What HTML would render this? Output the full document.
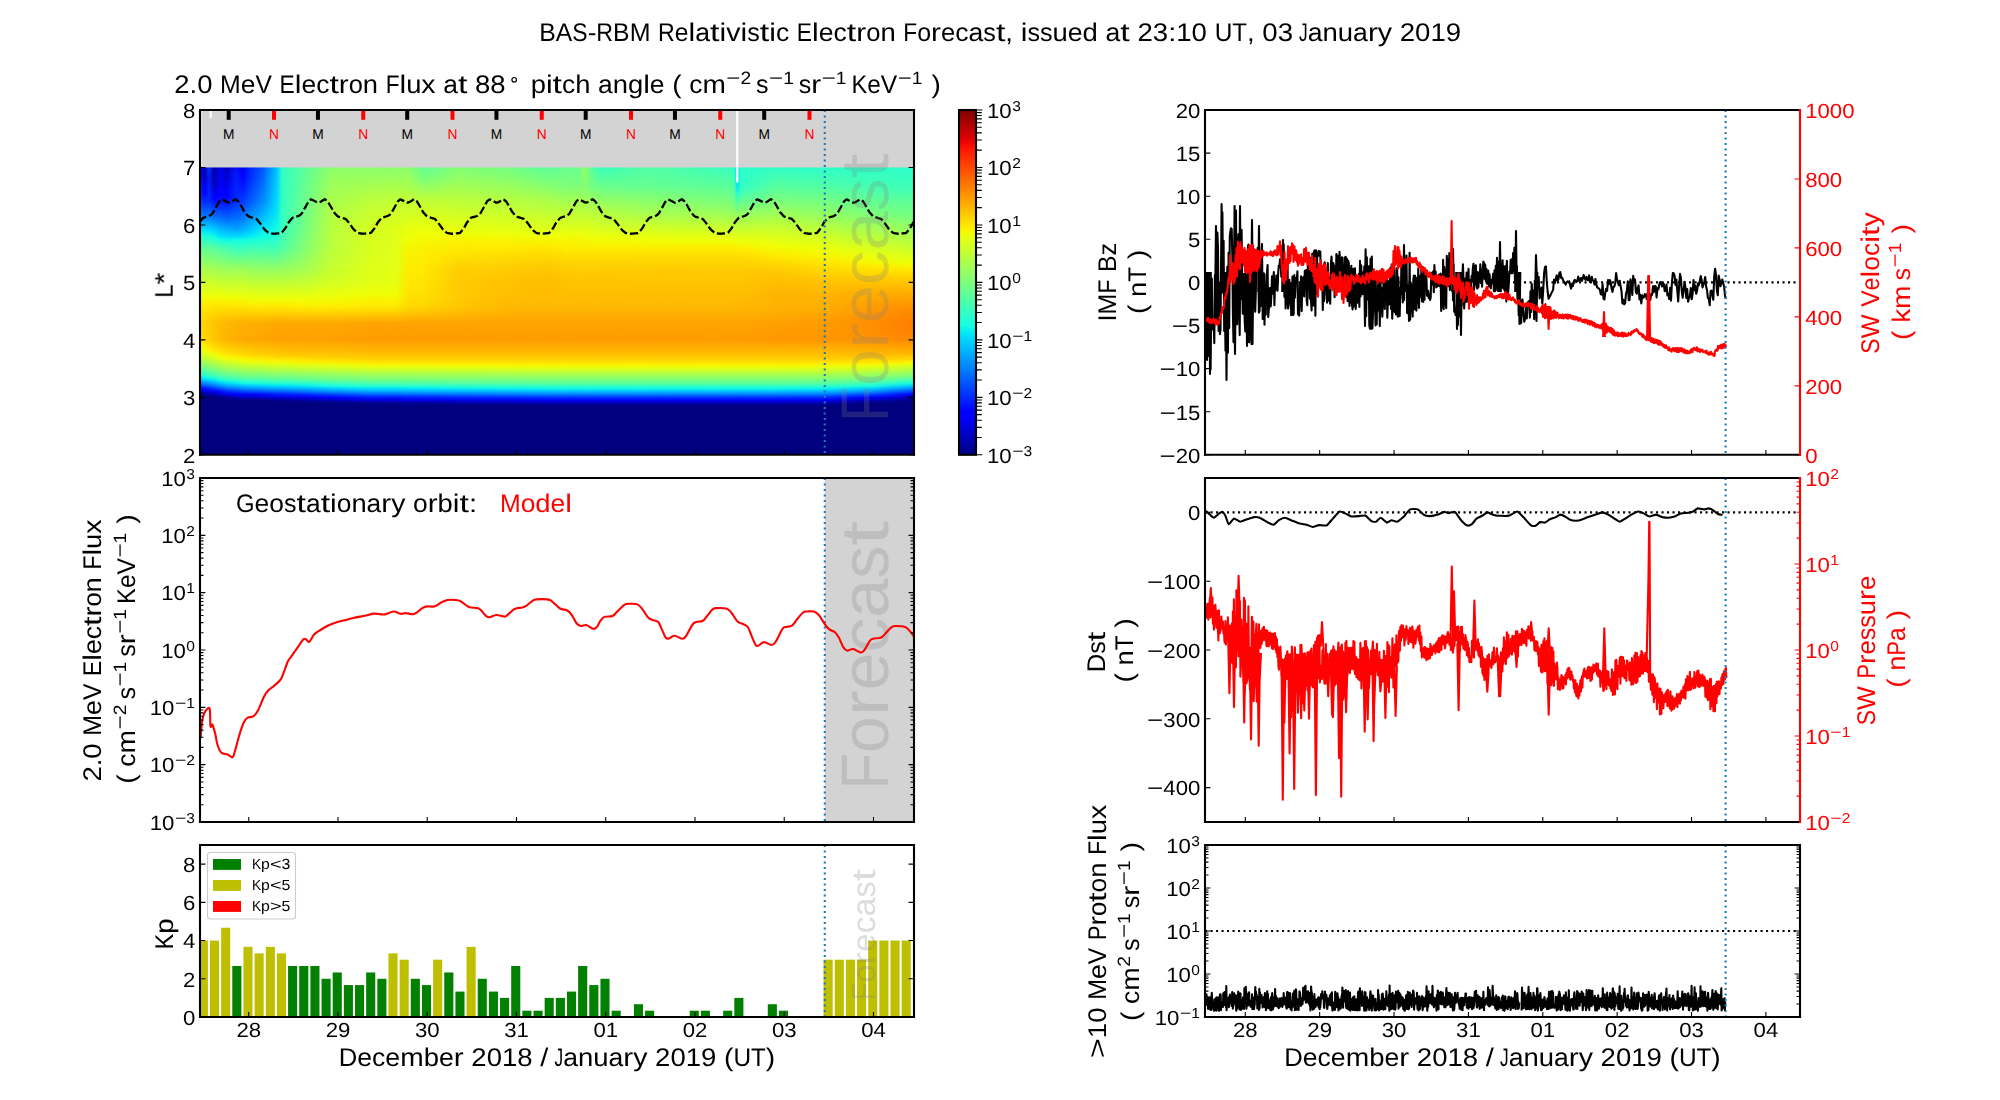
<!DOCTYPE html>
<html><head><meta charset="utf-8"><title>BAS-RBM Relativistic Electron Forecast</title>
<style>html,body{margin:0;padding:0;background:#fff}svg{display:block}text{font-family:"Liberation Sans",sans-serif;text-rendering:geometricPrecision;white-space:pre}</style></head>
<body>
<svg width="2000" height="1100" viewBox="0 0 2000 1100">
<rect width="2000" height="1100" fill="#fff"/>
<defs>
<clipPath id="cp1"><rect x="200.0" y="110.0" width="714.0" height="344.8"/></clipPath>
<clipPath id="cpH"><rect x="200.0" y="163.47" width="714.0" height="291.33"/></clipPath>
<linearGradient id="hg0" gradientUnits="userSpaceOnUse" x1="0" y1="167.47" x2="0" y2="454.80"><stop offset="0.0000" stop-color="#0000ff"/><stop offset="0.0100" stop-color="#0000ff"/><stop offset="0.0200" stop-color="#0000ff"/><stop offset="0.0300" stop-color="#0001ff"/><stop offset="0.0400" stop-color="#0008ff"/><stop offset="0.0500" stop-color="#000eff"/><stop offset="0.0600" stop-color="#0014ff"/><stop offset="0.0700" stop-color="#001bff"/><stop offset="0.0800" stop-color="#0021ff"/><stop offset="0.0900" stop-color="#0028ff"/><stop offset="0.1000" stop-color="#002eff"/><stop offset="0.1100" stop-color="#0034ff"/><stop offset="0.1200" stop-color="#003eff"/><stop offset="0.1300" stop-color="#004cff"/><stop offset="0.1400" stop-color="#005aff"/><stop offset="0.1500" stop-color="#0068ff"/><stop offset="0.1600" stop-color="#0076ff"/><stop offset="0.1700" stop-color="#0084ff"/><stop offset="0.1800" stop-color="#0097ff"/><stop offset="0.1900" stop-color="#00acff"/><stop offset="0.2000" stop-color="#00c2ff"/><stop offset="0.2100" stop-color="#00d7ff"/><stop offset="0.2200" stop-color="#04eaf3"/><stop offset="0.2300" stop-color="#12fce5"/><stop offset="0.2400" stop-color="#21ffd6"/><stop offset="0.2500" stop-color="#31ffc6"/><stop offset="0.2600" stop-color="#40ffb7"/><stop offset="0.2700" stop-color="#50ffa7"/><stop offset="0.2800" stop-color="#60ff97"/><stop offset="0.2900" stop-color="#6aff8c"/><stop offset="0.3000" stop-color="#74ff83"/><stop offset="0.3100" stop-color="#7eff79"/><stop offset="0.3200" stop-color="#88ff6f"/><stop offset="0.3300" stop-color="#91ff65"/><stop offset="0.3400" stop-color="#9bff5c"/><stop offset="0.3500" stop-color="#a5ff52"/><stop offset="0.3600" stop-color="#adff4a"/><stop offset="0.3700" stop-color="#b5ff42"/><stop offset="0.3800" stop-color="#bdff3a"/><stop offset="0.3900" stop-color="#c4ff32"/><stop offset="0.4000" stop-color="#ccff2b"/><stop offset="0.4100" stop-color="#d3ff23"/><stop offset="0.4200" stop-color="#dbff1c"/><stop offset="0.4300" stop-color="#e2ff15"/><stop offset="0.4400" stop-color="#e9ff0e"/><stop offset="0.4500" stop-color="#f0fe07"/><stop offset="0.4600" stop-color="#f5f802"/><stop offset="0.4700" stop-color="#faf100"/><stop offset="0.4800" stop-color="#ffeb00"/><stop offset="0.4900" stop-color="#ffe600"/><stop offset="0.5000" stop-color="#ffe200"/><stop offset="0.5100" stop-color="#ffdf00"/><stop offset="0.5200" stop-color="#ffdb00"/><stop offset="0.5300" stop-color="#ffd800"/><stop offset="0.5400" stop-color="#ffd500"/><stop offset="0.5500" stop-color="#ffd600"/><stop offset="0.5600" stop-color="#ffd800"/><stop offset="0.5700" stop-color="#ffd900"/><stop offset="0.5800" stop-color="#ffdb00"/><stop offset="0.5900" stop-color="#ffdc00"/><stop offset="0.6000" stop-color="#ffde00"/><stop offset="0.6100" stop-color="#ffeb00"/><stop offset="0.6200" stop-color="#f5f802"/><stop offset="0.6300" stop-color="#e9ff0d"/><stop offset="0.6400" stop-color="#deff19"/><stop offset="0.6500" stop-color="#d0ff27"/><stop offset="0.6600" stop-color="#beff39"/><stop offset="0.6700" stop-color="#a7ff50"/><stop offset="0.6800" stop-color="#90ff67"/><stop offset="0.6900" stop-color="#79ff7e"/><stop offset="0.7000" stop-color="#62ff95"/><stop offset="0.7100" stop-color="#4affac"/><stop offset="0.7200" stop-color="#29ffce"/><stop offset="0.7300" stop-color="#05ebf2"/><stop offset="0.7400" stop-color="#00b7ff"/><stop offset="0.7500" stop-color="#0081ff"/><stop offset="0.7600" stop-color="#0041ff"/><stop offset="0.7700" stop-color="#0000ff"/><stop offset="0.7800" stop-color="#0000c7"/><stop offset="0.7900" stop-color="#000080"/><stop offset="0.8000" stop-color="#000080"/><stop offset="0.8100" stop-color="#000080"/><stop offset="0.8200" stop-color="#000080"/><stop offset="0.8300" stop-color="#000080"/><stop offset="0.8400" stop-color="#000080"/><stop offset="0.8500" stop-color="#000080"/><stop offset="0.8600" stop-color="#000080"/><stop offset="0.8700" stop-color="#000080"/><stop offset="1.0000" stop-color="#000080"/></linearGradient>
<linearGradient id="hg1" gradientUnits="userSpaceOnUse" x1="0" y1="167.47" x2="0" y2="454.80"><stop offset="0.0000" stop-color="#0000ae"/><stop offset="0.0100" stop-color="#0000b4"/><stop offset="0.0200" stop-color="#0000b9"/><stop offset="0.0300" stop-color="#0000bf"/><stop offset="0.0400" stop-color="#0000c5"/><stop offset="0.0500" stop-color="#0000d4"/><stop offset="0.0600" stop-color="#0000e4"/><stop offset="0.0700" stop-color="#0000f3"/><stop offset="0.0800" stop-color="#0000ff"/><stop offset="0.0900" stop-color="#0001ff"/><stop offset="0.1000" stop-color="#000eff"/><stop offset="0.1100" stop-color="#001cff"/><stop offset="0.1200" stop-color="#002aff"/><stop offset="0.1300" stop-color="#003aff"/><stop offset="0.1400" stop-color="#004aff"/><stop offset="0.1500" stop-color="#005aff"/><stop offset="0.1600" stop-color="#0069ff"/><stop offset="0.1700" stop-color="#0079ff"/><stop offset="0.1800" stop-color="#008cff"/><stop offset="0.1900" stop-color="#00a2ff"/><stop offset="0.2000" stop-color="#00b7ff"/><stop offset="0.2100" stop-color="#00cdff"/><stop offset="0.2200" stop-color="#00e0fb"/><stop offset="0.2300" stop-color="#0af2ed"/><stop offset="0.2400" stop-color="#19ffde"/><stop offset="0.2500" stop-color="#2affcc"/><stop offset="0.2600" stop-color="#3cffbb"/><stop offset="0.2700" stop-color="#4effa9"/><stop offset="0.2800" stop-color="#5fff98"/><stop offset="0.2900" stop-color="#6aff8c"/><stop offset="0.3000" stop-color="#74ff83"/><stop offset="0.3100" stop-color="#7eff79"/><stop offset="0.3200" stop-color="#88ff6f"/><stop offset="0.3300" stop-color="#91ff65"/><stop offset="0.3400" stop-color="#9bff5c"/><stop offset="0.3500" stop-color="#a5ff52"/><stop offset="0.3600" stop-color="#adff4a"/><stop offset="0.3700" stop-color="#b5ff42"/><stop offset="0.3800" stop-color="#bdff3a"/><stop offset="0.3900" stop-color="#c4ff32"/><stop offset="0.4000" stop-color="#ccff2b"/><stop offset="0.4100" stop-color="#d3ff23"/><stop offset="0.4200" stop-color="#dbff1c"/><stop offset="0.4300" stop-color="#e2ff15"/><stop offset="0.4400" stop-color="#e9ff0e"/><stop offset="0.4500" stop-color="#f0fe07"/><stop offset="0.4600" stop-color="#f6f701"/><stop offset="0.4700" stop-color="#fbf000"/><stop offset="0.4800" stop-color="#ffea00"/><stop offset="0.4900" stop-color="#ffe400"/><stop offset="0.5000" stop-color="#ffe000"/><stop offset="0.5100" stop-color="#ffdc00"/><stop offset="0.5200" stop-color="#ffd800"/><stop offset="0.5300" stop-color="#ffd400"/><stop offset="0.5400" stop-color="#ffd000"/><stop offset="0.5500" stop-color="#ffd100"/><stop offset="0.5600" stop-color="#ffd200"/><stop offset="0.5700" stop-color="#ffd300"/><stop offset="0.5800" stop-color="#ffd400"/><stop offset="0.5900" stop-color="#ffd500"/><stop offset="0.6000" stop-color="#ffd600"/><stop offset="0.6100" stop-color="#ffe200"/><stop offset="0.6200" stop-color="#feed00"/><stop offset="0.6300" stop-color="#f4f802"/><stop offset="0.6400" stop-color="#eaff0c"/><stop offset="0.6500" stop-color="#dcff1b"/><stop offset="0.6600" stop-color="#ccff2b"/><stop offset="0.6700" stop-color="#b4ff43"/><stop offset="0.6800" stop-color="#9cff5a"/><stop offset="0.6900" stop-color="#85ff72"/><stop offset="0.7000" stop-color="#6dff89"/><stop offset="0.7100" stop-color="#56ffa1"/><stop offset="0.7200" stop-color="#36ffc0"/><stop offset="0.7300" stop-color="#12fbe5"/><stop offset="0.7400" stop-color="#00c8ff"/><stop offset="0.7500" stop-color="#0091ff"/><stop offset="0.7600" stop-color="#0052ff"/><stop offset="0.7700" stop-color="#000fff"/><stop offset="0.7800" stop-color="#0000d7"/><stop offset="0.7900" stop-color="#00008e"/><stop offset="0.8000" stop-color="#000080"/><stop offset="0.8100" stop-color="#000080"/><stop offset="0.8200" stop-color="#000080"/><stop offset="0.8300" stop-color="#000080"/><stop offset="0.8400" stop-color="#000080"/><stop offset="0.8500" stop-color="#000080"/><stop offset="0.8600" stop-color="#000080"/><stop offset="0.8700" stop-color="#000080"/><stop offset="1.0000" stop-color="#000080"/></linearGradient>
<linearGradient id="mg1" gradientUnits="userSpaceOnUse" x1="200" y1="0" x2="205" y2="0"><stop offset="0" stop-color="#000"/><stop offset="1" stop-color="#fff"/></linearGradient>
<mask id="mk1" maskUnits="userSpaceOnUse" x="200" y="161.47" width="718.0" height="297.33"><rect x="200" y="161.47" width="718.0" height="297.33" fill="url(#mg1)"/></mask>
<linearGradient id="hg2" gradientUnits="userSpaceOnUse" x1="0" y1="167.47" x2="0" y2="454.80"><stop offset="0.0000" stop-color="#002eff"/><stop offset="0.0100" stop-color="#0029ff"/><stop offset="0.0200" stop-color="#0024ff"/><stop offset="0.0300" stop-color="#001fff"/><stop offset="0.0400" stop-color="#001aff"/><stop offset="0.0500" stop-color="#001cff"/><stop offset="0.0600" stop-color="#001fff"/><stop offset="0.0700" stop-color="#0022ff"/><stop offset="0.0800" stop-color="#0024ff"/><stop offset="0.0900" stop-color="#0027ff"/><stop offset="0.1000" stop-color="#002aff"/><stop offset="0.1100" stop-color="#002cff"/><stop offset="0.1200" stop-color="#0034ff"/><stop offset="0.1300" stop-color="#0042ff"/><stop offset="0.1400" stop-color="#0050ff"/><stop offset="0.1500" stop-color="#005eff"/><stop offset="0.1600" stop-color="#006cff"/><stop offset="0.1700" stop-color="#007aff"/><stop offset="0.1800" stop-color="#008cff"/><stop offset="0.1900" stop-color="#00a2ff"/><stop offset="0.2000" stop-color="#00b7ff"/><stop offset="0.2100" stop-color="#00cdff"/><stop offset="0.2200" stop-color="#00e0fb"/><stop offset="0.2300" stop-color="#0af2ed"/><stop offset="0.2400" stop-color="#19ffde"/><stop offset="0.2500" stop-color="#29ffcd"/><stop offset="0.2600" stop-color="#3affbd"/><stop offset="0.2700" stop-color="#4bffac"/><stop offset="0.2800" stop-color="#5bff9c"/><stop offset="0.2900" stop-color="#67ff90"/><stop offset="0.3000" stop-color="#71ff86"/><stop offset="0.3100" stop-color="#7bff7b"/><stop offset="0.3200" stop-color="#86ff71"/><stop offset="0.3300" stop-color="#90ff67"/><stop offset="0.3400" stop-color="#9aff5d"/><stop offset="0.3500" stop-color="#a5ff52"/><stop offset="0.3600" stop-color="#adff4a"/><stop offset="0.3700" stop-color="#b5ff42"/><stop offset="0.3800" stop-color="#bdff3a"/><stop offset="0.3900" stop-color="#c4ff32"/><stop offset="0.4000" stop-color="#ccff2b"/><stop offset="0.4100" stop-color="#d3ff23"/><stop offset="0.4200" stop-color="#dbff1c"/><stop offset="0.4300" stop-color="#e2ff15"/><stop offset="0.4400" stop-color="#e9ff0e"/><stop offset="0.4500" stop-color="#f0fe07"/><stop offset="0.4600" stop-color="#f6f701"/><stop offset="0.4700" stop-color="#fcf000"/><stop offset="0.4800" stop-color="#ffe900"/><stop offset="0.4900" stop-color="#ffe300"/><stop offset="0.5000" stop-color="#ffde00"/><stop offset="0.5100" stop-color="#ffd900"/><stop offset="0.5200" stop-color="#ffd500"/><stop offset="0.5300" stop-color="#ffd000"/><stop offset="0.5400" stop-color="#ffcb00"/><stop offset="0.5500" stop-color="#ffcc00"/><stop offset="0.5600" stop-color="#ffcd00"/><stop offset="0.5700" stop-color="#ffcd00"/><stop offset="0.5800" stop-color="#ffce00"/><stop offset="0.5900" stop-color="#ffcf00"/><stop offset="0.6000" stop-color="#ffd000"/><stop offset="0.6100" stop-color="#ffda00"/><stop offset="0.6200" stop-color="#ffe500"/><stop offset="0.6300" stop-color="#fcf000"/><stop offset="0.6400" stop-color="#f3fa04"/><stop offset="0.6500" stop-color="#e4ff13"/><stop offset="0.6600" stop-color="#d5ff21"/><stop offset="0.6700" stop-color="#beff39"/><stop offset="0.6800" stop-color="#a6ff51"/><stop offset="0.6900" stop-color="#8eff69"/><stop offset="0.7000" stop-color="#76ff81"/><stop offset="0.7100" stop-color="#5eff98"/><stop offset="0.7200" stop-color="#41ffb5"/><stop offset="0.7300" stop-color="#1cffdb"/><stop offset="0.7400" stop-color="#00d6ff"/><stop offset="0.7500" stop-color="#009eff"/><stop offset="0.7600" stop-color="#0062ff"/><stop offset="0.7700" stop-color="#001eff"/><stop offset="0.7800" stop-color="#0000e6"/><stop offset="0.7900" stop-color="#00009d"/><stop offset="0.8000" stop-color="#000080"/><stop offset="0.8100" stop-color="#000080"/><stop offset="0.8200" stop-color="#000080"/><stop offset="0.8300" stop-color="#000080"/><stop offset="0.8400" stop-color="#000080"/><stop offset="0.8500" stop-color="#000080"/><stop offset="0.8600" stop-color="#000080"/><stop offset="0.8700" stop-color="#000080"/><stop offset="1.0000" stop-color="#000080"/></linearGradient>
<linearGradient id="mg2" gradientUnits="userSpaceOnUse" x1="205" y1="0" x2="209" y2="0"><stop offset="0" stop-color="#000"/><stop offset="1" stop-color="#fff"/></linearGradient>
<mask id="mk2" maskUnits="userSpaceOnUse" x="205" y="161.47" width="713.0" height="297.33"><rect x="205" y="161.47" width="713.0" height="297.33" fill="url(#mg2)"/></mask>
<linearGradient id="hg3" gradientUnits="userSpaceOnUse" x1="0" y1="167.47" x2="0" y2="454.80"><stop offset="0.0000" stop-color="#000097"/><stop offset="0.0100" stop-color="#00009c"/><stop offset="0.0200" stop-color="#0000a2"/><stop offset="0.0300" stop-color="#0000a8"/><stop offset="0.0400" stop-color="#0000ae"/><stop offset="0.0500" stop-color="#0000b4"/><stop offset="0.0600" stop-color="#0000b9"/><stop offset="0.0700" stop-color="#0000cc"/><stop offset="0.0800" stop-color="#0000df"/><stop offset="0.0900" stop-color="#0000f1"/><stop offset="0.1000" stop-color="#0000ff"/><stop offset="0.1100" stop-color="#0005ff"/><stop offset="0.1200" stop-color="#0016ff"/><stop offset="0.1300" stop-color="#0028ff"/><stop offset="0.1400" stop-color="#003aff"/><stop offset="0.1500" stop-color="#004bff"/><stop offset="0.1600" stop-color="#005dff"/><stop offset="0.1700" stop-color="#006eff"/><stop offset="0.1800" stop-color="#0082ff"/><stop offset="0.1900" stop-color="#0098ff"/><stop offset="0.2000" stop-color="#00adff"/><stop offset="0.2100" stop-color="#00c3ff"/><stop offset="0.2200" stop-color="#00d5ff"/><stop offset="0.2300" stop-color="#02e8f5"/><stop offset="0.2400" stop-color="#10fae6"/><stop offset="0.2500" stop-color="#22ffd5"/><stop offset="0.2600" stop-color="#34ffc3"/><stop offset="0.2700" stop-color="#45ffb1"/><stop offset="0.2800" stop-color="#57ffa0"/><stop offset="0.2900" stop-color="#63ff94"/><stop offset="0.3000" stop-color="#6dff8a"/><stop offset="0.3100" stop-color="#77ff80"/><stop offset="0.3200" stop-color="#82ff75"/><stop offset="0.3300" stop-color="#8cff6b"/><stop offset="0.3400" stop-color="#96ff61"/><stop offset="0.3500" stop-color="#a0ff56"/><stop offset="0.3600" stop-color="#aaff4d"/><stop offset="0.3700" stop-color="#b2ff45"/><stop offset="0.3800" stop-color="#bbff3c"/><stop offset="0.3900" stop-color="#c3ff33"/><stop offset="0.4000" stop-color="#ccff2b"/><stop offset="0.4100" stop-color="#d3ff23"/><stop offset="0.4200" stop-color="#dbff1c"/><stop offset="0.4300" stop-color="#e2ff15"/><stop offset="0.4400" stop-color="#e9ff0e"/><stop offset="0.4500" stop-color="#f0fe07"/><stop offset="0.4600" stop-color="#f6f600"/><stop offset="0.4700" stop-color="#fdef00"/><stop offset="0.4800" stop-color="#ffe700"/><stop offset="0.4900" stop-color="#ffe100"/><stop offset="0.5000" stop-color="#ffdb00"/><stop offset="0.5100" stop-color="#ffd600"/><stop offset="0.5200" stop-color="#ffd100"/><stop offset="0.5300" stop-color="#ffcc00"/><stop offset="0.5400" stop-color="#ffc600"/><stop offset="0.5500" stop-color="#ffc600"/><stop offset="0.5600" stop-color="#ffc600"/><stop offset="0.5700" stop-color="#ffc600"/><stop offset="0.5800" stop-color="#ffc600"/><stop offset="0.5900" stop-color="#ffc600"/><stop offset="0.6000" stop-color="#ffc600"/><stop offset="0.6100" stop-color="#ffd000"/><stop offset="0.6200" stop-color="#ffd900"/><stop offset="0.6300" stop-color="#ffe300"/><stop offset="0.6400" stop-color="#ffec00"/><stop offset="0.6500" stop-color="#f0fd07"/><stop offset="0.6600" stop-color="#e1ff16"/><stop offset="0.6700" stop-color="#cbff2c"/><stop offset="0.6800" stop-color="#b3ff44"/><stop offset="0.6900" stop-color="#9aff5c"/><stop offset="0.7000" stop-color="#82ff75"/><stop offset="0.7100" stop-color="#6aff8d"/><stop offset="0.7200" stop-color="#4fffa8"/><stop offset="0.7300" stop-color="#29ffce"/><stop offset="0.7400" stop-color="#02e8f5"/><stop offset="0.7500" stop-color="#00afff"/><stop offset="0.7600" stop-color="#0074ff"/><stop offset="0.7700" stop-color="#002eff"/><stop offset="0.7800" stop-color="#0000f7"/><stop offset="0.7900" stop-color="#0000ac"/><stop offset="0.8000" stop-color="#000080"/><stop offset="0.8100" stop-color="#000080"/><stop offset="0.8200" stop-color="#000080"/><stop offset="0.8300" stop-color="#000080"/><stop offset="0.8400" stop-color="#000080"/><stop offset="0.8500" stop-color="#000080"/><stop offset="0.8600" stop-color="#000080"/><stop offset="0.8700" stop-color="#000080"/><stop offset="1.0000" stop-color="#000080"/></linearGradient>
<linearGradient id="mg3" gradientUnits="userSpaceOnUse" x1="209" y1="0" x2="214" y2="0"><stop offset="0" stop-color="#000"/><stop offset="1" stop-color="#fff"/></linearGradient>
<mask id="mk3" maskUnits="userSpaceOnUse" x="209" y="161.47" width="709.0" height="297.33"><rect x="209" y="161.47" width="709.0" height="297.33" fill="url(#mg3)"/></mask>
<linearGradient id="hg4" gradientUnits="userSpaceOnUse" x1="0" y1="167.47" x2="0" y2="454.80"><stop offset="0.0000" stop-color="#0000f3"/><stop offset="0.0100" stop-color="#0000f3"/><stop offset="0.0200" stop-color="#0000f3"/><stop offset="0.0300" stop-color="#0000f3"/><stop offset="0.0400" stop-color="#0000f3"/><stop offset="0.0500" stop-color="#0000f3"/><stop offset="0.0600" stop-color="#0000f3"/><stop offset="0.0700" stop-color="#0000fc"/><stop offset="0.0800" stop-color="#0000ff"/><stop offset="0.0900" stop-color="#0000ff"/><stop offset="0.1000" stop-color="#0004ff"/><stop offset="0.1100" stop-color="#000bff"/><stop offset="0.1200" stop-color="#0016ff"/><stop offset="0.1300" stop-color="#0025ff"/><stop offset="0.1400" stop-color="#0035ff"/><stop offset="0.1500" stop-color="#0045ff"/><stop offset="0.1600" stop-color="#0055ff"/><stop offset="0.1700" stop-color="#0065ff"/><stop offset="0.1800" stop-color="#0076ff"/><stop offset="0.1900" stop-color="#0089ff"/><stop offset="0.2000" stop-color="#009cff"/><stop offset="0.2100" stop-color="#00afff"/><stop offset="0.2200" stop-color="#00c1ff"/><stop offset="0.2300" stop-color="#00d3ff"/><stop offset="0.2400" stop-color="#00e5f7"/><stop offset="0.2500" stop-color="#14fee3"/><stop offset="0.2600" stop-color="#27ffd0"/><stop offset="0.2700" stop-color="#3bffbc"/><stop offset="0.2800" stop-color="#4effa8"/><stop offset="0.2900" stop-color="#5bff9c"/><stop offset="0.3000" stop-color="#66ff91"/><stop offset="0.3100" stop-color="#71ff86"/><stop offset="0.3200" stop-color="#7cff7b"/><stop offset="0.3300" stop-color="#86ff70"/><stop offset="0.3400" stop-color="#91ff66"/><stop offset="0.3500" stop-color="#9cff5b"/><stop offset="0.3600" stop-color="#a6ff51"/><stop offset="0.3700" stop-color="#aeff49"/><stop offset="0.3800" stop-color="#b7ff40"/><stop offset="0.3900" stop-color="#bfff38"/><stop offset="0.4000" stop-color="#c8ff2f"/><stop offset="0.4100" stop-color="#d0ff27"/><stop offset="0.4200" stop-color="#d8ff1f"/><stop offset="0.4300" stop-color="#e0ff17"/><stop offset="0.4400" stop-color="#e8ff0f"/><stop offset="0.4500" stop-color="#f0fe07"/><stop offset="0.4600" stop-color="#f6f600"/><stop offset="0.4700" stop-color="#fdef00"/><stop offset="0.4800" stop-color="#ffe700"/><stop offset="0.4900" stop-color="#ffe000"/><stop offset="0.5000" stop-color="#ffd900"/><stop offset="0.5100" stop-color="#ffd200"/><stop offset="0.5200" stop-color="#ffcb00"/><stop offset="0.5300" stop-color="#ffc400"/><stop offset="0.5400" stop-color="#ffbd00"/><stop offset="0.5500" stop-color="#ffbd00"/><stop offset="0.5600" stop-color="#ffbd00"/><stop offset="0.5700" stop-color="#ffbd00"/><stop offset="0.5800" stop-color="#ffbd00"/><stop offset="0.5900" stop-color="#ffbd00"/><stop offset="0.6000" stop-color="#ffbd00"/><stop offset="0.6100" stop-color="#ffc600"/><stop offset="0.6200" stop-color="#ffd000"/><stop offset="0.6300" stop-color="#ffd900"/><stop offset="0.6400" stop-color="#ffe300"/><stop offset="0.6500" stop-color="#faf200"/><stop offset="0.6600" stop-color="#ebff0c"/><stop offset="0.6700" stop-color="#d8ff1f"/><stop offset="0.6800" stop-color="#c0ff37"/><stop offset="0.6900" stop-color="#a7ff50"/><stop offset="0.7000" stop-color="#8fff68"/><stop offset="0.7100" stop-color="#76ff80"/><stop offset="0.7200" stop-color="#5eff99"/><stop offset="0.7300" stop-color="#3bffbc"/><stop offset="0.7400" stop-color="#15ffe2"/><stop offset="0.7500" stop-color="#00c8ff"/><stop offset="0.7600" stop-color="#008fff"/><stop offset="0.7700" stop-color="#004bff"/><stop offset="0.7800" stop-color="#0006ff"/><stop offset="0.7900" stop-color="#0000cb"/><stop offset="0.8000" stop-color="#000080"/><stop offset="0.8100" stop-color="#000080"/><stop offset="0.8200" stop-color="#000080"/><stop offset="0.8300" stop-color="#000080"/><stop offset="0.8400" stop-color="#000080"/><stop offset="0.8500" stop-color="#000080"/><stop offset="0.8600" stop-color="#000080"/><stop offset="0.8700" stop-color="#000080"/><stop offset="1.0000" stop-color="#000080"/></linearGradient>
<linearGradient id="mg4" gradientUnits="userSpaceOnUse" x1="214" y1="0" x2="220" y2="0"><stop offset="0" stop-color="#000"/><stop offset="1" stop-color="#fff"/></linearGradient>
<mask id="mk4" maskUnits="userSpaceOnUse" x="214" y="161.47" width="704.0" height="297.33"><rect x="214" y="161.47" width="704.0" height="297.33" fill="url(#mg4)"/></mask>
<linearGradient id="hg5" gradientUnits="userSpaceOnUse" x1="0" y1="167.47" x2="0" y2="454.80"><stop offset="0.0000" stop-color="#0000b9"/><stop offset="0.0100" stop-color="#0000c1"/><stop offset="0.0200" stop-color="#0000c9"/><stop offset="0.0300" stop-color="#0000d1"/><stop offset="0.0400" stop-color="#0000d8"/><stop offset="0.0500" stop-color="#0000e0"/><stop offset="0.0600" stop-color="#0000e8"/><stop offset="0.0700" stop-color="#0000f2"/><stop offset="0.0800" stop-color="#0000fd"/><stop offset="0.0900" stop-color="#0000ff"/><stop offset="0.1000" stop-color="#0001ff"/><stop offset="0.1100" stop-color="#000aff"/><stop offset="0.1200" stop-color="#0015ff"/><stop offset="0.1300" stop-color="#0023ff"/><stop offset="0.1400" stop-color="#0031ff"/><stop offset="0.1500" stop-color="#003fff"/><stop offset="0.1600" stop-color="#004dff"/><stop offset="0.1700" stop-color="#005bff"/><stop offset="0.1800" stop-color="#006cff"/><stop offset="0.1900" stop-color="#007fff"/><stop offset="0.2000" stop-color="#0092ff"/><stop offset="0.2100" stop-color="#00a5ff"/><stop offset="0.2200" stop-color="#00b7ff"/><stop offset="0.2300" stop-color="#00c9ff"/><stop offset="0.2400" stop-color="#00dbff"/><stop offset="0.2500" stop-color="#0bf4eb"/><stop offset="0.2600" stop-color="#1fffd8"/><stop offset="0.2700" stop-color="#33ffc4"/><stop offset="0.2800" stop-color="#46ffb1"/><stop offset="0.2900" stop-color="#53ffa4"/><stop offset="0.3000" stop-color="#5fff98"/><stop offset="0.3100" stop-color="#6aff8d"/><stop offset="0.3200" stop-color="#75ff81"/><stop offset="0.3300" stop-color="#81ff76"/><stop offset="0.3400" stop-color="#8cff6a"/><stop offset="0.3500" stop-color="#98ff5f"/><stop offset="0.3600" stop-color="#a1ff55"/><stop offset="0.3700" stop-color="#aaff4d"/><stop offset="0.3800" stop-color="#b3ff44"/><stop offset="0.3900" stop-color="#bbff3c"/><stop offset="0.4000" stop-color="#c4ff33"/><stop offset="0.4100" stop-color="#ccff2b"/><stop offset="0.4200" stop-color="#d5ff22"/><stop offset="0.4300" stop-color="#ddff1a"/><stop offset="0.4400" stop-color="#e5ff11"/><stop offset="0.4500" stop-color="#eeff09"/><stop offset="0.4600" stop-color="#f5f802"/><stop offset="0.4700" stop-color="#fcf000"/><stop offset="0.4800" stop-color="#ffe800"/><stop offset="0.4900" stop-color="#ffe000"/><stop offset="0.5000" stop-color="#ffd800"/><stop offset="0.5100" stop-color="#ffd000"/><stop offset="0.5200" stop-color="#ffc800"/><stop offset="0.5300" stop-color="#ffc000"/><stop offset="0.5400" stop-color="#ffb800"/><stop offset="0.5500" stop-color="#ffb700"/><stop offset="0.5600" stop-color="#ffb700"/><stop offset="0.5700" stop-color="#ffb600"/><stop offset="0.5800" stop-color="#ffb500"/><stop offset="0.5900" stop-color="#ffb400"/><stop offset="0.6000" stop-color="#ffb300"/><stop offset="0.6100" stop-color="#ffbd00"/><stop offset="0.6200" stop-color="#ffc600"/><stop offset="0.6300" stop-color="#ffd000"/><stop offset="0.6400" stop-color="#ffd900"/><stop offset="0.6500" stop-color="#ffe500"/><stop offset="0.6600" stop-color="#f6f701"/><stop offset="0.6700" stop-color="#e7ff10"/><stop offset="0.6800" stop-color="#ceff29"/><stop offset="0.6900" stop-color="#b5ff41"/><stop offset="0.7000" stop-color="#9dff5a"/><stop offset="0.7100" stop-color="#84ff73"/><stop offset="0.7200" stop-color="#6cff8b"/><stop offset="0.7300" stop-color="#4effa9"/><stop offset="0.7400" stop-color="#27ffd0"/><stop offset="0.7500" stop-color="#00e2f9"/><stop offset="0.7600" stop-color="#00a8ff"/><stop offset="0.7700" stop-color="#006aff"/><stop offset="0.7800" stop-color="#0023ff"/><stop offset="0.7900" stop-color="#0000ea"/><stop offset="0.8000" stop-color="#00009e"/><stop offset="0.8100" stop-color="#000080"/><stop offset="0.8200" stop-color="#000080"/><stop offset="0.8300" stop-color="#000080"/><stop offset="0.8400" stop-color="#000080"/><stop offset="0.8500" stop-color="#000080"/><stop offset="0.8600" stop-color="#000080"/><stop offset="0.8700" stop-color="#000080"/><stop offset="1.0000" stop-color="#000080"/></linearGradient>
<linearGradient id="mg5" gradientUnits="userSpaceOnUse" x1="220" y1="0" x2="227" y2="0"><stop offset="0" stop-color="#000"/><stop offset="1" stop-color="#fff"/></linearGradient>
<mask id="mk5" maskUnits="userSpaceOnUse" x="220" y="161.47" width="698.0" height="297.33"><rect x="220" y="161.47" width="698.0" height="297.33" fill="url(#mg5)"/></mask>
<linearGradient id="hg6" gradientUnits="userSpaceOnUse" x1="0" y1="167.47" x2="0" y2="454.80"><stop offset="0.0000" stop-color="#000fff"/><stop offset="0.0100" stop-color="#0014ff"/><stop offset="0.0200" stop-color="#0019ff"/><stop offset="0.0300" stop-color="#001cff"/><stop offset="0.0400" stop-color="#001eff"/><stop offset="0.0500" stop-color="#0020ff"/><stop offset="0.0600" stop-color="#0022ff"/><stop offset="0.0700" stop-color="#0024ff"/><stop offset="0.0800" stop-color="#0026ff"/><stop offset="0.0900" stop-color="#0028ff"/><stop offset="0.1000" stop-color="#002aff"/><stop offset="0.1100" stop-color="#002dff"/><stop offset="0.1200" stop-color="#0032ff"/><stop offset="0.1300" stop-color="#003dff"/><stop offset="0.1400" stop-color="#0047ff"/><stop offset="0.1500" stop-color="#0052ff"/><stop offset="0.1600" stop-color="#005cff"/><stop offset="0.1700" stop-color="#0067ff"/><stop offset="0.1800" stop-color="#0073ff"/><stop offset="0.1900" stop-color="#0081ff"/><stop offset="0.2000" stop-color="#008eff"/><stop offset="0.2100" stop-color="#009bff"/><stop offset="0.2200" stop-color="#00b0ff"/><stop offset="0.2300" stop-color="#00c5ff"/><stop offset="0.2400" stop-color="#00dbff"/><stop offset="0.2500" stop-color="#0ff8e7"/><stop offset="0.2600" stop-color="#20ffd7"/><stop offset="0.2700" stop-color="#2dffca"/><stop offset="0.2800" stop-color="#39ffbe"/><stop offset="0.2900" stop-color="#46ffb1"/><stop offset="0.3000" stop-color="#52ffa5"/><stop offset="0.3100" stop-color="#60ff97"/><stop offset="0.3200" stop-color="#6eff89"/><stop offset="0.3300" stop-color="#7bff7b"/><stop offset="0.3400" stop-color="#89ff6e"/><stop offset="0.3500" stop-color="#97ff60"/><stop offset="0.3600" stop-color="#a1ff55"/><stop offset="0.3700" stop-color="#aaff4d"/><stop offset="0.3800" stop-color="#b3ff44"/><stop offset="0.3900" stop-color="#bbff3c"/><stop offset="0.4000" stop-color="#c4ff33"/><stop offset="0.4100" stop-color="#ccff2b"/><stop offset="0.4200" stop-color="#d4ff23"/><stop offset="0.4300" stop-color="#dcff1b"/><stop offset="0.4400" stop-color="#e4ff13"/><stop offset="0.4500" stop-color="#ecff0b"/><stop offset="0.4600" stop-color="#f4f903"/><stop offset="0.4700" stop-color="#fbf100"/><stop offset="0.4800" stop-color="#ffe800"/><stop offset="0.4900" stop-color="#ffdf00"/><stop offset="0.5000" stop-color="#ffd600"/><stop offset="0.5100" stop-color="#ffce00"/><stop offset="0.5200" stop-color="#ffc500"/><stop offset="0.5300" stop-color="#ffbc00"/><stop offset="0.5400" stop-color="#ffb300"/><stop offset="0.5500" stop-color="#ffb300"/><stop offset="0.5600" stop-color="#ffb200"/><stop offset="0.5700" stop-color="#ffb100"/><stop offset="0.5800" stop-color="#ffb000"/><stop offset="0.5900" stop-color="#ffb000"/><stop offset="0.6000" stop-color="#ffaf00"/><stop offset="0.6100" stop-color="#ffb800"/><stop offset="0.6200" stop-color="#ffc200"/><stop offset="0.6300" stop-color="#ffcb00"/><stop offset="0.6400" stop-color="#ffd400"/><stop offset="0.6500" stop-color="#ffdf00"/><stop offset="0.6600" stop-color="#fbf000"/><stop offset="0.6700" stop-color="#ecff0b"/><stop offset="0.6800" stop-color="#d5ff21"/><stop offset="0.6900" stop-color="#bdff3a"/><stop offset="0.7000" stop-color="#a4ff53"/><stop offset="0.7100" stop-color="#8bff6c"/><stop offset="0.7200" stop-color="#72ff84"/><stop offset="0.7300" stop-color="#57ffa0"/><stop offset="0.7400" stop-color="#30ffc6"/><stop offset="0.7500" stop-color="#08efef"/><stop offset="0.7600" stop-color="#00b5ff"/><stop offset="0.7700" stop-color="#0079ff"/><stop offset="0.7800" stop-color="#0032ff"/><stop offset="0.7900" stop-color="#0000fa"/><stop offset="0.8000" stop-color="#0000ad"/><stop offset="0.8100" stop-color="#000080"/><stop offset="0.8200" stop-color="#000080"/><stop offset="0.8300" stop-color="#000080"/><stop offset="0.8400" stop-color="#000080"/><stop offset="0.8500" stop-color="#000080"/><stop offset="0.8600" stop-color="#000080"/><stop offset="0.8700" stop-color="#000080"/><stop offset="1.0000" stop-color="#000080"/></linearGradient>
<linearGradient id="mg6" gradientUnits="userSpaceOnUse" x1="227" y1="0" x2="236" y2="0"><stop offset="0" stop-color="#000"/><stop offset="1" stop-color="#fff"/></linearGradient>
<mask id="mk6" maskUnits="userSpaceOnUse" x="227" y="161.47" width="691.0" height="297.33"><rect x="227" y="161.47" width="691.0" height="297.33" fill="url(#mg6)"/></mask>
<linearGradient id="hg7" gradientUnits="userSpaceOnUse" x1="0" y1="167.47" x2="0" y2="454.80"><stop offset="0.0000" stop-color="#0000e8"/><stop offset="0.0100" stop-color="#0000f3"/><stop offset="0.0200" stop-color="#0000ff"/><stop offset="0.0300" stop-color="#0000ff"/><stop offset="0.0400" stop-color="#0005ff"/><stop offset="0.0500" stop-color="#000cff"/><stop offset="0.0600" stop-color="#0013ff"/><stop offset="0.0700" stop-color="#0019ff"/><stop offset="0.0800" stop-color="#0020ff"/><stop offset="0.0900" stop-color="#0027ff"/><stop offset="0.1000" stop-color="#002dff"/><stop offset="0.1100" stop-color="#0034ff"/><stop offset="0.1200" stop-color="#003cff"/><stop offset="0.1300" stop-color="#0047ff"/><stop offset="0.1400" stop-color="#0051ff"/><stop offset="0.1500" stop-color="#005cff"/><stop offset="0.1600" stop-color="#0067ff"/><stop offset="0.1700" stop-color="#0071ff"/><stop offset="0.1800" stop-color="#007dff"/><stop offset="0.1900" stop-color="#008bff"/><stop offset="0.2000" stop-color="#0098ff"/><stop offset="0.2100" stop-color="#00a6ff"/><stop offset="0.2200" stop-color="#00b8ff"/><stop offset="0.2300" stop-color="#00ccff"/><stop offset="0.2400" stop-color="#00e0fb"/><stop offset="0.2500" stop-color="#10fae6"/><stop offset="0.2600" stop-color="#20ffd7"/><stop offset="0.2700" stop-color="#2dffca"/><stop offset="0.2800" stop-color="#39ffbe"/><stop offset="0.2900" stop-color="#46ffb1"/><stop offset="0.3000" stop-color="#52ffa5"/><stop offset="0.3100" stop-color="#60ff97"/><stop offset="0.3200" stop-color="#6eff89"/><stop offset="0.3300" stop-color="#7bff7b"/><stop offset="0.3400" stop-color="#89ff6e"/><stop offset="0.3500" stop-color="#97ff60"/><stop offset="0.3600" stop-color="#a1ff55"/><stop offset="0.3700" stop-color="#aaff4d"/><stop offset="0.3800" stop-color="#b3ff44"/><stop offset="0.3900" stop-color="#bbff3c"/><stop offset="0.4000" stop-color="#c4ff33"/><stop offset="0.4100" stop-color="#ccff2b"/><stop offset="0.4200" stop-color="#d4ff23"/><stop offset="0.4300" stop-color="#dcff1b"/><stop offset="0.4400" stop-color="#e4ff13"/><stop offset="0.4500" stop-color="#ecff0b"/><stop offset="0.4600" stop-color="#f4f903"/><stop offset="0.4700" stop-color="#fbf100"/><stop offset="0.4800" stop-color="#ffe800"/><stop offset="0.4900" stop-color="#ffdf00"/><stop offset="0.5000" stop-color="#ffd600"/><stop offset="0.5100" stop-color="#ffcd00"/><stop offset="0.5200" stop-color="#ffc400"/><stop offset="0.5300" stop-color="#ffbb00"/><stop offset="0.5400" stop-color="#ffb200"/><stop offset="0.5500" stop-color="#ffb000"/><stop offset="0.5600" stop-color="#ffaf00"/><stop offset="0.5700" stop-color="#ffae00"/><stop offset="0.5800" stop-color="#ffad00"/><stop offset="0.5900" stop-color="#ffab00"/><stop offset="0.6000" stop-color="#ffaa00"/><stop offset="0.6100" stop-color="#ffb300"/><stop offset="0.6200" stop-color="#ffbd00"/><stop offset="0.6300" stop-color="#ffc600"/><stop offset="0.6400" stop-color="#ffd000"/><stop offset="0.6500" stop-color="#ffd800"/><stop offset="0.6600" stop-color="#ffea00"/><stop offset="0.6700" stop-color="#f2fb05"/><stop offset="0.6800" stop-color="#ddff1a"/><stop offset="0.6900" stop-color="#c4ff33"/><stop offset="0.7000" stop-color="#abff4c"/><stop offset="0.7100" stop-color="#92ff65"/><stop offset="0.7200" stop-color="#79ff7d"/><stop offset="0.7300" stop-color="#61ff96"/><stop offset="0.7400" stop-color="#3affbd"/><stop offset="0.7500" stop-color="#13fde4"/><stop offset="0.7600" stop-color="#00c3ff"/><stop offset="0.7700" stop-color="#0088ff"/><stop offset="0.7800" stop-color="#0041ff"/><stop offset="0.7900" stop-color="#0000ff"/><stop offset="0.8000" stop-color="#0000bd"/><stop offset="0.8100" stop-color="#000080"/><stop offset="0.8200" stop-color="#000080"/><stop offset="0.8300" stop-color="#000080"/><stop offset="0.8400" stop-color="#000080"/><stop offset="0.8500" stop-color="#000080"/><stop offset="0.8600" stop-color="#000080"/><stop offset="0.8700" stop-color="#000080"/><stop offset="1.0000" stop-color="#000080"/></linearGradient>
<linearGradient id="mg7" gradientUnits="userSpaceOnUse" x1="236" y1="0" x2="243" y2="0"><stop offset="0" stop-color="#000"/><stop offset="1" stop-color="#fff"/></linearGradient>
<mask id="mk7" maskUnits="userSpaceOnUse" x="236" y="161.47" width="682.0" height="297.33"><rect x="236" y="161.47" width="682.0" height="297.33" fill="url(#mg7)"/></mask>
<linearGradient id="hg8" gradientUnits="userSpaceOnUse" x1="0" y1="167.47" x2="0" y2="454.80"><stop offset="0.0000" stop-color="#0024ff"/><stop offset="0.0100" stop-color="#0026ff"/><stop offset="0.0200" stop-color="#0029ff"/><stop offset="0.0300" stop-color="#002bff"/><stop offset="0.0400" stop-color="#002eff"/><stop offset="0.0500" stop-color="#0033ff"/><stop offset="0.0600" stop-color="#0039ff"/><stop offset="0.0700" stop-color="#003eff"/><stop offset="0.0800" stop-color="#0043ff"/><stop offset="0.0900" stop-color="#0049ff"/><stop offset="0.1000" stop-color="#004eff"/><stop offset="0.1100" stop-color="#0053ff"/><stop offset="0.1200" stop-color="#005bff"/><stop offset="0.1300" stop-color="#0065ff"/><stop offset="0.1400" stop-color="#0070ff"/><stop offset="0.1500" stop-color="#007bff"/><stop offset="0.1600" stop-color="#0085ff"/><stop offset="0.1700" stop-color="#0090ff"/><stop offset="0.1800" stop-color="#009aff"/><stop offset="0.1900" stop-color="#00a5ff"/><stop offset="0.2000" stop-color="#00b0ff"/><stop offset="0.2100" stop-color="#00bbff"/><stop offset="0.2200" stop-color="#00caff"/><stop offset="0.2300" stop-color="#00daff"/><stop offset="0.2400" stop-color="#04ebf3"/><stop offset="0.2500" stop-color="#13fde4"/><stop offset="0.2600" stop-color="#21ffd5"/><stop offset="0.2700" stop-color="#30ffc7"/><stop offset="0.2800" stop-color="#3fffb8"/><stop offset="0.2900" stop-color="#4bffab"/><stop offset="0.3000" stop-color="#57ff9f"/><stop offset="0.3100" stop-color="#63ff93"/><stop offset="0.3200" stop-color="#6fff87"/><stop offset="0.3300" stop-color="#7bff7b"/><stop offset="0.3400" stop-color="#87ff6f"/><stop offset="0.3500" stop-color="#93ff63"/><stop offset="0.3600" stop-color="#9eff59"/><stop offset="0.3700" stop-color="#a6ff50"/><stop offset="0.3800" stop-color="#afff47"/><stop offset="0.3900" stop-color="#b8ff3f"/><stop offset="0.4000" stop-color="#c1ff36"/><stop offset="0.4100" stop-color="#c9ff2d"/><stop offset="0.4200" stop-color="#d1ff25"/><stop offset="0.4300" stop-color="#d9ff1d"/><stop offset="0.4400" stop-color="#e2ff15"/><stop offset="0.4500" stop-color="#e9ff0d"/><stop offset="0.4600" stop-color="#f1fc06"/><stop offset="0.4700" stop-color="#f9f300"/><stop offset="0.4800" stop-color="#ffeb00"/><stop offset="0.4900" stop-color="#ffe200"/><stop offset="0.5000" stop-color="#ffd800"/><stop offset="0.5100" stop-color="#ffce00"/><stop offset="0.5200" stop-color="#ffc400"/><stop offset="0.5300" stop-color="#ffba00"/><stop offset="0.5400" stop-color="#ffb000"/><stop offset="0.5500" stop-color="#ffae00"/><stop offset="0.5600" stop-color="#ffad00"/><stop offset="0.5700" stop-color="#ffac00"/><stop offset="0.5800" stop-color="#ffab00"/><stop offset="0.5900" stop-color="#ffa900"/><stop offset="0.6000" stop-color="#ffa800"/><stop offset="0.6100" stop-color="#ffb100"/><stop offset="0.6200" stop-color="#ffba00"/><stop offset="0.6300" stop-color="#ffc200"/><stop offset="0.6400" stop-color="#ffcb00"/><stop offset="0.6500" stop-color="#ffd300"/><stop offset="0.6600" stop-color="#ffe400"/><stop offset="0.6700" stop-color="#f6f600"/><stop offset="0.6800" stop-color="#e2ff15"/><stop offset="0.6900" stop-color="#c9ff2e"/><stop offset="0.7000" stop-color="#b0ff47"/><stop offset="0.7100" stop-color="#97ff60"/><stop offset="0.7200" stop-color="#7eff78"/><stop offset="0.7300" stop-color="#65ff91"/><stop offset="0.7400" stop-color="#40ffb7"/><stop offset="0.7500" stop-color="#19ffde"/><stop offset="0.7600" stop-color="#00caff"/><stop offset="0.7700" stop-color="#0090ff"/><stop offset="0.7800" stop-color="#0049ff"/><stop offset="0.7900" stop-color="#0002ff"/><stop offset="0.8000" stop-color="#0000c5"/><stop offset="0.8100" stop-color="#000080"/><stop offset="0.8200" stop-color="#000080"/><stop offset="0.8300" stop-color="#000080"/><stop offset="0.8400" stop-color="#000080"/><stop offset="0.8500" stop-color="#000080"/><stop offset="0.8600" stop-color="#000080"/><stop offset="0.8700" stop-color="#000080"/><stop offset="1.0000" stop-color="#000080"/></linearGradient>
<linearGradient id="mg8" gradientUnits="userSpaceOnUse" x1="243" y1="0" x2="250" y2="0"><stop offset="0" stop-color="#000"/><stop offset="1" stop-color="#fff"/></linearGradient>
<mask id="mk8" maskUnits="userSpaceOnUse" x="243" y="161.47" width="675.0" height="297.33"><rect x="243" y="161.47" width="675.0" height="297.33" fill="url(#mg8)"/></mask>
<linearGradient id="hg9" gradientUnits="userSpaceOnUse" x1="0" y1="167.47" x2="0" y2="454.80"><stop offset="0.0000" stop-color="#0057ff"/><stop offset="0.0100" stop-color="#005bff"/><stop offset="0.0200" stop-color="#005fff"/><stop offset="0.0300" stop-color="#0064ff"/><stop offset="0.0400" stop-color="#0068ff"/><stop offset="0.0500" stop-color="#006dff"/><stop offset="0.0600" stop-color="#0071ff"/><stop offset="0.0700" stop-color="#0075ff"/><stop offset="0.0800" stop-color="#007aff"/><stop offset="0.0900" stop-color="#007eff"/><stop offset="0.1000" stop-color="#0083ff"/><stop offset="0.1100" stop-color="#0087ff"/><stop offset="0.1200" stop-color="#008dff"/><stop offset="0.1300" stop-color="#0096ff"/><stop offset="0.1400" stop-color="#009fff"/><stop offset="0.1500" stop-color="#00a8ff"/><stop offset="0.1600" stop-color="#00b0ff"/><stop offset="0.1700" stop-color="#00b9ff"/><stop offset="0.1800" stop-color="#00c3ff"/><stop offset="0.1900" stop-color="#00ceff"/><stop offset="0.2000" stop-color="#00d9ff"/><stop offset="0.2100" stop-color="#00e3f9"/><stop offset="0.2200" stop-color="#06edf1"/><stop offset="0.2300" stop-color="#0df6ea"/><stop offset="0.2400" stop-color="#15ffe2"/><stop offset="0.2500" stop-color="#1fffd7"/><stop offset="0.2600" stop-color="#2affcd"/><stop offset="0.2700" stop-color="#35ffc2"/><stop offset="0.2800" stop-color="#40ffb7"/><stop offset="0.2900" stop-color="#4bffac"/><stop offset="0.3000" stop-color="#56ffa0"/><stop offset="0.3100" stop-color="#62ff95"/><stop offset="0.3200" stop-color="#6dff8a"/><stop offset="0.3300" stop-color="#79ff7e"/><stop offset="0.3400" stop-color="#84ff73"/><stop offset="0.3500" stop-color="#8fff67"/><stop offset="0.3600" stop-color="#9aff5d"/><stop offset="0.3700" stop-color="#a3ff54"/><stop offset="0.3800" stop-color="#adff4a"/><stop offset="0.3900" stop-color="#b6ff41"/><stop offset="0.4000" stop-color="#bfff37"/><stop offset="0.4100" stop-color="#c8ff2f"/><stop offset="0.4200" stop-color="#d0ff27"/><stop offset="0.4300" stop-color="#d8ff1f"/><stop offset="0.4400" stop-color="#e0ff17"/><stop offset="0.4500" stop-color="#e8ff0f"/><stop offset="0.4600" stop-color="#effe07"/><stop offset="0.4700" stop-color="#f7f500"/><stop offset="0.4800" stop-color="#ffed00"/><stop offset="0.4900" stop-color="#ffe300"/><stop offset="0.5000" stop-color="#ffd900"/><stop offset="0.5100" stop-color="#ffce00"/><stop offset="0.5200" stop-color="#ffc400"/><stop offset="0.5300" stop-color="#ffb900"/><stop offset="0.5400" stop-color="#ffaf00"/><stop offset="0.5500" stop-color="#ffad00"/><stop offset="0.5600" stop-color="#ffac00"/><stop offset="0.5700" stop-color="#ffaa00"/><stop offset="0.5800" stop-color="#ffa800"/><stop offset="0.5900" stop-color="#ffa700"/><stop offset="0.6000" stop-color="#ffa500"/><stop offset="0.6100" stop-color="#ffae00"/><stop offset="0.6200" stop-color="#ffb600"/><stop offset="0.6300" stop-color="#ffbe00"/><stop offset="0.6400" stop-color="#ffc600"/><stop offset="0.6500" stop-color="#ffcf00"/><stop offset="0.6600" stop-color="#ffdf00"/><stop offset="0.6700" stop-color="#fbf100"/><stop offset="0.6800" stop-color="#e8ff0f"/><stop offset="0.6900" stop-color="#cfff28"/><stop offset="0.7000" stop-color="#b5ff41"/><stop offset="0.7100" stop-color="#9cff5a"/><stop offset="0.7200" stop-color="#83ff74"/><stop offset="0.7300" stop-color="#6aff8d"/><stop offset="0.7400" stop-color="#46ffb1"/><stop offset="0.7500" stop-color="#1effd8"/><stop offset="0.7600" stop-color="#00d2ff"/><stop offset="0.7700" stop-color="#0097ff"/><stop offset="0.7800" stop-color="#0052ff"/><stop offset="0.7900" stop-color="#000aff"/><stop offset="0.8000" stop-color="#0000cd"/><stop offset="0.8100" stop-color="#000080"/><stop offset="0.8200" stop-color="#000080"/><stop offset="0.8300" stop-color="#000080"/><stop offset="0.8400" stop-color="#000080"/><stop offset="0.8500" stop-color="#000080"/><stop offset="0.8600" stop-color="#000080"/><stop offset="0.8700" stop-color="#000080"/><stop offset="1.0000" stop-color="#000080"/></linearGradient>
<linearGradient id="mg9" gradientUnits="userSpaceOnUse" x1="250" y1="0" x2="263" y2="0"><stop offset="0" stop-color="#000"/><stop offset="1" stop-color="#fff"/></linearGradient>
<mask id="mk9" maskUnits="userSpaceOnUse" x="250" y="161.47" width="668.0" height="297.33"><rect x="250" y="161.47" width="668.0" height="297.33" fill="url(#mg9)"/></mask>
<linearGradient id="hg10" gradientUnits="userSpaceOnUse" x1="0" y1="167.47" x2="0" y2="454.80"><stop offset="0.0000" stop-color="#00c7ff"/><stop offset="0.0100" stop-color="#00c9ff"/><stop offset="0.0200" stop-color="#00caff"/><stop offset="0.0300" stop-color="#00ccff"/><stop offset="0.0400" stop-color="#00ceff"/><stop offset="0.0500" stop-color="#00d0ff"/><stop offset="0.0600" stop-color="#00d1ff"/><stop offset="0.0700" stop-color="#00d3ff"/><stop offset="0.0800" stop-color="#00d5ff"/><stop offset="0.0900" stop-color="#00d7ff"/><stop offset="0.1000" stop-color="#00d8ff"/><stop offset="0.1100" stop-color="#00daff"/><stop offset="0.1200" stop-color="#00ddfe"/><stop offset="0.1300" stop-color="#00e0fb"/><stop offset="0.1400" stop-color="#00e3f9"/><stop offset="0.1500" stop-color="#01e6f6"/><stop offset="0.1600" stop-color="#03e9f4"/><stop offset="0.1700" stop-color="#06edf1"/><stop offset="0.1800" stop-color="#08f0ef"/><stop offset="0.1900" stop-color="#0bf3ec"/><stop offset="0.2000" stop-color="#0df6e9"/><stop offset="0.2100" stop-color="#10f9e7"/><stop offset="0.2200" stop-color="#16ffe1"/><stop offset="0.2300" stop-color="#1dffda"/><stop offset="0.2400" stop-color="#24ffd3"/><stop offset="0.2500" stop-color="#2bffcc"/><stop offset="0.2600" stop-color="#32ffc4"/><stop offset="0.2700" stop-color="#39ffbd"/><stop offset="0.2800" stop-color="#40ffb6"/><stop offset="0.2900" stop-color="#4bffac"/><stop offset="0.3000" stop-color="#56ffa0"/><stop offset="0.3100" stop-color="#62ff95"/><stop offset="0.3200" stop-color="#6dff8a"/><stop offset="0.3300" stop-color="#79ff7e"/><stop offset="0.3400" stop-color="#84ff73"/><stop offset="0.3500" stop-color="#8fff67"/><stop offset="0.3600" stop-color="#9aff5d"/><stop offset="0.3700" stop-color="#a3ff54"/><stop offset="0.3800" stop-color="#adff4a"/><stop offset="0.3900" stop-color="#b6ff41"/><stop offset="0.4000" stop-color="#bfff37"/><stop offset="0.4100" stop-color="#c8ff2f"/><stop offset="0.4200" stop-color="#d0ff27"/><stop offset="0.4300" stop-color="#d8ff1f"/><stop offset="0.4400" stop-color="#e0ff17"/><stop offset="0.4500" stop-color="#e8ff0f"/><stop offset="0.4600" stop-color="#effe07"/><stop offset="0.4700" stop-color="#f7f500"/><stop offset="0.4800" stop-color="#ffed00"/><stop offset="0.4900" stop-color="#ffe300"/><stop offset="0.5000" stop-color="#ffd700"/><stop offset="0.5100" stop-color="#ffcc00"/><stop offset="0.5200" stop-color="#ffc100"/><stop offset="0.5300" stop-color="#ffb500"/><stop offset="0.5400" stop-color="#ffaa00"/><stop offset="0.5500" stop-color="#ffa800"/><stop offset="0.5600" stop-color="#ffa700"/><stop offset="0.5700" stop-color="#ffa500"/><stop offset="0.5800" stop-color="#ffa400"/><stop offset="0.5900" stop-color="#ffa200"/><stop offset="0.6000" stop-color="#ffa100"/><stop offset="0.6100" stop-color="#ffa900"/><stop offset="0.6200" stop-color="#ffb100"/><stop offset="0.6300" stop-color="#ffb900"/><stop offset="0.6400" stop-color="#ffc200"/><stop offset="0.6500" stop-color="#ffca00"/><stop offset="0.6600" stop-color="#ffd800"/><stop offset="0.6700" stop-color="#ffea00"/><stop offset="0.6800" stop-color="#effe08"/><stop offset="0.6900" stop-color="#d6ff21"/><stop offset="0.7000" stop-color="#bdff3a"/><stop offset="0.7100" stop-color="#a3ff53"/><stop offset="0.7200" stop-color="#8aff6d"/><stop offset="0.7300" stop-color="#71ff86"/><stop offset="0.7400" stop-color="#4fffa8"/><stop offset="0.7500" stop-color="#28ffcf"/><stop offset="0.7600" stop-color="#00e0fc"/><stop offset="0.7700" stop-color="#00a4ff"/><stop offset="0.7800" stop-color="#0061ff"/><stop offset="0.7900" stop-color="#0019ff"/><stop offset="0.8000" stop-color="#0000dd"/><stop offset="0.8100" stop-color="#00008f"/><stop offset="0.8200" stop-color="#000080"/><stop offset="0.8300" stop-color="#000080"/><stop offset="0.8400" stop-color="#000080"/><stop offset="0.8500" stop-color="#000080"/><stop offset="0.8600" stop-color="#000080"/><stop offset="0.8700" stop-color="#000080"/><stop offset="1.0000" stop-color="#000080"/></linearGradient>
<linearGradient id="mg10" gradientUnits="userSpaceOnUse" x1="263" y1="0" x2="277" y2="0"><stop offset="0" stop-color="#000"/><stop offset="1" stop-color="#fff"/></linearGradient>
<mask id="mk10" maskUnits="userSpaceOnUse" x="263" y="161.47" width="655.0" height="297.33"><rect x="263" y="161.47" width="655.0" height="297.33" fill="url(#mg10)"/></mask>
<linearGradient id="hg11" gradientUnits="userSpaceOnUse" x1="0" y1="167.47" x2="0" y2="454.80"><stop offset="0.0000" stop-color="#31ffc5"/><stop offset="0.0100" stop-color="#31ffc5"/><stop offset="0.0200" stop-color="#31ffc5"/><stop offset="0.0300" stop-color="#31ffc5"/><stop offset="0.0400" stop-color="#31ffc5"/><stop offset="0.0500" stop-color="#31ffc5"/><stop offset="0.0600" stop-color="#31ffc5"/><stop offset="0.0700" stop-color="#31ffc5"/><stop offset="0.0800" stop-color="#31ffc5"/><stop offset="0.0900" stop-color="#31ffc5"/><stop offset="0.1000" stop-color="#31ffc5"/><stop offset="0.1100" stop-color="#31ffc5"/><stop offset="0.1200" stop-color="#32ffc5"/><stop offset="0.1300" stop-color="#33ffc4"/><stop offset="0.1400" stop-color="#33ffc3"/><stop offset="0.1500" stop-color="#34ffc3"/><stop offset="0.1600" stop-color="#35ffc2"/><stop offset="0.1700" stop-color="#36ffc1"/><stop offset="0.1800" stop-color="#37ffc0"/><stop offset="0.1900" stop-color="#38ffbf"/><stop offset="0.2000" stop-color="#39ffbe"/><stop offset="0.2100" stop-color="#39ffbd"/><stop offset="0.2200" stop-color="#3cffba"/><stop offset="0.2300" stop-color="#40ffb7"/><stop offset="0.2400" stop-color="#43ffb3"/><stop offset="0.2500" stop-color="#47ffb0"/><stop offset="0.2600" stop-color="#4bffac"/><stop offset="0.2700" stop-color="#4effa9"/><stop offset="0.2800" stop-color="#52ffa5"/><stop offset="0.2900" stop-color="#5aff9d"/><stop offset="0.3000" stop-color="#63ff94"/><stop offset="0.3100" stop-color="#6cff8b"/><stop offset="0.3200" stop-color="#75ff82"/><stop offset="0.3300" stop-color="#7eff79"/><stop offset="0.3400" stop-color="#87ff70"/><stop offset="0.3500" stop-color="#90ff66"/><stop offset="0.3600" stop-color="#9aff5d"/><stop offset="0.3700" stop-color="#a3ff54"/><stop offset="0.3800" stop-color="#adff4a"/><stop offset="0.3900" stop-color="#b6ff41"/><stop offset="0.4000" stop-color="#bfff37"/><stop offset="0.4100" stop-color="#c8ff2f"/><stop offset="0.4200" stop-color="#d0ff27"/><stop offset="0.4300" stop-color="#d8ff1f"/><stop offset="0.4400" stop-color="#e0ff17"/><stop offset="0.4500" stop-color="#e8ff0f"/><stop offset="0.4600" stop-color="#effe07"/><stop offset="0.4700" stop-color="#f7f500"/><stop offset="0.4800" stop-color="#ffed00"/><stop offset="0.4900" stop-color="#ffe300"/><stop offset="0.5000" stop-color="#ffd700"/><stop offset="0.5100" stop-color="#ffcc00"/><stop offset="0.5200" stop-color="#ffc100"/><stop offset="0.5300" stop-color="#ffb500"/><stop offset="0.5400" stop-color="#ffaa00"/><stop offset="0.5500" stop-color="#ffa800"/><stop offset="0.5600" stop-color="#ffa700"/><stop offset="0.5700" stop-color="#ffa500"/><stop offset="0.5800" stop-color="#ffa400"/><stop offset="0.5900" stop-color="#ffa200"/><stop offset="0.6000" stop-color="#ffa100"/><stop offset="0.6100" stop-color="#ffa900"/><stop offset="0.6200" stop-color="#ffb100"/><stop offset="0.6300" stop-color="#ffb900"/><stop offset="0.6400" stop-color="#ffc200"/><stop offset="0.6500" stop-color="#ffca00"/><stop offset="0.6600" stop-color="#ffd800"/><stop offset="0.6700" stop-color="#ffea00"/><stop offset="0.6800" stop-color="#effe08"/><stop offset="0.6900" stop-color="#d6ff21"/><stop offset="0.7000" stop-color="#bdff3a"/><stop offset="0.7100" stop-color="#a3ff53"/><stop offset="0.7200" stop-color="#8aff6d"/><stop offset="0.7300" stop-color="#71ff86"/><stop offset="0.7400" stop-color="#4fffa8"/><stop offset="0.7500" stop-color="#28ffcf"/><stop offset="0.7600" stop-color="#00e0fc"/><stop offset="0.7700" stop-color="#00a4ff"/><stop offset="0.7800" stop-color="#0061ff"/><stop offset="0.7900" stop-color="#0019ff"/><stop offset="0.8000" stop-color="#0000dd"/><stop offset="0.8100" stop-color="#00008f"/><stop offset="0.8200" stop-color="#000080"/><stop offset="0.8300" stop-color="#000080"/><stop offset="0.8400" stop-color="#000080"/><stop offset="0.8500" stop-color="#000080"/><stop offset="0.8600" stop-color="#000080"/><stop offset="0.8700" stop-color="#000080"/><stop offset="1.0000" stop-color="#000080"/></linearGradient>
<linearGradient id="mg11" gradientUnits="userSpaceOnUse" x1="277" y1="0" x2="282" y2="0"><stop offset="0" stop-color="#000"/><stop offset="1" stop-color="#fff"/></linearGradient>
<mask id="mk11" maskUnits="userSpaceOnUse" x="277" y="161.47" width="641.0" height="297.33"><rect x="277" y="161.47" width="641.0" height="297.33" fill="url(#mg11)"/></mask>
<linearGradient id="hg12" gradientUnits="userSpaceOnUse" x1="0" y1="167.47" x2="0" y2="454.80"><stop offset="0.0000" stop-color="#5aff9c"/><stop offset="0.0100" stop-color="#5cff9b"/><stop offset="0.0200" stop-color="#5dff99"/><stop offset="0.0300" stop-color="#5fff98"/><stop offset="0.0400" stop-color="#60ff97"/><stop offset="0.0500" stop-color="#62ff95"/><stop offset="0.0600" stop-color="#63ff94"/><stop offset="0.0700" stop-color="#64ff92"/><stop offset="0.0800" stop-color="#66ff91"/><stop offset="0.0900" stop-color="#67ff90"/><stop offset="0.1000" stop-color="#69ff8e"/><stop offset="0.1100" stop-color="#6aff8d"/><stop offset="0.1200" stop-color="#6bff8b"/><stop offset="0.1300" stop-color="#6cff8b"/><stop offset="0.1400" stop-color="#6dff8a"/><stop offset="0.1500" stop-color="#6eff89"/><stop offset="0.1600" stop-color="#6fff88"/><stop offset="0.1700" stop-color="#70ff87"/><stop offset="0.1800" stop-color="#70ff86"/><stop offset="0.1900" stop-color="#71ff85"/><stop offset="0.2000" stop-color="#72ff85"/><stop offset="0.2100" stop-color="#73ff84"/><stop offset="0.2200" stop-color="#75ff82"/><stop offset="0.2300" stop-color="#77ff7f"/><stop offset="0.2400" stop-color="#7aff7d"/><stop offset="0.2500" stop-color="#7cff7b"/><stop offset="0.2600" stop-color="#7eff78"/><stop offset="0.2700" stop-color="#81ff76"/><stop offset="0.2800" stop-color="#83ff74"/><stop offset="0.2900" stop-color="#87ff70"/><stop offset="0.3000" stop-color="#8cff6b"/><stop offset="0.3100" stop-color="#90ff66"/><stop offset="0.3200" stop-color="#95ff62"/><stop offset="0.3300" stop-color="#9aff5d"/><stop offset="0.3400" stop-color="#9eff59"/><stop offset="0.3500" stop-color="#a3ff54"/><stop offset="0.3600" stop-color="#a9ff4e"/><stop offset="0.3700" stop-color="#afff47"/><stop offset="0.3800" stop-color="#b6ff40"/><stop offset="0.3900" stop-color="#bdff3a"/><stop offset="0.4000" stop-color="#c4ff33"/><stop offset="0.4100" stop-color="#cbff2c"/><stop offset="0.4200" stop-color="#d2ff24"/><stop offset="0.4300" stop-color="#d9ff1d"/><stop offset="0.4400" stop-color="#e1ff16"/><stop offset="0.4500" stop-color="#e8ff0f"/><stop offset="0.4600" stop-color="#eeff09"/><stop offset="0.4700" stop-color="#f5f802"/><stop offset="0.4800" stop-color="#fbf100"/><stop offset="0.4900" stop-color="#ffe700"/><stop offset="0.5000" stop-color="#ffdb00"/><stop offset="0.5100" stop-color="#ffcf00"/><stop offset="0.5200" stop-color="#ffc200"/><stop offset="0.5300" stop-color="#ffb600"/><stop offset="0.5400" stop-color="#ffaa00"/><stop offset="0.5500" stop-color="#ffa800"/><stop offset="0.5600" stop-color="#ffa700"/><stop offset="0.5700" stop-color="#ffa500"/><stop offset="0.5800" stop-color="#ffa400"/><stop offset="0.5900" stop-color="#ffa200"/><stop offset="0.6000" stop-color="#ffa100"/><stop offset="0.6100" stop-color="#ffa800"/><stop offset="0.6200" stop-color="#ffaf00"/><stop offset="0.6300" stop-color="#ffb600"/><stop offset="0.6400" stop-color="#ffbd00"/><stop offset="0.6500" stop-color="#ffc500"/><stop offset="0.6600" stop-color="#ffd200"/><stop offset="0.6700" stop-color="#ffe400"/><stop offset="0.6800" stop-color="#f7f600"/><stop offset="0.6900" stop-color="#ddff1a"/><stop offset="0.7000" stop-color="#c4ff33"/><stop offset="0.7100" stop-color="#abff4c"/><stop offset="0.7200" stop-color="#91ff66"/><stop offset="0.7300" stop-color="#78ff7f"/><stop offset="0.7400" stop-color="#59ff9e"/><stop offset="0.7500" stop-color="#31ffc6"/><stop offset="0.7600" stop-color="#06edf1"/><stop offset="0.7700" stop-color="#00b1ff"/><stop offset="0.7800" stop-color="#0071ff"/><stop offset="0.7900" stop-color="#0028ff"/><stop offset="0.8000" stop-color="#0000ed"/><stop offset="0.8100" stop-color="#00009f"/><stop offset="0.8200" stop-color="#000080"/><stop offset="0.8300" stop-color="#000080"/><stop offset="0.8400" stop-color="#000080"/><stop offset="0.8500" stop-color="#000080"/><stop offset="0.8600" stop-color="#000080"/><stop offset="0.8700" stop-color="#000080"/><stop offset="1.0000" stop-color="#000080"/></linearGradient>
<linearGradient id="mg12" gradientUnits="userSpaceOnUse" x1="282" y1="0" x2="304" y2="0"><stop offset="0" stop-color="#000"/><stop offset="1" stop-color="#fff"/></linearGradient>
<mask id="mk12" maskUnits="userSpaceOnUse" x="282" y="161.47" width="636.0" height="297.33"><rect x="282" y="161.47" width="636.0" height="297.33" fill="url(#mg12)"/></mask>
<linearGradient id="hg13" gradientUnits="userSpaceOnUse" x1="0" y1="167.47" x2="0" y2="454.80"><stop offset="0.0000" stop-color="#8cff6b"/><stop offset="0.0100" stop-color="#90ff67"/><stop offset="0.0200" stop-color="#93ff63"/><stop offset="0.0300" stop-color="#96ff61"/><stop offset="0.0400" stop-color="#98ff5f"/><stop offset="0.0500" stop-color="#9aff5d"/><stop offset="0.0600" stop-color="#9cff5a"/><stop offset="0.0700" stop-color="#9fff58"/><stop offset="0.0800" stop-color="#a1ff56"/><stop offset="0.0900" stop-color="#a3ff54"/><stop offset="0.1000" stop-color="#a5ff52"/><stop offset="0.1100" stop-color="#a7ff4f"/><stop offset="0.1200" stop-color="#a9ff4d"/><stop offset="0.1300" stop-color="#abff4c"/><stop offset="0.1400" stop-color="#adff4a"/><stop offset="0.1500" stop-color="#aeff48"/><stop offset="0.1600" stop-color="#b0ff47"/><stop offset="0.1700" stop-color="#b2ff45"/><stop offset="0.1800" stop-color="#b4ff43"/><stop offset="0.1900" stop-color="#b5ff41"/><stop offset="0.2000" stop-color="#b7ff40"/><stop offset="0.2100" stop-color="#b9ff3e"/><stop offset="0.2200" stop-color="#b9ff3e"/><stop offset="0.2300" stop-color="#b9ff3e"/><stop offset="0.2400" stop-color="#b9ff3e"/><stop offset="0.2500" stop-color="#b9ff3e"/><stop offset="0.2600" stop-color="#b9ff3e"/><stop offset="0.2700" stop-color="#b9ff3e"/><stop offset="0.2800" stop-color="#b9ff3e"/><stop offset="0.2900" stop-color="#baff3c"/><stop offset="0.3000" stop-color="#bcff3b"/><stop offset="0.3100" stop-color="#beff39"/><stop offset="0.3200" stop-color="#c0ff37"/><stop offset="0.3300" stop-color="#c1ff35"/><stop offset="0.3400" stop-color="#c3ff34"/><stop offset="0.3500" stop-color="#c5ff32"/><stop offset="0.3600" stop-color="#c7ff2f"/><stop offset="0.3700" stop-color="#cbff2c"/><stop offset="0.3800" stop-color="#ceff28"/><stop offset="0.3900" stop-color="#d2ff25"/><stop offset="0.4000" stop-color="#d5ff22"/><stop offset="0.4100" stop-color="#d9ff1d"/><stop offset="0.4200" stop-color="#deff19"/><stop offset="0.4300" stop-color="#e2ff14"/><stop offset="0.4400" stop-color="#e7ff10"/><stop offset="0.4500" stop-color="#ecff0b"/><stop offset="0.4600" stop-color="#f1fc06"/><stop offset="0.4700" stop-color="#f6f600"/><stop offset="0.4800" stop-color="#fcf000"/><stop offset="0.4900" stop-color="#ffe700"/><stop offset="0.5000" stop-color="#ffdb00"/><stop offset="0.5100" stop-color="#ffcf00"/><stop offset="0.5200" stop-color="#ffc200"/><stop offset="0.5300" stop-color="#ffb600"/><stop offset="0.5400" stop-color="#ffaa00"/><stop offset="0.5500" stop-color="#ffa800"/><stop offset="0.5600" stop-color="#ffa700"/><stop offset="0.5700" stop-color="#ffa500"/><stop offset="0.5800" stop-color="#ffa400"/><stop offset="0.5900" stop-color="#ffa200"/><stop offset="0.6000" stop-color="#ffa100"/><stop offset="0.6100" stop-color="#ffa800"/><stop offset="0.6200" stop-color="#ffaf00"/><stop offset="0.6300" stop-color="#ffb600"/><stop offset="0.6400" stop-color="#ffbd00"/><stop offset="0.6500" stop-color="#ffc500"/><stop offset="0.6600" stop-color="#ffce00"/><stop offset="0.6700" stop-color="#ffe000"/><stop offset="0.6800" stop-color="#faf200"/><stop offset="0.6900" stop-color="#e5ff12"/><stop offset="0.7000" stop-color="#ccff2b"/><stop offset="0.7100" stop-color="#b2ff44"/><stop offset="0.7200" stop-color="#99ff5e"/><stop offset="0.7300" stop-color="#80ff77"/><stop offset="0.7400" stop-color="#67ff90"/><stop offset="0.7500" stop-color="#3fffb8"/><stop offset="0.7600" stop-color="#18ffdf"/><stop offset="0.7700" stop-color="#00c8ff"/><stop offset="0.7800" stop-color="#008cff"/><stop offset="0.7900" stop-color="#0044ff"/><stop offset="0.8000" stop-color="#0000ff"/><stop offset="0.8100" stop-color="#0000be"/><stop offset="0.8200" stop-color="#000080"/><stop offset="0.8300" stop-color="#000080"/><stop offset="0.8400" stop-color="#000080"/><stop offset="0.8500" stop-color="#000080"/><stop offset="0.8600" stop-color="#000080"/><stop offset="0.8700" stop-color="#000080"/><stop offset="1.0000" stop-color="#000080"/></linearGradient>
<linearGradient id="mg13" gradientUnits="userSpaceOnUse" x1="304" y1="0" x2="331" y2="0"><stop offset="0" stop-color="#000"/><stop offset="1" stop-color="#fff"/></linearGradient>
<mask id="mk13" maskUnits="userSpaceOnUse" x="304" y="161.47" width="614.0" height="297.33"><rect x="304" y="161.47" width="614.0" height="297.33" fill="url(#mg13)"/></mask>
<linearGradient id="hg14" gradientUnits="userSpaceOnUse" x1="0" y1="167.47" x2="0" y2="454.80"><stop offset="0.0000" stop-color="#8cff6b"/><stop offset="0.0100" stop-color="#90ff67"/><stop offset="0.0200" stop-color="#93ff63"/><stop offset="0.0300" stop-color="#98ff5f"/><stop offset="0.0400" stop-color="#9cff5b"/><stop offset="0.0500" stop-color="#a0ff56"/><stop offset="0.0600" stop-color="#a5ff52"/><stop offset="0.0700" stop-color="#a9ff4e"/><stop offset="0.0800" stop-color="#adff49"/><stop offset="0.0900" stop-color="#b2ff45"/><stop offset="0.1000" stop-color="#b6ff41"/><stop offset="0.1100" stop-color="#bbff3c"/><stop offset="0.1200" stop-color="#beff39"/><stop offset="0.1300" stop-color="#c1ff36"/><stop offset="0.1400" stop-color="#c3ff33"/><stop offset="0.1500" stop-color="#c6ff31"/><stop offset="0.1600" stop-color="#c9ff2e"/><stop offset="0.1700" stop-color="#cbff2c"/><stop offset="0.1800" stop-color="#ceff29"/><stop offset="0.1900" stop-color="#d0ff27"/><stop offset="0.2000" stop-color="#d3ff24"/><stop offset="0.2100" stop-color="#d5ff21"/><stop offset="0.2200" stop-color="#d6ff20"/><stop offset="0.2300" stop-color="#d7ff20"/><stop offset="0.2400" stop-color="#d8ff1f"/><stop offset="0.2500" stop-color="#d8ff1f"/><stop offset="0.2600" stop-color="#d9ff1e"/><stop offset="0.2700" stop-color="#d9ff1d"/><stop offset="0.2800" stop-color="#daff1d"/><stop offset="0.2900" stop-color="#daff1c"/><stop offset="0.3000" stop-color="#dbff1c"/><stop offset="0.3100" stop-color="#dcff1b"/><stop offset="0.3200" stop-color="#dcff1b"/><stop offset="0.3300" stop-color="#ddff1a"/><stop offset="0.3400" stop-color="#ddff19"/><stop offset="0.3500" stop-color="#deff19"/><stop offset="0.3600" stop-color="#dfff18"/><stop offset="0.3700" stop-color="#dfff17"/><stop offset="0.3800" stop-color="#e0ff16"/><stop offset="0.3900" stop-color="#e1ff16"/><stop offset="0.4000" stop-color="#e2ff15"/><stop offset="0.4100" stop-color="#e5ff12"/><stop offset="0.4200" stop-color="#e9ff0e"/><stop offset="0.4300" stop-color="#ecff0b"/><stop offset="0.4400" stop-color="#f0fe07"/><stop offset="0.4500" stop-color="#f4f903"/><stop offset="0.4600" stop-color="#f8f400"/><stop offset="0.4700" stop-color="#fcef00"/><stop offset="0.4800" stop-color="#ffea00"/><stop offset="0.4900" stop-color="#ffe200"/><stop offset="0.5000" stop-color="#ffd600"/><stop offset="0.5100" stop-color="#ffca00"/><stop offset="0.5200" stop-color="#ffbe00"/><stop offset="0.5300" stop-color="#ffb200"/><stop offset="0.5400" stop-color="#ffa500"/><stop offset="0.5500" stop-color="#ffa400"/><stop offset="0.5600" stop-color="#ffa200"/><stop offset="0.5700" stop-color="#ffa100"/><stop offset="0.5800" stop-color="#ff9f00"/><stop offset="0.5900" stop-color="#ff9d00"/><stop offset="0.6000" stop-color="#ff9c00"/><stop offset="0.6100" stop-color="#ffa300"/><stop offset="0.6200" stop-color="#ffaa00"/><stop offset="0.6300" stop-color="#ffb100"/><stop offset="0.6400" stop-color="#ffb800"/><stop offset="0.6500" stop-color="#ffc100"/><stop offset="0.6600" stop-color="#ffc900"/><stop offset="0.6700" stop-color="#ffd700"/><stop offset="0.6800" stop-color="#ffe900"/><stop offset="0.6900" stop-color="#f0fd07"/><stop offset="0.7000" stop-color="#d7ff20"/><stop offset="0.7100" stop-color="#bdff39"/><stop offset="0.7200" stop-color="#a4ff53"/><stop offset="0.7300" stop-color="#8bff6c"/><stop offset="0.7400" stop-color="#72ff85"/><stop offset="0.7500" stop-color="#50ffa7"/><stop offset="0.7600" stop-color="#28ffcf"/><stop offset="0.7700" stop-color="#00e0fb"/><stop offset="0.7800" stop-color="#00a5ff"/><stop offset="0.7900" stop-color="#0062ff"/><stop offset="0.8000" stop-color="#0019ff"/><stop offset="0.8100" stop-color="#0000dd"/><stop offset="0.8200" stop-color="#00008f"/><stop offset="0.8300" stop-color="#000080"/><stop offset="0.8400" stop-color="#000080"/><stop offset="0.8500" stop-color="#000080"/><stop offset="0.8600" stop-color="#000080"/><stop offset="0.8700" stop-color="#000080"/><stop offset="1.0000" stop-color="#000080"/></linearGradient>
<linearGradient id="mg14" gradientUnits="userSpaceOnUse" x1="331" y1="0" x2="372" y2="0"><stop offset="0" stop-color="#000"/><stop offset="1" stop-color="#fff"/></linearGradient>
<mask id="mk14" maskUnits="userSpaceOnUse" x="331" y="161.47" width="587.0" height="297.33"><rect x="331" y="161.47" width="587.0" height="297.33" fill="url(#mg14)"/></mask>
<linearGradient id="hg15" gradientUnits="userSpaceOnUse" x1="0" y1="167.47" x2="0" y2="454.80"><stop offset="0.0000" stop-color="#8cff6b"/><stop offset="0.0100" stop-color="#90ff67"/><stop offset="0.0200" stop-color="#93ff63"/><stop offset="0.0300" stop-color="#98ff5f"/><stop offset="0.0400" stop-color="#9dff5a"/><stop offset="0.0500" stop-color="#a2ff55"/><stop offset="0.0600" stop-color="#a6ff50"/><stop offset="0.0700" stop-color="#abff4c"/><stop offset="0.0800" stop-color="#b0ff47"/><stop offset="0.0900" stop-color="#b5ff42"/><stop offset="0.1000" stop-color="#baff3d"/><stop offset="0.1100" stop-color="#beff38"/><stop offset="0.1200" stop-color="#c3ff34"/><stop offset="0.1300" stop-color="#c6ff31"/><stop offset="0.1400" stop-color="#c9ff2e"/><stop offset="0.1500" stop-color="#ccff2b"/><stop offset="0.1600" stop-color="#cfff28"/><stop offset="0.1700" stop-color="#d2ff25"/><stop offset="0.1800" stop-color="#d4ff22"/><stop offset="0.1900" stop-color="#d7ff1f"/><stop offset="0.2000" stop-color="#daff1c"/><stop offset="0.2100" stop-color="#ddff19"/><stop offset="0.2200" stop-color="#deff19"/><stop offset="0.2300" stop-color="#deff19"/><stop offset="0.2400" stop-color="#deff19"/><stop offset="0.2500" stop-color="#deff19"/><stop offset="0.2600" stop-color="#deff19"/><stop offset="0.2700" stop-color="#deff19"/><stop offset="0.2800" stop-color="#deff19"/><stop offset="0.2900" stop-color="#dfff18"/><stop offset="0.3000" stop-color="#dfff18"/><stop offset="0.3100" stop-color="#e0ff17"/><stop offset="0.3200" stop-color="#e0ff17"/><stop offset="0.3300" stop-color="#e1ff16"/><stop offset="0.3400" stop-color="#e1ff15"/><stop offset="0.3500" stop-color="#e2ff15"/><stop offset="0.3600" stop-color="#e3ff14"/><stop offset="0.3700" stop-color="#e4ff13"/><stop offset="0.3800" stop-color="#e4ff12"/><stop offset="0.3900" stop-color="#e5ff11"/><stop offset="0.4000" stop-color="#e6ff11"/><stop offset="0.4100" stop-color="#e8ff0e"/><stop offset="0.4200" stop-color="#ebff0c"/><stop offset="0.4300" stop-color="#eeff09"/><stop offset="0.4400" stop-color="#f1fd06"/><stop offset="0.4500" stop-color="#f4f903"/><stop offset="0.4600" stop-color="#f8f400"/><stop offset="0.4700" stop-color="#fcef00"/><stop offset="0.4800" stop-color="#ffea00"/><stop offset="0.4900" stop-color="#ffe200"/><stop offset="0.5000" stop-color="#ffd600"/><stop offset="0.5100" stop-color="#ffca00"/><stop offset="0.5200" stop-color="#ffbe00"/><stop offset="0.5300" stop-color="#ffb200"/><stop offset="0.5400" stop-color="#ffa500"/><stop offset="0.5500" stop-color="#ffa400"/><stop offset="0.5600" stop-color="#ffa200"/><stop offset="0.5700" stop-color="#ffa100"/><stop offset="0.5800" stop-color="#ff9f00"/><stop offset="0.5900" stop-color="#ff9d00"/><stop offset="0.6000" stop-color="#ff9c00"/><stop offset="0.6100" stop-color="#ffa300"/><stop offset="0.6200" stop-color="#ffaa00"/><stop offset="0.6300" stop-color="#ffb100"/><stop offset="0.6400" stop-color="#ffb800"/><stop offset="0.6500" stop-color="#ffc100"/><stop offset="0.6600" stop-color="#ffc900"/><stop offset="0.6700" stop-color="#ffd700"/><stop offset="0.6800" stop-color="#ffe900"/><stop offset="0.6900" stop-color="#f0fd07"/><stop offset="0.7000" stop-color="#d7ff20"/><stop offset="0.7100" stop-color="#bdff39"/><stop offset="0.7200" stop-color="#a4ff53"/><stop offset="0.7300" stop-color="#8bff6c"/><stop offset="0.7400" stop-color="#72ff85"/><stop offset="0.7500" stop-color="#50ffa7"/><stop offset="0.7600" stop-color="#28ffcf"/><stop offset="0.7700" stop-color="#00e0fb"/><stop offset="0.7800" stop-color="#00a5ff"/><stop offset="0.7900" stop-color="#0062ff"/><stop offset="0.8000" stop-color="#0019ff"/><stop offset="0.8100" stop-color="#0000dd"/><stop offset="0.8200" stop-color="#00008f"/><stop offset="0.8300" stop-color="#000080"/><stop offset="0.8400" stop-color="#000080"/><stop offset="0.8500" stop-color="#000080"/><stop offset="0.8600" stop-color="#000080"/><stop offset="0.8700" stop-color="#000080"/><stop offset="1.0000" stop-color="#000080"/></linearGradient>
<linearGradient id="mg15" gradientUnits="userSpaceOnUse" x1="372" y1="0" x2="396" y2="0"><stop offset="0" stop-color="#000"/><stop offset="1" stop-color="#fff"/></linearGradient>
<mask id="mk15" maskUnits="userSpaceOnUse" x="372" y="161.47" width="546.0" height="297.33"><rect x="372" y="161.47" width="546.0" height="297.33" fill="url(#mg15)"/></mask>
<linearGradient id="hg16" gradientUnits="userSpaceOnUse" x1="0" y1="167.47" x2="0" y2="454.80"><stop offset="0.0000" stop-color="#8cff6b"/><stop offset="0.0100" stop-color="#90ff67"/><stop offset="0.0200" stop-color="#93ff63"/><stop offset="0.0300" stop-color="#98ff5f"/><stop offset="0.0400" stop-color="#9dff5a"/><stop offset="0.0500" stop-color="#a2ff55"/><stop offset="0.0600" stop-color="#a6ff50"/><stop offset="0.0700" stop-color="#abff4c"/><stop offset="0.0800" stop-color="#b0ff47"/><stop offset="0.0900" stop-color="#b5ff42"/><stop offset="0.1000" stop-color="#baff3d"/><stop offset="0.1100" stop-color="#beff38"/><stop offset="0.1200" stop-color="#c3ff34"/><stop offset="0.1300" stop-color="#c7ff30"/><stop offset="0.1400" stop-color="#cbff2c"/><stop offset="0.1500" stop-color="#ceff28"/><stop offset="0.1600" stop-color="#d2ff25"/><stop offset="0.1700" stop-color="#d6ff21"/><stop offset="0.1800" stop-color="#daff1d"/><stop offset="0.1900" stop-color="#deff19"/><stop offset="0.2000" stop-color="#e2ff15"/><stop offset="0.2100" stop-color="#e6ff11"/><stop offset="0.2200" stop-color="#e8ff0f"/><stop offset="0.2300" stop-color="#ebff0c"/><stop offset="0.2400" stop-color="#edff0a"/><stop offset="0.2500" stop-color="#effe08"/><stop offset="0.2600" stop-color="#f2fb05"/><stop offset="0.2700" stop-color="#f4f903"/><stop offset="0.2800" stop-color="#f6f600"/><stop offset="0.2900" stop-color="#f8f500"/><stop offset="0.3000" stop-color="#f9f300"/><stop offset="0.3100" stop-color="#faf200"/><stop offset="0.3200" stop-color="#fbf100"/><stop offset="0.3300" stop-color="#fcef00"/><stop offset="0.3400" stop-color="#fdee00"/><stop offset="0.3500" stop-color="#ffed00"/><stop offset="0.3600" stop-color="#ffec00"/><stop offset="0.3700" stop-color="#ffeb00"/><stop offset="0.3800" stop-color="#ffea00"/><stop offset="0.3900" stop-color="#ffe900"/><stop offset="0.4000" stop-color="#ffe800"/><stop offset="0.4100" stop-color="#ffe700"/><stop offset="0.4200" stop-color="#ffe600"/><stop offset="0.4300" stop-color="#ffe500"/><stop offset="0.4400" stop-color="#ffe300"/><stop offset="0.4500" stop-color="#ffe200"/><stop offset="0.4600" stop-color="#ffe000"/><stop offset="0.4700" stop-color="#ffdd00"/><stop offset="0.4800" stop-color="#ffdb00"/><stop offset="0.4900" stop-color="#ffd500"/><stop offset="0.5000" stop-color="#ffcc00"/><stop offset="0.5100" stop-color="#ffc200"/><stop offset="0.5200" stop-color="#ffb900"/><stop offset="0.5300" stop-color="#ffaf00"/><stop offset="0.5400" stop-color="#ffa500"/><stop offset="0.5500" stop-color="#ffa400"/><stop offset="0.5600" stop-color="#ffa200"/><stop offset="0.5700" stop-color="#ffa100"/><stop offset="0.5800" stop-color="#ff9f00"/><stop offset="0.5900" stop-color="#ff9d00"/><stop offset="0.6000" stop-color="#ff9c00"/><stop offset="0.6100" stop-color="#ffa300"/><stop offset="0.6200" stop-color="#ffaa00"/><stop offset="0.6300" stop-color="#ffb100"/><stop offset="0.6400" stop-color="#ffb800"/><stop offset="0.6500" stop-color="#ffc100"/><stop offset="0.6600" stop-color="#ffc900"/><stop offset="0.6700" stop-color="#ffd600"/><stop offset="0.6800" stop-color="#ffe800"/><stop offset="0.6900" stop-color="#f2fb05"/><stop offset="0.7000" stop-color="#d8ff1e"/><stop offset="0.7100" stop-color="#bfff38"/><stop offset="0.7200" stop-color="#a6ff51"/><stop offset="0.7300" stop-color="#8dff6a"/><stop offset="0.7400" stop-color="#74ff83"/><stop offset="0.7500" stop-color="#53ffa4"/><stop offset="0.7600" stop-color="#2cffcb"/><stop offset="0.7700" stop-color="#00e6f7"/><stop offset="0.7800" stop-color="#00aaff"/><stop offset="0.7900" stop-color="#0068ff"/><stop offset="0.8000" stop-color="#0020ff"/><stop offset="0.8100" stop-color="#0000e5"/><stop offset="0.8200" stop-color="#000097"/><stop offset="0.8300" stop-color="#000080"/><stop offset="0.8400" stop-color="#000080"/><stop offset="0.8500" stop-color="#000080"/><stop offset="0.8600" stop-color="#000080"/><stop offset="0.8700" stop-color="#000080"/><stop offset="1.0000" stop-color="#000080"/></linearGradient>
<linearGradient id="mg16" gradientUnits="userSpaceOnUse" x1="396" y1="0" x2="408" y2="0"><stop offset="0" stop-color="#000"/><stop offset="1" stop-color="#fff"/></linearGradient>
<mask id="mk16" maskUnits="userSpaceOnUse" x="396" y="161.47" width="522.0" height="297.33"><rect x="396" y="161.47" width="522.0" height="297.33" fill="url(#mg16)"/></mask>
<linearGradient id="hg17" gradientUnits="userSpaceOnUse" x1="0" y1="167.47" x2="0" y2="454.80"><stop offset="0.0000" stop-color="#63ff94"/><stop offset="0.0100" stop-color="#69ff8e"/><stop offset="0.0200" stop-color="#6fff88"/><stop offset="0.0300" stop-color="#75ff82"/><stop offset="0.0400" stop-color="#7bff7b"/><stop offset="0.0500" stop-color="#85ff72"/><stop offset="0.0600" stop-color="#8eff69"/><stop offset="0.0700" stop-color="#97ff60"/><stop offset="0.0800" stop-color="#a0ff57"/><stop offset="0.0900" stop-color="#a9ff4d"/><stop offset="0.1000" stop-color="#b3ff44"/><stop offset="0.1100" stop-color="#bcff3b"/><stop offset="0.1200" stop-color="#c3ff34"/><stop offset="0.1300" stop-color="#c7ff2f"/><stop offset="0.1400" stop-color="#ccff2b"/><stop offset="0.1500" stop-color="#d0ff27"/><stop offset="0.1600" stop-color="#d4ff23"/><stop offset="0.1700" stop-color="#d8ff1e"/><stop offset="0.1800" stop-color="#ddff1a"/><stop offset="0.1900" stop-color="#e1ff16"/><stop offset="0.2000" stop-color="#e5ff11"/><stop offset="0.2100" stop-color="#eaff0d"/><stop offset="0.2200" stop-color="#ecff0a"/><stop offset="0.2300" stop-color="#efff08"/><stop offset="0.2400" stop-color="#f1fc06"/><stop offset="0.2500" stop-color="#f3f903"/><stop offset="0.2600" stop-color="#f6f701"/><stop offset="0.2700" stop-color="#f8f400"/><stop offset="0.2800" stop-color="#faf100"/><stop offset="0.2900" stop-color="#fcf000"/><stop offset="0.3000" stop-color="#fdee00"/><stop offset="0.3100" stop-color="#feed00"/><stop offset="0.3200" stop-color="#ffec00"/><stop offset="0.3300" stop-color="#ffeb00"/><stop offset="0.3400" stop-color="#ffe900"/><stop offset="0.3500" stop-color="#ffe800"/><stop offset="0.3600" stop-color="#ffe700"/><stop offset="0.3700" stop-color="#ffe600"/><stop offset="0.3800" stop-color="#ffe500"/><stop offset="0.3900" stop-color="#ffe400"/><stop offset="0.4000" stop-color="#ffe300"/><stop offset="0.4100" stop-color="#ffe200"/><stop offset="0.4200" stop-color="#ffe100"/><stop offset="0.4300" stop-color="#ffe000"/><stop offset="0.4400" stop-color="#ffdf00"/><stop offset="0.4500" stop-color="#ffdd00"/><stop offset="0.4600" stop-color="#ffdb00"/><stop offset="0.4700" stop-color="#ffd800"/><stop offset="0.4800" stop-color="#ffd600"/><stop offset="0.4900" stop-color="#ffd100"/><stop offset="0.5000" stop-color="#ffc800"/><stop offset="0.5100" stop-color="#ffc000"/><stop offset="0.5200" stop-color="#ffb700"/><stop offset="0.5300" stop-color="#ffae00"/><stop offset="0.5400" stop-color="#ffa500"/><stop offset="0.5500" stop-color="#ffa400"/><stop offset="0.5600" stop-color="#ffa200"/><stop offset="0.5700" stop-color="#ffa100"/><stop offset="0.5800" stop-color="#ff9f00"/><stop offset="0.5900" stop-color="#ff9d00"/><stop offset="0.6000" stop-color="#ff9c00"/><stop offset="0.6100" stop-color="#ffa300"/><stop offset="0.6200" stop-color="#ffaa00"/><stop offset="0.6300" stop-color="#ffb100"/><stop offset="0.6400" stop-color="#ffb800"/><stop offset="0.6500" stop-color="#ffc100"/><stop offset="0.6600" stop-color="#ffc900"/><stop offset="0.6700" stop-color="#ffd600"/><stop offset="0.6800" stop-color="#ffe800"/><stop offset="0.6900" stop-color="#f2fb05"/><stop offset="0.7000" stop-color="#d8ff1e"/><stop offset="0.7100" stop-color="#bfff38"/><stop offset="0.7200" stop-color="#a6ff51"/><stop offset="0.7300" stop-color="#8dff6a"/><stop offset="0.7400" stop-color="#74ff83"/><stop offset="0.7500" stop-color="#53ffa4"/><stop offset="0.7600" stop-color="#2cffcb"/><stop offset="0.7700" stop-color="#00e6f7"/><stop offset="0.7800" stop-color="#00aaff"/><stop offset="0.7900" stop-color="#0068ff"/><stop offset="0.8000" stop-color="#0020ff"/><stop offset="0.8100" stop-color="#0000e5"/><stop offset="0.8200" stop-color="#000097"/><stop offset="0.8300" stop-color="#000080"/><stop offset="0.8400" stop-color="#000080"/><stop offset="0.8500" stop-color="#000080"/><stop offset="0.8600" stop-color="#000080"/><stop offset="0.8700" stop-color="#000080"/><stop offset="1.0000" stop-color="#000080"/></linearGradient>
<linearGradient id="mg17" gradientUnits="userSpaceOnUse" x1="408" y1="0" x2="425" y2="0"><stop offset="0" stop-color="#000"/><stop offset="1" stop-color="#fff"/></linearGradient>
<mask id="mk17" maskUnits="userSpaceOnUse" x="408" y="161.47" width="510.0" height="297.33"><rect x="408" y="161.47" width="510.0" height="297.33" fill="url(#mg17)"/></mask>
<linearGradient id="hg18" gradientUnits="userSpaceOnUse" x1="0" y1="167.47" x2="0" y2="454.80"><stop offset="0.0000" stop-color="#84ff73"/><stop offset="0.0100" stop-color="#87ff6f"/><stop offset="0.0200" stop-color="#8bff6c"/><stop offset="0.0300" stop-color="#90ff67"/><stop offset="0.0400" stop-color="#95ff61"/><stop offset="0.0500" stop-color="#9bff5c"/><stop offset="0.0600" stop-color="#a0ff57"/><stop offset="0.0700" stop-color="#a5ff52"/><stop offset="0.0800" stop-color="#aaff4c"/><stop offset="0.0900" stop-color="#b0ff47"/><stop offset="0.1000" stop-color="#b5ff42"/><stop offset="0.1100" stop-color="#baff3d"/><stop offset="0.1200" stop-color="#bfff38"/><stop offset="0.1300" stop-color="#c3ff34"/><stop offset="0.1400" stop-color="#c7ff2f"/><stop offset="0.1500" stop-color="#ccff2b"/><stop offset="0.1600" stop-color="#d0ff27"/><stop offset="0.1700" stop-color="#d4ff22"/><stop offset="0.1800" stop-color="#d9ff1e"/><stop offset="0.1900" stop-color="#ddff1a"/><stop offset="0.2000" stop-color="#e1ff16"/><stop offset="0.2100" stop-color="#e5ff11"/><stop offset="0.2200" stop-color="#eaff0d"/><stop offset="0.2300" stop-color="#eeff09"/><stop offset="0.2400" stop-color="#f2fb04"/><stop offset="0.2500" stop-color="#f7f600"/><stop offset="0.2600" stop-color="#fbf100"/><stop offset="0.2700" stop-color="#feee00"/><stop offset="0.2800" stop-color="#ffeb00"/><stop offset="0.2900" stop-color="#ffe800"/><stop offset="0.3000" stop-color="#ffe500"/><stop offset="0.3100" stop-color="#ffe100"/><stop offset="0.3200" stop-color="#ffdd00"/><stop offset="0.3300" stop-color="#ffd900"/><stop offset="0.3400" stop-color="#ffd500"/><stop offset="0.3500" stop-color="#ffd100"/><stop offset="0.3600" stop-color="#ffcf00"/><stop offset="0.3700" stop-color="#ffce00"/><stop offset="0.3800" stop-color="#ffcd00"/><stop offset="0.3900" stop-color="#ffcc00"/><stop offset="0.4000" stop-color="#ffcb00"/><stop offset="0.4100" stop-color="#ffcb00"/><stop offset="0.4200" stop-color="#ffcb00"/><stop offset="0.4300" stop-color="#ffcb00"/><stop offset="0.4400" stop-color="#ffcb00"/><stop offset="0.4500" stop-color="#ffcb00"/><stop offset="0.4600" stop-color="#ffca00"/><stop offset="0.4700" stop-color="#ffc800"/><stop offset="0.4800" stop-color="#ffc700"/><stop offset="0.4900" stop-color="#ffc400"/><stop offset="0.5000" stop-color="#ffbe00"/><stop offset="0.5100" stop-color="#ffb800"/><stop offset="0.5200" stop-color="#ffb200"/><stop offset="0.5300" stop-color="#ffab00"/><stop offset="0.5400" stop-color="#ffa500"/><stop offset="0.5500" stop-color="#ffa400"/><stop offset="0.5600" stop-color="#ffa200"/><stop offset="0.5700" stop-color="#ffa100"/><stop offset="0.5800" stop-color="#ff9f00"/><stop offset="0.5900" stop-color="#ff9d00"/><stop offset="0.6000" stop-color="#ff9c00"/><stop offset="0.6100" stop-color="#ffa300"/><stop offset="0.6200" stop-color="#ffaa00"/><stop offset="0.6300" stop-color="#ffb100"/><stop offset="0.6400" stop-color="#ffb800"/><stop offset="0.6500" stop-color="#ffc100"/><stop offset="0.6600" stop-color="#ffc900"/><stop offset="0.6700" stop-color="#ffd500"/><stop offset="0.6800" stop-color="#ffe700"/><stop offset="0.6900" stop-color="#f4f903"/><stop offset="0.7000" stop-color="#daff1c"/><stop offset="0.7100" stop-color="#c1ff36"/><stop offset="0.7200" stop-color="#a8ff4f"/><stop offset="0.7300" stop-color="#8fff68"/><stop offset="0.7400" stop-color="#76ff81"/><stop offset="0.7500" stop-color="#57ffa0"/><stop offset="0.7600" stop-color="#2fffc8"/><stop offset="0.7700" stop-color="#04ebf2"/><stop offset="0.7800" stop-color="#00b0ff"/><stop offset="0.7900" stop-color="#006fff"/><stop offset="0.8000" stop-color="#0027ff"/><stop offset="0.8100" stop-color="#0000ed"/><stop offset="0.8200" stop-color="#00009f"/><stop offset="0.8300" stop-color="#000080"/><stop offset="0.8400" stop-color="#000080"/><stop offset="0.8500" stop-color="#000080"/><stop offset="0.8600" stop-color="#000080"/><stop offset="0.8700" stop-color="#000080"/><stop offset="1.0000" stop-color="#000080"/></linearGradient>
<linearGradient id="mg18" gradientUnits="userSpaceOnUse" x1="425" y1="0" x2="457" y2="0"><stop offset="0" stop-color="#000"/><stop offset="1" stop-color="#fff"/></linearGradient>
<mask id="mk18" maskUnits="userSpaceOnUse" x="425" y="161.47" width="493.0" height="297.33"><rect x="425" y="161.47" width="493.0" height="297.33" fill="url(#mg18)"/></mask>
<linearGradient id="hg19" gradientUnits="userSpaceOnUse" x1="0" y1="167.47" x2="0" y2="454.80"><stop offset="0.0000" stop-color="#73ff84"/><stop offset="0.0100" stop-color="#79ff7e"/><stop offset="0.0200" stop-color="#7eff78"/><stop offset="0.0300" stop-color="#84ff73"/><stop offset="0.0400" stop-color="#8aff6d"/><stop offset="0.0500" stop-color="#8fff67"/><stop offset="0.0600" stop-color="#95ff62"/><stop offset="0.0700" stop-color="#9bff5c"/><stop offset="0.0800" stop-color="#a0ff56"/><stop offset="0.0900" stop-color="#a6ff51"/><stop offset="0.1000" stop-color="#acff4b"/><stop offset="0.1100" stop-color="#b2ff45"/><stop offset="0.1200" stop-color="#b7ff40"/><stop offset="0.1300" stop-color="#bcff3b"/><stop offset="0.1400" stop-color="#c0ff36"/><stop offset="0.1500" stop-color="#c5ff32"/><stop offset="0.1600" stop-color="#caff2d"/><stop offset="0.1700" stop-color="#ceff28"/><stop offset="0.1800" stop-color="#d3ff24"/><stop offset="0.1900" stop-color="#d8ff1f"/><stop offset="0.2000" stop-color="#ddff1a"/><stop offset="0.2100" stop-color="#e1ff16"/><stop offset="0.2200" stop-color="#e6ff10"/><stop offset="0.2300" stop-color="#ebff0b"/><stop offset="0.2400" stop-color="#f1fd06"/><stop offset="0.2500" stop-color="#f6f701"/><stop offset="0.2600" stop-color="#fbf100"/><stop offset="0.2700" stop-color="#feed00"/><stop offset="0.2800" stop-color="#ffe900"/><stop offset="0.2900" stop-color="#ffe500"/><stop offset="0.3000" stop-color="#ffe000"/><stop offset="0.3100" stop-color="#ffdc00"/><stop offset="0.3200" stop-color="#ffd800"/><stop offset="0.3300" stop-color="#ffd500"/><stop offset="0.3400" stop-color="#ffd100"/><stop offset="0.3500" stop-color="#ffcd00"/><stop offset="0.3600" stop-color="#ffca00"/><stop offset="0.3700" stop-color="#ffc800"/><stop offset="0.3800" stop-color="#ffc600"/><stop offset="0.3900" stop-color="#ffc400"/><stop offset="0.4000" stop-color="#ffc200"/><stop offset="0.4100" stop-color="#ffc100"/><stop offset="0.4200" stop-color="#ffc000"/><stop offset="0.4300" stop-color="#ffbf00"/><stop offset="0.4400" stop-color="#ffbe00"/><stop offset="0.4500" stop-color="#ffbd00"/><stop offset="0.4600" stop-color="#ffbb00"/><stop offset="0.4700" stop-color="#ffba00"/><stop offset="0.4800" stop-color="#ffb900"/><stop offset="0.4900" stop-color="#ffb700"/><stop offset="0.5000" stop-color="#ffb300"/><stop offset="0.5100" stop-color="#ffb000"/><stop offset="0.5200" stop-color="#ffac00"/><stop offset="0.5300" stop-color="#ffa900"/><stop offset="0.5400" stop-color="#ffa500"/><stop offset="0.5500" stop-color="#ffa400"/><stop offset="0.5600" stop-color="#ffa200"/><stop offset="0.5700" stop-color="#ffa100"/><stop offset="0.5800" stop-color="#ff9f00"/><stop offset="0.5900" stop-color="#ff9d00"/><stop offset="0.6000" stop-color="#ff9c00"/><stop offset="0.6100" stop-color="#ffa300"/><stop offset="0.6200" stop-color="#ffaa00"/><stop offset="0.6300" stop-color="#ffb100"/><stop offset="0.6400" stop-color="#ffb800"/><stop offset="0.6500" stop-color="#ffc100"/><stop offset="0.6600" stop-color="#ffc900"/><stop offset="0.6700" stop-color="#ffd400"/><stop offset="0.6800" stop-color="#ffe600"/><stop offset="0.6900" stop-color="#f4f802"/><stop offset="0.7000" stop-color="#dcff1b"/><stop offset="0.7100" stop-color="#c3ff34"/><stop offset="0.7200" stop-color="#aaff4d"/><stop offset="0.7300" stop-color="#91ff66"/><stop offset="0.7400" stop-color="#78ff7f"/><stop offset="0.7500" stop-color="#5aff9d"/><stop offset="0.7600" stop-color="#33ffc4"/><stop offset="0.7700" stop-color="#09f0ee"/><stop offset="0.7800" stop-color="#00b5ff"/><stop offset="0.7900" stop-color="#0076ff"/><stop offset="0.8000" stop-color="#002eff"/><stop offset="0.8100" stop-color="#0000f4"/><stop offset="0.8200" stop-color="#0000a6"/><stop offset="0.8300" stop-color="#000080"/><stop offset="0.8400" stop-color="#000080"/><stop offset="0.8500" stop-color="#000080"/><stop offset="0.8600" stop-color="#000080"/><stop offset="0.8700" stop-color="#000080"/><stop offset="1.0000" stop-color="#000080"/></linearGradient>
<linearGradient id="mg19" gradientUnits="userSpaceOnUse" x1="457" y1="0" x2="511" y2="0"><stop offset="0" stop-color="#000"/><stop offset="1" stop-color="#fff"/></linearGradient>
<mask id="mk19" maskUnits="userSpaceOnUse" x="457" y="161.47" width="461.0" height="297.33"><rect x="457" y="161.47" width="461.0" height="297.33" fill="url(#mg19)"/></mask>
<linearGradient id="hg20" gradientUnits="userSpaceOnUse" x1="0" y1="167.47" x2="0" y2="454.80"><stop offset="0.0000" stop-color="#5fff98"/><stop offset="0.0100" stop-color="#64ff93"/><stop offset="0.0200" stop-color="#6aff8d"/><stop offset="0.0300" stop-color="#71ff86"/><stop offset="0.0400" stop-color="#78ff7f"/><stop offset="0.0500" stop-color="#7fff78"/><stop offset="0.0600" stop-color="#86ff71"/><stop offset="0.0700" stop-color="#8dff6a"/><stop offset="0.0800" stop-color="#94ff63"/><stop offset="0.0900" stop-color="#9bff5c"/><stop offset="0.1000" stop-color="#a2ff55"/><stop offset="0.1100" stop-color="#a9ff4e"/><stop offset="0.1200" stop-color="#afff48"/><stop offset="0.1300" stop-color="#b4ff43"/><stop offset="0.1400" stop-color="#b9ff3e"/><stop offset="0.1500" stop-color="#beff39"/><stop offset="0.1600" stop-color="#c3ff33"/><stop offset="0.1700" stop-color="#c9ff2e"/><stop offset="0.1800" stop-color="#ceff29"/><stop offset="0.1900" stop-color="#d3ff24"/><stop offset="0.2000" stop-color="#d8ff1f"/><stop offset="0.2100" stop-color="#ddff1a"/><stop offset="0.2200" stop-color="#e3ff14"/><stop offset="0.2300" stop-color="#e9ff0e"/><stop offset="0.2400" stop-color="#efff08"/><stop offset="0.2500" stop-color="#f5f802"/><stop offset="0.2600" stop-color="#fbf100"/><stop offset="0.2700" stop-color="#ffec00"/><stop offset="0.2800" stop-color="#ffe700"/><stop offset="0.2900" stop-color="#ffe100"/><stop offset="0.3000" stop-color="#ffdc00"/><stop offset="0.3100" stop-color="#ffd800"/><stop offset="0.3200" stop-color="#ffd400"/><stop offset="0.3300" stop-color="#ffd000"/><stop offset="0.3400" stop-color="#ffcc00"/><stop offset="0.3500" stop-color="#ffc800"/><stop offset="0.3600" stop-color="#ffc500"/><stop offset="0.3700" stop-color="#ffc300"/><stop offset="0.3800" stop-color="#ffc100"/><stop offset="0.3900" stop-color="#ffbf00"/><stop offset="0.4000" stop-color="#ffbd00"/><stop offset="0.4100" stop-color="#ffbd00"/><stop offset="0.4200" stop-color="#ffbd00"/><stop offset="0.4300" stop-color="#ffbd00"/><stop offset="0.4400" stop-color="#ffbd00"/><stop offset="0.4500" stop-color="#ffbd00"/><stop offset="0.4600" stop-color="#ffbb00"/><stop offset="0.4700" stop-color="#ffba00"/><stop offset="0.4800" stop-color="#ffb900"/><stop offset="0.4900" stop-color="#ffb700"/><stop offset="0.5000" stop-color="#ffb300"/><stop offset="0.5100" stop-color="#ffb000"/><stop offset="0.5200" stop-color="#ffac00"/><stop offset="0.5300" stop-color="#ffa900"/><stop offset="0.5400" stop-color="#ffa500"/><stop offset="0.5500" stop-color="#ffa400"/><stop offset="0.5600" stop-color="#ffa200"/><stop offset="0.5700" stop-color="#ffa100"/><stop offset="0.5800" stop-color="#ff9f00"/><stop offset="0.5900" stop-color="#ff9d00"/><stop offset="0.6000" stop-color="#ff9c00"/><stop offset="0.6100" stop-color="#ffa300"/><stop offset="0.6200" stop-color="#ffaa00"/><stop offset="0.6300" stop-color="#ffb100"/><stop offset="0.6400" stop-color="#ffb800"/><stop offset="0.6500" stop-color="#ffc100"/><stop offset="0.6600" stop-color="#ffc900"/><stop offset="0.6700" stop-color="#ffd400"/><stop offset="0.6800" stop-color="#ffe500"/><stop offset="0.6900" stop-color="#f5f701"/><stop offset="0.7000" stop-color="#deff19"/><stop offset="0.7100" stop-color="#c5ff32"/><stop offset="0.7200" stop-color="#acff4b"/><stop offset="0.7300" stop-color="#93ff64"/><stop offset="0.7400" stop-color="#7aff7d"/><stop offset="0.7500" stop-color="#5eff99"/><stop offset="0.7600" stop-color="#36ffc1"/><stop offset="0.7700" stop-color="#0df6ea"/><stop offset="0.7800" stop-color="#00bbff"/><stop offset="0.7900" stop-color="#007dff"/><stop offset="0.8000" stop-color="#0035ff"/><stop offset="0.8100" stop-color="#0000fc"/><stop offset="0.8200" stop-color="#0000ae"/><stop offset="0.8300" stop-color="#000080"/><stop offset="0.8400" stop-color="#000080"/><stop offset="0.8500" stop-color="#000080"/><stop offset="0.8600" stop-color="#000080"/><stop offset="0.8700" stop-color="#000080"/><stop offset="1.0000" stop-color="#000080"/></linearGradient>
<linearGradient id="mg20" gradientUnits="userSpaceOnUse" x1="511" y1="0" x2="545" y2="0"><stop offset="0" stop-color="#000"/><stop offset="1" stop-color="#fff"/></linearGradient>
<mask id="mk20" maskUnits="userSpaceOnUse" x="511" y="161.47" width="407.0" height="297.33"><rect x="511" y="161.47" width="407.0" height="297.33" fill="url(#mg20)"/></mask>
<linearGradient id="hg21" gradientUnits="userSpaceOnUse" x1="0" y1="167.47" x2="0" y2="454.80"><stop offset="0.0000" stop-color="#67ff90"/><stop offset="0.0100" stop-color="#6cff8b"/><stop offset="0.0200" stop-color="#6fff88"/><stop offset="0.0300" stop-color="#72ff84"/><stop offset="0.0400" stop-color="#76ff81"/><stop offset="0.0500" stop-color="#79ff7d"/><stop offset="0.0600" stop-color="#7dff7a"/><stop offset="0.0700" stop-color="#81ff76"/><stop offset="0.0800" stop-color="#89ff6e"/><stop offset="0.0900" stop-color="#90ff66"/><stop offset="0.1000" stop-color="#98ff5f"/><stop offset="0.1100" stop-color="#a0ff57"/><stop offset="0.1200" stop-color="#a7ff50"/><stop offset="0.1300" stop-color="#adff4a"/><stop offset="0.1400" stop-color="#b3ff44"/><stop offset="0.1500" stop-color="#b9ff3e"/><stop offset="0.1600" stop-color="#bfff38"/><stop offset="0.1700" stop-color="#c5ff32"/><stop offset="0.1800" stop-color="#cbff2c"/><stop offset="0.1900" stop-color="#d1ff26"/><stop offset="0.2000" stop-color="#d7ff20"/><stop offset="0.2100" stop-color="#ddff1a"/><stop offset="0.2200" stop-color="#e3ff14"/><stop offset="0.2300" stop-color="#eaff0d"/><stop offset="0.2400" stop-color="#f0fd07"/><stop offset="0.2500" stop-color="#f5f802"/><stop offset="0.2600" stop-color="#f8f400"/><stop offset="0.2700" stop-color="#fbf100"/><stop offset="0.2800" stop-color="#feed00"/><stop offset="0.2900" stop-color="#ffe800"/><stop offset="0.3000" stop-color="#ffe300"/><stop offset="0.3100" stop-color="#ffde00"/><stop offset="0.3200" stop-color="#ffd900"/><stop offset="0.3300" stop-color="#ffd500"/><stop offset="0.3400" stop-color="#ffd200"/><stop offset="0.3500" stop-color="#ffcf00"/><stop offset="0.3600" stop-color="#ffcc00"/><stop offset="0.3700" stop-color="#ffc900"/><stop offset="0.3800" stop-color="#ffc600"/><stop offset="0.3900" stop-color="#ffc500"/><stop offset="0.4000" stop-color="#ffc300"/><stop offset="0.4100" stop-color="#ffc200"/><stop offset="0.4200" stop-color="#ffc100"/><stop offset="0.4300" stop-color="#ffbf00"/><stop offset="0.4400" stop-color="#ffbe00"/><stop offset="0.4500" stop-color="#ffbd00"/><stop offset="0.4600" stop-color="#ffbb00"/><stop offset="0.4700" stop-color="#ffba00"/><stop offset="0.4800" stop-color="#ffb900"/><stop offset="0.4900" stop-color="#ffb700"/><stop offset="0.5000" stop-color="#ffb300"/><stop offset="0.5100" stop-color="#ffb000"/><stop offset="0.5200" stop-color="#ffac00"/><stop offset="0.5300" stop-color="#ffa900"/><stop offset="0.5400" stop-color="#ffa500"/><stop offset="0.5500" stop-color="#ffa400"/><stop offset="0.5600" stop-color="#ffa200"/><stop offset="0.5700" stop-color="#ffa100"/><stop offset="0.5800" stop-color="#ff9f00"/><stop offset="0.5900" stop-color="#ff9d00"/><stop offset="0.6000" stop-color="#ff9c00"/><stop offset="0.6100" stop-color="#ffa300"/><stop offset="0.6200" stop-color="#ffaa00"/><stop offset="0.6300" stop-color="#ffb100"/><stop offset="0.6400" stop-color="#ffb800"/><stop offset="0.6500" stop-color="#ffc100"/><stop offset="0.6600" stop-color="#ffc900"/><stop offset="0.6700" stop-color="#ffd400"/><stop offset="0.6800" stop-color="#ffe500"/><stop offset="0.6900" stop-color="#f5f701"/><stop offset="0.7000" stop-color="#deff19"/><stop offset="0.7100" stop-color="#c5ff32"/><stop offset="0.7200" stop-color="#acff4b"/><stop offset="0.7300" stop-color="#93ff64"/><stop offset="0.7400" stop-color="#7aff7d"/><stop offset="0.7500" stop-color="#5eff99"/><stop offset="0.7600" stop-color="#36ffc1"/><stop offset="0.7700" stop-color="#0df6ea"/><stop offset="0.7800" stop-color="#00bbff"/><stop offset="0.7900" stop-color="#007dff"/><stop offset="0.8000" stop-color="#0035ff"/><stop offset="0.8100" stop-color="#0000fc"/><stop offset="0.8200" stop-color="#0000ae"/><stop offset="0.8300" stop-color="#000080"/><stop offset="0.8400" stop-color="#000080"/><stop offset="0.8500" stop-color="#000080"/><stop offset="0.8600" stop-color="#000080"/><stop offset="0.8700" stop-color="#000080"/><stop offset="1.0000" stop-color="#000080"/></linearGradient>
<linearGradient id="mg21" gradientUnits="userSpaceOnUse" x1="545" y1="0" x2="568" y2="0"><stop offset="0" stop-color="#000"/><stop offset="1" stop-color="#fff"/></linearGradient>
<mask id="mk21" maskUnits="userSpaceOnUse" x="545" y="161.47" width="373.0" height="297.33"><rect x="545" y="161.47" width="373.0" height="297.33" fill="url(#mg21)"/></mask>
<linearGradient id="hg22" gradientUnits="userSpaceOnUse" x1="0" y1="167.47" x2="0" y2="454.80"><stop offset="0.0000" stop-color="#67ff90"/><stop offset="0.0100" stop-color="#6cff8b"/><stop offset="0.0200" stop-color="#6fff88"/><stop offset="0.0300" stop-color="#72ff84"/><stop offset="0.0400" stop-color="#76ff81"/><stop offset="0.0500" stop-color="#79ff7d"/><stop offset="0.0600" stop-color="#7dff7a"/><stop offset="0.0700" stop-color="#81ff76"/><stop offset="0.0800" stop-color="#89ff6e"/><stop offset="0.0900" stop-color="#90ff66"/><stop offset="0.1000" stop-color="#98ff5f"/><stop offset="0.1100" stop-color="#a0ff57"/><stop offset="0.1200" stop-color="#a7ff50"/><stop offset="0.1300" stop-color="#adff4a"/><stop offset="0.1400" stop-color="#b3ff44"/><stop offset="0.1500" stop-color="#b9ff3e"/><stop offset="0.1600" stop-color="#bfff38"/><stop offset="0.1700" stop-color="#c5ff32"/><stop offset="0.1800" stop-color="#cbff2c"/><stop offset="0.1900" stop-color="#d1ff26"/><stop offset="0.2000" stop-color="#d7ff20"/><stop offset="0.2100" stop-color="#ddff1a"/><stop offset="0.2200" stop-color="#e3ff14"/><stop offset="0.2300" stop-color="#eaff0d"/><stop offset="0.2400" stop-color="#f0fd07"/><stop offset="0.2500" stop-color="#f5f802"/><stop offset="0.2600" stop-color="#f8f400"/><stop offset="0.2700" stop-color="#fbf100"/><stop offset="0.2800" stop-color="#feed00"/><stop offset="0.2900" stop-color="#ffe800"/><stop offset="0.3000" stop-color="#ffe300"/><stop offset="0.3100" stop-color="#ffde00"/><stop offset="0.3200" stop-color="#ffd900"/><stop offset="0.3300" stop-color="#ffd500"/><stop offset="0.3400" stop-color="#ffd200"/><stop offset="0.3500" stop-color="#ffcf00"/><stop offset="0.3600" stop-color="#ffcc00"/><stop offset="0.3700" stop-color="#ffc900"/><stop offset="0.3800" stop-color="#ffc600"/><stop offset="0.3900" stop-color="#ffc500"/><stop offset="0.4000" stop-color="#ffc300"/><stop offset="0.4100" stop-color="#ffc200"/><stop offset="0.4200" stop-color="#ffc100"/><stop offset="0.4300" stop-color="#ffbf00"/><stop offset="0.4400" stop-color="#ffbe00"/><stop offset="0.4500" stop-color="#ffbd00"/><stop offset="0.4600" stop-color="#ffbb00"/><stop offset="0.4700" stop-color="#ffba00"/><stop offset="0.4800" stop-color="#ffb900"/><stop offset="0.4900" stop-color="#ffb700"/><stop offset="0.5000" stop-color="#ffb300"/><stop offset="0.5100" stop-color="#ffb000"/><stop offset="0.5200" stop-color="#ffac00"/><stop offset="0.5300" stop-color="#ffa900"/><stop offset="0.5400" stop-color="#ffa500"/><stop offset="0.5500" stop-color="#ffa400"/><stop offset="0.5600" stop-color="#ffa200"/><stop offset="0.5700" stop-color="#ffa100"/><stop offset="0.5800" stop-color="#ff9f00"/><stop offset="0.5900" stop-color="#ff9d00"/><stop offset="0.6000" stop-color="#ff9c00"/><stop offset="0.6100" stop-color="#ffa300"/><stop offset="0.6200" stop-color="#ffaa00"/><stop offset="0.6300" stop-color="#ffb100"/><stop offset="0.6400" stop-color="#ffb800"/><stop offset="0.6500" stop-color="#ffc100"/><stop offset="0.6600" stop-color="#ffc900"/><stop offset="0.6700" stop-color="#ffd400"/><stop offset="0.6800" stop-color="#ffe500"/><stop offset="0.6900" stop-color="#f5f701"/><stop offset="0.7000" stop-color="#deff19"/><stop offset="0.7100" stop-color="#c5ff32"/><stop offset="0.7200" stop-color="#acff4b"/><stop offset="0.7300" stop-color="#93ff64"/><stop offset="0.7400" stop-color="#7aff7d"/><stop offset="0.7500" stop-color="#5eff99"/><stop offset="0.7600" stop-color="#36ffc1"/><stop offset="0.7700" stop-color="#0df6ea"/><stop offset="0.7800" stop-color="#00bbff"/><stop offset="0.7900" stop-color="#007dff"/><stop offset="0.8000" stop-color="#0035ff"/><stop offset="0.8100" stop-color="#0000fc"/><stop offset="0.8200" stop-color="#0000ae"/><stop offset="0.8300" stop-color="#000080"/><stop offset="0.8400" stop-color="#000080"/><stop offset="0.8500" stop-color="#000080"/><stop offset="0.8600" stop-color="#000080"/><stop offset="0.8700" stop-color="#000080"/><stop offset="1.0000" stop-color="#000080"/></linearGradient>
<linearGradient id="mg22" gradientUnits="userSpaceOnUse" x1="568" y1="0" x2="579" y2="0"><stop offset="0" stop-color="#000"/><stop offset="1" stop-color="#fff"/></linearGradient>
<mask id="mk22" maskUnits="userSpaceOnUse" x="568" y="161.47" width="350.0" height="297.33"><rect x="568" y="161.47" width="350.0" height="297.33" fill="url(#mg22)"/></mask>
<linearGradient id="hg23" gradientUnits="userSpaceOnUse" x1="0" y1="167.47" x2="0" y2="454.80"><stop offset="0.0000" stop-color="#94ff63"/><stop offset="0.0100" stop-color="#92ff65"/><stop offset="0.0200" stop-color="#90ff67"/><stop offset="0.0300" stop-color="#8eff69"/><stop offset="0.0400" stop-color="#8cff6b"/><stop offset="0.0500" stop-color="#89ff6e"/><stop offset="0.0600" stop-color="#86ff71"/><stop offset="0.0700" stop-color="#85ff72"/><stop offset="0.0800" stop-color="#8cff6b"/><stop offset="0.0900" stop-color="#93ff64"/><stop offset="0.1000" stop-color="#9aff5d"/><stop offset="0.1100" stop-color="#a0ff56"/><stop offset="0.1200" stop-color="#a7ff50"/><stop offset="0.1300" stop-color="#adff4a"/><stop offset="0.1400" stop-color="#b3ff44"/><stop offset="0.1500" stop-color="#b9ff3e"/><stop offset="0.1600" stop-color="#bfff38"/><stop offset="0.1700" stop-color="#c5ff32"/><stop offset="0.1800" stop-color="#cbff2c"/><stop offset="0.1900" stop-color="#d1ff26"/><stop offset="0.2000" stop-color="#d7ff20"/><stop offset="0.2100" stop-color="#ddff1a"/><stop offset="0.2200" stop-color="#e3ff14"/><stop offset="0.2300" stop-color="#eaff0d"/><stop offset="0.2400" stop-color="#f0fd07"/><stop offset="0.2500" stop-color="#f5f802"/><stop offset="0.2600" stop-color="#f8f400"/><stop offset="0.2700" stop-color="#fbf100"/><stop offset="0.2800" stop-color="#feed00"/><stop offset="0.2900" stop-color="#ffe800"/><stop offset="0.3000" stop-color="#ffe300"/><stop offset="0.3100" stop-color="#ffde00"/><stop offset="0.3200" stop-color="#ffd900"/><stop offset="0.3300" stop-color="#ffd500"/><stop offset="0.3400" stop-color="#ffd200"/><stop offset="0.3500" stop-color="#ffcf00"/><stop offset="0.3600" stop-color="#ffcc00"/><stop offset="0.3700" stop-color="#ffc900"/><stop offset="0.3800" stop-color="#ffc600"/><stop offset="0.3900" stop-color="#ffc500"/><stop offset="0.4000" stop-color="#ffc300"/><stop offset="0.4100" stop-color="#ffc200"/><stop offset="0.4200" stop-color="#ffc100"/><stop offset="0.4300" stop-color="#ffbf00"/><stop offset="0.4400" stop-color="#ffbe00"/><stop offset="0.4500" stop-color="#ffbd00"/><stop offset="0.4600" stop-color="#ffbb00"/><stop offset="0.4700" stop-color="#ffba00"/><stop offset="0.4800" stop-color="#ffb900"/><stop offset="0.4900" stop-color="#ffb700"/><stop offset="0.5000" stop-color="#ffb300"/><stop offset="0.5100" stop-color="#ffb000"/><stop offset="0.5200" stop-color="#ffac00"/><stop offset="0.5300" stop-color="#ffa900"/><stop offset="0.5400" stop-color="#ffa500"/><stop offset="0.5500" stop-color="#ffa400"/><stop offset="0.5600" stop-color="#ffa200"/><stop offset="0.5700" stop-color="#ffa100"/><stop offset="0.5800" stop-color="#ff9f00"/><stop offset="0.5900" stop-color="#ff9d00"/><stop offset="0.6000" stop-color="#ff9c00"/><stop offset="0.6100" stop-color="#ffa300"/><stop offset="0.6200" stop-color="#ffaa00"/><stop offset="0.6300" stop-color="#ffb100"/><stop offset="0.6400" stop-color="#ffb800"/><stop offset="0.6500" stop-color="#ffc100"/><stop offset="0.6600" stop-color="#ffc900"/><stop offset="0.6700" stop-color="#ffd400"/><stop offset="0.6800" stop-color="#ffe500"/><stop offset="0.6900" stop-color="#f5f701"/><stop offset="0.7000" stop-color="#deff19"/><stop offset="0.7100" stop-color="#c5ff32"/><stop offset="0.7200" stop-color="#acff4b"/><stop offset="0.7300" stop-color="#93ff64"/><stop offset="0.7400" stop-color="#7aff7d"/><stop offset="0.7500" stop-color="#5eff99"/><stop offset="0.7600" stop-color="#36ffc1"/><stop offset="0.7700" stop-color="#0df6ea"/><stop offset="0.7800" stop-color="#00bbff"/><stop offset="0.7900" stop-color="#007dff"/><stop offset="0.8000" stop-color="#0035ff"/><stop offset="0.8100" stop-color="#0000fc"/><stop offset="0.8200" stop-color="#0000ae"/><stop offset="0.8300" stop-color="#000080"/><stop offset="0.8400" stop-color="#000080"/><stop offset="0.8500" stop-color="#000080"/><stop offset="0.8600" stop-color="#000080"/><stop offset="0.8700" stop-color="#000080"/><stop offset="1.0000" stop-color="#000080"/></linearGradient>
<linearGradient id="mg23" gradientUnits="userSpaceOnUse" x1="579" y1="0" x2="585" y2="0"><stop offset="0" stop-color="#000"/><stop offset="1" stop-color="#fff"/></linearGradient>
<mask id="mk23" maskUnits="userSpaceOnUse" x="579" y="161.47" width="339.0" height="297.33"><rect x="579" y="161.47" width="339.0" height="297.33" fill="url(#mg23)"/></mask>
<linearGradient id="hg24" gradientUnits="userSpaceOnUse" x1="0" y1="167.47" x2="0" y2="454.80"><stop offset="0.0000" stop-color="#5aff9c"/><stop offset="0.0100" stop-color="#5fff98"/><stop offset="0.0200" stop-color="#63ff94"/><stop offset="0.0300" stop-color="#67ff90"/><stop offset="0.0400" stop-color="#6bff8b"/><stop offset="0.0500" stop-color="#70ff87"/><stop offset="0.0600" stop-color="#74ff83"/><stop offset="0.0700" stop-color="#79ff7e"/><stop offset="0.0800" stop-color="#81ff76"/><stop offset="0.0900" stop-color="#88ff6f"/><stop offset="0.1000" stop-color="#90ff67"/><stop offset="0.1100" stop-color="#98ff5f"/><stop offset="0.1200" stop-color="#9fff58"/><stop offset="0.1300" stop-color="#a6ff51"/><stop offset="0.1400" stop-color="#adff4a"/><stop offset="0.1500" stop-color="#b4ff43"/><stop offset="0.1600" stop-color="#baff3c"/><stop offset="0.1700" stop-color="#c1ff36"/><stop offset="0.1800" stop-color="#c7ff30"/><stop offset="0.1900" stop-color="#cdff2a"/><stop offset="0.2000" stop-color="#d3ff24"/><stop offset="0.2100" stop-color="#d9ff1e"/><stop offset="0.2200" stop-color="#dfff18"/><stop offset="0.2300" stop-color="#e6ff11"/><stop offset="0.2400" stop-color="#ecff0b"/><stop offset="0.2500" stop-color="#f1fc06"/><stop offset="0.2600" stop-color="#f5f701"/><stop offset="0.2700" stop-color="#faf200"/><stop offset="0.2800" stop-color="#feed00"/><stop offset="0.2900" stop-color="#ffe800"/><stop offset="0.3000" stop-color="#ffe300"/><stop offset="0.3100" stop-color="#ffde00"/><stop offset="0.3200" stop-color="#ffd900"/><stop offset="0.3300" stop-color="#ffd500"/><stop offset="0.3400" stop-color="#ffd200"/><stop offset="0.3500" stop-color="#ffcf00"/><stop offset="0.3600" stop-color="#ffcc00"/><stop offset="0.3700" stop-color="#ffc900"/><stop offset="0.3800" stop-color="#ffc600"/><stop offset="0.3900" stop-color="#ffc500"/><stop offset="0.4000" stop-color="#ffc300"/><stop offset="0.4100" stop-color="#ffc200"/><stop offset="0.4200" stop-color="#ffc100"/><stop offset="0.4300" stop-color="#ffbf00"/><stop offset="0.4400" stop-color="#ffbe00"/><stop offset="0.4500" stop-color="#ffbd00"/><stop offset="0.4600" stop-color="#ffbb00"/><stop offset="0.4700" stop-color="#ffba00"/><stop offset="0.4800" stop-color="#ffb900"/><stop offset="0.4900" stop-color="#ffb700"/><stop offset="0.5000" stop-color="#ffb300"/><stop offset="0.5100" stop-color="#ffb000"/><stop offset="0.5200" stop-color="#ffac00"/><stop offset="0.5300" stop-color="#ffa900"/><stop offset="0.5400" stop-color="#ffa500"/><stop offset="0.5500" stop-color="#ffa400"/><stop offset="0.5600" stop-color="#ffa200"/><stop offset="0.5700" stop-color="#ffa100"/><stop offset="0.5800" stop-color="#ff9f00"/><stop offset="0.5900" stop-color="#ff9d00"/><stop offset="0.6000" stop-color="#ff9c00"/><stop offset="0.6100" stop-color="#ffa300"/><stop offset="0.6200" stop-color="#ffaa00"/><stop offset="0.6300" stop-color="#ffb100"/><stop offset="0.6400" stop-color="#ffb800"/><stop offset="0.6500" stop-color="#ffc100"/><stop offset="0.6600" stop-color="#ffc900"/><stop offset="0.6700" stop-color="#ffd400"/><stop offset="0.6800" stop-color="#ffe500"/><stop offset="0.6900" stop-color="#f5f701"/><stop offset="0.7000" stop-color="#deff19"/><stop offset="0.7100" stop-color="#c5ff32"/><stop offset="0.7200" stop-color="#acff4b"/><stop offset="0.7300" stop-color="#93ff64"/><stop offset="0.7400" stop-color="#7aff7d"/><stop offset="0.7500" stop-color="#5eff99"/><stop offset="0.7600" stop-color="#36ffc1"/><stop offset="0.7700" stop-color="#0df6ea"/><stop offset="0.7800" stop-color="#00bbff"/><stop offset="0.7900" stop-color="#007dff"/><stop offset="0.8000" stop-color="#0035ff"/><stop offset="0.8100" stop-color="#0000fc"/><stop offset="0.8200" stop-color="#0000ae"/><stop offset="0.8300" stop-color="#000080"/><stop offset="0.8400" stop-color="#000080"/><stop offset="0.8500" stop-color="#000080"/><stop offset="0.8600" stop-color="#000080"/><stop offset="0.8700" stop-color="#000080"/><stop offset="1.0000" stop-color="#000080"/></linearGradient>
<linearGradient id="mg24" gradientUnits="userSpaceOnUse" x1="585" y1="0" x2="591" y2="0"><stop offset="0" stop-color="#000"/><stop offset="1" stop-color="#fff"/></linearGradient>
<mask id="mk24" maskUnits="userSpaceOnUse" x="585" y="161.47" width="333.0" height="297.33"><rect x="585" y="161.47" width="333.0" height="297.33" fill="url(#mg24)"/></mask>
<linearGradient id="hg25" gradientUnits="userSpaceOnUse" x1="0" y1="167.47" x2="0" y2="454.80"><stop offset="0.0000" stop-color="#3affbd"/><stop offset="0.0100" stop-color="#41ffb6"/><stop offset="0.0200" stop-color="#48ffaf"/><stop offset="0.0300" stop-color="#4fffa7"/><stop offset="0.0400" stop-color="#57ffa0"/><stop offset="0.0500" stop-color="#5eff99"/><stop offset="0.0600" stop-color="#65ff92"/><stop offset="0.0700" stop-color="#6dff8a"/><stop offset="0.0800" stop-color="#75ff82"/><stop offset="0.0900" stop-color="#7eff79"/><stop offset="0.1000" stop-color="#86ff70"/><stop offset="0.1100" stop-color="#8fff68"/><stop offset="0.1200" stop-color="#97ff60"/><stop offset="0.1300" stop-color="#9fff58"/><stop offset="0.1400" stop-color="#a7ff50"/><stop offset="0.1500" stop-color="#aeff48"/><stop offset="0.1600" stop-color="#b6ff41"/><stop offset="0.1700" stop-color="#bdff3a"/><stop offset="0.1800" stop-color="#c3ff34"/><stop offset="0.1900" stop-color="#c9ff2e"/><stop offset="0.2000" stop-color="#cfff28"/><stop offset="0.2100" stop-color="#d5ff22"/><stop offset="0.2200" stop-color="#dcff1b"/><stop offset="0.2300" stop-color="#e4ff13"/><stop offset="0.2400" stop-color="#ebff0b"/><stop offset="0.2500" stop-color="#f1fc06"/><stop offset="0.2600" stop-color="#f5f701"/><stop offset="0.2700" stop-color="#faf200"/><stop offset="0.2800" stop-color="#feed00"/><stop offset="0.2900" stop-color="#ffe800"/><stop offset="0.3000" stop-color="#ffe300"/><stop offset="0.3100" stop-color="#ffde00"/><stop offset="0.3200" stop-color="#ffd900"/><stop offset="0.3300" stop-color="#ffd500"/><stop offset="0.3400" stop-color="#ffd200"/><stop offset="0.3500" stop-color="#ffcf00"/><stop offset="0.3600" stop-color="#ffcc00"/><stop offset="0.3700" stop-color="#ffc900"/><stop offset="0.3800" stop-color="#ffc600"/><stop offset="0.3900" stop-color="#ffc500"/><stop offset="0.4000" stop-color="#ffc300"/><stop offset="0.4100" stop-color="#ffc200"/><stop offset="0.4200" stop-color="#ffc100"/><stop offset="0.4300" stop-color="#ffbf00"/><stop offset="0.4400" stop-color="#ffbe00"/><stop offset="0.4500" stop-color="#ffbd00"/><stop offset="0.4600" stop-color="#ffbb00"/><stop offset="0.4700" stop-color="#ffba00"/><stop offset="0.4800" stop-color="#ffb900"/><stop offset="0.4900" stop-color="#ffb700"/><stop offset="0.5000" stop-color="#ffb300"/><stop offset="0.5100" stop-color="#ffb000"/><stop offset="0.5200" stop-color="#ffac00"/><stop offset="0.5300" stop-color="#ffa900"/><stop offset="0.5400" stop-color="#ffa500"/><stop offset="0.5500" stop-color="#ffa400"/><stop offset="0.5600" stop-color="#ffa200"/><stop offset="0.5700" stop-color="#ffa100"/><stop offset="0.5800" stop-color="#ff9f00"/><stop offset="0.5900" stop-color="#ff9d00"/><stop offset="0.6000" stop-color="#ff9c00"/><stop offset="0.6100" stop-color="#ffa300"/><stop offset="0.6200" stop-color="#ffaa00"/><stop offset="0.6300" stop-color="#ffb100"/><stop offset="0.6400" stop-color="#ffb800"/><stop offset="0.6500" stop-color="#ffc100"/><stop offset="0.6600" stop-color="#ffc900"/><stop offset="0.6700" stop-color="#ffd400"/><stop offset="0.6800" stop-color="#ffe500"/><stop offset="0.6900" stop-color="#f5f701"/><stop offset="0.7000" stop-color="#deff19"/><stop offset="0.7100" stop-color="#c5ff32"/><stop offset="0.7200" stop-color="#acff4b"/><stop offset="0.7300" stop-color="#93ff64"/><stop offset="0.7400" stop-color="#7aff7d"/><stop offset="0.7500" stop-color="#5eff99"/><stop offset="0.7600" stop-color="#36ffc1"/><stop offset="0.7700" stop-color="#0df6ea"/><stop offset="0.7800" stop-color="#00bbff"/><stop offset="0.7900" stop-color="#007dff"/><stop offset="0.8000" stop-color="#0035ff"/><stop offset="0.8100" stop-color="#0000fc"/><stop offset="0.8200" stop-color="#0000ae"/><stop offset="0.8300" stop-color="#000080"/><stop offset="0.8400" stop-color="#000080"/><stop offset="0.8500" stop-color="#000080"/><stop offset="0.8600" stop-color="#000080"/><stop offset="0.8700" stop-color="#000080"/><stop offset="1.0000" stop-color="#000080"/></linearGradient>
<linearGradient id="mg25" gradientUnits="userSpaceOnUse" x1="591" y1="0" x2="601" y2="0"><stop offset="0" stop-color="#000"/><stop offset="1" stop-color="#fff"/></linearGradient>
<mask id="mk25" maskUnits="userSpaceOnUse" x="591" y="161.47" width="327.0" height="297.33"><rect x="591" y="161.47" width="327.0" height="297.33" fill="url(#mg25)"/></mask>
<linearGradient id="hg26" gradientUnits="userSpaceOnUse" x1="0" y1="167.47" x2="0" y2="454.80"><stop offset="0.0000" stop-color="#52ffa5"/><stop offset="0.0100" stop-color="#55ffa1"/><stop offset="0.0200" stop-color="#58ff9e"/><stop offset="0.0300" stop-color="#5bff9b"/><stop offset="0.0400" stop-color="#5eff98"/><stop offset="0.0500" stop-color="#61ff95"/><stop offset="0.0600" stop-color="#64ff92"/><stop offset="0.0700" stop-color="#68ff8e"/><stop offset="0.0800" stop-color="#70ff87"/><stop offset="0.0900" stop-color="#78ff7f"/><stop offset="0.1000" stop-color="#7fff77"/><stop offset="0.1100" stop-color="#87ff70"/><stop offset="0.1200" stop-color="#8eff69"/><stop offset="0.1300" stop-color="#94ff63"/><stop offset="0.1400" stop-color="#9aff5d"/><stop offset="0.1500" stop-color="#a0ff57"/><stop offset="0.1600" stop-color="#a6ff51"/><stop offset="0.1700" stop-color="#aeff49"/><stop offset="0.1800" stop-color="#b6ff40"/><stop offset="0.1900" stop-color="#bfff38"/><stop offset="0.2000" stop-color="#c7ff2f"/><stop offset="0.2100" stop-color="#d0ff27"/><stop offset="0.2200" stop-color="#d8ff1f"/><stop offset="0.2300" stop-color="#e0ff17"/><stop offset="0.2400" stop-color="#e7ff0f"/><stop offset="0.2500" stop-color="#eeff09"/><stop offset="0.2600" stop-color="#f3fa04"/><stop offset="0.2700" stop-color="#f8f400"/><stop offset="0.2800" stop-color="#fdee00"/><stop offset="0.2900" stop-color="#ffe800"/><stop offset="0.3000" stop-color="#ffe200"/><stop offset="0.3100" stop-color="#ffdc00"/><stop offset="0.3200" stop-color="#ffd800"/><stop offset="0.3300" stop-color="#ffd500"/><stop offset="0.3400" stop-color="#ffd100"/><stop offset="0.3500" stop-color="#ffcd00"/><stop offset="0.3600" stop-color="#ffca00"/><stop offset="0.3700" stop-color="#ffc900"/><stop offset="0.3800" stop-color="#ffc700"/><stop offset="0.3900" stop-color="#ffc600"/><stop offset="0.4000" stop-color="#ffc400"/><stop offset="0.4100" stop-color="#ffc300"/><stop offset="0.4200" stop-color="#ffc100"/><stop offset="0.4300" stop-color="#ffc000"/><stop offset="0.4400" stop-color="#ffbe00"/><stop offset="0.4500" stop-color="#ffbd00"/><stop offset="0.4600" stop-color="#ffbb00"/><stop offset="0.4700" stop-color="#ffba00"/><stop offset="0.4800" stop-color="#ffb900"/><stop offset="0.4900" stop-color="#ffb700"/><stop offset="0.5000" stop-color="#ffb300"/><stop offset="0.5100" stop-color="#ffb000"/><stop offset="0.5200" stop-color="#ffac00"/><stop offset="0.5300" stop-color="#ffa900"/><stop offset="0.5400" stop-color="#ffa500"/><stop offset="0.5500" stop-color="#ffa400"/><stop offset="0.5600" stop-color="#ffa200"/><stop offset="0.5700" stop-color="#ffa100"/><stop offset="0.5800" stop-color="#ff9f00"/><stop offset="0.5900" stop-color="#ff9d00"/><stop offset="0.6000" stop-color="#ff9c00"/><stop offset="0.6100" stop-color="#ffa300"/><stop offset="0.6200" stop-color="#ffaa00"/><stop offset="0.6300" stop-color="#ffb100"/><stop offset="0.6400" stop-color="#ffb800"/><stop offset="0.6500" stop-color="#ffc100"/><stop offset="0.6600" stop-color="#ffc900"/><stop offset="0.6700" stop-color="#ffd400"/><stop offset="0.6800" stop-color="#ffe500"/><stop offset="0.6900" stop-color="#f5f701"/><stop offset="0.7000" stop-color="#deff19"/><stop offset="0.7100" stop-color="#c5ff32"/><stop offset="0.7200" stop-color="#acff4b"/><stop offset="0.7300" stop-color="#93ff64"/><stop offset="0.7400" stop-color="#7aff7d"/><stop offset="0.7500" stop-color="#5eff99"/><stop offset="0.7600" stop-color="#36ffc1"/><stop offset="0.7700" stop-color="#0df6ea"/><stop offset="0.7800" stop-color="#00bbff"/><stop offset="0.7900" stop-color="#007dff"/><stop offset="0.8000" stop-color="#0035ff"/><stop offset="0.8100" stop-color="#0000fc"/><stop offset="0.8200" stop-color="#0000ae"/><stop offset="0.8300" stop-color="#000080"/><stop offset="0.8400" stop-color="#000080"/><stop offset="0.8500" stop-color="#000080"/><stop offset="0.8600" stop-color="#000080"/><stop offset="0.8700" stop-color="#000080"/><stop offset="1.0000" stop-color="#000080"/></linearGradient>
<linearGradient id="mg26" gradientUnits="userSpaceOnUse" x1="601" y1="0" x2="650" y2="0"><stop offset="0" stop-color="#000"/><stop offset="1" stop-color="#fff"/></linearGradient>
<mask id="mk26" maskUnits="userSpaceOnUse" x="601" y="161.47" width="317.0" height="297.33"><rect x="601" y="161.47" width="317.0" height="297.33" fill="url(#mg26)"/></mask>
<linearGradient id="hg27" gradientUnits="userSpaceOnUse" x1="0" y1="167.47" x2="0" y2="454.80"><stop offset="0.0000" stop-color="#3affbd"/><stop offset="0.0100" stop-color="#3fffb8"/><stop offset="0.0200" stop-color="#44ffb2"/><stop offset="0.0300" stop-color="#4affad"/><stop offset="0.0400" stop-color="#4fffa7"/><stop offset="0.0500" stop-color="#55ffa2"/><stop offset="0.0600" stop-color="#5aff9d"/><stop offset="0.0700" stop-color="#60ff97"/><stop offset="0.0800" stop-color="#66ff91"/><stop offset="0.0900" stop-color="#6cff8b"/><stop offset="0.1000" stop-color="#72ff85"/><stop offset="0.1100" stop-color="#78ff7f"/><stop offset="0.1200" stop-color="#7eff78"/><stop offset="0.1300" stop-color="#86ff71"/><stop offset="0.1400" stop-color="#8eff69"/><stop offset="0.1500" stop-color="#96ff61"/><stop offset="0.1600" stop-color="#9dff59"/><stop offset="0.1700" stop-color="#a6ff51"/><stop offset="0.1800" stop-color="#aeff49"/><stop offset="0.1900" stop-color="#b7ff40"/><stop offset="0.2000" stop-color="#bfff38"/><stop offset="0.2100" stop-color="#c8ff2f"/><stop offset="0.2200" stop-color="#d1ff26"/><stop offset="0.2300" stop-color="#daff1d"/><stop offset="0.2400" stop-color="#e3ff14"/><stop offset="0.2500" stop-color="#eaff0c"/><stop offset="0.2600" stop-color="#f1fc05"/><stop offset="0.2700" stop-color="#f8f400"/><stop offset="0.2800" stop-color="#fdee00"/><stop offset="0.2900" stop-color="#ffe800"/><stop offset="0.3000" stop-color="#ffe200"/><stop offset="0.3100" stop-color="#ffdc00"/><stop offset="0.3200" stop-color="#ffd800"/><stop offset="0.3300" stop-color="#ffd500"/><stop offset="0.3400" stop-color="#ffd100"/><stop offset="0.3500" stop-color="#ffcd00"/><stop offset="0.3600" stop-color="#ffca00"/><stop offset="0.3700" stop-color="#ffc900"/><stop offset="0.3800" stop-color="#ffc700"/><stop offset="0.3900" stop-color="#ffc600"/><stop offset="0.4000" stop-color="#ffc400"/><stop offset="0.4100" stop-color="#ffc300"/><stop offset="0.4200" stop-color="#ffc100"/><stop offset="0.4300" stop-color="#ffc000"/><stop offset="0.4400" stop-color="#ffbe00"/><stop offset="0.4500" stop-color="#ffbd00"/><stop offset="0.4600" stop-color="#ffbb00"/><stop offset="0.4700" stop-color="#ffba00"/><stop offset="0.4800" stop-color="#ffb900"/><stop offset="0.4900" stop-color="#ffb700"/><stop offset="0.5000" stop-color="#ffb300"/><stop offset="0.5100" stop-color="#ffb000"/><stop offset="0.5200" stop-color="#ffac00"/><stop offset="0.5300" stop-color="#ffa900"/><stop offset="0.5400" stop-color="#ffa500"/><stop offset="0.5500" stop-color="#ffa400"/><stop offset="0.5600" stop-color="#ffa200"/><stop offset="0.5700" stop-color="#ffa100"/><stop offset="0.5800" stop-color="#ff9f00"/><stop offset="0.5900" stop-color="#ff9d00"/><stop offset="0.6000" stop-color="#ff9c00"/><stop offset="0.6100" stop-color="#ffa300"/><stop offset="0.6200" stop-color="#ffaa00"/><stop offset="0.6300" stop-color="#ffb100"/><stop offset="0.6400" stop-color="#ffb800"/><stop offset="0.6500" stop-color="#ffc100"/><stop offset="0.6600" stop-color="#ffc900"/><stop offset="0.6700" stop-color="#ffd400"/><stop offset="0.6800" stop-color="#ffe500"/><stop offset="0.6900" stop-color="#f5f701"/><stop offset="0.7000" stop-color="#deff19"/><stop offset="0.7100" stop-color="#c5ff32"/><stop offset="0.7200" stop-color="#acff4b"/><stop offset="0.7300" stop-color="#93ff64"/><stop offset="0.7400" stop-color="#7aff7d"/><stop offset="0.7500" stop-color="#5eff99"/><stop offset="0.7600" stop-color="#36ffc1"/><stop offset="0.7700" stop-color="#0df6ea"/><stop offset="0.7800" stop-color="#00bbff"/><stop offset="0.7900" stop-color="#007dff"/><stop offset="0.8000" stop-color="#0035ff"/><stop offset="0.8100" stop-color="#0000fc"/><stop offset="0.8200" stop-color="#0000ae"/><stop offset="0.8300" stop-color="#000080"/><stop offset="0.8400" stop-color="#000080"/><stop offset="0.8500" stop-color="#000080"/><stop offset="0.8600" stop-color="#000080"/><stop offset="0.8700" stop-color="#000080"/><stop offset="1.0000" stop-color="#000080"/></linearGradient>
<linearGradient id="mg27" gradientUnits="userSpaceOnUse" x1="650" y1="0" x2="725" y2="0"><stop offset="0" stop-color="#000"/><stop offset="1" stop-color="#fff"/></linearGradient>
<mask id="mk27" maskUnits="userSpaceOnUse" x="650" y="161.47" width="268.0" height="297.33"><rect x="650" y="161.47" width="268.0" height="297.33" fill="url(#mg27)"/></mask>
<linearGradient id="hg28" gradientUnits="userSpaceOnUse" x1="0" y1="167.47" x2="0" y2="454.80"><stop offset="0.0000" stop-color="#31ffc5"/><stop offset="0.0100" stop-color="#37ffc0"/><stop offset="0.0200" stop-color="#3cffbb"/><stop offset="0.0300" stop-color="#42ffb5"/><stop offset="0.0400" stop-color="#47ffb0"/><stop offset="0.0500" stop-color="#4dffaa"/><stop offset="0.0600" stop-color="#52ffa5"/><stop offset="0.0700" stop-color="#58ff9f"/><stop offset="0.0800" stop-color="#5eff99"/><stop offset="0.0900" stop-color="#64ff93"/><stop offset="0.1000" stop-color="#6aff8d"/><stop offset="0.1100" stop-color="#70ff87"/><stop offset="0.1200" stop-color="#77ff80"/><stop offset="0.1300" stop-color="#7fff78"/><stop offset="0.1400" stop-color="#88ff6f"/><stop offset="0.1500" stop-color="#90ff66"/><stop offset="0.1600" stop-color="#99ff5e"/><stop offset="0.1700" stop-color="#a2ff55"/><stop offset="0.1800" stop-color="#abff4b"/><stop offset="0.1900" stop-color="#b5ff42"/><stop offset="0.2000" stop-color="#beff39"/><stop offset="0.2100" stop-color="#c8ff2f"/><stop offset="0.2200" stop-color="#d1ff26"/><stop offset="0.2300" stop-color="#daff1d"/><stop offset="0.2400" stop-color="#e3ff14"/><stop offset="0.2500" stop-color="#eaff0c"/><stop offset="0.2600" stop-color="#f1fc05"/><stop offset="0.2700" stop-color="#f8f400"/><stop offset="0.2800" stop-color="#fdee00"/><stop offset="0.2900" stop-color="#ffe800"/><stop offset="0.3000" stop-color="#ffe200"/><stop offset="0.3100" stop-color="#ffdc00"/><stop offset="0.3200" stop-color="#ffd800"/><stop offset="0.3300" stop-color="#ffd500"/><stop offset="0.3400" stop-color="#ffd100"/><stop offset="0.3500" stop-color="#ffcd00"/><stop offset="0.3600" stop-color="#ffca00"/><stop offset="0.3700" stop-color="#ffc900"/><stop offset="0.3800" stop-color="#ffc700"/><stop offset="0.3900" stop-color="#ffc600"/><stop offset="0.4000" stop-color="#ffc400"/><stop offset="0.4100" stop-color="#ffc300"/><stop offset="0.4200" stop-color="#ffc100"/><stop offset="0.4300" stop-color="#ffc000"/><stop offset="0.4400" stop-color="#ffbe00"/><stop offset="0.4500" stop-color="#ffbd00"/><stop offset="0.4600" stop-color="#ffbb00"/><stop offset="0.4700" stop-color="#ffba00"/><stop offset="0.4800" stop-color="#ffb900"/><stop offset="0.4900" stop-color="#ffb700"/><stop offset="0.5000" stop-color="#ffb300"/><stop offset="0.5100" stop-color="#ffb000"/><stop offset="0.5200" stop-color="#ffac00"/><stop offset="0.5300" stop-color="#ffa900"/><stop offset="0.5400" stop-color="#ffa500"/><stop offset="0.5500" stop-color="#ffa400"/><stop offset="0.5600" stop-color="#ffa200"/><stop offset="0.5700" stop-color="#ffa100"/><stop offset="0.5800" stop-color="#ff9f00"/><stop offset="0.5900" stop-color="#ff9d00"/><stop offset="0.6000" stop-color="#ff9c00"/><stop offset="0.6100" stop-color="#ffa300"/><stop offset="0.6200" stop-color="#ffaa00"/><stop offset="0.6300" stop-color="#ffb100"/><stop offset="0.6400" stop-color="#ffb800"/><stop offset="0.6500" stop-color="#ffc100"/><stop offset="0.6600" stop-color="#ffc900"/><stop offset="0.6700" stop-color="#ffd400"/><stop offset="0.6800" stop-color="#ffe500"/><stop offset="0.6900" stop-color="#f5f701"/><stop offset="0.7000" stop-color="#deff19"/><stop offset="0.7100" stop-color="#c5ff32"/><stop offset="0.7200" stop-color="#acff4b"/><stop offset="0.7300" stop-color="#93ff64"/><stop offset="0.7400" stop-color="#7aff7d"/><stop offset="0.7500" stop-color="#5eff99"/><stop offset="0.7600" stop-color="#36ffc1"/><stop offset="0.7700" stop-color="#0df6ea"/><stop offset="0.7800" stop-color="#00bbff"/><stop offset="0.7900" stop-color="#007dff"/><stop offset="0.8000" stop-color="#0035ff"/><stop offset="0.8100" stop-color="#0000fc"/><stop offset="0.8200" stop-color="#0000ae"/><stop offset="0.8300" stop-color="#000080"/><stop offset="0.8400" stop-color="#000080"/><stop offset="0.8500" stop-color="#000080"/><stop offset="0.8600" stop-color="#000080"/><stop offset="0.8700" stop-color="#000080"/><stop offset="1.0000" stop-color="#000080"/></linearGradient>
<linearGradient id="mg28" gradientUnits="userSpaceOnUse" x1="725" y1="0" x2="734" y2="0"><stop offset="0" stop-color="#000"/><stop offset="1" stop-color="#fff"/></linearGradient>
<mask id="mk28" maskUnits="userSpaceOnUse" x="725" y="161.47" width="193.0" height="297.33"><rect x="725" y="161.47" width="193.0" height="297.33" fill="url(#mg28)"/></mask>
<linearGradient id="hg29" gradientUnits="userSpaceOnUse" x1="0" y1="167.47" x2="0" y2="454.80"><stop offset="0.0000" stop-color="#00dbff"/><stop offset="0.0100" stop-color="#00dbff"/><stop offset="0.0200" stop-color="#00dbff"/><stop offset="0.0300" stop-color="#00dbff"/><stop offset="0.0400" stop-color="#00dbff"/><stop offset="0.0500" stop-color="#00e0fb"/><stop offset="0.0600" stop-color="#00e5f7"/><stop offset="0.0700" stop-color="#04ebf3"/><stop offset="0.0800" stop-color="#08f0ef"/><stop offset="0.0900" stop-color="#1bffdc"/><stop offset="0.1000" stop-color="#2dffca"/><stop offset="0.1100" stop-color="#3fffb8"/><stop offset="0.1200" stop-color="#50ffa7"/><stop offset="0.1300" stop-color="#60ff97"/><stop offset="0.1400" stop-color="#6fff88"/><stop offset="0.1500" stop-color="#7eff78"/><stop offset="0.1600" stop-color="#8eff69"/><stop offset="0.1700" stop-color="#9aff5d"/><stop offset="0.1800" stop-color="#a5ff52"/><stop offset="0.1900" stop-color="#afff48"/><stop offset="0.2000" stop-color="#b9ff3e"/><stop offset="0.2100" stop-color="#c3ff33"/><stop offset="0.2200" stop-color="#cdff2a"/><stop offset="0.2300" stop-color="#d6ff21"/><stop offset="0.2400" stop-color="#dfff18"/><stop offset="0.2500" stop-color="#e7ff10"/><stop offset="0.2600" stop-color="#efff08"/><stop offset="0.2700" stop-color="#f6f600"/><stop offset="0.2800" stop-color="#fcef00"/><stop offset="0.2900" stop-color="#ffe900"/><stop offset="0.3000" stop-color="#ffe200"/><stop offset="0.3100" stop-color="#ffdc00"/><stop offset="0.3200" stop-color="#ffd800"/><stop offset="0.3300" stop-color="#ffd500"/><stop offset="0.3400" stop-color="#ffd100"/><stop offset="0.3500" stop-color="#ffcd00"/><stop offset="0.3600" stop-color="#ffca00"/><stop offset="0.3700" stop-color="#ffc900"/><stop offset="0.3800" stop-color="#ffc700"/><stop offset="0.3900" stop-color="#ffc600"/><stop offset="0.4000" stop-color="#ffc400"/><stop offset="0.4100" stop-color="#ffc300"/><stop offset="0.4200" stop-color="#ffc100"/><stop offset="0.4300" stop-color="#ffc000"/><stop offset="0.4400" stop-color="#ffbe00"/><stop offset="0.4500" stop-color="#ffbd00"/><stop offset="0.4600" stop-color="#ffbb00"/><stop offset="0.4700" stop-color="#ffba00"/><stop offset="0.4800" stop-color="#ffb900"/><stop offset="0.4900" stop-color="#ffb700"/><stop offset="0.5000" stop-color="#ffb300"/><stop offset="0.5100" stop-color="#ffb000"/><stop offset="0.5200" stop-color="#ffac00"/><stop offset="0.5300" stop-color="#ffa900"/><stop offset="0.5400" stop-color="#ffa500"/><stop offset="0.5500" stop-color="#ffa400"/><stop offset="0.5600" stop-color="#ffa200"/><stop offset="0.5700" stop-color="#ffa100"/><stop offset="0.5800" stop-color="#ff9f00"/><stop offset="0.5900" stop-color="#ff9d00"/><stop offset="0.6000" stop-color="#ff9c00"/><stop offset="0.6100" stop-color="#ffa300"/><stop offset="0.6200" stop-color="#ffaa00"/><stop offset="0.6300" stop-color="#ffb100"/><stop offset="0.6400" stop-color="#ffb800"/><stop offset="0.6500" stop-color="#ffc100"/><stop offset="0.6600" stop-color="#ffc900"/><stop offset="0.6700" stop-color="#ffd400"/><stop offset="0.6800" stop-color="#ffe500"/><stop offset="0.6900" stop-color="#f5f701"/><stop offset="0.7000" stop-color="#deff19"/><stop offset="0.7100" stop-color="#c5ff32"/><stop offset="0.7200" stop-color="#acff4b"/><stop offset="0.7300" stop-color="#93ff64"/><stop offset="0.7400" stop-color="#7aff7d"/><stop offset="0.7500" stop-color="#5eff99"/><stop offset="0.7600" stop-color="#36ffc1"/><stop offset="0.7700" stop-color="#0df6ea"/><stop offset="0.7800" stop-color="#00bbff"/><stop offset="0.7900" stop-color="#007dff"/><stop offset="0.8000" stop-color="#0035ff"/><stop offset="0.8100" stop-color="#0000fc"/><stop offset="0.8200" stop-color="#0000ae"/><stop offset="0.8300" stop-color="#000080"/><stop offset="0.8400" stop-color="#000080"/><stop offset="0.8500" stop-color="#000080"/><stop offset="0.8600" stop-color="#000080"/><stop offset="0.8700" stop-color="#000080"/><stop offset="1.0000" stop-color="#000080"/></linearGradient>
<linearGradient id="mg29" gradientUnits="userSpaceOnUse" x1="734" y1="0" x2="737" y2="0"><stop offset="0" stop-color="#000"/><stop offset="1" stop-color="#fff"/></linearGradient>
<mask id="mk29" maskUnits="userSpaceOnUse" x="734" y="161.47" width="184.0" height="297.33"><rect x="734" y="161.47" width="184.0" height="297.33" fill="url(#mg29)"/></mask>
<linearGradient id="hg30" gradientUnits="userSpaceOnUse" x1="0" y1="167.47" x2="0" y2="454.80"><stop offset="0.0000" stop-color="#29ffce"/><stop offset="0.0100" stop-color="#2affcc"/><stop offset="0.0200" stop-color="#2cffcb"/><stop offset="0.0300" stop-color="#2dffca"/><stop offset="0.0400" stop-color="#2effc9"/><stop offset="0.0500" stop-color="#2fffc8"/><stop offset="0.0600" stop-color="#30ffc6"/><stop offset="0.0700" stop-color="#33ffc3"/><stop offset="0.0800" stop-color="#3effb9"/><stop offset="0.0900" stop-color="#48ffaf"/><stop offset="0.1000" stop-color="#52ffa5"/><stop offset="0.1100" stop-color="#5dff9a"/><stop offset="0.1200" stop-color="#67ff90"/><stop offset="0.1300" stop-color="#72ff84"/><stop offset="0.1400" stop-color="#7dff79"/><stop offset="0.1500" stop-color="#89ff6e"/><stop offset="0.1600" stop-color="#94ff63"/><stop offset="0.1700" stop-color="#9eff59"/><stop offset="0.1800" stop-color="#a7ff50"/><stop offset="0.1900" stop-color="#b1ff46"/><stop offset="0.2000" stop-color="#baff3d"/><stop offset="0.2100" stop-color="#c4ff33"/><stop offset="0.2200" stop-color="#cdff2a"/><stop offset="0.2300" stop-color="#d6ff21"/><stop offset="0.2400" stop-color="#dfff18"/><stop offset="0.2500" stop-color="#e7ff10"/><stop offset="0.2600" stop-color="#efff08"/><stop offset="0.2700" stop-color="#f6f600"/><stop offset="0.2800" stop-color="#fcef00"/><stop offset="0.2900" stop-color="#ffe900"/><stop offset="0.3000" stop-color="#ffe200"/><stop offset="0.3100" stop-color="#ffdc00"/><stop offset="0.3200" stop-color="#ffd800"/><stop offset="0.3300" stop-color="#ffd500"/><stop offset="0.3400" stop-color="#ffd100"/><stop offset="0.3500" stop-color="#ffcd00"/><stop offset="0.3600" stop-color="#ffca00"/><stop offset="0.3700" stop-color="#ffc900"/><stop offset="0.3800" stop-color="#ffc700"/><stop offset="0.3900" stop-color="#ffc600"/><stop offset="0.4000" stop-color="#ffc400"/><stop offset="0.4100" stop-color="#ffc300"/><stop offset="0.4200" stop-color="#ffc100"/><stop offset="0.4300" stop-color="#ffc000"/><stop offset="0.4400" stop-color="#ffbe00"/><stop offset="0.4500" stop-color="#ffbd00"/><stop offset="0.4600" stop-color="#ffbb00"/><stop offset="0.4700" stop-color="#ffba00"/><stop offset="0.4800" stop-color="#ffb900"/><stop offset="0.4900" stop-color="#ffb700"/><stop offset="0.5000" stop-color="#ffb300"/><stop offset="0.5100" stop-color="#ffb000"/><stop offset="0.5200" stop-color="#ffac00"/><stop offset="0.5300" stop-color="#ffa900"/><stop offset="0.5400" stop-color="#ffa500"/><stop offset="0.5500" stop-color="#ffa400"/><stop offset="0.5600" stop-color="#ffa200"/><stop offset="0.5700" stop-color="#ffa100"/><stop offset="0.5800" stop-color="#ff9f00"/><stop offset="0.5900" stop-color="#ff9d00"/><stop offset="0.6000" stop-color="#ff9c00"/><stop offset="0.6100" stop-color="#ffa300"/><stop offset="0.6200" stop-color="#ffaa00"/><stop offset="0.6300" stop-color="#ffb100"/><stop offset="0.6400" stop-color="#ffb800"/><stop offset="0.6500" stop-color="#ffc100"/><stop offset="0.6600" stop-color="#ffc900"/><stop offset="0.6700" stop-color="#ffd400"/><stop offset="0.6800" stop-color="#ffe500"/><stop offset="0.6900" stop-color="#f5f701"/><stop offset="0.7000" stop-color="#deff19"/><stop offset="0.7100" stop-color="#c5ff32"/><stop offset="0.7200" stop-color="#acff4b"/><stop offset="0.7300" stop-color="#93ff64"/><stop offset="0.7400" stop-color="#7aff7d"/><stop offset="0.7500" stop-color="#5eff99"/><stop offset="0.7600" stop-color="#36ffc1"/><stop offset="0.7700" stop-color="#0df6ea"/><stop offset="0.7800" stop-color="#00bbff"/><stop offset="0.7900" stop-color="#007dff"/><stop offset="0.8000" stop-color="#0035ff"/><stop offset="0.8100" stop-color="#0000fc"/><stop offset="0.8200" stop-color="#0000ae"/><stop offset="0.8300" stop-color="#000080"/><stop offset="0.8400" stop-color="#000080"/><stop offset="0.8500" stop-color="#000080"/><stop offset="0.8600" stop-color="#000080"/><stop offset="0.8700" stop-color="#000080"/><stop offset="1.0000" stop-color="#000080"/></linearGradient>
<linearGradient id="mg30" gradientUnits="userSpaceOnUse" x1="737" y1="0" x2="741" y2="0"><stop offset="0" stop-color="#000"/><stop offset="1" stop-color="#fff"/></linearGradient>
<mask id="mk30" maskUnits="userSpaceOnUse" x="737" y="161.47" width="181.0" height="297.33"><rect x="737" y="161.47" width="181.0" height="297.33" fill="url(#mg30)"/></mask>
<linearGradient id="hg31" gradientUnits="userSpaceOnUse" x1="0" y1="167.47" x2="0" y2="454.80"><stop offset="0.0000" stop-color="#2dffca"/><stop offset="0.0100" stop-color="#34ffc3"/><stop offset="0.0200" stop-color="#3bffbc"/><stop offset="0.0300" stop-color="#41ffb6"/><stop offset="0.0400" stop-color="#48ffaf"/><stop offset="0.0500" stop-color="#4fffa8"/><stop offset="0.0600" stop-color="#55ffa2"/><stop offset="0.0700" stop-color="#5cff9b"/><stop offset="0.0800" stop-color="#63ff94"/><stop offset="0.0900" stop-color="#6aff8d"/><stop offset="0.1000" stop-color="#70ff86"/><stop offset="0.1100" stop-color="#77ff80"/><stop offset="0.1200" stop-color="#7eff78"/><stop offset="0.1300" stop-color="#86ff71"/><stop offset="0.1400" stop-color="#8eff69"/><stop offset="0.1500" stop-color="#96ff61"/><stop offset="0.1600" stop-color="#9dff59"/><stop offset="0.1700" stop-color="#a6ff51"/><stop offset="0.1800" stop-color="#aeff49"/><stop offset="0.1900" stop-color="#b7ff40"/><stop offset="0.2000" stop-color="#bfff38"/><stop offset="0.2100" stop-color="#c8ff2f"/><stop offset="0.2200" stop-color="#cfff28"/><stop offset="0.2300" stop-color="#d5ff22"/><stop offset="0.2400" stop-color="#dcff1b"/><stop offset="0.2500" stop-color="#e2ff15"/><stop offset="0.2600" stop-color="#e8ff0f"/><stop offset="0.2700" stop-color="#eeff09"/><stop offset="0.2800" stop-color="#f4f903"/><stop offset="0.2900" stop-color="#f8f400"/><stop offset="0.3000" stop-color="#fcef00"/><stop offset="0.3100" stop-color="#ffe900"/><stop offset="0.3200" stop-color="#ffe200"/><stop offset="0.3300" stop-color="#ffdc00"/><stop offset="0.3400" stop-color="#ffd500"/><stop offset="0.3500" stop-color="#ffce00"/><stop offset="0.3600" stop-color="#ffc900"/><stop offset="0.3700" stop-color="#ffc600"/><stop offset="0.3800" stop-color="#ffc300"/><stop offset="0.3900" stop-color="#ffc000"/><stop offset="0.4000" stop-color="#ffbd00"/><stop offset="0.4100" stop-color="#ffbb00"/><stop offset="0.4200" stop-color="#ffb900"/><stop offset="0.4300" stop-color="#ffb700"/><stop offset="0.4400" stop-color="#ffb500"/><stop offset="0.4500" stop-color="#ffb300"/><stop offset="0.4600" stop-color="#ffb300"/><stop offset="0.4700" stop-color="#ffb300"/><stop offset="0.4800" stop-color="#ffb300"/><stop offset="0.4900" stop-color="#ffb200"/><stop offset="0.5000" stop-color="#ffaf00"/><stop offset="0.5100" stop-color="#ffab00"/><stop offset="0.5200" stop-color="#ffa800"/><stop offset="0.5300" stop-color="#ffa400"/><stop offset="0.5400" stop-color="#ffa100"/><stop offset="0.5500" stop-color="#ff9f00"/><stop offset="0.5600" stop-color="#ff9d00"/><stop offset="0.5700" stop-color="#ff9c00"/><stop offset="0.5800" stop-color="#ff9a00"/><stop offset="0.5900" stop-color="#ff9900"/><stop offset="0.6000" stop-color="#ff9700"/><stop offset="0.6100" stop-color="#ff9f00"/><stop offset="0.6200" stop-color="#ffa800"/><stop offset="0.6300" stop-color="#ffb000"/><stop offset="0.6400" stop-color="#ffb800"/><stop offset="0.6500" stop-color="#ffc100"/><stop offset="0.6600" stop-color="#ffc900"/><stop offset="0.6700" stop-color="#ffd400"/><stop offset="0.6800" stop-color="#ffe500"/><stop offset="0.6900" stop-color="#f5f701"/><stop offset="0.7000" stop-color="#deff19"/><stop offset="0.7100" stop-color="#c5ff32"/><stop offset="0.7200" stop-color="#acff4b"/><stop offset="0.7300" stop-color="#93ff64"/><stop offset="0.7400" stop-color="#7aff7d"/><stop offset="0.7500" stop-color="#5eff99"/><stop offset="0.7600" stop-color="#36ffc1"/><stop offset="0.7700" stop-color="#0df6ea"/><stop offset="0.7800" stop-color="#00bbff"/><stop offset="0.7900" stop-color="#007dff"/><stop offset="0.8000" stop-color="#0035ff"/><stop offset="0.8100" stop-color="#0000fc"/><stop offset="0.8200" stop-color="#0000ae"/><stop offset="0.8300" stop-color="#000080"/><stop offset="0.8400" stop-color="#000080"/><stop offset="0.8500" stop-color="#000080"/><stop offset="0.8600" stop-color="#000080"/><stop offset="0.8700" stop-color="#000080"/><stop offset="1.0000" stop-color="#000080"/></linearGradient>
<linearGradient id="mg31" gradientUnits="userSpaceOnUse" x1="741" y1="0" x2="776" y2="0"><stop offset="0" stop-color="#000"/><stop offset="1" stop-color="#fff"/></linearGradient>
<mask id="mk31" maskUnits="userSpaceOnUse" x="741" y="161.47" width="177.0" height="297.33"><rect x="741" y="161.47" width="177.0" height="297.33" fill="url(#mg31)"/></mask>
<linearGradient id="hg32" gradientUnits="userSpaceOnUse" x1="0" y1="167.47" x2="0" y2="454.80"><stop offset="0.0000" stop-color="#2dffca"/><stop offset="0.0100" stop-color="#33ffc4"/><stop offset="0.0200" stop-color="#38ffbf"/><stop offset="0.0300" stop-color="#3effb9"/><stop offset="0.0400" stop-color="#43ffb4"/><stop offset="0.0500" stop-color="#48ffae"/><stop offset="0.0600" stop-color="#4effa9"/><stop offset="0.0700" stop-color="#54ffa3"/><stop offset="0.0800" stop-color="#5aff9c"/><stop offset="0.0900" stop-color="#61ff95"/><stop offset="0.1000" stop-color="#68ff8f"/><stop offset="0.1100" stop-color="#6fff88"/><stop offset="0.1200" stop-color="#76ff81"/><stop offset="0.1300" stop-color="#7dff7a"/><stop offset="0.1400" stop-color="#84ff73"/><stop offset="0.1500" stop-color="#8aff6c"/><stop offset="0.1600" stop-color="#91ff65"/><stop offset="0.1700" stop-color="#99ff5e"/><stop offset="0.1800" stop-color="#a0ff56"/><stop offset="0.1900" stop-color="#a8ff4f"/><stop offset="0.2000" stop-color="#b0ff47"/><stop offset="0.2100" stop-color="#b8ff3f"/><stop offset="0.2200" stop-color="#bfff38"/><stop offset="0.2300" stop-color="#c7ff30"/><stop offset="0.2400" stop-color="#cfff28"/><stop offset="0.2500" stop-color="#d6ff21"/><stop offset="0.2600" stop-color="#ddff19"/><stop offset="0.2700" stop-color="#e5ff12"/><stop offset="0.2800" stop-color="#ebff0b"/><stop offset="0.2900" stop-color="#f0fd07"/><stop offset="0.3000" stop-color="#f5f802"/><stop offset="0.3100" stop-color="#f9f300"/><stop offset="0.3200" stop-color="#feed00"/><stop offset="0.3300" stop-color="#ffe700"/><stop offset="0.3400" stop-color="#ffe100"/><stop offset="0.3500" stop-color="#ffdc00"/><stop offset="0.3600" stop-color="#ffd600"/><stop offset="0.3700" stop-color="#ffd000"/><stop offset="0.3800" stop-color="#ffca00"/><stop offset="0.3900" stop-color="#ffc700"/><stop offset="0.4000" stop-color="#ffc400"/><stop offset="0.4100" stop-color="#ffc000"/><stop offset="0.4200" stop-color="#ffbd00"/><stop offset="0.4300" stop-color="#ffba00"/><stop offset="0.4400" stop-color="#ffb600"/><stop offset="0.4500" stop-color="#ffb300"/><stop offset="0.4600" stop-color="#ffb200"/><stop offset="0.4700" stop-color="#ffb100"/><stop offset="0.4800" stop-color="#ffaf00"/><stop offset="0.4900" stop-color="#ffad00"/><stop offset="0.5000" stop-color="#ffaa00"/><stop offset="0.5100" stop-color="#ffa600"/><stop offset="0.5200" stop-color="#ffa300"/><stop offset="0.5300" stop-color="#ff9f00"/><stop offset="0.5400" stop-color="#ff9c00"/><stop offset="0.5500" stop-color="#ff9b00"/><stop offset="0.5600" stop-color="#ff9a00"/><stop offset="0.5700" stop-color="#ff9900"/><stop offset="0.5800" stop-color="#ff9900"/><stop offset="0.5900" stop-color="#ff9800"/><stop offset="0.6000" stop-color="#ff9700"/><stop offset="0.6100" stop-color="#ff9f00"/><stop offset="0.6200" stop-color="#ffa800"/><stop offset="0.6300" stop-color="#ffb000"/><stop offset="0.6400" stop-color="#ffb800"/><stop offset="0.6500" stop-color="#ffc100"/><stop offset="0.6600" stop-color="#ffc900"/><stop offset="0.6700" stop-color="#ffd400"/><stop offset="0.6800" stop-color="#ffe600"/><stop offset="0.6900" stop-color="#f4f802"/><stop offset="0.7000" stop-color="#dcff1b"/><stop offset="0.7100" stop-color="#c3ff34"/><stop offset="0.7200" stop-color="#aaff4d"/><stop offset="0.7300" stop-color="#91ff66"/><stop offset="0.7400" stop-color="#78ff7f"/><stop offset="0.7500" stop-color="#5aff9d"/><stop offset="0.7600" stop-color="#33ffc4"/><stop offset="0.7700" stop-color="#09f0ee"/><stop offset="0.7800" stop-color="#00b5ff"/><stop offset="0.7900" stop-color="#0076ff"/><stop offset="0.8000" stop-color="#002eff"/><stop offset="0.8100" stop-color="#0000f4"/><stop offset="0.8200" stop-color="#0000a6"/><stop offset="0.8300" stop-color="#000080"/><stop offset="0.8400" stop-color="#000080"/><stop offset="0.8500" stop-color="#000080"/><stop offset="0.8600" stop-color="#000080"/><stop offset="0.8700" stop-color="#000080"/><stop offset="1.0000" stop-color="#000080"/></linearGradient>
<linearGradient id="mg32" gradientUnits="userSpaceOnUse" x1="776" y1="0" x2="824" y2="0"><stop offset="0" stop-color="#000"/><stop offset="1" stop-color="#fff"/></linearGradient>
<mask id="mk32" maskUnits="userSpaceOnUse" x="776" y="161.47" width="142.0" height="297.33"><rect x="776" y="161.47" width="142.0" height="297.33" fill="url(#mg32)"/></mask>
<linearGradient id="hg33" gradientUnits="userSpaceOnUse" x1="0" y1="167.47" x2="0" y2="454.80"><stop offset="0.0000" stop-color="#2dffca"/><stop offset="0.0100" stop-color="#31ffc6"/><stop offset="0.0200" stop-color="#35ffc2"/><stop offset="0.0300" stop-color="#38ffbf"/><stop offset="0.0400" stop-color="#3cffbb"/><stop offset="0.0500" stop-color="#3fffb7"/><stop offset="0.0600" stop-color="#43ffb4"/><stop offset="0.0700" stop-color="#47ffb0"/><stop offset="0.0800" stop-color="#4dffaa"/><stop offset="0.0900" stop-color="#53ffa4"/><stop offset="0.1000" stop-color="#59ff9e"/><stop offset="0.1100" stop-color="#5fff98"/><stop offset="0.1200" stop-color="#65ff92"/><stop offset="0.1300" stop-color="#6bff8c"/><stop offset="0.1400" stop-color="#71ff86"/><stop offset="0.1500" stop-color="#77ff80"/><stop offset="0.1600" stop-color="#7dff7a"/><stop offset="0.1700" stop-color="#84ff73"/><stop offset="0.1800" stop-color="#8cff6b"/><stop offset="0.1900" stop-color="#94ff63"/><stop offset="0.2000" stop-color="#9bff5c"/><stop offset="0.2100" stop-color="#a3ff54"/><stop offset="0.2200" stop-color="#abff4c"/><stop offset="0.2300" stop-color="#b2ff44"/><stop offset="0.2400" stop-color="#baff3d"/><stop offset="0.2500" stop-color="#c2ff35"/><stop offset="0.2600" stop-color="#caff2d"/><stop offset="0.2700" stop-color="#d1ff26"/><stop offset="0.2800" stop-color="#d8ff1f"/><stop offset="0.2900" stop-color="#dfff18"/><stop offset="0.3000" stop-color="#e6ff11"/><stop offset="0.3100" stop-color="#ecff0b"/><stop offset="0.3200" stop-color="#f0fd07"/><stop offset="0.3300" stop-color="#f6f701"/><stop offset="0.3400" stop-color="#fdee00"/><stop offset="0.3500" stop-color="#ffe600"/><stop offset="0.3600" stop-color="#ffdf00"/><stop offset="0.3700" stop-color="#ffd800"/><stop offset="0.3800" stop-color="#ffd100"/><stop offset="0.3900" stop-color="#ffca00"/><stop offset="0.4000" stop-color="#ffc300"/><stop offset="0.4100" stop-color="#ffbe00"/><stop offset="0.4200" stop-color="#ffb800"/><stop offset="0.4300" stop-color="#ffb300"/><stop offset="0.4400" stop-color="#ffae00"/><stop offset="0.4500" stop-color="#ffa900"/><stop offset="0.4600" stop-color="#ffa600"/><stop offset="0.4700" stop-color="#ffa200"/><stop offset="0.4800" stop-color="#ff9e00"/><stop offset="0.4900" stop-color="#ff9b00"/><stop offset="0.5000" stop-color="#ff9800"/><stop offset="0.5100" stop-color="#ff9600"/><stop offset="0.5200" stop-color="#ff9300"/><stop offset="0.5300" stop-color="#ff9000"/><stop offset="0.5400" stop-color="#ff8e00"/><stop offset="0.5500" stop-color="#ff8e00"/><stop offset="0.5600" stop-color="#ff8f00"/><stop offset="0.5700" stop-color="#ff9000"/><stop offset="0.5800" stop-color="#ff9100"/><stop offset="0.5900" stop-color="#ff9200"/><stop offset="0.6000" stop-color="#ff9200"/><stop offset="0.6100" stop-color="#ff9b00"/><stop offset="0.6200" stop-color="#ffa300"/><stop offset="0.6300" stop-color="#ffab00"/><stop offset="0.6400" stop-color="#ffb300"/><stop offset="0.6500" stop-color="#ffbc00"/><stop offset="0.6600" stop-color="#ffc500"/><stop offset="0.6700" stop-color="#ffd700"/><stop offset="0.6800" stop-color="#ffe900"/><stop offset="0.6900" stop-color="#ecff0b"/><stop offset="0.7000" stop-color="#d2ff24"/><stop offset="0.7100" stop-color="#b9ff3e"/><stop offset="0.7200" stop-color="#9fff57"/><stop offset="0.7300" stop-color="#86ff71"/><stop offset="0.7400" stop-color="#6cff8b"/><stop offset="0.7500" stop-color="#44ffb3"/><stop offset="0.7600" stop-color="#1cffdb"/><stop offset="0.7700" stop-color="#00ccff"/><stop offset="0.7800" stop-color="#0090ff"/><stop offset="0.7900" stop-color="#0047ff"/><stop offset="0.8000" stop-color="#0000ff"/><stop offset="0.8100" stop-color="#0000bf"/><stop offset="0.8200" stop-color="#000080"/><stop offset="0.8300" stop-color="#000080"/><stop offset="0.8400" stop-color="#000080"/><stop offset="0.8500" stop-color="#000080"/><stop offset="0.8600" stop-color="#000080"/><stop offset="0.8700" stop-color="#000080"/><stop offset="1.0000" stop-color="#000080"/></linearGradient>
<linearGradient id="mg33" gradientUnits="userSpaceOnUse" x1="824" y1="0" x2="871" y2="0"><stop offset="0" stop-color="#000"/><stop offset="1" stop-color="#fff"/></linearGradient>
<mask id="mk33" maskUnits="userSpaceOnUse" x="824" y="161.47" width="94.0" height="297.33"><rect x="824" y="161.47" width="94.0" height="297.33" fill="url(#mg33)"/></mask>
<linearGradient id="hg34" gradientUnits="userSpaceOnUse" x1="0" y1="167.47" x2="0" y2="454.80"><stop offset="0.0000" stop-color="#2dffca"/><stop offset="0.0100" stop-color="#30ffc7"/><stop offset="0.0200" stop-color="#32ffc5"/><stop offset="0.0300" stop-color="#35ffc2"/><stop offset="0.0400" stop-color="#37ffc0"/><stop offset="0.0500" stop-color="#39ffbd"/><stop offset="0.0600" stop-color="#3cffbb"/><stop offset="0.0700" stop-color="#3fffb8"/><stop offset="0.0800" stop-color="#45ffb2"/><stop offset="0.0900" stop-color="#4bffac"/><stop offset="0.1000" stop-color="#51ffa6"/><stop offset="0.1100" stop-color="#57ffa0"/><stop offset="0.1200" stop-color="#5dff9a"/><stop offset="0.1300" stop-color="#62ff95"/><stop offset="0.1400" stop-color="#67ff90"/><stop offset="0.1500" stop-color="#6cff8b"/><stop offset="0.1600" stop-color="#71ff86"/><stop offset="0.1700" stop-color="#77ff80"/><stop offset="0.1800" stop-color="#7eff79"/><stop offset="0.1900" stop-color="#85ff72"/><stop offset="0.2000" stop-color="#8cff6b"/><stop offset="0.2100" stop-color="#93ff64"/><stop offset="0.2200" stop-color="#9aff5d"/><stop offset="0.2300" stop-color="#a2ff55"/><stop offset="0.2400" stop-color="#aaff4d"/><stop offset="0.2500" stop-color="#b1ff45"/><stop offset="0.2600" stop-color="#b9ff3e"/><stop offset="0.2700" stop-color="#c0ff37"/><stop offset="0.2800" stop-color="#c7ff2f"/><stop offset="0.2900" stop-color="#cfff28"/><stop offset="0.3000" stop-color="#d6ff21"/><stop offset="0.3100" stop-color="#ddff1a"/><stop offset="0.3200" stop-color="#e4ff13"/><stop offset="0.3300" stop-color="#ebff0b"/><stop offset="0.3400" stop-color="#f3fa04"/><stop offset="0.3500" stop-color="#fbf000"/><stop offset="0.3600" stop-color="#ffe600"/><stop offset="0.3700" stop-color="#ffdc00"/><stop offset="0.3800" stop-color="#ffd300"/><stop offset="0.3900" stop-color="#ffcc00"/><stop offset="0.4000" stop-color="#ffc500"/><stop offset="0.4100" stop-color="#ffbe00"/><stop offset="0.4200" stop-color="#ffb800"/><stop offset="0.4300" stop-color="#ffb100"/><stop offset="0.4400" stop-color="#ffab00"/><stop offset="0.4500" stop-color="#ffa500"/><stop offset="0.4600" stop-color="#ff9f00"/><stop offset="0.4700" stop-color="#ff9800"/><stop offset="0.4800" stop-color="#ff9200"/><stop offset="0.4900" stop-color="#ff8c00"/><stop offset="0.5000" stop-color="#ff8800"/><stop offset="0.5100" stop-color="#ff8600"/><stop offset="0.5200" stop-color="#ff8300"/><stop offset="0.5300" stop-color="#ff8100"/><stop offset="0.5400" stop-color="#ff7e00"/><stop offset="0.5500" stop-color="#ff7e00"/><stop offset="0.5600" stop-color="#ff8000"/><stop offset="0.5700" stop-color="#ff8200"/><stop offset="0.5800" stop-color="#ff8400"/><stop offset="0.5900" stop-color="#ff8700"/><stop offset="0.6000" stop-color="#ff8900"/><stop offset="0.6100" stop-color="#ff9200"/><stop offset="0.6200" stop-color="#ff9c00"/><stop offset="0.6300" stop-color="#ffa500"/><stop offset="0.6400" stop-color="#ffaf00"/><stop offset="0.6500" stop-color="#ffb900"/><stop offset="0.6600" stop-color="#ffcc00"/><stop offset="0.6700" stop-color="#ffdf00"/><stop offset="0.6800" stop-color="#f3fa04"/><stop offset="0.6900" stop-color="#d8ff1e"/><stop offset="0.7000" stop-color="#beff38"/><stop offset="0.7100" stop-color="#a4ff53"/><stop offset="0.7200" stop-color="#8aff6d"/><stop offset="0.7300" stop-color="#6dff8a"/><stop offset="0.7400" stop-color="#44ffb3"/><stop offset="0.7500" stop-color="#19ffdd"/><stop offset="0.7600" stop-color="#00c7ff"/><stop offset="0.7700" stop-color="#0087ff"/><stop offset="0.7800" stop-color="#003dff"/><stop offset="0.7900" stop-color="#0000ff"/><stop offset="0.8000" stop-color="#0000b0"/><stop offset="0.8100" stop-color="#000080"/><stop offset="0.8200" stop-color="#000080"/><stop offset="0.8300" stop-color="#000080"/><stop offset="0.8400" stop-color="#000080"/><stop offset="0.8500" stop-color="#000080"/><stop offset="0.8600" stop-color="#000080"/><stop offset="0.8700" stop-color="#000080"/><stop offset="1.0000" stop-color="#000080"/></linearGradient>
<linearGradient id="mg34" gradientUnits="userSpaceOnUse" x1="871" y1="0" x2="914" y2="0"><stop offset="0" stop-color="#000"/><stop offset="1" stop-color="#fff"/></linearGradient>
<mask id="mk34" maskUnits="userSpaceOnUse" x="871" y="161.47" width="47.0" height="297.33"><rect x="871" y="161.47" width="47.0" height="297.33" fill="url(#mg34)"/></mask>
<linearGradient id="cbg" x1="0" y1="0" x2="0" y2="1"><stop offset="0.0000" stop-color="#800000"/><stop offset="0.0156" stop-color="#920000"/><stop offset="0.0312" stop-color="#a40000"/><stop offset="0.0469" stop-color="#b60000"/><stop offset="0.0625" stop-color="#c80000"/><stop offset="0.0781" stop-color="#da0000"/><stop offset="0.0938" stop-color="#ec0400"/><stop offset="0.1094" stop-color="#fe1200"/><stop offset="0.1250" stop-color="#ff2100"/><stop offset="0.1406" stop-color="#ff3000"/><stop offset="0.1562" stop-color="#ff3f00"/><stop offset="0.1719" stop-color="#ff4d00"/><stop offset="0.1875" stop-color="#ff5c00"/><stop offset="0.2031" stop-color="#ff6b00"/><stop offset="0.2188" stop-color="#ff7a00"/><stop offset="0.2344" stop-color="#ff8800"/><stop offset="0.2500" stop-color="#ff9700"/><stop offset="0.2656" stop-color="#ffa600"/><stop offset="0.2812" stop-color="#ffb500"/><stop offset="0.2969" stop-color="#ffc300"/><stop offset="0.3125" stop-color="#ffd200"/><stop offset="0.3281" stop-color="#ffe100"/><stop offset="0.3438" stop-color="#fcf000"/><stop offset="0.3594" stop-color="#effe08"/><stop offset="0.3750" stop-color="#e2ff15"/><stop offset="0.3906" stop-color="#d5ff21"/><stop offset="0.4062" stop-color="#c9ff2e"/><stop offset="0.4219" stop-color="#bcff3b"/><stop offset="0.4375" stop-color="#afff48"/><stop offset="0.4531" stop-color="#a2ff55"/><stop offset="0.4688" stop-color="#95ff62"/><stop offset="0.4844" stop-color="#88ff6f"/><stop offset="0.5000" stop-color="#7bff7b"/><stop offset="0.5156" stop-color="#6fff88"/><stop offset="0.5312" stop-color="#62ff95"/><stop offset="0.5469" stop-color="#55ffa2"/><stop offset="0.5625" stop-color="#48ffaf"/><stop offset="0.5781" stop-color="#3bffbc"/><stop offset="0.5938" stop-color="#2effc9"/><stop offset="0.6094" stop-color="#21ffd5"/><stop offset="0.6250" stop-color="#15ffe2"/><stop offset="0.6406" stop-color="#08efef"/><stop offset="0.6562" stop-color="#00dffc"/><stop offset="0.6719" stop-color="#00cfff"/><stop offset="0.6875" stop-color="#00bfff"/><stop offset="0.7031" stop-color="#00afff"/><stop offset="0.7188" stop-color="#009fff"/><stop offset="0.7344" stop-color="#008fff"/><stop offset="0.7500" stop-color="#0080ff"/><stop offset="0.7656" stop-color="#0070ff"/><stop offset="0.7812" stop-color="#0060ff"/><stop offset="0.7969" stop-color="#0050ff"/><stop offset="0.8125" stop-color="#0040ff"/><stop offset="0.8281" stop-color="#0030ff"/><stop offset="0.8438" stop-color="#0020ff"/><stop offset="0.8594" stop-color="#0010ff"/><stop offset="0.8750" stop-color="#0000ff"/><stop offset="0.8906" stop-color="#0000fe"/><stop offset="0.9062" stop-color="#0000ec"/><stop offset="0.9219" stop-color="#0000da"/><stop offset="0.9375" stop-color="#0000c8"/><stop offset="0.9531" stop-color="#0000b6"/><stop offset="0.9688" stop-color="#0000a4"/><stop offset="0.9844" stop-color="#000092"/><stop offset="1.0000" stop-color="#000080"/></linearGradient>
<clipPath id="cp2"><rect x="200.0" y="478.0" width="714.0" height="344.0"/></clipPath>
<clipPath id="cp3"><rect x="200.0" y="845.0" width="714.0" height="172.0"/></clipPath>
<clipPath id="cpA"><rect x="1205.0" y="110.0" width="595.0" height="344.8"/></clipPath>
<clipPath id="cpB"><rect x="1205.0" y="478.0" width="595.0" height="344.0"/></clipPath>
<clipPath id="cpC"><rect x="1205.0" y="845.0" width="595.0" height="172.0"/></clipPath>
</defs>
<g opacity="0.999">
<g font-size="25.57" lengthAdjust="spacingAndGlyphs"><text x="539.30" y="40.70" textLength="16.55" lengthAdjust="spacingAndGlyphs">B</text><text x="555.85" y="40.70" textLength="16.50" lengthAdjust="spacingAndGlyphs">A</text><text x="572.35" y="40.70" textLength="15.30" lengthAdjust="spacingAndGlyphs">S</text><text x="587.65" y="40.70" textLength="8.70" lengthAdjust="spacingAndGlyphs">-</text><text x="596.35" y="40.70" textLength="16.75" lengthAdjust="spacingAndGlyphs">R</text><text x="613.10" y="40.70" textLength="16.55" lengthAdjust="spacingAndGlyphs">B</text><text x="629.65" y="40.70" textLength="20.80" lengthAdjust="spacingAndGlyphs">M</text><text x="658.10" y="40.70" textLength="16.75" lengthAdjust="spacingAndGlyphs">R</text><text x="674.85" y="40.70" textLength="13.75" lengthAdjust="spacingAndGlyphs">e</text><text x="688.60" y="40.70" textLength="6.70" lengthAdjust="spacingAndGlyphs">l</text><text x="695.30" y="40.70" textLength="14.78" lengthAdjust="spacingAndGlyphs">a</text><text x="710.08" y="40.70" textLength="9.45" lengthAdjust="spacingAndGlyphs">t</text><text x="719.54" y="40.70" textLength="6.70" lengthAdjust="spacingAndGlyphs">i</text><text x="726.24" y="40.70" textLength="14.27" lengthAdjust="spacingAndGlyphs">v</text><text x="740.50" y="40.70" textLength="6.70" lengthAdjust="spacingAndGlyphs">i</text><text x="747.21" y="40.70" textLength="12.56" lengthAdjust="spacingAndGlyphs">s</text><text x="759.77" y="40.70" textLength="9.45" lengthAdjust="spacingAndGlyphs">t</text><text x="769.22" y="40.70" textLength="6.70" lengthAdjust="spacingAndGlyphs">i</text><text x="775.93" y="40.70" textLength="13.25" lengthAdjust="spacingAndGlyphs">c</text><text x="796.83" y="40.70" textLength="15.23" lengthAdjust="spacingAndGlyphs">E</text><text x="812.07" y="40.70" textLength="6.70" lengthAdjust="spacingAndGlyphs">l</text><text x="818.77" y="40.70" textLength="14.83" lengthAdjust="spacingAndGlyphs">e</text><text x="833.60" y="40.70" textLength="13.25" lengthAdjust="spacingAndGlyphs">c</text><text x="846.85" y="40.70" textLength="9.45" lengthAdjust="spacingAndGlyphs">t</text><text x="856.30" y="40.70" textLength="9.91" lengthAdjust="spacingAndGlyphs">r</text><text x="866.21" y="40.70" textLength="14.22" lengthAdjust="spacingAndGlyphs">o</text><text x="880.43" y="40.70" textLength="15.28" lengthAdjust="spacingAndGlyphs">n</text><text x="903.36" y="40.70" textLength="13.88" lengthAdjust="spacingAndGlyphs">F</text><text x="917.24" y="40.70" textLength="13.89" lengthAdjust="spacingAndGlyphs">o</text><text x="931.13" y="40.70" textLength="9.91" lengthAdjust="spacingAndGlyphs">r</text><text x="941.04" y="40.70" textLength="14.30" lengthAdjust="spacingAndGlyphs">e</text><text x="955.33" y="40.70" textLength="13.25" lengthAdjust="spacingAndGlyphs">c</text><text x="968.58" y="40.70" textLength="14.78" lengthAdjust="spacingAndGlyphs">a</text><text x="983.36" y="40.70" textLength="12.56" lengthAdjust="spacingAndGlyphs">s</text><text x="995.93" y="40.70" textLength="9.45" lengthAdjust="spacingAndGlyphs">t</text><text x="1005.38" y="40.70" textLength="7.66" lengthAdjust="spacingAndGlyphs">,</text><text x="1020.69" y="40.70" textLength="6.70" lengthAdjust="spacingAndGlyphs">i</text><text x="1027.40" y="40.70" textLength="12.56" lengthAdjust="spacingAndGlyphs">s</text><text x="1039.96" y="40.70" textLength="12.56" lengthAdjust="spacingAndGlyphs">s</text><text x="1052.52" y="40.70" textLength="15.28" lengthAdjust="spacingAndGlyphs">u</text><text x="1067.80" y="40.70" textLength="14.83" lengthAdjust="spacingAndGlyphs">e</text><text x="1082.63" y="40.70" textLength="15.30" lengthAdjust="spacingAndGlyphs">d</text><text x="1105.58" y="40.70" textLength="14.78" lengthAdjust="spacingAndGlyphs">a</text><text x="1120.36" y="40.70" textLength="9.45" lengthAdjust="spacingAndGlyphs">t</text><text x="1137.47" y="40.70" textLength="15.34" lengthAdjust="spacingAndGlyphs">2</text><text x="1152.82" y="40.70" textLength="15.34" lengthAdjust="spacingAndGlyphs">3</text><text x="1168.16" y="40.70" textLength="8.12" lengthAdjust="spacingAndGlyphs">:</text><text x="1176.29" y="40.70" textLength="15.34" lengthAdjust="spacingAndGlyphs">1</text><text x="1191.63" y="40.70" textLength="15.34" lengthAdjust="spacingAndGlyphs">0</text><text x="1214.63" y="40.70" textLength="17.64" lengthAdjust="spacingAndGlyphs">U</text><text x="1232.27" y="40.70" textLength="14.73" lengthAdjust="spacingAndGlyphs">T</text><text x="1247.00" y="40.70" textLength="7.66" lengthAdjust="spacingAndGlyphs">,</text><text x="1262.32" y="40.70" textLength="15.34" lengthAdjust="spacingAndGlyphs">0</text><text x="1277.66" y="40.70" textLength="15.34" lengthAdjust="spacingAndGlyphs">3</text><text x="1298.97" y="40.70" textLength="8.68" lengthAdjust="spacingAndGlyphs">J</text><text x="1307.77" y="40.70" textLength="14.78" lengthAdjust="spacingAndGlyphs">a</text><text x="1322.55" y="40.70" textLength="15.28" lengthAdjust="spacingAndGlyphs">n</text><text x="1337.83" y="40.70" textLength="15.28" lengthAdjust="spacingAndGlyphs">u</text><text x="1353.11" y="40.70" textLength="14.78" lengthAdjust="spacingAndGlyphs">a</text><text x="1367.90" y="40.70" textLength="9.91" lengthAdjust="spacingAndGlyphs">r</text><text x="1377.80" y="40.70" textLength="14.27" lengthAdjust="spacingAndGlyphs">y</text><text x="1399.72" y="40.70" textLength="15.34" lengthAdjust="spacingAndGlyphs">2</text><text x="1415.07" y="40.70" textLength="15.34" lengthAdjust="spacingAndGlyphs">0</text><text x="1430.41" y="40.70" textLength="15.34" lengthAdjust="spacingAndGlyphs">1</text><text x="1445.75" y="40.70" textLength="15.34" lengthAdjust="spacingAndGlyphs">9</text></g>
<g clip-path="url(#cpH)">
<rect x="198.0" y="163.47" width="718.0" height="293.33" fill="url(#hg0)"/>
<rect x="200" y="162.47" width="718.0" height="294.33" fill="url(#hg1)" mask="url(#mk1)"/>
<rect x="205" y="162.47" width="713.0" height="294.33" fill="url(#hg2)" mask="url(#mk2)"/>
<rect x="209" y="162.47" width="709.0" height="294.33" fill="url(#hg3)" mask="url(#mk3)"/>
<rect x="214" y="162.47" width="704.0" height="294.33" fill="url(#hg4)" mask="url(#mk4)"/>
<rect x="220" y="162.47" width="698.0" height="294.33" fill="url(#hg5)" mask="url(#mk5)"/>
<rect x="227" y="162.47" width="691.0" height="294.33" fill="url(#hg6)" mask="url(#mk6)"/>
<rect x="236" y="162.47" width="682.0" height="294.33" fill="url(#hg7)" mask="url(#mk7)"/>
<rect x="243" y="162.47" width="675.0" height="294.33" fill="url(#hg8)" mask="url(#mk8)"/>
<rect x="250" y="162.47" width="668.0" height="294.33" fill="url(#hg9)" mask="url(#mk9)"/>
<rect x="263" y="162.47" width="655.0" height="294.33" fill="url(#hg10)" mask="url(#mk10)"/>
<rect x="277" y="162.47" width="641.0" height="294.33" fill="url(#hg11)" mask="url(#mk11)"/>
<rect x="282" y="162.47" width="636.0" height="294.33" fill="url(#hg12)" mask="url(#mk12)"/>
<rect x="304" y="162.47" width="614.0" height="294.33" fill="url(#hg13)" mask="url(#mk13)"/>
<rect x="331" y="162.47" width="587.0" height="294.33" fill="url(#hg14)" mask="url(#mk14)"/>
<rect x="372" y="162.47" width="546.0" height="294.33" fill="url(#hg15)" mask="url(#mk15)"/>
<rect x="396" y="162.47" width="522.0" height="294.33" fill="url(#hg16)" mask="url(#mk16)"/>
<rect x="408" y="162.47" width="510.0" height="294.33" fill="url(#hg17)" mask="url(#mk17)"/>
<rect x="425" y="162.47" width="493.0" height="294.33" fill="url(#hg18)" mask="url(#mk18)"/>
<rect x="457" y="162.47" width="461.0" height="294.33" fill="url(#hg19)" mask="url(#mk19)"/>
<rect x="511" y="162.47" width="407.0" height="294.33" fill="url(#hg20)" mask="url(#mk20)"/>
<rect x="545" y="162.47" width="373.0" height="294.33" fill="url(#hg21)" mask="url(#mk21)"/>
<rect x="568" y="162.47" width="350.0" height="294.33" fill="url(#hg22)" mask="url(#mk22)"/>
<rect x="579" y="162.47" width="339.0" height="294.33" fill="url(#hg23)" mask="url(#mk23)"/>
<rect x="585" y="162.47" width="333.0" height="294.33" fill="url(#hg24)" mask="url(#mk24)"/>
<rect x="591" y="162.47" width="327.0" height="294.33" fill="url(#hg25)" mask="url(#mk25)"/>
<rect x="601" y="162.47" width="317.0" height="294.33" fill="url(#hg26)" mask="url(#mk26)"/>
<rect x="650" y="162.47" width="268.0" height="294.33" fill="url(#hg27)" mask="url(#mk27)"/>
<rect x="725" y="162.47" width="193.0" height="294.33" fill="url(#hg28)" mask="url(#mk28)"/>
<rect x="734" y="162.47" width="184.0" height="294.33" fill="url(#hg29)" mask="url(#mk29)"/>
<rect x="737" y="162.47" width="181.0" height="294.33" fill="url(#hg30)" mask="url(#mk30)"/>
<rect x="741" y="162.47" width="177.0" height="294.33" fill="url(#hg31)" mask="url(#mk31)"/>
<rect x="776" y="162.47" width="142.0" height="294.33" fill="url(#hg32)" mask="url(#mk32)"/>
<rect x="824" y="162.47" width="94.0" height="294.33" fill="url(#hg33)" mask="url(#mk33)"/>
<rect x="871" y="162.47" width="47.0" height="294.33" fill="url(#hg34)" mask="url(#mk34)"/>
</g>
<rect x="200.0" y="110.0" width="714.0" height="57.47" fill="#d3d3d3"/>
<rect x="736.2" y="110.0" width="2.2" height="72.5" fill="#fff"/>
<rect x="209.6" y="111.0" width="2.2" height="7" fill="#fff" fill-opacity="0.9"/>
<rect x="201" y="111.0" width="1.2" height="55" fill="#fff" fill-opacity="0.6"/>
<rect x="226.70" y="110.0" width="4" height="9.8" fill="#000"/>
<g font-size="14.10" lengthAdjust="spacingAndGlyphs"><text x="222.97" y="138.80" textLength="11.47" lengthAdjust="spacingAndGlyphs">M</text></g>
<rect x="272.00" y="110.0" width="4" height="9.8" fill="#f00"/>
<g font-size="14.10" lengthAdjust="spacingAndGlyphs" fill="#f00"><text x="269.02" y="138.80" textLength="9.95" lengthAdjust="spacingAndGlyphs">N</text></g>
<rect x="315.95" y="110.0" width="4" height="9.8" fill="#000"/>
<g font-size="14.10" lengthAdjust="spacingAndGlyphs"><text x="312.22" y="138.80" textLength="11.47" lengthAdjust="spacingAndGlyphs">M</text></g>
<rect x="361.25" y="110.0" width="4" height="9.8" fill="#f00"/>
<g font-size="14.10" lengthAdjust="spacingAndGlyphs" fill="#f00"><text x="358.27" y="138.80" textLength="9.95" lengthAdjust="spacingAndGlyphs">N</text></g>
<rect x="405.20" y="110.0" width="4" height="9.8" fill="#000"/>
<g font-size="14.10" lengthAdjust="spacingAndGlyphs"><text x="401.47" y="138.80" textLength="11.47" lengthAdjust="spacingAndGlyphs">M</text></g>
<rect x="450.50" y="110.0" width="4" height="9.8" fill="#f00"/>
<g font-size="14.10" lengthAdjust="spacingAndGlyphs" fill="#f00"><text x="447.52" y="138.80" textLength="9.95" lengthAdjust="spacingAndGlyphs">N</text></g>
<rect x="494.45" y="110.0" width="4" height="9.8" fill="#000"/>
<g font-size="14.10" lengthAdjust="spacingAndGlyphs"><text x="490.72" y="138.80" textLength="11.47" lengthAdjust="spacingAndGlyphs">M</text></g>
<rect x="539.75" y="110.0" width="4" height="9.8" fill="#f00"/>
<g font-size="14.10" lengthAdjust="spacingAndGlyphs" fill="#f00"><text x="536.77" y="138.80" textLength="9.95" lengthAdjust="spacingAndGlyphs">N</text></g>
<rect x="583.70" y="110.0" width="4" height="9.8" fill="#000"/>
<g font-size="14.10" lengthAdjust="spacingAndGlyphs"><text x="579.97" y="138.80" textLength="11.47" lengthAdjust="spacingAndGlyphs">M</text></g>
<rect x="629.00" y="110.0" width="4" height="9.8" fill="#f00"/>
<g font-size="14.10" lengthAdjust="spacingAndGlyphs" fill="#f00"><text x="626.02" y="138.80" textLength="9.95" lengthAdjust="spacingAndGlyphs">N</text></g>
<rect x="672.95" y="110.0" width="4" height="9.8" fill="#000"/>
<g font-size="14.10" lengthAdjust="spacingAndGlyphs"><text x="669.22" y="138.80" textLength="11.47" lengthAdjust="spacingAndGlyphs">M</text></g>
<rect x="718.25" y="110.0" width="4" height="9.8" fill="#f00"/>
<g font-size="14.10" lengthAdjust="spacingAndGlyphs" fill="#f00"><text x="715.27" y="138.80" textLength="9.95" lengthAdjust="spacingAndGlyphs">N</text></g>
<rect x="762.20" y="110.0" width="4" height="9.8" fill="#000"/>
<g font-size="14.10" lengthAdjust="spacingAndGlyphs"><text x="758.47" y="138.80" textLength="11.47" lengthAdjust="spacingAndGlyphs">M</text></g>
<rect x="807.50" y="110.0" width="4" height="9.8" fill="#f00"/>
<g font-size="14.10" lengthAdjust="spacingAndGlyphs" fill="#f00"><text x="804.52" y="138.80" textLength="9.95" lengthAdjust="spacingAndGlyphs">N</text></g>
<path d="M200.0 221.61L201.0 220.42L202.0 219.23L203.0 218.05L204.0 217.53L205.0 217.24L206.0 216.95L207.0 216.66L208.0 216.36L209.0 216.07L210.0 215.50L211.0 214.83L212.0 214.17L213.0 212.69L214.0 210.94L215.0 209.19L216.0 207.44L217.0 205.62L218.0 203.79L219.0 201.96L220.0 200.84L221.0 199.96L222.0 199.42L223.0 199.90L224.0 200.39L225.0 200.88L226.0 201.38L227.0 201.89L228.0 202.40L229.0 202.66L230.0 202.36L231.0 202.06L232.0 201.46L233.0 200.79L234.0 200.11L235.0 199.44L236.0 199.50L237.0 200.30L238.0 201.10L239.0 202.33L240.0 204.00L241.0 205.67L242.0 207.42L243.0 209.25L244.0 211.08L245.0 212.56L246.0 213.69L247.0 214.81L248.0 215.94L249.0 216.66L250.0 216.97L251.0 217.28L252.0 217.59L253.0 217.91L254.0 218.22L255.0 218.53L256.0 218.84L257.0 219.58L258.0 220.75L259.0 221.92L260.0 223.20L261.0 224.60L262.0 226.00L263.0 227.40L264.0 228.80L265.0 229.94L266.0 230.81L267.0 231.69L268.0 232.56L269.0 233.08L270.0 233.23L271.0 233.38L272.0 233.54L273.0 233.69L274.0 233.75L275.0 233.70L276.0 233.59L277.0 233.48L278.0 233.38L279.0 233.27L280.0 233.16L281.0 233.05L282.0 232.37L283.0 231.12L284.0 229.87L285.0 228.62L286.0 227.08L287.0 225.25L288.0 223.42L289.0 221.91L290.0 220.72L291.0 219.53L292.0 218.34L293.0 217.60L294.0 217.31L295.0 217.02L296.0 216.73L297.0 216.44L298.0 216.15L299.0 215.67L300.0 215.00L301.0 214.33L302.0 213.12L303.0 211.37L304.0 209.62L305.0 207.87L306.0 206.08L307.0 204.25L308.0 202.42L309.0 201.06L310.0 200.18L311.0 199.30L312.0 199.78L313.0 200.27L314.0 200.75L315.0 201.26L316.0 201.76L317.0 202.27L318.0 202.73L319.0 202.44L320.0 202.13L321.0 201.63L322.0 200.95L323.0 200.28L324.0 199.61L325.0 199.30L326.0 200.10L327.0 200.90L328.0 201.92L329.0 203.58L330.0 205.25L331.0 206.96L332.0 208.79L333.0 210.63L334.0 212.28L335.0 213.41L336.0 214.53L337.0 215.66L338.0 216.58L339.0 216.89L340.0 217.20L341.0 217.52L342.0 217.83L343.0 218.14L344.0 218.45L345.0 218.77L346.0 219.29L347.0 220.46L348.0 221.62L349.0 222.85L350.0 224.25L351.0 225.65L352.0 227.05L353.0 228.45L354.0 229.72L355.0 230.59L356.0 231.47L357.0 232.34L358.0 233.04L359.0 233.19L360.0 233.34L361.0 233.50L362.0 233.65L363.0 233.75L364.0 233.72L365.0 233.62L366.0 233.51L367.0 233.40L368.0 233.29L369.0 233.19L370.0 233.08L371.0 232.69L372.0 231.44L373.0 230.19L374.0 228.94L375.0 227.54L376.0 225.71L377.0 223.87L378.0 222.20L379.0 221.02L380.0 219.83L381.0 218.64L382.0 217.68L383.0 217.39L384.0 217.09L385.0 216.80L386.0 216.51L387.0 216.22L388.0 215.83L389.0 215.17L390.0 214.50L391.0 213.56L392.0 211.81L393.0 210.06L394.0 208.31L395.0 206.54L396.0 204.71L397.0 202.87L398.0 201.28L399.0 200.40L400.0 199.52L401.0 199.66L402.0 200.15L403.0 200.63L404.0 201.13L405.0 201.64L406.0 202.14L407.0 202.65L408.0 202.51L409.0 202.21L410.0 201.80L411.0 201.12L412.0 200.45L413.0 199.77L414.0 199.10L415.0 199.90L416.0 200.70L417.0 201.50L418.0 203.17L419.0 204.83L420.0 206.50L421.0 208.33L422.0 210.17L423.0 212.00L424.0 213.12L425.0 214.25L426.0 215.38L427.0 216.50L428.0 216.81L429.0 217.12L430.0 217.44L431.0 217.75L432.0 218.06L433.0 218.38L434.0 218.69L435.0 219.00L436.0 220.17L437.0 221.33L438.0 222.50L439.0 223.90L440.0 225.30L441.0 226.70L442.0 228.10L443.0 229.50L444.0 230.38L445.0 231.25L446.0 232.12L447.0 233.00L448.0 233.15L449.0 233.31L450.0 233.46L451.0 233.61L452.0 233.75L453.0 233.75L454.0 233.64L455.0 233.54L456.0 233.43L457.0 233.32L458.0 233.21L459.0 233.11L460.0 233.00L461.0 231.75L462.0 230.50L463.0 229.25L464.0 228.00L465.0 226.17L466.0 224.33L467.0 222.50L468.0 221.31L469.0 220.12L470.0 218.94L471.0 217.75L472.0 217.46L473.0 217.17L474.0 216.88L475.0 216.58L476.0 216.29L477.0 216.00L478.0 215.33L479.0 214.67L480.0 214.00L481.0 212.25L482.0 210.50L483.0 208.75L484.0 207.00L485.0 205.17L486.0 203.33L487.0 201.50L488.0 200.62L489.0 199.74L490.0 199.54L491.0 200.03L492.0 200.51L493.0 201.00L494.0 201.51L495.0 202.02L496.0 202.52L497.0 202.59L498.0 202.28L499.0 201.97L500.0 201.29L501.0 200.62L502.0 199.94L503.0 199.27L504.0 199.70L505.0 200.50L506.0 201.30L507.0 202.75L508.0 204.42L509.0 206.08L510.0 207.88L511.0 209.71L512.0 211.54L513.0 212.84L514.0 213.97L515.0 215.09L516.0 216.22L517.0 216.73L518.0 217.05L519.0 217.36L520.0 217.67L521.0 217.98L522.0 218.30L523.0 218.61L524.0 218.92L525.0 219.88L526.0 221.04L527.0 222.21L528.0 223.55L529.0 224.95L530.0 226.35L531.0 227.75L532.0 229.15L533.0 230.16L534.0 231.03L535.0 231.91L536.0 232.78L537.0 233.11L538.0 233.27L539.0 233.42L540.0 233.57L541.0 233.73L542.0 233.75L543.0 233.67L544.0 233.56L545.0 233.46L546.0 233.35L547.0 233.24L548.0 233.13L549.0 233.03L550.0 232.06L551.0 230.81L552.0 229.56L553.0 228.31L554.0 226.62L555.0 224.79L556.0 222.96L557.0 221.61L558.0 220.42L559.0 219.23L560.0 218.05L561.0 217.53L562.0 217.24L563.0 216.95L564.0 216.66L565.0 216.36L566.0 216.07L567.0 215.50L568.0 214.83L569.0 214.17L570.0 212.69L571.0 210.94L572.0 209.19L573.0 207.44L574.0 205.62L575.0 203.79L576.0 201.96L577.0 200.84L578.0 199.96L579.0 199.42L580.0 199.90L581.0 200.39L582.0 200.88L583.0 201.38L584.0 201.89L585.0 202.40L586.0 202.66L587.0 202.36L588.0 202.06L589.0 201.46L590.0 200.79L591.0 200.11L592.0 199.44L593.0 199.50L594.0 200.30L595.0 201.10L596.0 202.33L597.0 204.00L598.0 205.67L599.0 207.42L600.0 209.25L601.0 211.08L602.0 212.56L603.0 213.69L604.0 214.81L605.0 215.94L606.0 216.66L607.0 216.97L608.0 217.28L609.0 217.59L610.0 217.91L611.0 218.22L612.0 218.53L613.0 218.84L614.0 219.58L615.0 220.75L616.0 221.92L617.0 223.20L618.0 224.60L619.0 226.00L620.0 227.40L621.0 228.80L622.0 229.94L623.0 230.81L624.0 231.69L625.0 232.56L626.0 233.08L627.0 233.23L628.0 233.38L629.0 233.54L630.0 233.69L631.0 233.75L632.0 233.70L633.0 233.59L634.0 233.48L635.0 233.38L636.0 233.27L637.0 233.16L638.0 233.05L639.0 232.37L640.0 231.12L641.0 229.87L642.0 228.62L643.0 227.08L644.0 225.25L645.0 223.42L646.0 221.91L647.0 220.72L648.0 219.53L649.0 218.34L650.0 217.60L651.0 217.31L652.0 217.02L653.0 216.73L654.0 216.44L655.0 216.15L656.0 215.67L657.0 215.00L658.0 214.33L659.0 213.12L660.0 211.37L661.0 209.62L662.0 207.87L663.0 206.08L664.0 204.25L665.0 202.42L666.0 201.06L667.0 200.18L668.0 199.30L669.0 199.78L670.0 200.27L671.0 200.75L672.0 201.26L673.0 201.76L674.0 202.27L675.0 202.73L676.0 202.44L677.0 202.13L678.0 201.63L679.0 200.95L680.0 200.28L681.0 199.61L682.0 199.30L683.0 200.10L684.0 200.90L685.0 201.92L686.0 203.58L687.0 205.25L688.0 206.96L689.0 208.79L690.0 210.63L691.0 212.28L692.0 213.41L693.0 214.53L694.0 215.66L695.0 216.58L696.0 216.89L697.0 217.20L698.0 217.52L699.0 217.83L700.0 218.14L701.0 218.45L702.0 218.77L703.0 219.29L704.0 220.46L705.0 221.62L706.0 222.85L707.0 224.25L708.0 225.65L709.0 227.05L710.0 228.45L711.0 229.72L712.0 230.59L713.0 231.47L714.0 232.34L715.0 233.04L716.0 233.19L717.0 233.34L718.0 233.50L719.0 233.65L720.0 233.75L721.0 233.72L722.0 233.62L723.0 233.51L724.0 233.40L725.0 233.29L726.0 233.19L727.0 233.08L728.0 232.69L729.0 231.44L730.0 230.19L731.0 228.94L732.0 227.54L733.0 225.71L734.0 223.88L735.0 222.20L736.0 221.02L737.0 219.83L738.0 218.64L739.0 217.68L740.0 217.39L741.0 217.09L742.0 216.80L743.0 216.51L744.0 216.22L745.0 215.83L746.0 215.17L747.0 214.50L748.0 213.56L749.0 211.81L750.0 210.06L751.0 208.31L752.0 206.54L753.0 204.71L754.0 202.88L755.0 201.28L756.0 200.40L757.0 199.52L758.0 199.66L759.0 200.15L760.0 200.63L761.0 201.13L762.0 201.64L763.0 202.14L764.0 202.65L765.0 202.51L766.0 202.21L767.0 201.80L768.0 201.12L769.0 200.45L770.0 199.77L771.0 199.10L772.0 199.90L773.0 200.70L774.0 201.50L775.0 203.17L776.0 204.83L777.0 206.50L778.0 208.33L779.0 210.17L780.0 212.00L781.0 213.12L782.0 214.25L783.0 215.37L784.0 216.50L785.0 216.81L786.0 217.12L787.0 217.44L788.0 217.75L789.0 218.06L790.0 218.37L791.0 218.69L792.0 219.00L793.0 220.17L794.0 221.33L795.0 222.50L796.0 223.90L797.0 225.30L798.0 226.70L799.0 228.10L800.0 229.50L801.0 230.37L802.0 231.25L803.0 232.12L804.0 233.00L805.0 233.15L806.0 233.31L807.0 233.46L808.0 233.61L809.0 233.75L810.0 233.75L811.0 233.64L812.0 233.54L813.0 233.43L814.0 233.32L815.0 233.21L816.0 233.11L817.0 233.00L818.0 231.75L819.0 230.50L820.0 229.25L821.0 228.00L822.0 226.17L823.0 224.33L824.0 222.50L825.0 221.31L826.0 220.13L827.0 218.94L828.0 217.75L829.0 217.46L830.0 217.17L831.0 216.88L832.0 216.58L833.0 216.29L834.0 216.00L835.0 215.33L836.0 214.67L837.0 214.00L838.0 212.25L839.0 210.50L840.0 208.75L841.0 207.00L842.0 205.17L843.0 203.33L844.0 201.50L845.0 200.62L846.0 199.74L847.0 199.54L848.0 200.02L849.0 200.51L850.0 201.00L851.0 201.51L852.0 202.02L853.0 202.52L854.0 202.59L855.0 202.29L856.0 201.97L857.0 201.29L858.0 200.62L859.0 199.94L860.0 199.27L861.0 199.70L862.0 200.50L863.0 201.30L864.0 202.75L865.0 204.42L866.0 206.08L867.0 207.87L868.0 209.71L869.0 211.54L870.0 212.84L871.0 213.97L872.0 215.09L873.0 216.22L874.0 216.73L875.0 217.05L876.0 217.36L877.0 217.67L878.0 217.98L879.0 218.30L880.0 218.61L881.0 218.92L882.0 219.87L883.0 221.04L884.0 222.21L885.0 223.55L886.0 224.95L887.0 226.35L888.0 227.75L889.0 229.15L890.0 230.16L891.0 231.03L892.0 231.91L893.0 232.78L894.0 233.11L895.0 233.27L896.0 233.42L897.0 233.57L898.0 233.73L899.0 233.75L900.0 233.67L901.0 233.56L902.0 233.46L903.0 233.35L904.0 233.24L905.0 233.13L906.0 233.03L907.0 232.06L908.0 230.81L909.0 229.56L910.0 228.31L911.0 226.63L912.0 224.79L913.0 222.96L914.0 221.61" stroke="#000" stroke-width="2.3" fill="none" stroke-dasharray="8.1 2.9" clip-path="url(#cp1)"/>
<line x1="824.75" y1="110.00" x2="824.75" y2="454.80" stroke="#1f77b4" stroke-width="2.1" stroke-dasharray="2.1 3.4"/>
<g font-size="67.31" lengthAdjust="spacingAndGlyphs" fill="#808080" fill-opacity="0.25" transform="rotate(-90 888.40 287.90)"><text x="754.06" y="287.90" textLength="36.53" lengthAdjust="spacingAndGlyphs">F</text><text x="790.60" y="287.90" textLength="36.58" lengthAdjust="spacingAndGlyphs">o</text><text x="827.17" y="287.90" textLength="26.11" lengthAdjust="spacingAndGlyphs">r</text><text x="853.28" y="287.90" textLength="37.67" lengthAdjust="spacingAndGlyphs">e</text><text x="890.95" y="287.90" textLength="34.91" lengthAdjust="spacingAndGlyphs">c</text><text x="925.86" y="287.90" textLength="38.91" lengthAdjust="spacingAndGlyphs">a</text><text x="964.77" y="287.90" textLength="33.08" lengthAdjust="spacingAndGlyphs">s</text><text x="997.85" y="287.90" textLength="24.89" lengthAdjust="spacingAndGlyphs">t</text></g>
<path d="M200.00 454.80L205.40 454.80M200.00 397.33L205.40 397.33M200.00 339.87L205.40 339.87M200.00 282.40L205.40 282.40M200.00 224.93L205.40 224.93M200.00 167.47L205.40 167.47M200.00 110.00L205.40 110.00" stroke="#000" stroke-width="1.1" fill="none"/>
<path d="M914.00 454.80L908.60 454.80M914.00 397.33L908.60 397.33M914.00 339.87L908.60 339.87M914.00 282.40L908.60 282.40M914.00 224.93L908.60 224.93M914.00 167.47L908.60 167.47M914.00 110.00L908.60 110.00" stroke="#000" stroke-width="1.1" fill="none"/>
<path d="M248.74 454.80L248.74 449.90M337.99 454.80L337.99 449.90M427.24 454.80L427.24 449.90M516.49 454.80L516.49 449.90M605.74 454.80L605.74 449.90M694.99 454.80L694.99 449.90M784.24 454.80L784.24 449.90M873.49 454.80L873.49 449.90" stroke="#000" stroke-width="1.1" fill="none"/>
<path d="M200.0 454.8L200.0 110.0L914.0 110.0" stroke="#000" stroke-width="2.1" fill="none" stroke-linecap="square"/>
<path d="M200.0 454.8L914.0 454.8" stroke="#000" stroke-width="2.1" fill="none" stroke-linecap="square"/>
<path d="M914.0 110.0L914.0 454.8" stroke="#000" stroke-width="2.1" fill="none" stroke-linecap="square"/>
<g font-size="20.56" lengthAdjust="spacingAndGlyphs"><text x="183.06" y="462.60" textLength="12.34" lengthAdjust="spacingAndGlyphs">2</text></g>
<g font-size="20.56" lengthAdjust="spacingAndGlyphs"><text x="183.06" y="405.13" textLength="12.34" lengthAdjust="spacingAndGlyphs">3</text></g>
<g font-size="20.56" lengthAdjust="spacingAndGlyphs"><text x="183.06" y="347.67" textLength="12.34" lengthAdjust="spacingAndGlyphs">4</text></g>
<g font-size="20.56" lengthAdjust="spacingAndGlyphs"><text x="183.06" y="290.20" textLength="12.34" lengthAdjust="spacingAndGlyphs">5</text></g>
<g font-size="20.56" lengthAdjust="spacingAndGlyphs"><text x="183.06" y="232.73" textLength="12.34" lengthAdjust="spacingAndGlyphs">6</text></g>
<g font-size="20.56" lengthAdjust="spacingAndGlyphs"><text x="183.06" y="175.27" textLength="12.34" lengthAdjust="spacingAndGlyphs">7</text></g>
<g font-size="20.56" lengthAdjust="spacingAndGlyphs"><text x="183.06" y="117.80" textLength="12.34" lengthAdjust="spacingAndGlyphs">8</text></g>
<g font-size="25.55" lengthAdjust="spacingAndGlyphs" transform="rotate(-90 172.90 285.20)"><text x="160.17" y="285.20" textLength="13.42" lengthAdjust="spacingAndGlyphs">L</text><text x="173.59" y="285.20" textLength="12.05" lengthAdjust="spacingAndGlyphs">*</text></g>
<circle cx="514.2" cy="79.8" r="2.3" fill="none" stroke="#000" stroke-width="1.2"/>
<g lengthAdjust="spacingAndGlyphs">
<g font-size="25.44"><text x="174.30" y="92.80" textLength="15.27" lengthAdjust="spacingAndGlyphs">2</text><text x="189.57" y="92.80" textLength="7.62" lengthAdjust="spacingAndGlyphs">.</text><text x="197.19" y="92.80" textLength="15.27" lengthAdjust="spacingAndGlyphs">0</text><text x="220.08" y="92.80" textLength="20.70" lengthAdjust="spacingAndGlyphs">M</text><text x="240.78" y="92.80" textLength="14.77" lengthAdjust="spacingAndGlyphs">e</text><text x="255.55" y="92.80" textLength="16.42" lengthAdjust="spacingAndGlyphs">V</text><text x="279.60" y="92.80" textLength="15.17" lengthAdjust="spacingAndGlyphs">E</text><text x="294.77" y="92.80" textLength="6.67" lengthAdjust="spacingAndGlyphs">l</text><text x="301.44" y="92.80" textLength="14.77" lengthAdjust="spacingAndGlyphs">e</text><text x="316.21" y="92.80" textLength="13.20" lengthAdjust="spacingAndGlyphs">c</text><text x="329.41" y="92.80" textLength="9.41" lengthAdjust="spacingAndGlyphs">t</text><text x="338.82" y="92.80" textLength="9.88" lengthAdjust="spacingAndGlyphs">r</text><text x="348.69" y="92.80" textLength="14.16" lengthAdjust="spacingAndGlyphs">o</text><text x="362.85" y="92.80" textLength="15.22" lengthAdjust="spacingAndGlyphs">n</text><text x="385.69" y="92.80" textLength="13.81" lengthAdjust="spacingAndGlyphs">F</text><text x="399.50" y="92.80" textLength="6.67" lengthAdjust="spacingAndGlyphs">l</text><text x="406.18" y="92.80" textLength="15.22" lengthAdjust="spacingAndGlyphs">u</text><text x="421.39" y="92.80" textLength="14.20" lengthAdjust="spacingAndGlyphs">x</text><text x="443.22" y="92.80" textLength="14.70" lengthAdjust="spacingAndGlyphs">a</text><text x="457.93" y="92.80" textLength="9.41" lengthAdjust="spacingAndGlyphs">t</text><text x="474.96" y="92.80" textLength="15.27" lengthAdjust="spacingAndGlyphs">8</text><text x="490.22" y="92.80" textLength="15.27" lengthAdjust="spacingAndGlyphs">8</text></g>
<g font-size="25.44"><text x="530.69" y="92.80" textLength="15.23" lengthAdjust="spacingAndGlyphs">p</text><text x="545.92" y="92.80" textLength="6.67" lengthAdjust="spacingAndGlyphs">i</text><text x="552.59" y="92.80" textLength="9.41" lengthAdjust="spacingAndGlyphs">t</text><text x="562.00" y="92.80" textLength="13.20" lengthAdjust="spacingAndGlyphs">c</text><text x="575.20" y="92.80" textLength="15.22" lengthAdjust="spacingAndGlyphs">h</text><text x="598.05" y="92.80" textLength="14.70" lengthAdjust="spacingAndGlyphs">a</text><text x="612.75" y="92.80" textLength="15.22" lengthAdjust="spacingAndGlyphs">n</text><text x="627.97" y="92.80" textLength="15.23" lengthAdjust="spacingAndGlyphs">g</text><text x="643.20" y="92.80" textLength="6.67" lengthAdjust="spacingAndGlyphs">l</text><text x="649.88" y="92.80" textLength="14.77" lengthAdjust="spacingAndGlyphs">e</text><text x="672.27" y="92.80" textLength="9.36" lengthAdjust="spacingAndGlyphs">(</text><text x="689.25" y="92.80" textLength="13.20" lengthAdjust="spacingAndGlyphs">c</text><text x="702.45" y="92.80" textLength="23.38" lengthAdjust="spacingAndGlyphs">m</text></g>
<g font-size="17.81"><text x="726.33" y="84.16" textLength="14.08" lengthAdjust="spacingAndGlyphs">−</text><text x="740.41" y="84.16" textLength="10.69" lengthAdjust="spacingAndGlyphs">2</text></g>
<g font-size="25.44"><text x="756.09" y="92.80" textLength="12.50" lengthAdjust="spacingAndGlyphs">s</text></g>
<g font-size="17.81"><text x="769.09" y="84.16" textLength="14.08" lengthAdjust="spacingAndGlyphs">−</text><text x="783.17" y="84.16" textLength="10.69" lengthAdjust="spacingAndGlyphs">1</text></g>
<g font-size="25.44"><text x="798.86" y="92.80" textLength="12.50" lengthAdjust="spacingAndGlyphs">s</text><text x="811.36" y="92.80" textLength="9.88" lengthAdjust="spacingAndGlyphs">r</text></g>
<g font-size="17.81"><text x="821.73" y="84.16" textLength="14.08" lengthAdjust="spacingAndGlyphs">−</text><text x="835.81" y="84.16" textLength="10.69" lengthAdjust="spacingAndGlyphs">1</text></g>
<g font-size="25.44"><text x="851.50" y="92.80" textLength="15.73" lengthAdjust="spacingAndGlyphs">K</text><text x="867.23" y="92.80" textLength="13.58" lengthAdjust="spacingAndGlyphs">e</text><text x="880.81" y="92.80" textLength="16.42" lengthAdjust="spacingAndGlyphs">V</text></g>
<g font-size="17.81"><text x="897.73" y="84.16" textLength="14.08" lengthAdjust="spacingAndGlyphs">−</text><text x="911.81" y="84.16" textLength="10.69" lengthAdjust="spacingAndGlyphs">1</text></g>
<g font-size="25.44"><text x="931.50" y="92.80" textLength="9.36" lengthAdjust="spacingAndGlyphs">)</text></g>
</g>
<rect x="959.0" y="110.0" width="17.0" height="344.8" fill="url(#cbg)" stroke="#000" stroke-width="2.1"/>
<g lengthAdjust="spacingAndGlyphs">
<g font-size="20.56"><text x="987.00" y="462.60" textLength="12.34" lengthAdjust="spacingAndGlyphs">1</text><text x="999.34" y="462.60" textLength="12.34" lengthAdjust="spacingAndGlyphs">0</text></g>
<g font-size="14.39"><text x="1012.19" y="455.62" textLength="11.38" lengthAdjust="spacingAndGlyphs">−</text><text x="1023.56" y="455.62" textLength="8.64" lengthAdjust="spacingAndGlyphs">3</text></g>
</g>
<g lengthAdjust="spacingAndGlyphs">
<g font-size="20.56"><text x="987.00" y="405.13" textLength="12.34" lengthAdjust="spacingAndGlyphs">1</text><text x="999.34" y="405.13" textLength="12.34" lengthAdjust="spacingAndGlyphs">0</text></g>
<g font-size="14.39"><text x="1012.19" y="398.15" textLength="11.38" lengthAdjust="spacingAndGlyphs">−</text><text x="1023.56" y="398.15" textLength="8.64" lengthAdjust="spacingAndGlyphs">2</text></g>
</g>
<g lengthAdjust="spacingAndGlyphs">
<g font-size="20.56"><text x="987.00" y="347.67" textLength="12.34" lengthAdjust="spacingAndGlyphs">1</text><text x="999.34" y="347.67" textLength="12.34" lengthAdjust="spacingAndGlyphs">0</text></g>
<g font-size="14.39"><text x="1012.19" y="340.68" textLength="11.38" lengthAdjust="spacingAndGlyphs">−</text><text x="1023.56" y="340.68" textLength="8.64" lengthAdjust="spacingAndGlyphs">1</text></g>
</g>
<g lengthAdjust="spacingAndGlyphs">
<g font-size="20.56"><text x="987.00" y="290.20" textLength="12.34" lengthAdjust="spacingAndGlyphs">1</text><text x="999.34" y="290.20" textLength="12.34" lengthAdjust="spacingAndGlyphs">0</text></g>
<g font-size="14.39"><text x="1012.19" y="283.22" textLength="8.64" lengthAdjust="spacingAndGlyphs">0</text></g>
</g>
<g lengthAdjust="spacingAndGlyphs">
<g font-size="20.56"><text x="987.00" y="232.73" textLength="12.34" lengthAdjust="spacingAndGlyphs">1</text><text x="999.34" y="232.73" textLength="12.34" lengthAdjust="spacingAndGlyphs">0</text></g>
<g font-size="14.39"><text x="1012.19" y="225.75" textLength="8.64" lengthAdjust="spacingAndGlyphs">1</text></g>
</g>
<g lengthAdjust="spacingAndGlyphs">
<g font-size="20.56"><text x="987.00" y="175.27" textLength="12.34" lengthAdjust="spacingAndGlyphs">1</text><text x="999.34" y="175.27" textLength="12.34" lengthAdjust="spacingAndGlyphs">0</text></g>
<g font-size="14.39"><text x="1012.19" y="168.28" textLength="8.64" lengthAdjust="spacingAndGlyphs">2</text></g>
</g>
<g lengthAdjust="spacingAndGlyphs">
<g font-size="20.56"><text x="987.00" y="117.80" textLength="12.34" lengthAdjust="spacingAndGlyphs">1</text><text x="999.34" y="117.80" textLength="12.34" lengthAdjust="spacingAndGlyphs">0</text></g>
<g font-size="14.39"><text x="1012.19" y="110.82" textLength="8.64" lengthAdjust="spacingAndGlyphs">3</text></g>
</g>
<path d="M977.00 454.80L982.40 454.80M977.00 437.50L981.80 437.50M977.00 427.38L981.80 427.38M977.00 420.20L981.80 420.20M977.00 414.63L981.80 414.63M977.00 410.08L981.80 410.08M977.00 406.24L981.80 406.24M977.00 402.90L981.80 402.90M977.00 399.96L981.80 399.96M977.00 397.33L982.40 397.33M977.00 380.03L981.80 380.03M977.00 369.91L981.80 369.91M977.00 362.73L981.80 362.73M977.00 357.17L981.80 357.17M977.00 352.62L981.80 352.62M977.00 348.77L981.80 348.77M977.00 345.44L981.80 345.44M977.00 342.50L981.80 342.50M977.00 339.87L982.40 339.87M977.00 322.57L981.80 322.57M977.00 312.45L981.80 312.45M977.00 305.27L981.80 305.27M977.00 299.70L981.80 299.70M977.00 295.15L981.80 295.15M977.00 291.30L981.80 291.30M977.00 287.97L981.80 287.97M977.00 285.03L981.80 285.03M977.00 282.40L982.40 282.40M977.00 265.10L981.80 265.10M977.00 254.98L981.80 254.98M977.00 247.80L981.80 247.80M977.00 242.23L981.80 242.23M977.00 237.68L981.80 237.68M977.00 233.84L981.80 233.84M977.00 230.50L981.80 230.50M977.00 227.56L981.80 227.56M977.00 224.93L982.40 224.93M977.00 207.63L981.80 207.63M977.00 197.51L981.80 197.51M977.00 190.33L981.80 190.33M977.00 184.77L981.80 184.77M977.00 180.22L981.80 180.22M977.00 176.37L981.80 176.37M977.00 173.04L981.80 173.04M977.00 170.10L981.80 170.10M977.00 167.47L982.40 167.47M977.00 150.17L981.80 150.17M977.00 140.05L981.80 140.05M977.00 132.87L981.80 132.87M977.00 127.30L981.80 127.30M977.00 122.75L981.80 122.75M977.00 118.90L981.80 118.90M977.00 115.57L981.80 115.57M977.00 112.63L981.80 112.63M977.00 110.00L982.40 110.00" stroke="#000" stroke-width="1.1" fill="none"/>
<rect x="824.75" y="478.0" width="89.25" height="344.0" fill="#d3d3d3"/>
<g font-size="67.31" lengthAdjust="spacingAndGlyphs" fill="#808080" fill-opacity="0.25" transform="rotate(-90 888.40 655.10)"><text x="754.06" y="655.10" textLength="36.53" lengthAdjust="spacingAndGlyphs">F</text><text x="790.60" y="655.10" textLength="36.58" lengthAdjust="spacingAndGlyphs">o</text><text x="827.17" y="655.10" textLength="26.11" lengthAdjust="spacingAndGlyphs">r</text><text x="853.28" y="655.10" textLength="37.67" lengthAdjust="spacingAndGlyphs">e</text><text x="890.95" y="655.10" textLength="34.91" lengthAdjust="spacingAndGlyphs">c</text><text x="925.86" y="655.10" textLength="38.91" lengthAdjust="spacingAndGlyphs">a</text><text x="964.77" y="655.10" textLength="33.08" lengthAdjust="spacingAndGlyphs">s</text><text x="997.85" y="655.10" textLength="24.89" lengthAdjust="spacingAndGlyphs">t</text></g>
<line x1="824.75" y1="478.00" x2="824.75" y2="822.00" stroke="#1f77b4" stroke-width="2.1" stroke-dasharray="2.1 3.4"/>
<path d="M200.5 738.2C200.8 735.2 201.6 724.4 202.3 720.0C203.1 715.6 204.0 713.8 205.0 711.8C206.0 709.8 207.3 708.5 208.1 708.2C208.9 707.9 209.5 707.0 209.9 710.0C210.3 713.0 210.1 724.0 210.5 726.4C210.9 728.8 211.6 723.5 212.3 724.5C213.1 725.5 214.1 729.2 215.0 732.7C215.9 736.2 216.6 742.2 217.7 745.5C218.8 748.8 219.7 751.2 221.4 752.7C223.1 754.2 225.8 753.7 227.7 754.5C229.6 755.3 231.4 757.9 232.6 757.3C233.8 756.7 233.8 754.7 235.0 750.9C236.2 747.1 238.0 739.4 239.5 734.5C241.0 729.6 242.7 724.6 244.1 721.8C245.5 719.0 246.2 718.5 247.7 717.6C249.2 716.7 251.5 717.5 253.2 716.4C254.9 715.3 255.9 714.2 257.7 710.9C259.5 707.6 262.3 699.9 264.1 696.4C265.9 692.9 266.8 691.9 268.6 690.0C270.4 688.1 272.9 687.1 275.0 685.1C277.1 683.1 279.3 682.1 281.4 678.2C283.5 674.3 286.0 665.4 287.7 661.8C289.4 658.2 289.7 658.8 291.4 656.4C293.1 654.0 295.7 650.1 297.7 647.3C299.7 644.5 301.8 640.9 303.2 639.6C304.6 638.3 304.9 638.9 305.9 639.3C306.9 639.7 307.8 642.6 309.2 641.8C310.6 641.0 312.2 636.5 314.1 634.5C316.0 632.5 318.2 631.5 320.5 630.0C322.8 628.5 325.0 627.1 327.7 625.8C330.4 624.5 333.8 623.2 336.8 622.2C339.8 621.2 342.9 620.8 345.9 620.0C348.9 619.2 351.7 618.4 355.0 617.6C358.3 616.9 362.7 616.2 365.9 615.5C369.1 614.8 371.1 613.8 374.1 613.6C377.1 613.4 380.9 614.9 384.1 614.5C387.3 614.1 390.8 611.6 393.5 611.5C396.2 611.4 398.4 613.5 400.5 613.8C402.6 614.1 403.6 613.1 405.9 613.1C408.2 613.1 411.4 614.8 414.1 614.0C416.8 613.2 420.2 609.5 422.3 608.2C424.4 606.9 424.8 606.7 426.8 606.4C428.8 606.1 431.7 607.0 434.1 606.4C436.5 605.8 439.1 603.6 441.3 602.5C443.5 601.4 445.2 600.4 447.5 600.0C449.8 599.6 452.8 599.8 455.0 600.0C457.2 600.2 458.3 600.1 460.6 601.3C462.9 602.4 466.0 605.8 468.8 606.9C471.6 608.0 475.4 607.5 477.5 608.1C479.6 608.7 479.9 609.4 481.3 610.6C482.7 611.9 484.2 614.5 485.6 615.6C487.0 616.7 487.6 617.4 489.4 617.3C491.2 617.2 493.8 615.1 496.3 615.0C498.8 614.9 502.4 616.7 504.4 616.6C506.4 616.5 506.5 615.6 508.1 614.4C509.7 613.2 512.2 610.4 513.8 609.4C515.4 608.4 516.0 608.4 517.5 608.1C519.0 607.8 520.9 608.0 522.5 607.5C524.1 607.0 525.3 606.3 526.9 605.3C528.5 604.3 530.3 602.3 531.9 601.3C533.5 600.3 533.7 599.7 536.3 599.4C538.9 599.1 544.9 599.1 547.5 599.4C550.1 599.7 549.8 599.8 551.9 601.3C554.0 602.8 557.5 607.0 560.0 608.5C562.5 610.0 565.0 609.3 566.9 610.3C568.8 611.3 569.6 612.1 571.3 614.4C573.0 616.6 575.2 621.9 576.9 623.8C578.6 625.7 579.7 625.8 581.3 626.0C582.9 626.2 584.3 624.5 586.3 625.0C588.3 625.5 591.3 628.5 593.1 628.8C594.9 629.1 595.8 628.1 596.9 626.9C598.0 625.6 598.8 623.0 600.0 621.3C601.2 619.6 602.3 617.8 604.4 616.9C606.5 616.0 610.3 616.9 612.5 616.0C614.7 615.1 615.5 613.2 617.5 611.3C619.5 609.4 622.4 606.0 624.4 604.8C626.4 603.5 627.2 603.9 629.4 603.8C631.6 603.7 635.3 603.5 637.5 604.4C639.7 605.3 640.7 607.2 642.5 609.4C644.3 611.6 646.4 615.7 648.1 617.5C649.8 619.3 650.8 619.3 652.5 620.0C654.2 620.7 656.6 620.5 658.1 621.9C659.6 623.2 660.0 625.5 661.3 628.1C662.5 630.7 664.4 635.8 665.6 637.5C666.9 639.2 667.3 638.8 668.8 638.5C670.3 638.2 672.1 635.8 674.4 635.8C676.7 635.8 680.5 638.8 682.5 638.8C684.5 638.8 684.4 638.2 686.3 635.6C688.2 633.0 691.1 625.5 693.8 623.1C696.5 620.7 700.3 622.1 702.5 621.0C704.7 619.9 705.2 618.2 706.9 616.3C708.6 614.4 710.9 610.8 712.5 609.4C714.1 608.0 714.0 608.2 716.3 608.1C718.6 608.0 723.8 607.8 726.3 608.5C728.8 609.2 729.4 610.3 731.3 612.5C733.2 614.7 735.4 619.5 737.5 621.5C739.6 623.5 742.0 623.4 743.8 624.4C745.6 625.4 746.6 625.2 748.1 627.5C749.6 629.8 751.0 635.0 752.5 638.1C754.0 641.2 755.0 645.3 756.9 646.0C758.8 646.7 761.4 642.3 763.8 642.1C766.2 641.9 769.3 645.0 771.3 645.0C773.3 645.0 773.7 644.6 775.6 641.9C777.5 639.2 780.7 631.3 782.5 628.8C784.3 626.3 784.7 627.4 786.3 626.9C787.9 626.4 790.0 627.0 791.9 625.6C793.8 624.2 795.6 621.0 797.5 618.8C799.4 616.6 801.4 613.7 803.1 612.5C804.8 611.3 805.7 611.6 807.5 611.5C809.3 611.4 811.9 611.0 813.8 611.6C815.7 612.2 816.9 612.9 818.8 615.0C820.7 617.1 823.2 622.0 825.0 624.4C826.8 626.8 827.7 628.1 829.4 629.4C831.1 630.7 833.4 630.9 835.0 632.3C836.6 633.6 837.4 635.1 838.8 637.5C840.1 639.9 841.8 644.7 843.1 646.9C844.5 649.1 845.2 650.2 846.9 650.6C848.6 651.0 850.8 648.7 853.1 649.0C855.4 649.3 858.7 652.3 860.6 652.5C862.5 652.7 862.8 652.0 864.4 650.0C866.0 648.0 868.4 642.5 870.0 640.6C871.6 638.7 871.9 639.0 873.8 638.5C875.7 638.0 879.2 638.5 881.3 637.5C883.4 636.5 884.5 634.3 886.3 632.5C888.1 630.7 890.2 628.0 891.9 626.9C893.6 625.8 894.1 626.0 896.3 626.0C898.5 626.0 902.8 626.1 905.0 626.9C907.2 627.7 907.9 629.0 909.4 630.6C910.9 632.2 913.2 635.5 914.0 636.5" stroke="#f00" stroke-width="2.1" fill="none" stroke-linejoin="round" clip-path="url(#cp2)"/>
<path d="M200.00 822.00L205.40 822.00M200.00 804.74L203.50 804.74M200.00 794.65L203.50 794.65M200.00 787.48L203.50 787.48M200.00 781.93L203.50 781.93M200.00 777.39L203.50 777.39M200.00 773.55L203.50 773.55M200.00 770.22L203.50 770.22M200.00 767.29L203.50 767.29M200.00 764.67L205.40 764.67M200.00 747.41L203.50 747.41M200.00 737.31L203.50 737.31M200.00 730.15L203.50 730.15M200.00 724.59L203.50 724.59M200.00 720.05L203.50 720.05M200.00 716.21L203.50 716.21M200.00 712.89L203.50 712.89M200.00 709.96L203.50 709.96M200.00 707.33L205.40 707.33M200.00 690.07L203.50 690.07M200.00 679.98L203.50 679.98M200.00 672.82L203.50 672.82M200.00 667.26L203.50 667.26M200.00 662.72L203.50 662.72M200.00 658.88L203.50 658.88M200.00 655.56L203.50 655.56M200.00 652.62L203.50 652.62M200.00 650.00L205.40 650.00M200.00 632.74L203.50 632.74M200.00 622.65L203.50 622.65M200.00 615.48L203.50 615.48M200.00 609.93L203.50 609.93M200.00 605.39L203.50 605.39M200.00 601.55L203.50 601.55M200.00 598.22L203.50 598.22M200.00 595.29L203.50 595.29M200.00 592.67L205.40 592.67M200.00 575.41L203.50 575.41M200.00 565.31L203.50 565.31M200.00 558.15L203.50 558.15M200.00 552.59L203.50 552.59M200.00 548.05L203.50 548.05M200.00 544.21L203.50 544.21M200.00 540.89L203.50 540.89M200.00 537.96L203.50 537.96M200.00 535.33L205.40 535.33M200.00 518.07L203.50 518.07M200.00 507.98L203.50 507.98M200.00 500.82L203.50 500.82M200.00 495.26L203.50 495.26M200.00 490.72L203.50 490.72M200.00 486.88L203.50 486.88M200.00 483.56L203.50 483.56M200.00 480.62L203.50 480.62M200.00 478.00L205.40 478.00" stroke="#000" stroke-width="1.1" fill="none"/>
<path d="M914.00 822.00L908.60 822.00M914.00 804.74L910.50 804.74M914.00 794.65L910.50 794.65M914.00 787.48L910.50 787.48M914.00 781.93L910.50 781.93M914.00 777.39L910.50 777.39M914.00 773.55L910.50 773.55M914.00 770.22L910.50 770.22M914.00 767.29L910.50 767.29M914.00 764.67L908.60 764.67M914.00 747.41L910.50 747.41M914.00 737.31L910.50 737.31M914.00 730.15L910.50 730.15M914.00 724.59L910.50 724.59M914.00 720.05L910.50 720.05M914.00 716.21L910.50 716.21M914.00 712.89L910.50 712.89M914.00 709.96L910.50 709.96M914.00 707.33L908.60 707.33M914.00 690.07L910.50 690.07M914.00 679.98L910.50 679.98M914.00 672.82L910.50 672.82M914.00 667.26L910.50 667.26M914.00 662.72L910.50 662.72M914.00 658.88L910.50 658.88M914.00 655.56L910.50 655.56M914.00 652.62L910.50 652.62M914.00 650.00L908.60 650.00M914.00 632.74L910.50 632.74M914.00 622.65L910.50 622.65M914.00 615.48L910.50 615.48M914.00 609.93L910.50 609.93M914.00 605.39L910.50 605.39M914.00 601.55L910.50 601.55M914.00 598.22L910.50 598.22M914.00 595.29L910.50 595.29M914.00 592.67L908.60 592.67M914.00 575.41L910.50 575.41M914.00 565.31L910.50 565.31M914.00 558.15L910.50 558.15M914.00 552.59L910.50 552.59M914.00 548.05L910.50 548.05M914.00 544.21L910.50 544.21M914.00 540.89L910.50 540.89M914.00 537.96L910.50 537.96M914.00 535.33L908.60 535.33M914.00 518.07L910.50 518.07M914.00 507.98L910.50 507.98M914.00 500.82L910.50 500.82M914.00 495.26L910.50 495.26M914.00 490.72L910.50 490.72M914.00 486.88L910.50 486.88M914.00 483.56L910.50 483.56M914.00 480.62L910.50 480.62M914.00 478.00L908.60 478.00" stroke="#000" stroke-width="1.1" fill="none"/>
<path d="M248.74 822.00L248.74 817.10M337.99 822.00L337.99 817.10M427.24 822.00L427.24 817.10M516.49 822.00L516.49 817.10M605.74 822.00L605.74 817.10M694.99 822.00L694.99 817.10M784.24 822.00L784.24 817.10M873.49 822.00L873.49 817.10" stroke="#000" stroke-width="1.1" fill="none"/>
<path d="M200.0 822.0L200.0 478.0L914.0 478.0" stroke="#000" stroke-width="2.1" fill="none" stroke-linecap="square"/>
<path d="M200.0 822.0L914.0 822.0" stroke="#000" stroke-width="2.1" fill="none" stroke-linecap="square"/>
<path d="M914.0 478.0L914.0 822.0" stroke="#000" stroke-width="2.1" fill="none" stroke-linecap="square"/>
<g lengthAdjust="spacingAndGlyphs">
<g font-size="20.56"><text x="149.80" y="829.80" textLength="12.34" lengthAdjust="spacingAndGlyphs">1</text><text x="162.14" y="829.80" textLength="12.34" lengthAdjust="spacingAndGlyphs">0</text></g>
<g font-size="14.39"><text x="174.98" y="822.82" textLength="11.38" lengthAdjust="spacingAndGlyphs">−</text><text x="186.36" y="822.82" textLength="8.64" lengthAdjust="spacingAndGlyphs">3</text></g>
</g>
<g lengthAdjust="spacingAndGlyphs">
<g font-size="20.56"><text x="149.80" y="772.47" textLength="12.34" lengthAdjust="spacingAndGlyphs">1</text><text x="162.14" y="772.47" textLength="12.34" lengthAdjust="spacingAndGlyphs">0</text></g>
<g font-size="14.39"><text x="174.98" y="765.48" textLength="11.38" lengthAdjust="spacingAndGlyphs">−</text><text x="186.36" y="765.48" textLength="8.64" lengthAdjust="spacingAndGlyphs">2</text></g>
</g>
<g lengthAdjust="spacingAndGlyphs">
<g font-size="20.56"><text x="149.80" y="715.13" textLength="12.34" lengthAdjust="spacingAndGlyphs">1</text><text x="162.14" y="715.13" textLength="12.34" lengthAdjust="spacingAndGlyphs">0</text></g>
<g font-size="14.39"><text x="174.98" y="708.15" textLength="11.38" lengthAdjust="spacingAndGlyphs">−</text><text x="186.36" y="708.15" textLength="8.64" lengthAdjust="spacingAndGlyphs">1</text></g>
</g>
<g lengthAdjust="spacingAndGlyphs">
<g font-size="20.56"><text x="161.17" y="657.80" textLength="12.34" lengthAdjust="spacingAndGlyphs">1</text><text x="173.52" y="657.80" textLength="12.34" lengthAdjust="spacingAndGlyphs">0</text></g>
<g font-size="14.39"><text x="186.36" y="650.82" textLength="8.64" lengthAdjust="spacingAndGlyphs">0</text></g>
</g>
<g lengthAdjust="spacingAndGlyphs">
<g font-size="20.56"><text x="161.17" y="600.47" textLength="12.34" lengthAdjust="spacingAndGlyphs">1</text><text x="173.52" y="600.47" textLength="12.34" lengthAdjust="spacingAndGlyphs">0</text></g>
<g font-size="14.39"><text x="186.36" y="593.48" textLength="8.64" lengthAdjust="spacingAndGlyphs">1</text></g>
</g>
<g lengthAdjust="spacingAndGlyphs">
<g font-size="20.56"><text x="161.17" y="543.13" textLength="12.34" lengthAdjust="spacingAndGlyphs">1</text><text x="173.52" y="543.13" textLength="12.34" lengthAdjust="spacingAndGlyphs">0</text></g>
<g font-size="14.39"><text x="186.36" y="536.15" textLength="8.64" lengthAdjust="spacingAndGlyphs">2</text></g>
</g>
<g lengthAdjust="spacingAndGlyphs">
<g font-size="20.56"><text x="161.17" y="485.80" textLength="12.34" lengthAdjust="spacingAndGlyphs">1</text><text x="173.52" y="485.80" textLength="12.34" lengthAdjust="spacingAndGlyphs">0</text></g>
<g font-size="14.39"><text x="186.36" y="478.82" textLength="8.64" lengthAdjust="spacingAndGlyphs">3</text></g>
</g>
<g font-size="25.44" lengthAdjust="spacingAndGlyphs"><text x="236.00" y="511.50" textLength="18.59" lengthAdjust="spacingAndGlyphs">G</text><text x="254.59" y="511.50" textLength="14.77" lengthAdjust="spacingAndGlyphs">e</text><text x="269.36" y="511.50" textLength="14.69" lengthAdjust="spacingAndGlyphs">o</text><text x="284.05" y="511.50" textLength="12.50" lengthAdjust="spacingAndGlyphs">s</text><text x="296.55" y="511.50" textLength="9.41" lengthAdjust="spacingAndGlyphs">t</text><text x="305.95" y="511.50" textLength="14.70" lengthAdjust="spacingAndGlyphs">a</text><text x="320.66" y="511.50" textLength="9.41" lengthAdjust="spacingAndGlyphs">t</text><text x="330.06" y="511.50" textLength="6.67" lengthAdjust="spacingAndGlyphs">i</text><text x="336.73" y="511.50" textLength="14.69" lengthAdjust="spacingAndGlyphs">o</text><text x="351.42" y="511.50" textLength="15.22" lengthAdjust="spacingAndGlyphs">n</text><text x="366.64" y="511.50" textLength="14.70" lengthAdjust="spacingAndGlyphs">a</text><text x="381.34" y="511.50" textLength="9.88" lengthAdjust="spacingAndGlyphs">r</text><text x="391.22" y="511.50" textLength="14.20" lengthAdjust="spacingAndGlyphs">y</text><text x="413.05" y="511.50" textLength="14.69" lengthAdjust="spacingAndGlyphs">o</text><text x="427.73" y="511.50" textLength="9.88" lengthAdjust="spacingAndGlyphs">r</text><text x="437.61" y="511.50" textLength="15.23" lengthAdjust="spacingAndGlyphs">b</text><text x="452.84" y="511.50" textLength="6.67" lengthAdjust="spacingAndGlyphs">i</text><text x="459.52" y="511.50" textLength="9.41" lengthAdjust="spacingAndGlyphs">t</text><text x="468.92" y="511.50" textLength="8.09" lengthAdjust="spacingAndGlyphs">:</text></g>
<g font-size="25.44" lengthAdjust="spacingAndGlyphs" fill="#f00"><text x="500.00" y="511.50" textLength="20.70" lengthAdjust="spacingAndGlyphs">M</text><text x="520.70" y="511.50" textLength="14.69" lengthAdjust="spacingAndGlyphs">o</text><text x="535.39" y="511.50" textLength="15.23" lengthAdjust="spacingAndGlyphs">d</text><text x="550.62" y="511.50" textLength="14.77" lengthAdjust="spacingAndGlyphs">e</text><text x="565.39" y="511.50" textLength="6.67" lengthAdjust="spacingAndGlyphs">l</text></g>
<g font-size="25.55" lengthAdjust="spacingAndGlyphs" transform="rotate(-90 101.00 650.50)"><text x="-30.13" y="650.50" textLength="15.33" lengthAdjust="spacingAndGlyphs">2</text><text x="-14.80" y="650.50" textLength="7.66" lengthAdjust="spacingAndGlyphs">.</text><text x="-7.15" y="650.50" textLength="15.33" lengthAdjust="spacingAndGlyphs">0</text><text x="15.84" y="650.50" textLength="20.78" lengthAdjust="spacingAndGlyphs">M</text><text x="36.62" y="650.50" textLength="14.83" lengthAdjust="spacingAndGlyphs">e</text><text x="51.45" y="650.50" textLength="16.48" lengthAdjust="spacingAndGlyphs">V</text><text x="75.59" y="650.50" textLength="15.22" lengthAdjust="spacingAndGlyphs">E</text><text x="90.80" y="650.50" textLength="6.69" lengthAdjust="spacingAndGlyphs">l</text><text x="97.49" y="650.50" textLength="14.83" lengthAdjust="spacingAndGlyphs">e</text><text x="112.32" y="650.50" textLength="13.25" lengthAdjust="spacingAndGlyphs">c</text><text x="125.57" y="650.50" textLength="9.45" lengthAdjust="spacingAndGlyphs">t</text><text x="135.02" y="650.50" textLength="9.91" lengthAdjust="spacingAndGlyphs">r</text><text x="144.93" y="650.50" textLength="14.20" lengthAdjust="spacingAndGlyphs">o</text><text x="159.13" y="650.50" textLength="15.27" lengthAdjust="spacingAndGlyphs">n</text><text x="182.05" y="650.50" textLength="13.86" lengthAdjust="spacingAndGlyphs">F</text><text x="195.91" y="650.50" textLength="6.69" lengthAdjust="spacingAndGlyphs">l</text><text x="202.60" y="650.50" textLength="15.27" lengthAdjust="spacingAndGlyphs">u</text><text x="217.87" y="650.50" textLength="14.27" lengthAdjust="spacingAndGlyphs">x</text></g>
<g lengthAdjust="spacingAndGlyphs" transform="rotate(-90 135.00 649.00)">
<g font-size="25.55"><text x="0.27" y="649.00" textLength="9.41" lengthAdjust="spacingAndGlyphs">(</text><text x="17.33" y="649.00" textLength="13.25" lengthAdjust="spacingAndGlyphs">c</text><text x="30.58" y="649.00" textLength="23.47" lengthAdjust="spacingAndGlyphs">m</text></g>
<g font-size="17.88"><text x="54.55" y="640.32" textLength="14.12" lengthAdjust="spacingAndGlyphs">−</text><text x="68.67" y="640.32" textLength="10.72" lengthAdjust="spacingAndGlyphs">2</text></g>
<g font-size="25.55"><text x="84.39" y="649.00" textLength="12.55" lengthAdjust="spacingAndGlyphs">s</text></g>
<g font-size="17.88"><text x="97.44" y="640.32" textLength="14.12" lengthAdjust="spacingAndGlyphs">−</text><text x="111.56" y="640.32" textLength="10.72" lengthAdjust="spacingAndGlyphs">1</text></g>
<g font-size="25.55"><text x="127.28" y="649.00" textLength="12.55" lengthAdjust="spacingAndGlyphs">s</text><text x="139.83" y="649.00" textLength="9.91" lengthAdjust="spacingAndGlyphs">r</text></g>
<g font-size="17.88"><text x="150.23" y="640.32" textLength="14.12" lengthAdjust="spacingAndGlyphs">−</text><text x="164.36" y="640.32" textLength="10.72" lengthAdjust="spacingAndGlyphs">1</text></g>
<g font-size="25.55"><text x="180.08" y="649.00" textLength="15.80" lengthAdjust="spacingAndGlyphs">K</text><text x="195.88" y="649.00" textLength="13.62" lengthAdjust="spacingAndGlyphs">e</text><text x="209.50" y="649.00" textLength="16.48" lengthAdjust="spacingAndGlyphs">V</text></g>
<g font-size="17.88"><text x="226.48" y="640.32" textLength="14.12" lengthAdjust="spacingAndGlyphs">−</text><text x="240.61" y="640.32" textLength="10.72" lengthAdjust="spacingAndGlyphs">1</text></g>
<g font-size="25.55"><text x="260.33" y="649.00" textLength="9.41" lengthAdjust="spacingAndGlyphs">)</text></g>
</g>
<g clip-path="url(#cp3)">
<rect x="198.82" y="940.56" width="9.1" height="76.44" fill="#bfbf00"/>
<rect x="209.97" y="940.56" width="9.1" height="76.44" fill="#bfbf00"/>
<rect x="221.13" y="927.75" width="9.1" height="89.25" fill="#bfbf00"/>
<rect x="232.29" y="965.97" width="9.1" height="51.03" fill="#008000"/>
<rect x="243.44" y="946.86" width="9.1" height="70.14" fill="#bfbf00"/>
<rect x="254.60" y="953.36" width="9.1" height="63.64" fill="#bfbf00"/>
<rect x="265.76" y="946.86" width="9.1" height="70.14" fill="#bfbf00"/>
<rect x="276.91" y="953.36" width="9.1" height="63.64" fill="#bfbf00"/>
<rect x="288.07" y="965.97" width="9.1" height="51.03" fill="#008000"/>
<rect x="299.22" y="965.97" width="9.1" height="51.03" fill="#008000"/>
<rect x="310.38" y="965.97" width="9.1" height="51.03" fill="#008000"/>
<rect x="321.54" y="978.78" width="9.1" height="38.22" fill="#008000"/>
<rect x="332.69" y="972.47" width="9.1" height="44.53" fill="#008000"/>
<rect x="343.85" y="985.08" width="9.1" height="31.92" fill="#008000"/>
<rect x="355.01" y="985.08" width="9.1" height="31.92" fill="#008000"/>
<rect x="366.16" y="972.47" width="9.1" height="44.53" fill="#008000"/>
<rect x="377.32" y="978.78" width="9.1" height="38.22" fill="#008000"/>
<rect x="388.47" y="953.36" width="9.1" height="63.64" fill="#bfbf00"/>
<rect x="399.63" y="959.67" width="9.1" height="57.33" fill="#bfbf00"/>
<rect x="410.79" y="978.78" width="9.1" height="38.22" fill="#008000"/>
<rect x="421.94" y="985.08" width="9.1" height="31.92" fill="#008000"/>
<rect x="433.10" y="959.67" width="9.1" height="57.33" fill="#bfbf00"/>
<rect x="444.26" y="972.47" width="9.1" height="44.53" fill="#008000"/>
<rect x="455.41" y="991.58" width="9.1" height="25.42" fill="#008000"/>
<rect x="466.57" y="946.86" width="9.1" height="70.14" fill="#bfbf00"/>
<rect x="477.72" y="978.78" width="9.1" height="38.22" fill="#008000"/>
<rect x="488.88" y="991.58" width="9.1" height="25.42" fill="#008000"/>
<rect x="500.04" y="997.89" width="9.1" height="19.11" fill="#008000"/>
<rect x="511.19" y="965.97" width="9.1" height="51.03" fill="#008000"/>
<rect x="522.35" y="1010.69" width="9.1" height="6.31" fill="#008000"/>
<rect x="533.51" y="1010.69" width="9.1" height="6.31" fill="#008000"/>
<rect x="544.66" y="997.89" width="9.1" height="19.11" fill="#008000"/>
<rect x="555.82" y="997.89" width="9.1" height="19.11" fill="#008000"/>
<rect x="566.98" y="991.58" width="9.1" height="25.42" fill="#008000"/>
<rect x="578.13" y="965.97" width="9.1" height="51.03" fill="#008000"/>
<rect x="589.29" y="985.08" width="9.1" height="31.92" fill="#008000"/>
<rect x="600.44" y="978.78" width="9.1" height="38.22" fill="#008000"/>
<rect x="611.60" y="1010.69" width="9.1" height="6.31" fill="#008000"/>
<rect x="633.91" y="1004.20" width="9.1" height="12.80" fill="#008000"/>
<rect x="645.07" y="1010.69" width="9.1" height="6.31" fill="#008000"/>
<rect x="689.69" y="1010.69" width="9.1" height="6.31" fill="#008000"/>
<rect x="700.85" y="1010.69" width="9.1" height="6.31" fill="#008000"/>
<rect x="723.16" y="1010.69" width="9.1" height="6.31" fill="#008000"/>
<rect x="734.32" y="997.89" width="9.1" height="19.11" fill="#008000"/>
<rect x="767.79" y="1004.20" width="9.1" height="12.80" fill="#008000"/>
<rect x="778.94" y="1010.69" width="9.1" height="6.31" fill="#008000"/>
<rect x="823.57" y="959.67" width="9.1" height="57.33" fill="#bfbf00"/>
<rect x="834.73" y="959.67" width="9.1" height="57.33" fill="#bfbf00"/>
<rect x="845.88" y="959.67" width="9.1" height="57.33" fill="#bfbf00"/>
<rect x="857.04" y="959.67" width="9.1" height="57.33" fill="#bfbf00"/>
<rect x="868.19" y="940.56" width="9.1" height="76.44" fill="#bfbf00"/>
<rect x="879.35" y="940.56" width="9.1" height="76.44" fill="#bfbf00"/>
<rect x="890.51" y="940.56" width="9.1" height="76.44" fill="#bfbf00"/>
<rect x="901.66" y="940.56" width="9.1" height="76.44" fill="#bfbf00"/>
</g>
<g font-size="32.86" lengthAdjust="spacingAndGlyphs" fill="#808080" fill-opacity="0.28" transform="rotate(-90 875.50 934.80)"><text x="809.91" y="934.80" textLength="17.83" lengthAdjust="spacingAndGlyphs">F</text><text x="827.73" y="934.80" textLength="17.86" lengthAdjust="spacingAndGlyphs">o</text><text x="845.59" y="934.80" textLength="12.75" lengthAdjust="spacingAndGlyphs">r</text><text x="858.34" y="934.80" textLength="18.39" lengthAdjust="spacingAndGlyphs">e</text><text x="876.73" y="934.80" textLength="17.05" lengthAdjust="spacingAndGlyphs">c</text><text x="893.78" y="934.80" textLength="19.00" lengthAdjust="spacingAndGlyphs">a</text><text x="912.78" y="934.80" textLength="16.16" lengthAdjust="spacingAndGlyphs">s</text><text x="928.94" y="934.80" textLength="12.16" lengthAdjust="spacingAndGlyphs">t</text></g>
<line x1="824.75" y1="845.00" x2="824.75" y2="1017.00" stroke="#1f77b4" stroke-width="2.1" stroke-dasharray="2.1 3.4"/>
<path d="M200.00 1017.00L205.40 1017.00M200.00 978.78L205.40 978.78M200.00 940.56L205.40 940.56M200.00 902.33L205.40 902.33M200.00 864.11L205.40 864.11" stroke="#000" stroke-width="1.1" fill="none"/>
<path d="M914.00 1017.00L908.60 1017.00M914.00 978.78L908.60 978.78M914.00 940.56L908.60 940.56M914.00 902.33L908.60 902.33M914.00 864.11L908.60 864.11" stroke="#000" stroke-width="1.1" fill="none"/>
<path d="M248.74 1017.00L248.74 1012.10M337.99 1017.00L337.99 1012.10M427.24 1017.00L427.24 1012.10M516.49 1017.00L516.49 1012.10M605.74 1017.00L605.74 1012.10M694.99 1017.00L694.99 1012.10M784.24 1017.00L784.24 1012.10M873.49 1017.00L873.49 1012.10" stroke="#000" stroke-width="1.1" fill="none"/>
<path d="M200.0 1017.0L200.0 845.0L914.0 845.0" stroke="#000" stroke-width="2.1" fill="none" stroke-linecap="square"/>
<path d="M200.0 1017.0L914.0 1017.0" stroke="#000" stroke-width="2.1" fill="none" stroke-linecap="square"/>
<path d="M914.0 845.0L914.0 1017.0" stroke="#000" stroke-width="2.1" fill="none" stroke-linecap="square"/>
<g font-size="20.56" lengthAdjust="spacingAndGlyphs"><text x="183.06" y="1024.80" textLength="12.34" lengthAdjust="spacingAndGlyphs">0</text></g>
<g font-size="20.56" lengthAdjust="spacingAndGlyphs"><text x="183.06" y="986.58" textLength="12.34" lengthAdjust="spacingAndGlyphs">2</text></g>
<g font-size="20.56" lengthAdjust="spacingAndGlyphs"><text x="183.06" y="948.36" textLength="12.34" lengthAdjust="spacingAndGlyphs">4</text></g>
<g font-size="20.56" lengthAdjust="spacingAndGlyphs"><text x="183.06" y="910.13" textLength="12.34" lengthAdjust="spacingAndGlyphs">6</text></g>
<g font-size="20.56" lengthAdjust="spacingAndGlyphs"><text x="183.06" y="871.91" textLength="12.34" lengthAdjust="spacingAndGlyphs">8</text></g>
<g font-size="20.56" lengthAdjust="spacingAndGlyphs"><text x="236.40" y="1037.00" textLength="12.34" lengthAdjust="spacingAndGlyphs">2</text><text x="248.74" y="1037.00" textLength="12.34" lengthAdjust="spacingAndGlyphs">8</text></g>
<g font-size="20.56" lengthAdjust="spacingAndGlyphs"><text x="325.65" y="1037.00" textLength="12.34" lengthAdjust="spacingAndGlyphs">2</text><text x="337.99" y="1037.00" textLength="12.34" lengthAdjust="spacingAndGlyphs">9</text></g>
<g font-size="20.56" lengthAdjust="spacingAndGlyphs"><text x="414.90" y="1037.00" textLength="12.34" lengthAdjust="spacingAndGlyphs">3</text><text x="427.24" y="1037.00" textLength="12.34" lengthAdjust="spacingAndGlyphs">0</text></g>
<g font-size="20.56" lengthAdjust="spacingAndGlyphs"><text x="504.15" y="1037.00" textLength="12.34" lengthAdjust="spacingAndGlyphs">3</text><text x="516.49" y="1037.00" textLength="12.34" lengthAdjust="spacingAndGlyphs">1</text></g>
<g font-size="20.56" lengthAdjust="spacingAndGlyphs"><text x="593.40" y="1037.00" textLength="12.34" lengthAdjust="spacingAndGlyphs">0</text><text x="605.74" y="1037.00" textLength="12.34" lengthAdjust="spacingAndGlyphs">1</text></g>
<g font-size="20.56" lengthAdjust="spacingAndGlyphs"><text x="682.65" y="1037.00" textLength="12.34" lengthAdjust="spacingAndGlyphs">0</text><text x="694.99" y="1037.00" textLength="12.34" lengthAdjust="spacingAndGlyphs">2</text></g>
<g font-size="20.56" lengthAdjust="spacingAndGlyphs"><text x="771.90" y="1037.00" textLength="12.34" lengthAdjust="spacingAndGlyphs">0</text><text x="784.24" y="1037.00" textLength="12.34" lengthAdjust="spacingAndGlyphs">3</text></g>
<g font-size="20.56" lengthAdjust="spacingAndGlyphs"><text x="861.15" y="1037.00" textLength="12.34" lengthAdjust="spacingAndGlyphs">0</text><text x="873.49" y="1037.00" textLength="12.34" lengthAdjust="spacingAndGlyphs">4</text></g>
<g font-size="25.55" lengthAdjust="spacingAndGlyphs"><text x="338.75" y="1066.00" textLength="18.55" lengthAdjust="spacingAndGlyphs">D</text><text x="357.30" y="1066.00" textLength="14.83" lengthAdjust="spacingAndGlyphs">e</text><text x="372.12" y="1066.00" textLength="13.25" lengthAdjust="spacingAndGlyphs">c</text><text x="385.38" y="1066.00" textLength="14.83" lengthAdjust="spacingAndGlyphs">e</text><text x="400.20" y="1066.00" textLength="23.47" lengthAdjust="spacingAndGlyphs">m</text><text x="423.67" y="1066.00" textLength="15.30" lengthAdjust="spacingAndGlyphs">b</text><text x="438.97" y="1066.00" textLength="14.83" lengthAdjust="spacingAndGlyphs">e</text><text x="453.80" y="1066.00" textLength="9.91" lengthAdjust="spacingAndGlyphs">r</text><text x="471.36" y="1066.00" textLength="15.33" lengthAdjust="spacingAndGlyphs">2</text><text x="486.69" y="1066.00" textLength="15.33" lengthAdjust="spacingAndGlyphs">0</text><text x="502.02" y="1066.00" textLength="15.33" lengthAdjust="spacingAndGlyphs">1</text><text x="517.34" y="1066.00" textLength="15.33" lengthAdjust="spacingAndGlyphs">8</text><text x="540.33" y="1066.00" textLength="8.12" lengthAdjust="spacingAndGlyphs">/</text><text x="554.42" y="1066.00" textLength="8.68" lengthAdjust="spacingAndGlyphs">J</text><text x="563.22" y="1066.00" textLength="14.77" lengthAdjust="spacingAndGlyphs">a</text><text x="577.98" y="1066.00" textLength="15.27" lengthAdjust="spacingAndGlyphs">n</text><text x="593.25" y="1066.00" textLength="15.27" lengthAdjust="spacingAndGlyphs">u</text><text x="608.52" y="1066.00" textLength="14.77" lengthAdjust="spacingAndGlyphs">a</text><text x="623.28" y="1066.00" textLength="9.91" lengthAdjust="spacingAndGlyphs">r</text><text x="633.19" y="1066.00" textLength="14.27" lengthAdjust="spacingAndGlyphs">y</text><text x="655.11" y="1066.00" textLength="15.33" lengthAdjust="spacingAndGlyphs">2</text><text x="670.44" y="1066.00" textLength="15.33" lengthAdjust="spacingAndGlyphs">0</text><text x="685.77" y="1066.00" textLength="15.33" lengthAdjust="spacingAndGlyphs">1</text><text x="701.09" y="1066.00" textLength="15.33" lengthAdjust="spacingAndGlyphs">9</text><text x="724.08" y="1066.00" textLength="9.41" lengthAdjust="spacingAndGlyphs">(</text><text x="733.48" y="1066.00" textLength="17.64" lengthAdjust="spacingAndGlyphs">U</text><text x="751.12" y="1066.00" textLength="14.72" lengthAdjust="spacingAndGlyphs">T</text><text x="765.84" y="1066.00" textLength="9.41" lengthAdjust="spacingAndGlyphs">)</text></g>
<g font-size="25.55" lengthAdjust="spacingAndGlyphs" transform="rotate(-90 172.80 934.00)"><text x="157.25" y="934.00" textLength="15.80" lengthAdjust="spacingAndGlyphs">K</text><text x="173.05" y="934.00" textLength="15.30" lengthAdjust="spacingAndGlyphs">p</text></g>
<rect x="207.5" y="852.5" width="88" height="66.5" rx="3" fill="#fff" fill-opacity="0.8" stroke="#ccc" stroke-width="1.1"/>
<rect x="213" y="859.0" width="28" height="10.9" fill="#008000"/>
<g font-size="14.73" lengthAdjust="spacingAndGlyphs"><text x="252.00" y="869.20" textLength="9.11" lengthAdjust="spacingAndGlyphs">K</text><text x="261.11" y="869.20" textLength="8.81" lengthAdjust="spacingAndGlyphs">p</text><text x="269.92" y="869.20" textLength="11.64" lengthAdjust="spacingAndGlyphs">&lt;</text><text x="281.56" y="869.20" textLength="8.84" lengthAdjust="spacingAndGlyphs">3</text></g>
<rect x="213" y="880.0" width="28" height="10.9" fill="#bfbf00"/>
<g font-size="14.73" lengthAdjust="spacingAndGlyphs"><text x="252.00" y="890.20" textLength="9.11" lengthAdjust="spacingAndGlyphs">K</text><text x="261.11" y="890.20" textLength="8.81" lengthAdjust="spacingAndGlyphs">p</text><text x="269.92" y="890.20" textLength="11.64" lengthAdjust="spacingAndGlyphs">&lt;</text><text x="281.56" y="890.20" textLength="8.84" lengthAdjust="spacingAndGlyphs">5</text></g>
<rect x="213" y="901.0" width="28" height="10.9" fill="#f00"/>
<g font-size="14.73" lengthAdjust="spacingAndGlyphs"><text x="252.00" y="911.20" textLength="9.11" lengthAdjust="spacingAndGlyphs">K</text><text x="261.11" y="911.20" textLength="8.81" lengthAdjust="spacingAndGlyphs">p</text><text x="269.92" y="911.20" textLength="11.64" lengthAdjust="spacingAndGlyphs">&gt;</text><text x="281.56" y="911.20" textLength="8.84" lengthAdjust="spacingAndGlyphs">5</text></g>
<line x1="1205.00" y1="282.40" x2="1800.00" y2="282.40" stroke="#000" stroke-width="2.1" stroke-dasharray="2.1 3.4"/>
<g clip-path="url(#cpA)" fill="none" stroke-linejoin="round">
<path d="M1205.0 322.3L1205.6 289.7L1206.2 321.1L1206.9 304.7L1207.5 355.5L1208.1 301.5L1208.7 356.0L1209.3 288.3L1210.0 342.9L1210.6 369.4L1211.2 304.8L1211.8 278.6L1212.4 325.9L1213.1 329.5L1213.7 322.6L1214.3 343.1L1214.9 275.4L1215.5 323.6L1216.2 237.1L1216.8 323.0L1217.4 232.5L1218.0 248.6L1218.6 330.9L1219.3 282.9L1219.9 334.1L1220.5 330.0L1221.1 258.8L1221.7 292.9L1222.4 212.3L1223.0 283.5L1223.6 240.8L1224.2 330.9L1224.8 296.2L1225.5 350.8L1226.1 305.4L1226.7 354.4L1227.3 266.8L1227.9 352.8L1228.6 252.7L1229.2 328.0L1229.8 236.6L1230.4 231.6L1231.0 228.2L1231.7 229.1L1232.3 254.7L1232.9 313.4L1233.5 342.1L1234.1 319.0L1234.8 238.6L1235.4 306.4L1236.0 210.6L1236.6 320.4L1237.2 324.3L1237.9 243.9L1238.5 234.0L1239.1 304.1L1239.7 335.1L1240.3 245.8L1241.0 299.1L1241.6 229.9L1242.2 286.1L1242.8 313.8L1243.4 277.0L1244.1 273.8L1244.7 321.2L1245.3 331.5L1245.9 271.4L1246.5 270.6L1247.2 326.2L1247.8 247.6L1248.4 244.5L1249.0 342.3L1249.6 336.6L1250.3 266.5L1250.9 321.8L1251.5 344.2L1252.1 234.5L1252.7 310.2L1253.4 269.0L1254.0 263.2L1254.6 299.0L1255.2 311.8L1255.8 292.4L1256.5 254.2L1257.1 255.3L1257.7 247.9L1258.3 265.3L1258.9 312.6L1259.6 311.0L1260.2 271.7L1260.8 305.9L1261.4 258.8L1262.0 244.1L1262.7 318.9L1263.3 297.2L1263.9 273.2L1264.5 324.8L1265.1 285.8L1265.8 314.6L1266.4 275.2L1267.0 273.4L1267.6 265.0L1268.2 317.0L1268.9 307.9L1269.5 289.8L1270.1 287.9L1270.7 306.5L1271.3 296.8L1272.0 276.3L1272.6 293.7L1273.2 283.3L1273.8 272.0L1274.4 305.3L1275.1 280.0L1275.7 289.4L1276.3 275.6L1276.9 284.6L1277.5 290.8L1278.2 272.8L1278.8 265.8L1279.4 266.8L1280.0 259.4L1280.6 260.5L1281.3 276.8L1281.9 248.9L1282.5 282.3L1283.1 253.5L1283.7 244.3L1284.4 296.9L1285.0 267.6L1285.6 308.5L1286.2 300.0L1286.8 293.1L1287.5 259.1L1288.1 308.5L1288.7 305.0L1289.3 279.8L1289.9 303.1L1290.6 283.3L1291.2 315.2L1291.8 314.7L1292.4 276.6L1293.0 315.0L1293.7 314.1L1294.3 275.0L1294.9 297.7L1295.5 283.0L1296.1 277.9L1296.8 279.8L1297.4 271.3L1298.0 314.4L1298.6 301.1L1299.2 315.6L1299.9 283.7L1300.5 302.6L1301.1 276.3L1301.7 311.1L1302.3 284.8L1303.0 278.2L1303.6 276.8L1304.2 296.5L1304.8 270.9L1305.4 288.9L1306.1 270.1L1306.7 300.1L1307.3 305.2L1307.9 261.2L1308.5 266.9L1309.2 262.0L1309.8 298.7L1310.4 257.8L1311.0 300.6L1311.6 310.5L1312.3 253.5L1312.9 305.4L1313.5 305.4L1314.1 251.1L1314.7 250.3L1315.4 315.7L1316.0 250.3L1316.6 293.6L1317.2 255.4L1317.8 255.8L1318.5 251.1L1319.1 251.3L1319.7 255.8L1320.3 251.6L1320.9 288.9L1321.6 271.8L1322.2 275.8L1322.8 310.0L1323.4 273.3L1324.0 301.3L1324.7 262.3L1325.3 271.3L1325.9 275.1L1326.5 296.0L1327.1 302.6L1327.8 263.1L1328.4 298.8L1329.0 300.6L1329.6 277.6L1330.2 303.8L1330.9 264.4L1331.5 256.6L1332.1 274.4L1332.7 263.1L1333.3 263.1L1334.0 266.3L1334.6 297.2L1335.2 265.8L1335.8 291.2L1336.4 254.0L1337.1 284.8L1337.7 255.8L1338.3 258.7L1338.9 289.1L1339.5 251.8L1340.2 262.6L1340.8 260.5L1341.4 281.7L1342.0 257.3L1342.6 279.9L1343.3 265.5L1343.9 293.7L1344.5 257.5L1345.1 292.9L1345.7 256.8L1346.4 297.1L1347.0 258.8L1347.6 301.2L1348.2 260.8L1348.8 263.2L1349.5 306.0L1350.1 268.0L1350.7 302.4L1351.3 265.7L1351.9 304.1L1352.6 309.4L1353.2 268.7L1353.8 306.4L1354.4 285.4L1355.0 268.3L1355.7 309.0L1356.3 295.9L1356.9 281.6L1357.5 302.7L1358.1 286.7L1358.8 273.8L1359.4 306.9L1360.0 260.8L1360.6 296.4L1361.2 265.3L1361.9 287.1L1362.5 294.3L1363.1 272.2L1363.7 292.3L1364.3 266.6L1365.0 293.7L1365.6 249.4L1366.2 316.3L1366.8 257.4L1367.4 281.0L1368.1 299.4L1368.7 266.4L1369.3 325.1L1369.9 328.5L1370.5 258.8L1371.2 273.1L1371.8 256.6L1372.4 328.5L1373.0 314.3L1373.6 305.5L1374.3 275.6L1374.9 276.7L1375.5 325.4L1376.1 319.5L1376.7 324.4L1377.4 273.0L1378.0 310.5L1378.6 281.3L1379.2 292.4L1379.8 326.1L1380.5 281.6L1381.1 311.9L1381.7 288.3L1382.3 316.7L1382.9 299.6L1383.6 281.1L1384.2 273.9L1384.8 309.0L1385.4 276.0L1386.0 295.8L1386.7 275.7L1387.3 317.8L1387.9 299.1L1388.5 281.2L1389.1 304.5L1389.8 280.3L1390.4 267.9L1391.0 309.0L1391.6 264.9L1392.2 318.6L1392.9 304.8L1393.5 286.0L1394.1 264.1L1394.7 312.1L1395.3 282.6L1396.0 314.4L1396.6 268.3L1397.2 270.4L1397.8 316.7L1398.4 277.3L1399.1 313.5L1399.7 316.1L1400.3 287.7L1400.9 293.9L1401.5 260.1L1402.2 290.6L1402.8 302.4L1403.4 259.3L1404.0 300.1L1404.6 263.2L1405.3 286.2L1405.9 272.5L1406.5 255.5L1407.1 313.1L1407.7 300.8L1408.4 285.1L1409.0 320.9L1409.6 252.7L1410.2 319.7L1410.8 282.5L1411.5 311.4L1412.1 285.4L1412.7 316.6L1413.3 280.3L1413.9 275.5L1414.6 309.3L1415.2 275.9L1415.8 302.4L1416.4 310.6L1417.0 278.1L1417.7 303.0L1418.3 268.4L1418.9 308.0L1419.5 291.3L1420.1 275.9L1420.8 296.8L1421.4 268.9L1422.0 301.4L1422.6 266.8L1423.2 301.9L1423.9 270.3L1424.5 299.7L1425.1 273.8L1425.7 286.5L1426.3 274.6L1427.0 295.8L1427.6 294.7L1428.2 290.8L1428.8 298.1L1429.4 294.8L1430.1 300.0L1430.7 297.6L1431.3 272.9L1431.9 284.5L1432.5 283.0L1433.2 271.2L1433.8 292.2L1434.4 265.0L1435.0 282.9L1435.6 271.6L1436.3 287.5L1436.9 286.6L1437.5 283.3L1438.1 285.6L1438.7 274.8L1439.4 286.2L1440.0 274.5L1440.6 273.7L1441.2 310.9L1441.8 276.0L1442.5 307.3L1443.1 259.9L1443.7 309.1L1444.3 267.1L1444.9 305.3L1445.6 270.6L1446.2 308.2L1446.8 255.8L1447.4 265.4L1448.0 259.6L1448.7 286.2L1449.3 253.1L1449.9 290.1L1450.5 262.4L1451.1 255.0L1451.8 281.2L1452.4 259.1L1453.0 300.3L1453.6 264.2L1454.2 311.7L1454.9 307.7L1455.5 315.0L1456.1 314.4L1456.7 298.2L1457.3 288.8L1458.0 324.9L1458.6 286.8L1459.2 316.6L1459.8 283.6L1460.4 286.2L1461.1 283.8L1461.7 306.2L1462.3 283.3L1462.9 264.3L1463.5 279.5L1464.2 308.4L1464.8 293.6L1465.4 278.6L1466.0 302.0L1466.6 272.6L1467.3 288.4L1467.9 301.5L1468.5 268.7L1469.1 297.7L1469.7 296.6L1470.4 280.0L1471.0 291.3L1471.6 275.9L1472.2 281.4L1472.8 268.8L1473.5 263.7L1474.1 290.1L1474.7 266.1L1475.3 284.3L1475.9 265.3L1476.6 286.0L1477.2 288.6L1477.8 272.1L1478.4 287.4L1479.0 274.0L1479.7 281.4L1480.3 264.3L1480.9 283.3L1481.5 270.4L1482.1 286.6L1482.8 268.4L1483.4 261.5L1484.0 263.2L1484.6 279.0L1485.2 264.5L1485.9 281.2L1486.5 269.0L1487.1 283.8L1487.7 272.1L1488.3 270.7L1489.0 286.5L1489.6 274.2L1490.2 286.7L1490.8 288.5L1491.4 280.0L1492.1 283.5L1492.7 277.6L1493.3 273.5L1493.9 291.3L1494.5 270.4L1495.2 291.1L1495.8 265.8L1496.4 288.1L1497.0 257.8L1497.6 290.8L1498.3 279.0L1498.9 261.5L1499.5 287.5L1500.1 258.5L1500.7 283.8L1501.4 287.3L1502.0 280.1L1502.6 260.2L1503.2 288.5L1503.8 266.5L1504.5 290.0L1505.1 291.5L1505.7 265.8L1506.3 301.6L1506.9 260.9L1507.6 298.2L1508.2 292.4L1508.8 283.8L1509.4 271.5L1510.0 273.6L1510.7 259.9L1511.3 273.2L1511.9 259.4L1512.5 273.3L1513.1 253.0L1513.8 271.4L1514.4 247.9L1515.0 283.0L1515.6 251.3L1516.2 287.7L1516.9 265.8L1517.5 299.8L1518.1 289.1L1518.7 315.3L1519.3 300.2L1520.0 323.6L1520.6 306.7L1521.2 323.0L1521.8 300.9L1522.4 299.4L1523.1 305.8L1523.7 316.5L1524.3 321.6L1524.9 319.4L1525.5 316.3L1526.2 307.1L1526.8 318.4L1527.4 306.3L1528.0 302.1L1528.6 302.3L1529.3 300.8L1529.9 317.6L1530.5 291.2L1531.1 312.0L1531.7 283.7L1532.4 296.6L1533.0 290.2L1533.6 303.6L1534.2 319.2L1534.8 280.8L1535.5 305.7L1536.0 256.1L1536.9 279.7L1537.8 279.7L1538.7 276.9L1539.6 298.4L1540.5 293.5L1541.4 287.6L1542.3 303.8L1543.2 290.4L1544.1 273.2L1545.0 267.0L1545.9 266.4L1546.8 282.3L1547.7 292.0L1548.6 298.8L1549.5 297.0L1550.4 295.2L1551.3 293.4L1552.2 291.6L1553.1 289.8L1554.0 279.6L1554.9 283.0L1555.8 279.0L1556.7 275.3L1557.6 280.8L1558.5 279.0L1559.4 273.0L1560.3 272.0L1561.2 278.0L1562.1 277.7L1563.0 280.1L1563.9 281.7L1564.8 283.0L1565.7 284.6L1566.6 282.4L1567.5 281.3L1568.4 281.8L1569.3 281.4L1570.2 285.4L1571.1 288.6L1572.0 283.6L1572.9 286.1L1573.8 281.3L1574.7 279.9L1575.6 280.7L1576.5 282.0L1577.4 280.3L1578.3 276.6L1579.2 281.1L1580.1 279.6L1581.0 278.0L1581.9 280.8L1582.8 278.3L1583.7 274.9L1584.6 278.4L1585.5 279.8L1586.4 276.7L1587.3 280.0L1588.2 280.1L1589.1 275.4L1590.0 282.0L1590.9 281.2L1591.8 276.9L1592.7 280.2L1593.6 281.1L1594.5 284.6L1595.4 279.0L1596.3 284.7L1597.2 287.3L1598.1 288.1L1599.0 288.5L1599.9 289.9L1600.8 294.3L1601.7 294.6L1602.6 284.1L1603.5 298.7L1604.4 299.5L1605.3 292.6L1606.2 288.8L1607.1 290.9L1608.0 280.0L1608.9 284.3L1609.8 280.0L1610.7 281.9L1611.6 288.8L1612.5 291.9L1613.4 286.6L1614.3 286.6L1615.2 283.5L1616.1 273.0L1617.0 279.3L1617.9 282.1L1618.8 285.2L1619.7 280.7L1620.6 286.1L1621.5 290.9L1622.4 303.5L1623.3 299.7L1624.2 304.2L1625.1 303.3L1626.0 293.5L1626.9 290.6L1627.8 281.4L1628.7 300.2L1629.6 299.9L1630.5 279.3L1631.4 283.8L1632.3 295.0L1633.2 275.9L1634.1 281.1L1635.0 279.7L1635.9 292.2L1636.8 293.7L1637.7 287.6L1638.6 285.4L1639.5 299.5L1640.4 294.9L1641.3 303.4L1642.2 295.3L1643.1 297.8L1644.0 297.0L1644.9 294.1L1645.8 294.8L1646.7 298.9L1647.6 294.1L1648.5 288.9L1649.4 297.3L1650.3 299.9L1651.2 294.1L1652.1 294.8L1653.0 286.2L1653.9 292.2L1654.8 286.0L1655.7 286.3L1656.6 297.4L1657.5 288.2L1658.4 289.2L1659.3 284.3L1660.2 282.1L1661.1 282.3L1662.0 286.4L1662.9 282.7L1663.8 284.0L1664.7 291.2L1665.6 290.3L1666.5 284.6L1667.4 295.5L1668.3 293.8L1669.2 299.0L1670.1 287.9L1671.0 300.6L1671.9 283.2L1672.8 273.0L1673.7 273.3L1674.6 275.8L1675.5 284.9L1676.4 279.6L1677.3 290.7L1678.2 301.4L1679.1 287.0L1680.0 273.8L1680.9 277.9L1681.8 291.4L1682.7 297.6L1683.6 290.3L1684.5 281.8L1685.4 287.0L1686.3 297.9L1687.2 289.0L1688.1 301.8L1689.0 297.9L1689.9 296.2L1690.8 288.1L1691.7 299.3L1692.6 293.9L1693.5 280.0L1694.4 290.2L1695.3 285.6L1696.2 293.6L1697.1 290.5L1698.0 283.3L1698.9 285.2L1699.8 280.9L1700.7 276.1L1701.6 279.7L1702.5 287.4L1703.4 284.6L1704.3 281.8L1705.2 277.0L1706.1 286.6L1707.0 290.0L1707.9 298.2L1708.8 298.7L1709.7 305.2L1710.6 291.0L1711.5 290.6L1712.4 294.8L1713.3 299.7L1714.2 276.7L1715.1 268.7L1716.0 274.6L1716.9 290.4L1717.8 295.2L1718.7 275.6L1719.6 280.0L1720.5 286.3L1721.4 282.4L1722.3 279.5L1723.2 283.2L1724.1 286.5L1725.0 295.7L1725.9 299.0M1220.8 292.0L1221.6 204.0L1222.4 292.0M1233.8 292.0L1234.6 206.0L1235.4 292.0M1239.2 292.0L1240.0 206.0L1240.8 292.0M1251.2 292.0L1252.0 220.0L1252.8 292.0M1258.2 292.0L1259.0 226.0L1259.8 292.0M1215.2 292.0L1216.0 226.0L1216.8 292.0M1282.2 292.0L1283.0 240.0L1283.8 292.0M1403.2 292.0L1404.0 245.0L1404.8 292.0M1452.2 292.0L1453.0 249.0L1453.8 292.0M1499.2 292.0L1500.0 242.0L1500.8 292.0M1515.2 292.0L1516.0 231.0L1516.8 292.0M1535.2 292.0L1536.0 255.0L1536.8 292.0M1209.2 272.0L1210.0 374.0L1210.8 272.0M1225.7 272.0L1226.5 380.0L1227.3 272.0M1234.2 272.0L1235.0 354.0L1235.8 272.0M1246.2 272.0L1247.0 346.0L1247.8 272.0M1251.7 272.0L1252.5 344.0L1253.3 272.0M1460.2 272.0L1461.0 335.0L1461.8 272.0M1456.2 272.0L1457.0 329.0L1457.8 272.0M1370.2 272.0L1371.0 329.0L1371.8 272.0M1518.7 272.0L1519.5 324.0L1520.3 272.0M1535.7 272.0L1536.5 321.0L1537.3 272.0M1206.2 272.0L1207.0 360.0L1207.8 272.0M1364.2 272.0L1365.0 326.0L1365.8 272.0" stroke="#000" stroke-width="2.1"/>
<path d="M1206.0 322.2L1206.5 318.6L1207.0 319.1L1207.5 321.3L1208.0 318.0L1208.5 319.1L1209.0 322.0L1209.5 322.4L1210.0 319.2L1210.5 323.0L1211.0 320.3L1211.5 322.9L1212.0 319.7L1212.5 322.7L1213.0 321.6L1213.5 318.6L1214.0 321.8L1214.5 319.7L1215.0 323.5L1215.5 319.8L1216.0 324.6L1216.5 319.9L1217.0 324.1L1217.5 322.5L1218.0 323.0L1218.5 321.9L1219.0 323.9L1219.5 319.6L1220.0 317.0L1220.5 318.3L1221.0 313.9L1221.5 311.6L1222.0 313.0L1222.5 307.0L1223.0 309.5L1223.5 308.6L1224.0 306.0L1224.5 298.9L1225.0 297.0L1225.5 298.6L1226.0 292.7L1226.5 294.1L1227.0 291.6L1227.5 288.8L1228.0 283.8L1228.5 278.7L1229.0 276.6L1229.5 283.3L1230.0 255.4L1230.5 282.0L1231.0 266.9L1231.5 275.1L1232.0 266.6L1232.5 279.3L1233.0 263.1L1233.5 283.7L1234.0 265.7L1234.5 281.9L1235.0 276.1L1235.5 255.3L1236.0 271.9L1236.5 248.3L1237.0 276.8L1237.5 253.3L1238.0 241.5L1238.5 247.3L1239.0 248.4L1239.5 268.7L1240.0 269.3L1240.5 242.4L1241.0 262.0L1241.5 246.5L1242.0 251.0L1242.5 262.4L1243.0 250.0L1243.5 262.2L1244.0 265.5L1244.5 248.0L1245.0 271.8L1245.5 264.0L1246.0 251.0L1246.5 272.9L1247.0 251.6L1247.5 271.3L1248.0 249.1L1248.5 272.5L1249.0 265.2L1249.5 245.6L1250.0 282.1L1250.5 254.8L1251.0 272.9L1251.5 245.1L1252.0 270.5L1252.5 268.7L1253.0 245.0L1253.5 270.9L1254.0 249.1L1254.5 267.9L1255.0 269.5L1255.5 255.2L1256.0 249.7L1256.5 271.2L1257.0 270.8L1257.5 270.4L1258.0 250.9L1258.5 265.3L1259.0 267.8L1259.5 264.0L1260.0 259.8L1260.5 251.5L1261.0 250.8L1261.5 257.4L1262.0 251.5L1262.5 252.3L1263.0 255.8L1263.5 251.0L1264.0 255.3L1264.5 252.5L1265.0 253.3L1265.5 254.4L1266.0 253.1L1266.5 252.4L1267.0 255.7L1267.5 254.2L1268.0 253.4L1268.5 254.4L1269.0 254.6L1269.5 253.0L1270.0 254.4L1270.5 251.4L1271.0 255.2L1271.5 252.0L1272.0 252.3L1272.5 255.8L1273.0 256.0L1273.5 255.0L1274.0 251.3L1274.5 254.1L1275.0 250.2L1275.5 251.7L1276.0 253.8L1276.5 255.4L1277.0 255.2L1277.5 246.1L1278.0 254.3L1278.5 247.7L1279.0 251.5L1279.5 247.1L1280.0 241.3L1280.5 255.5L1281.0 245.5L1281.5 260.6L1282.0 269.2L1282.5 271.4L1283.0 281.2L1283.5 264.7L1284.0 283.5L1284.5 252.0L1285.0 274.9L1285.5 272.9L1286.0 279.9L1286.5 259.5L1287.0 267.0L1287.5 269.4L1288.0 246.0L1288.5 260.4L1289.0 250.9L1289.5 262.9L1290.0 247.5L1290.5 261.3L1291.0 246.7L1291.5 253.2L1292.0 243.3L1292.5 247.4L1293.0 245.1L1293.5 262.0L1294.0 246.3L1294.5 246.5L1295.0 257.1L1295.5 259.9L1296.0 250.2L1296.5 253.1L1297.0 262.2L1297.5 260.5L1298.0 265.7L1298.5 254.7L1299.0 263.6L1299.5 258.0L1300.0 261.7L1300.5 255.6L1301.0 254.3L1301.5 264.9L1302.0 263.7L1302.5 258.2L1303.0 265.0L1303.5 263.9L1304.0 249.3L1304.5 259.9L1305.0 248.8L1305.5 261.6L1306.0 247.9L1306.5 255.2L1307.0 258.8L1307.5 265.0L1308.0 252.8L1308.5 262.1L1309.0 252.9L1309.5 264.7L1310.0 269.4L1310.5 260.3L1311.0 260.5L1311.5 271.1L1312.0 255.7L1312.5 271.1L1313.0 264.8L1313.5 276.1L1314.0 266.4L1314.5 282.2L1315.0 258.0L1315.5 283.1L1316.0 277.1L1316.5 269.4L1317.0 283.1L1317.5 292.8L1318.0 296.6L1318.5 263.7L1319.0 286.2L1319.5 265.4L1320.0 265.2L1320.5 287.9L1321.0 260.2L1321.5 290.3L1322.0 265.5L1322.5 290.6L1323.0 266.7L1323.5 280.5L1324.0 263.9L1324.5 267.3L1325.0 284.9L1325.5 265.1L1326.0 272.9L1326.5 284.1L1327.0 274.5L1327.5 283.1L1328.0 272.0L1328.5 273.4L1329.0 285.3L1329.5 284.7L1330.0 288.3L1330.5 288.3L1331.0 280.3L1331.5 285.1L1332.0 274.2L1332.5 290.3L1333.0 273.4L1333.5 276.7L1334.0 274.5L1334.5 286.8L1335.0 281.9L1335.5 294.8L1336.0 277.7L1336.5 295.2L1337.0 276.9L1337.5 291.9L1338.0 277.9L1338.5 277.9L1339.0 279.1L1339.5 291.7L1340.0 272.0L1340.5 278.3L1341.0 288.7L1341.5 288.0L1342.0 299.0L1342.5 277.3L1343.0 292.6L1343.5 303.0L1344.0 291.1L1344.5 295.1L1345.0 274.7L1345.5 296.5L1346.0 291.2L1346.5 282.8L1347.0 294.3L1347.5 275.8L1348.0 278.0L1348.5 291.1L1349.0 281.7L1349.5 291.0L1350.0 277.2L1350.5 289.0L1351.0 276.8L1351.5 274.7L1352.0 279.8L1352.5 280.1L1353.0 280.2L1353.5 276.5L1354.0 283.5L1354.5 283.7L1355.0 279.4L1355.5 278.2L1356.0 280.9L1356.5 275.1L1357.0 281.2L1357.5 276.2L1358.0 281.4L1358.5 275.6L1359.0 281.2L1359.5 278.8L1360.0 282.0L1360.5 278.4L1361.0 283.4L1361.5 281.8L1362.0 280.6L1362.5 275.6L1363.0 282.0L1363.5 277.7L1364.0 281.3L1364.5 278.0L1365.0 283.5L1365.5 282.3L1366.0 274.2L1366.5 278.7L1367.0 273.2L1367.5 275.3L1368.0 279.8L1368.5 274.9L1369.0 282.4L1369.5 278.4L1370.0 273.1L1370.5 272.9L1371.0 277.9L1371.5 278.2L1372.0 273.2L1372.5 279.4L1373.0 270.9L1373.5 277.8L1374.0 269.4L1374.5 279.3L1375.0 271.8L1375.5 279.2L1376.0 279.8L1376.5 278.7L1377.0 271.1L1377.5 283.5L1378.0 273.9L1378.5 271.8L1379.0 271.6L1379.5 280.8L1380.0 270.5L1380.5 281.6L1381.0 278.4L1381.5 278.8L1382.0 268.9L1382.5 281.5L1383.0 282.5L1383.5 269.5L1384.0 282.0L1384.5 281.8L1385.0 277.3L1385.5 272.5L1386.0 272.0L1386.5 279.5L1387.0 270.8L1387.5 277.9L1388.0 276.1L1388.5 269.5L1389.0 276.3L1389.5 277.6L1390.0 269.5L1390.5 274.2L1391.0 276.6L1391.5 273.8L1392.0 264.0L1392.5 271.4L1393.0 274.1L1393.5 251.0L1394.0 269.2L1394.5 252.1L1395.0 246.0L1395.5 264.9L1396.0 261.8L1396.5 252.2L1397.0 262.4L1397.5 247.0L1398.0 268.8L1398.5 247.4L1399.0 260.4L1399.5 250.6L1400.0 266.7L1400.5 255.4L1401.0 266.7L1401.5 256.7L1402.0 260.1L1402.5 263.5L1403.0 263.2L1403.5 261.5L1404.0 260.0L1404.5 263.6L1405.0 259.7L1405.5 261.2L1406.0 259.3L1406.5 262.4L1407.0 262.7L1407.5 260.6L1408.0 262.5L1408.5 257.6L1409.0 259.3L1409.5 261.6L1410.0 261.5L1410.5 257.7L1411.0 258.8L1411.5 257.9L1412.0 262.5L1412.5 262.2L1413.0 258.5L1413.5 262.2L1414.0 261.8L1414.5 258.4L1415.0 261.6L1415.5 259.9L1416.0 257.8L1416.5 263.8L1417.0 261.0L1417.5 265.2L1418.0 264.9L1418.5 265.9L1419.0 267.7L1419.5 262.5L1420.0 264.3L1420.5 266.7L1421.0 265.3L1421.5 270.4L1422.0 266.9L1422.5 272.0L1423.0 267.6L1423.5 270.0L1424.0 267.8L1424.5 268.1L1425.0 268.4L1425.5 274.5L1426.0 270.0L1426.5 273.3L1427.0 270.5L1427.5 275.9L1428.0 276.0L1428.5 275.7L1429.0 277.0L1429.5 272.4L1430.0 276.8L1430.5 274.1L1431.0 273.9L1431.5 279.2L1432.0 279.5L1432.5 278.4L1433.0 276.2L1433.5 279.3L1434.0 276.5L1434.5 280.3L1435.0 276.4L1435.5 282.2L1436.0 281.6L1436.5 274.9L1437.0 280.8L1437.5 276.1L1438.0 282.9L1438.5 275.6L1439.0 278.2L1439.5 283.7L1440.0 276.5L1440.5 279.0L1441.0 278.5L1441.5 282.9L1442.0 279.0L1442.5 276.5L1443.0 284.0L1443.5 276.3L1444.0 283.7L1444.5 278.1L1445.0 278.4L1445.5 284.7L1446.0 280.3L1446.5 278.3L1447.0 278.8L1447.5 286.2L1448.0 278.5L1448.5 282.7L1449.0 279.3L1449.5 284.4L1450.0 277.5L1450.5 280.2L1451.0 279.6L1451.5 279.0L1452.0 279.0L1452.5 282.9L1453.0 275.5L1453.5 284.3L1454.0 279.0L1454.5 289.1L1455.0 277.8L1455.5 287.3L1456.0 278.5L1456.5 292.9L1457.0 278.4L1457.5 291.5L1458.0 274.0L1458.5 275.9L1459.0 287.8L1459.5 278.6L1460.0 290.5L1460.5 281.3L1461.0 298.0L1461.5 283.6L1462.0 285.3L1462.5 293.1L1463.0 282.9L1463.5 301.5L1464.0 289.7L1464.5 298.6L1465.0 290.5L1465.5 288.8L1466.0 285.9L1466.5 282.1L1467.0 284.9L1467.5 294.9L1468.0 283.5L1468.5 282.5L1469.0 308.7L1469.5 283.5L1470.0 302.4L1470.5 303.2L1471.0 290.5L1471.5 297.2L1472.0 287.2L1472.5 300.7L1473.0 306.2L1473.5 290.3L1474.0 306.9L1474.5 293.0L1475.0 302.3L1475.5 303.4L1476.0 297.7L1476.5 305.0L1477.0 295.0L1477.5 302.0L1478.0 303.0L1478.5 297.2L1479.0 302.1L1479.5 297.6L1480.0 300.8L1480.5 297.4L1481.0 300.3L1481.5 298.9L1482.0 298.6L1482.5 298.7L1483.0 293.6L1483.5 298.5L1484.0 290.7L1484.5 290.7L1485.0 293.3L1485.5 297.1L1486.0 289.1L1486.5 287.2L1487.0 293.4L1487.5 286.7L1488.0 295.5L1488.5 293.8L1489.0 291.0L1489.5 291.7L1490.0 296.3L1490.5 295.6L1491.0 292.5L1491.5 296.6L1492.0 293.8L1492.5 297.2L1493.0 296.3L1493.5 296.1L1494.0 296.9L1494.5 298.4L1495.0 297.6L1495.5 296.3L1496.0 296.6L1496.5 298.2L1497.0 295.7L1497.5 297.2L1498.0 297.1L1498.5 295.1L1499.0 297.0L1499.5 297.2L1500.0 296.9L1500.5 293.7L1501.0 293.8L1501.5 295.0L1502.0 298.1L1502.5 294.6L1503.0 294.0L1503.5 298.3L1504.0 297.9L1504.5 297.4L1505.0 293.1L1505.5 298.0L1506.0 292.0L1506.5 299.2L1507.0 299.1L1507.5 294.1L1508.0 293.5L1508.5 299.5L1509.0 295.4L1509.5 294.8L1510.0 298.7L1510.5 299.7L1511.0 299.4L1511.5 300.2L1512.0 297.9L1512.5 297.7L1513.0 297.4L1513.5 298.9L1514.0 300.3L1514.5 299.4L1515.0 302.3L1515.5 300.2L1516.0 302.6L1516.5 303.5L1517.0 303.0L1517.5 303.5L1518.0 301.1L1518.5 303.7L1519.0 300.1L1519.5 303.6L1520.0 302.6L1520.5 305.0L1521.0 303.3L1521.5 305.2L1522.0 303.6L1522.5 304.9L1523.0 306.4L1523.5 303.7L1524.0 306.0L1524.5 304.5L1525.0 307.0L1525.5 303.6L1526.0 305.4L1526.5 303.7L1527.0 302.9L1527.5 306.2L1528.0 304.4L1528.5 303.1L1529.0 306.2L1529.5 304.8L1530.0 306.5L1530.5 303.7L1531.0 308.6L1531.5 305.1L1532.0 304.1L1532.5 305.0L1533.0 306.1L1533.5 309.0L1534.0 304.8L1534.5 306.3L1535.0 309.8L1535.5 308.5L1536.0 307.8L1536.5 310.1L1537.0 306.1L1537.5 311.5L1538.0 307.5L1538.5 311.0L1539.0 311.7L1539.5 312.0L1540.0 309.3L1540.5 311.5L1541.0 308.2L1541.5 307.0L1542.0 313.3L1542.5 305.4L1543.0 317.0L1543.5 309.1L1544.0 310.0L1544.5 304.8L1545.0 318.3L1545.5 304.0L1546.0 317.5L1546.5 308.5L1547.0 317.8L1547.5 308.6L1548.0 317.5L1548.5 308.7L1549.0 319.4L1549.5 310.5L1550.0 317.6L1550.5 307.6L1551.0 319.0L1551.5 317.2L1552.0 311.5L1552.5 317.8L1553.0 313.6L1553.5 318.5L1554.0 310.6L1554.5 313.4L1555.0 316.9L1555.5 311.6L1556.0 317.9L1556.5 316.1L1557.0 316.7L1557.5 312.9L1558.0 316.7L1558.5 315.3L1559.0 318.2L1559.5 315.8L1560.0 314.7L1560.5 317.6L1561.0 317.8L1561.5 315.9L1562.0 317.9L1562.5 314.4L1563.0 315.8L1563.5 318.5L1564.0 315.0L1564.5 318.0L1565.0 315.9L1565.5 317.2L1566.0 314.5L1566.5 317.9L1567.0 318.3L1567.5 314.5L1568.0 318.6L1568.5 314.7L1569.0 318.1L1569.5 317.3L1570.0 315.0L1570.5 315.1L1571.0 316.6L1571.5 318.8L1572.0 316.2L1572.5 317.7L1573.0 315.9L1573.5 319.4L1574.0 318.9L1574.5 318.2L1575.0 316.5L1575.5 319.6L1576.0 316.8L1576.5 319.2L1577.0 319.3L1577.5 317.2L1578.0 320.6L1578.5 318.4L1579.0 320.6L1579.5 318.4L1580.0 320.5L1580.5 318.1L1581.0 319.5L1581.5 320.8L1582.0 321.5L1582.5 322.0L1583.0 319.9L1583.5 322.0L1584.0 320.5L1584.5 319.5L1585.0 322.8L1585.5 320.0L1586.0 320.1L1586.5 319.9L1587.0 320.1L1587.5 324.0L1588.0 320.7L1588.5 323.4L1589.0 320.7L1589.5 320.9L1590.0 324.8L1590.5 321.3L1591.0 321.4L1591.5 324.3L1592.0 321.8L1592.5 322.0L1593.0 325.8L1593.5 322.8L1594.0 325.8L1594.5 322.8L1595.0 326.8L1595.5 324.0L1596.0 324.6L1596.5 327.4L1597.0 324.8L1597.5 326.4L1598.0 326.5L1598.5 325.1L1599.0 327.8L1599.5 325.8L1600.0 327.4L1600.5 327.9L1601.0 325.9L1601.5 324.4L1602.0 324.2L1602.5 329.4L1603.0 323.3L1603.5 322.4L1604.0 331.6L1604.5 330.7L1605.0 326.4L1605.5 330.0L1606.0 323.7L1606.5 332.8L1607.0 331.8L1607.5 326.3L1608.0 326.9L1608.5 331.0L1609.0 327.8L1609.5 331.7L1610.0 328.1L1610.5 332.4L1611.0 327.8L1611.5 328.9L1612.0 333.4L1612.5 329.1L1613.0 334.7L1613.5 330.8L1614.0 330.4L1614.5 335.5L1615.0 335.7L1615.5 332.8L1616.0 334.5L1616.5 332.9L1617.0 335.4L1617.5 332.4L1618.0 336.1L1618.5 333.5L1619.0 335.1L1619.5 335.9L1620.0 333.2L1620.5 334.7L1621.0 333.4L1621.5 336.3L1622.0 332.5L1622.5 335.0L1623.0 333.8L1623.5 336.6L1624.0 332.7L1624.5 335.8L1625.0 335.6L1625.5 333.5L1626.0 336.0L1626.5 334.2L1627.0 335.9L1627.5 334.6L1628.0 335.6L1628.5 332.9L1629.0 333.4L1629.5 333.8L1630.0 334.3L1630.5 335.1L1631.0 332.4L1631.5 333.9L1632.0 331.2L1632.5 332.5L1633.0 332.7L1633.5 332.2L1634.0 330.2L1634.5 331.5L1635.0 330.7L1635.5 329.8L1636.0 330.0L1636.5 329.0L1637.0 331.1L1637.5 331.1L1638.0 330.6L1638.5 332.7L1639.0 333.6L1639.5 333.9L1640.0 333.1L1640.5 334.4L1641.0 333.4L1641.5 334.6L1642.0 335.5L1642.5 336.9L1643.0 334.3L1643.5 337.2L1644.0 336.0L1644.5 336.2L1645.0 338.6L1645.5 337.3L1646.0 339.6L1646.5 340.1L1647.0 337.0L1647.5 339.0L1648.0 337.8L1648.5 340.1L1649.0 337.1L1649.5 338.8L1650.0 340.4L1650.5 337.8L1651.0 341.6L1651.5 341.9L1652.0 338.3L1652.5 342.2L1653.0 338.7L1653.5 339.0L1654.0 343.0L1654.5 343.2L1655.0 341.2L1655.5 339.5L1656.0 340.3L1656.5 342.7L1657.0 340.0L1657.5 343.0L1658.0 344.3L1658.5 340.5L1659.0 344.7L1659.5 344.5L1660.0 341.1L1660.5 344.0L1661.0 341.7L1661.5 345.1L1662.0 343.7L1662.5 345.4L1663.0 344.3L1663.5 346.8L1664.0 344.7L1664.5 347.3L1665.0 347.6L1665.5 347.8L1666.0 345.2L1666.5 347.7L1667.0 347.0L1667.5 348.6L1668.0 347.9L1668.5 350.2L1669.0 347.3L1669.5 350.5L1670.0 349.0L1670.5 350.5L1671.0 350.5L1671.5 351.7L1672.0 349.1L1672.5 350.2L1673.0 348.0L1673.5 348.2L1674.0 350.8L1674.5 348.9L1675.0 351.2L1675.5 348.0L1676.0 348.7L1676.5 348.0L1677.0 352.0L1677.5 348.3L1678.0 348.0L1678.5 352.0L1679.0 351.7L1679.5 351.7L1680.0 348.0L1680.5 349.1L1681.0 351.0L1681.5 348.3L1682.0 348.4L1682.5 351.5L1683.0 350.0L1683.5 352.5L1684.0 349.4L1684.5 352.7L1685.0 350.1L1685.5 352.1L1686.0 353.2L1686.5 353.3L1687.0 350.5L1687.5 353.3L1688.0 351.3L1688.5 352.7L1689.0 353.2L1689.5 351.2L1690.0 351.9L1690.5 352.7L1691.0 349.5L1691.5 349.7L1692.0 349.0L1692.5 352.1L1693.0 348.5L1693.5 348.6L1694.0 348.0L1694.5 347.8L1695.0 349.9L1695.5 348.8L1696.0 350.2L1696.5 350.0L1697.0 347.3L1697.5 351.3L1698.0 348.8L1698.5 351.1L1699.0 351.2L1699.5 349.3L1700.0 352.0L1700.5 349.7L1701.0 350.9L1701.5 349.7L1702.0 351.2L1702.5 349.8L1703.0 352.1L1703.5 351.6L1704.0 351.6L1704.5 351.3L1705.0 351.3L1705.5 352.8L1706.0 351.3L1706.5 350.6L1707.0 353.2L1707.5 353.7L1708.0 353.2L1708.5 354.7L1709.0 352.2L1709.5 354.5L1710.0 352.8L1710.5 354.3L1711.0 351.9L1711.5 353.1L1712.0 354.5L1712.5 353.7L1713.0 353.7L1713.5 355.8L1714.0 355.8L1714.5 356.0L1715.0 351.2L1715.5 350.4L1716.0 349.9L1716.5 349.4L1717.0 350.9L1717.5 350.5L1718.0 346.0L1718.5 348.5L1719.0 346.0L1719.5 345.8L1720.0 346.7L1720.5 348.0L1721.0 344.9L1721.5 345.7L1722.0 348.5L1722.5 344.3L1723.0 347.6L1723.5 344.5L1724.0 347.8L1724.5 343.8L1725.0 347.4L1725.5 345.1L1726.0 347.0M1450.7 284.0L1451.6 221.0L1452.5 284.0M1547.7 306.0L1548.6 329.0L1549.5 306.0M1603.1 337.0L1604.0 312.0L1604.9 337.0M1647.1 338.0L1648.2 276.0L1649.3 338.0M1647.9 338.0L1649.0 276.0L1650.1 338.0" stroke="#f00" stroke-width="2.1"/>
</g>
<line x1="1725.62" y1="110.00" x2="1725.62" y2="454.80" stroke="#1f77b4" stroke-width="2.1" stroke-dasharray="2.1 3.4"/>
<path d="M1205.00 454.80L1210.40 454.80M1205.00 411.70L1210.40 411.70M1205.00 368.60L1210.40 368.60M1205.00 325.50L1210.40 325.50M1205.00 282.40L1210.40 282.40M1205.00 239.30L1210.40 239.30M1205.00 196.20L1210.40 196.20M1205.00 153.10L1210.40 153.10M1205.00 110.00L1210.40 110.00" stroke="#000" stroke-width="1.1" fill="none"/>
<path d="M1800.00 454.80L1794.60 454.80M1800.00 385.84L1794.60 385.84M1800.00 316.88L1794.60 316.88M1800.00 247.92L1794.60 247.92M1800.00 178.96L1794.60 178.96M1800.00 110.00L1794.60 110.00" stroke="#f00" stroke-width="1.1" fill="none"/>
<path d="M1245.29 454.80L1245.29 449.90M1319.66 454.80L1319.66 449.90M1394.04 454.80L1394.04 449.90M1468.41 454.80L1468.41 449.90M1542.79 454.80L1542.79 449.90M1617.16 454.80L1617.16 449.90M1691.54 454.80L1691.54 449.90M1765.91 454.80L1765.91 449.90" stroke="#000" stroke-width="1.1" fill="none"/>
<path d="M1205.0 454.8L1205.0 110.0L1800.0 110.0" stroke="#000" stroke-width="2.1" fill="none" stroke-linecap="square"/>
<path d="M1205.0 454.8L1800.0 454.8" stroke="#000" stroke-width="2.1" fill="none" stroke-linecap="square"/>
<path d="M1800.0 110.0L1800.0 454.8" stroke="#f00" stroke-width="2.1" fill="none" stroke-linecap="square"/>
<g font-size="20.56" lengthAdjust="spacingAndGlyphs"><text x="1159.46" y="462.60" textLength="16.25" lengthAdjust="spacingAndGlyphs">−</text><text x="1175.71" y="462.60" textLength="12.34" lengthAdjust="spacingAndGlyphs">2</text><text x="1188.06" y="462.60" textLength="12.34" lengthAdjust="spacingAndGlyphs">0</text></g>
<g font-size="20.56" lengthAdjust="spacingAndGlyphs"><text x="1159.46" y="419.50" textLength="16.25" lengthAdjust="spacingAndGlyphs">−</text><text x="1175.71" y="419.50" textLength="12.34" lengthAdjust="spacingAndGlyphs">1</text><text x="1188.06" y="419.50" textLength="12.34" lengthAdjust="spacingAndGlyphs">5</text></g>
<g font-size="20.56" lengthAdjust="spacingAndGlyphs"><text x="1159.46" y="376.40" textLength="16.25" lengthAdjust="spacingAndGlyphs">−</text><text x="1175.71" y="376.40" textLength="12.34" lengthAdjust="spacingAndGlyphs">1</text><text x="1188.06" y="376.40" textLength="12.34" lengthAdjust="spacingAndGlyphs">0</text></g>
<g font-size="20.56" lengthAdjust="spacingAndGlyphs"><text x="1171.81" y="333.30" textLength="16.25" lengthAdjust="spacingAndGlyphs">−</text><text x="1188.06" y="333.30" textLength="12.34" lengthAdjust="spacingAndGlyphs">5</text></g>
<g font-size="20.56" lengthAdjust="spacingAndGlyphs"><text x="1188.06" y="290.20" textLength="12.34" lengthAdjust="spacingAndGlyphs">0</text></g>
<g font-size="20.56" lengthAdjust="spacingAndGlyphs"><text x="1188.06" y="247.10" textLength="12.34" lengthAdjust="spacingAndGlyphs">5</text></g>
<g font-size="20.56" lengthAdjust="spacingAndGlyphs"><text x="1175.71" y="204.00" textLength="12.34" lengthAdjust="spacingAndGlyphs">1</text><text x="1188.06" y="204.00" textLength="12.34" lengthAdjust="spacingAndGlyphs">0</text></g>
<g font-size="20.56" lengthAdjust="spacingAndGlyphs"><text x="1175.71" y="160.90" textLength="12.34" lengthAdjust="spacingAndGlyphs">1</text><text x="1188.06" y="160.90" textLength="12.34" lengthAdjust="spacingAndGlyphs">5</text></g>
<g font-size="20.56" lengthAdjust="spacingAndGlyphs"><text x="1175.71" y="117.80" textLength="12.34" lengthAdjust="spacingAndGlyphs">2</text><text x="1188.06" y="117.80" textLength="12.34" lengthAdjust="spacingAndGlyphs">0</text></g>
<g font-size="20.56" lengthAdjust="spacingAndGlyphs" fill="#f00"><text x="1805.20" y="462.60" textLength="12.34" lengthAdjust="spacingAndGlyphs">0</text></g>
<g font-size="20.56" lengthAdjust="spacingAndGlyphs" fill="#f00"><text x="1805.20" y="393.64" textLength="12.34" lengthAdjust="spacingAndGlyphs">2</text><text x="1817.54" y="393.64" textLength="12.34" lengthAdjust="spacingAndGlyphs">0</text><text x="1829.89" y="393.64" textLength="12.34" lengthAdjust="spacingAndGlyphs">0</text></g>
<g font-size="20.56" lengthAdjust="spacingAndGlyphs" fill="#f00"><text x="1805.20" y="324.68" textLength="12.34" lengthAdjust="spacingAndGlyphs">4</text><text x="1817.54" y="324.68" textLength="12.34" lengthAdjust="spacingAndGlyphs">0</text><text x="1829.89" y="324.68" textLength="12.34" lengthAdjust="spacingAndGlyphs">0</text></g>
<g font-size="20.56" lengthAdjust="spacingAndGlyphs" fill="#f00"><text x="1805.20" y="255.72" textLength="12.34" lengthAdjust="spacingAndGlyphs">6</text><text x="1817.54" y="255.72" textLength="12.34" lengthAdjust="spacingAndGlyphs">0</text><text x="1829.89" y="255.72" textLength="12.34" lengthAdjust="spacingAndGlyphs">0</text></g>
<g font-size="20.56" lengthAdjust="spacingAndGlyphs" fill="#f00"><text x="1805.20" y="186.76" textLength="12.34" lengthAdjust="spacingAndGlyphs">8</text><text x="1817.54" y="186.76" textLength="12.34" lengthAdjust="spacingAndGlyphs">0</text><text x="1829.89" y="186.76" textLength="12.34" lengthAdjust="spacingAndGlyphs">0</text></g>
<g font-size="20.56" lengthAdjust="spacingAndGlyphs" fill="#f00"><text x="1805.20" y="117.80" textLength="12.34" lengthAdjust="spacingAndGlyphs">1</text><text x="1817.54" y="117.80" textLength="12.34" lengthAdjust="spacingAndGlyphs">0</text><text x="1829.89" y="117.80" textLength="12.34" lengthAdjust="spacingAndGlyphs">0</text><text x="1842.23" y="117.80" textLength="12.34" lengthAdjust="spacingAndGlyphs">0</text></g>
<g font-size="25.55" lengthAdjust="spacingAndGlyphs" transform="rotate(-90 1116.30 282.20)"><text x="1077.01" y="282.20" textLength="7.11" lengthAdjust="spacingAndGlyphs">I</text><text x="1084.12" y="282.20" textLength="20.78" lengthAdjust="spacingAndGlyphs">M</text><text x="1104.90" y="282.20" textLength="13.86" lengthAdjust="spacingAndGlyphs">F</text><text x="1126.42" y="282.20" textLength="16.53" lengthAdjust="spacingAndGlyphs">B</text><text x="1142.95" y="282.20" textLength="12.64" lengthAdjust="spacingAndGlyphs">z</text></g>
<g font-size="25.55" lengthAdjust="spacingAndGlyphs" transform="rotate(-90 1146.40 282.00)"><text x="1114.35" y="282.00" textLength="9.41" lengthAdjust="spacingAndGlyphs">(</text><text x="1131.41" y="282.00" textLength="15.27" lengthAdjust="spacingAndGlyphs">n</text><text x="1146.67" y="282.00" textLength="14.72" lengthAdjust="spacingAndGlyphs">T</text><text x="1169.05" y="282.00" textLength="9.41" lengthAdjust="spacingAndGlyphs">)</text></g>
<g font-size="25.55" lengthAdjust="spacingAndGlyphs" fill="#f00" transform="rotate(-90 1879.20 283.00)"><text x="1808.55" y="283.00" textLength="15.30" lengthAdjust="spacingAndGlyphs">S</text><text x="1823.85" y="283.00" textLength="23.83" lengthAdjust="spacingAndGlyphs">W</text><text x="1855.33" y="283.00" textLength="16.48" lengthAdjust="spacingAndGlyphs">V</text><text x="1871.82" y="283.00" textLength="12.95" lengthAdjust="spacingAndGlyphs">e</text><text x="1884.77" y="283.00" textLength="6.69" lengthAdjust="spacingAndGlyphs">l</text><text x="1891.46" y="283.00" textLength="14.73" lengthAdjust="spacingAndGlyphs">o</text><text x="1906.19" y="283.00" textLength="13.25" lengthAdjust="spacingAndGlyphs">c</text><text x="1919.44" y="283.00" textLength="6.69" lengthAdjust="spacingAndGlyphs">i</text><text x="1926.13" y="283.00" textLength="9.45" lengthAdjust="spacingAndGlyphs">t</text><text x="1935.58" y="283.00" textLength="14.27" lengthAdjust="spacingAndGlyphs">y</text></g>
<g lengthAdjust="spacingAndGlyphs" transform="rotate(-90 1909.50 282.00)" fill="#f00">
<g font-size="25.55"><text x="1851.61" y="282.00" textLength="9.41" lengthAdjust="spacingAndGlyphs">(</text><text x="1868.67" y="282.00" textLength="13.95" lengthAdjust="spacingAndGlyphs">k</text><text x="1882.62" y="282.00" textLength="23.47" lengthAdjust="spacingAndGlyphs">m</text></g>
<g font-size="25.55"><text x="1911.09" y="282.00" textLength="12.55" lengthAdjust="spacingAndGlyphs">s</text></g>
<g font-size="17.88"><text x="1924.14" y="273.32" textLength="14.12" lengthAdjust="spacingAndGlyphs">−</text><text x="1938.27" y="273.32" textLength="10.72" lengthAdjust="spacingAndGlyphs">1</text></g>
<g font-size="25.55"><text x="1957.98" y="282.00" textLength="9.41" lengthAdjust="spacingAndGlyphs">)</text></g>
</g>
<line x1="1205.00" y1="512.40" x2="1800.00" y2="512.40" stroke="#000" stroke-width="2.1" stroke-dasharray="2.1 3.4"/>
<g clip-path="url(#cpB)" fill="none" stroke-linejoin="round">
<path d="M1204.9 604.6L1205.4 605.3L1205.9 614.6L1206.4 613.3L1206.9 617.6L1207.4 603.9L1207.9 603.6L1208.4 619.6L1208.9 604.2L1209.4 606.4L1209.9 597.9L1210.4 617.5L1210.9 613.8L1211.4 599.6L1211.9 602.1L1212.4 597.6L1212.9 623.8L1213.4 605.6L1213.9 629.6L1214.4 616.3L1214.9 613.4L1215.4 604.9L1215.9 616.2L1216.4 627.7L1216.9 610.9L1217.4 618.8L1217.9 629.2L1218.4 640.4L1218.9 610.2L1219.4 629.5L1219.9 633.3L1220.4 630.7L1220.9 627.8L1221.4 616.5L1221.9 627.8L1222.4 628.2L1222.9 621.6L1223.4 633.5L1223.9 626.8L1224.4 640.7L1224.9 642.7L1225.4 621.0L1225.9 644.6L1226.4 629.6L1226.9 626.8L1227.4 630.1L1227.9 617.3L1228.4 646.0L1228.9 648.0L1229.4 635.0L1229.9 625.5L1230.4 655.0L1230.9 631.9L1231.4 661.6L1231.9 623.3L1232.4 663.2L1232.9 611.4L1233.4 664.8L1233.9 599.3L1234.4 661.3L1234.9 633.6L1235.4 616.9L1235.9 667.5L1236.4 590.3L1236.9 650.5L1237.4 637.1L1237.9 599.3L1238.4 656.5L1238.9 598.9L1239.4 655.5L1239.9 601.1L1240.4 676.7L1240.9 665.9L1241.4 619.6L1241.9 661.5L1242.4 626.8L1242.9 662.5L1243.4 682.7L1243.9 597.8L1244.4 644.4L1244.9 600.2L1245.4 657.4L1245.9 649.7L1246.4 623.6L1246.9 675.5L1247.4 627.1L1247.9 677.6L1248.4 606.4L1248.9 668.3L1249.4 664.6L1249.9 689.7L1250.4 687.6L1250.9 661.7L1251.4 650.8L1251.9 616.9L1252.4 624.2L1252.9 621.3L1253.4 621.8L1253.9 672.7L1254.4 634.5L1254.9 675.2L1255.4 673.9L1255.9 632.6L1256.4 623.9L1256.9 662.6L1257.4 633.0L1257.9 676.5L1258.4 657.9L1258.9 624.3L1259.4 645.1L1259.9 634.7L1260.4 648.0L1260.9 631.0L1261.4 644.4L1261.9 642.0L1262.4 628.3L1262.9 629.3L1263.4 640.2L1263.9 626.9L1264.4 638.4L1264.9 631.1L1265.4 640.3L1265.9 630.0L1266.4 645.7L1266.9 646.3L1267.4 630.8L1267.9 643.7L1268.4 632.8L1268.9 646.2L1269.4 637.9L1269.9 642.3L1270.4 632.6L1270.9 644.4L1271.4 640.2L1271.9 648.2L1272.4 633.7L1272.9 649.0L1273.4 639.5L1273.9 633.9L1274.4 647.0L1274.9 633.0L1275.4 649.6L1275.9 636.9L1276.4 652.6L1276.9 639.0L1277.4 657.0L1277.9 646.5L1278.4 665.4L1278.9 669.7L1279.4 648.0L1279.9 666.6L1280.4 646.6L1280.9 658.1L1281.4 675.8L1281.9 669.1L1282.4 659.3L1282.9 680.6L1283.4 680.3L1283.9 673.8L1284.4 674.0L1284.9 658.6L1285.4 669.4L1285.9 655.6L1286.4 678.9L1286.9 653.5L1287.4 651.3L1287.9 679.1L1288.4 654.2L1288.9 685.2L1289.4 659.0L1289.9 676.9L1290.4 654.4L1290.9 675.3L1291.4 677.8L1291.9 646.5L1292.4 654.9L1292.9 692.6L1293.4 694.2L1293.9 676.9L1294.4 680.0L1294.9 647.4L1295.4 689.6L1295.9 662.4L1296.4 685.7L1296.9 654.6L1297.4 681.3L1297.9 674.7L1298.4 654.7L1298.9 686.3L1299.4 664.9L1299.9 683.8L1300.4 645.0L1300.9 687.1L1301.4 644.8L1301.9 655.6L1302.4 658.6L1302.9 673.0L1303.4 653.8L1303.9 661.7L1304.4 680.9L1304.9 653.4L1305.4 676.6L1305.9 656.6L1306.4 685.9L1306.9 678.3L1307.4 652.3L1307.9 667.2L1308.4 652.2L1308.9 674.8L1309.4 678.4L1309.9 682.9L1310.4 650.5L1310.9 670.7L1311.4 648.5L1311.9 685.4L1312.4 664.0L1312.9 687.5L1313.4 663.4L1313.9 645.4L1314.4 674.3L1314.9 651.4L1315.4 641.8L1315.9 677.8L1316.4 652.7L1316.9 638.0L1317.4 676.9L1317.9 635.7L1318.4 678.3L1318.9 635.4L1319.4 635.2L1319.9 682.4L1320.4 672.4L1320.9 675.8L1321.4 665.9L1321.9 679.2L1322.4 650.5L1322.9 656.4L1323.4 647.8L1323.9 673.4L1324.4 683.8L1324.9 655.2L1325.4 683.5L1325.9 644.1L1326.4 683.3L1326.9 653.9L1327.4 653.7L1327.9 668.0L1328.4 674.5L1328.9 670.4L1329.4 668.0L1329.9 653.6L1330.4 671.0L1330.9 651.0L1331.4 668.6L1331.9 663.6L1332.4 649.8L1332.9 671.1L1333.4 646.3L1333.9 686.6L1334.4 649.5L1334.9 685.2L1335.4 651.2L1335.9 675.2L1336.4 651.7L1336.9 675.4L1337.4 653.7L1337.9 651.4L1338.4 642.5L1338.9 654.9L1339.4 676.5L1339.9 672.5L1340.4 647.5L1340.9 681.1L1341.4 646.9L1341.9 644.6L1342.4 675.9L1342.9 651.2L1343.4 666.4L1343.9 666.9L1344.4 652.8L1344.9 674.4L1345.4 642.7L1345.9 676.7L1346.4 640.8L1346.9 673.8L1347.4 676.0L1347.9 647.9L1348.4 671.7L1348.9 648.4L1349.4 649.7L1349.9 673.1L1350.4 647.9L1350.9 669.4L1351.4 667.8L1351.9 649.7L1352.4 647.3L1352.9 668.9L1353.4 641.0L1353.9 669.6L1354.4 641.7L1354.9 674.0L1355.4 672.1L1355.9 656.8L1356.4 677.0L1356.9 660.9L1357.4 658.7L1357.9 678.6L1358.4 659.7L1358.9 660.1L1359.4 680.3L1359.9 676.5L1360.4 642.8L1360.9 651.8L1361.4 688.5L1361.9 672.5L1362.4 654.7L1362.9 648.1L1363.4 673.0L1363.9 647.7L1364.4 675.1L1364.9 641.3L1365.4 688.5L1365.9 641.0L1366.4 678.5L1366.9 646.7L1367.4 674.2L1367.9 649.2L1368.4 658.2L1368.9 688.5L1369.4 678.6L1369.9 661.1L1370.4 671.2L1370.9 650.9L1371.4 674.3L1371.9 656.2L1372.4 648.5L1372.9 641.5L1373.4 657.6L1373.9 677.5L1374.4 650.1L1374.9 650.1L1375.4 651.3L1375.9 654.7L1376.4 667.2L1376.9 643.7L1377.4 669.0L1377.9 674.9L1378.4 658.0L1378.9 675.9L1379.4 651.9L1379.9 684.7L1380.4 691.4L1380.9 686.2L1381.4 659.9L1381.9 660.0L1382.4 681.9L1382.9 679.5L1383.4 681.0L1383.9 650.7L1384.4 668.3L1384.9 655.7L1385.4 655.9L1385.9 676.5L1386.4 675.1L1386.9 670.4L1387.4 642.1L1387.9 686.7L1388.4 644.8L1388.9 692.3L1389.4 646.2L1389.9 674.4L1390.4 674.5L1390.9 657.4L1391.4 677.6L1391.9 668.9L1392.4 638.3L1392.9 652.0L1393.4 687.5L1393.9 677.3L1394.4 671.1L1394.9 644.3L1395.4 644.6L1395.9 665.9L1396.4 635.2L1396.9 663.9L1397.4 641.8L1397.9 662.1L1398.4 660.8L1398.9 631.8L1399.4 630.7L1399.9 650.7L1400.4 626.7L1400.9 640.9L1401.4 625.3L1401.9 637.8L1402.4 625.5L1402.9 625.6L1403.4 637.2L1403.9 630.4L1404.4 645.4L1404.9 629.3L1405.4 640.4L1405.9 637.3L1406.4 626.1L1406.9 631.2L1407.4 633.3L1407.9 630.3L1408.4 644.0L1408.9 631.4L1409.4 640.4L1409.9 627.9L1410.4 641.6L1410.9 640.7L1411.4 642.4L1411.9 628.5L1412.4 626.4L1412.9 637.7L1413.4 647.7L1413.9 630.9L1414.4 641.2L1414.9 631.8L1415.4 643.7L1415.9 639.7L1416.4 629.5L1416.9 636.8L1417.4 635.8L1417.9 626.9L1418.4 629.8L1418.9 640.4L1419.4 625.6L1419.9 643.9L1420.4 632.6L1420.9 651.3L1421.4 636.2L1421.9 657.4L1422.4 654.8L1422.9 649.0L1423.4 656.0L1423.9 647.9L1424.4 657.7L1424.9 647.0L1425.4 648.0L1425.9 654.1L1426.4 660.1L1426.9 648.2L1427.4 654.9L1427.9 659.1L1428.4 648.8L1428.9 649.8L1429.4 658.0L1429.9 658.3L1430.4 643.8L1430.9 655.3L1431.4 646.2L1431.9 654.9L1432.4 652.7L1432.9 648.3L1433.4 648.1L1433.9 645.2L1434.4 651.2L1434.9 647.3L1435.4 653.5L1435.9 643.3L1436.4 650.9L1436.9 647.5L1437.4 641.2L1437.9 652.0L1438.4 640.2L1438.9 638.0L1439.4 652.3L1439.9 642.5L1440.4 646.6L1440.9 637.6L1441.4 650.0L1441.9 637.6L1442.4 635.2L1442.9 644.2L1443.4 635.8L1443.9 644.7L1444.4 636.4L1444.9 648.4L1445.4 645.8L1445.9 636.8L1446.4 638.2L1446.9 643.0L1447.4 633.8L1447.9 632.0L1448.4 641.7L1448.9 634.2L1449.4 644.8L1449.9 642.0L1450.4 633.8L1450.9 650.3L1451.4 638.3L1451.9 646.4L1452.4 646.8L1452.9 652.6L1453.4 649.2L1453.9 635.9L1454.4 646.1L1454.9 636.0L1455.4 629.0L1455.9 640.1L1456.4 627.3L1456.9 634.2L1457.4 626.9L1457.9 646.3L1458.4 626.6L1458.9 654.0L1459.4 631.7L1459.9 651.4L1460.4 642.2L1460.9 627.1L1461.4 631.5L1461.9 626.7L1462.4 644.5L1462.9 634.0L1463.4 648.5L1463.9 648.7L1464.4 638.2L1464.9 649.9L1465.4 635.1L1465.9 638.2L1466.4 640.1L1466.9 655.3L1467.4 641.7L1467.9 644.2L1468.4 657.1L1468.9 647.8L1469.4 662.0L1469.9 662.1L1470.4 656.7L1470.9 661.0L1471.4 662.0L1471.9 640.9L1472.4 652.3L1472.9 644.1L1473.4 652.3L1473.9 657.6L1474.4 638.7L1474.9 638.1L1475.4 649.7L1475.9 644.1L1476.4 648.6L1476.9 642.0L1477.4 650.7L1477.9 639.2L1478.4 654.9L1478.9 643.1L1479.4 656.7L1479.9 649.2L1480.4 647.6L1480.9 666.7L1481.4 646.8L1481.9 651.2L1482.4 673.2L1482.9 657.0L1483.4 675.8L1483.9 658.9L1484.4 679.9L1484.9 677.3L1485.4 659.4L1485.9 675.2L1486.4 661.0L1486.9 674.7L1487.4 655.7L1487.9 657.8L1488.4 673.5L1488.9 654.4L1489.4 666.4L1489.9 665.7L1490.4 660.3L1490.9 664.4L1491.4 667.9L1491.9 663.3L1492.4 652.2L1492.9 654.5L1493.4 664.3L1493.9 647.6L1494.4 659.9L1494.9 662.2L1495.4 662.2L1495.9 656.6L1496.4 657.4L1496.9 648.3L1497.4 660.9L1497.9 655.5L1498.4 656.8L1498.9 669.8L1499.4 658.7L1499.9 665.9L1500.4 666.5L1500.9 652.2L1501.4 671.6L1501.9 652.7L1502.4 671.6L1502.9 648.3L1503.4 663.9L1503.9 637.2L1504.4 660.8L1504.9 646.1L1505.4 641.5L1505.9 663.9L1506.4 646.4L1506.9 632.4L1507.4 657.9L1507.9 637.5L1508.4 634.9L1508.9 656.2L1509.4 646.4L1509.9 653.6L1510.4 650.1L1510.9 638.8L1511.4 642.2L1511.9 654.8L1512.4 635.8L1512.9 650.9L1513.4 644.2L1513.9 651.1L1514.4 636.1L1514.9 650.6L1515.4 653.6L1515.9 631.4L1516.4 636.4L1516.9 654.9L1517.4 631.2L1517.9 656.6L1518.4 636.3L1518.9 645.8L1519.4 635.4L1519.9 634.0L1520.4 640.1L1520.9 644.9L1521.4 645.1L1521.9 628.9L1522.4 642.3L1522.9 642.6L1523.4 630.5L1523.9 643.2L1524.4 631.2L1524.9 642.1L1525.4 632.5L1525.9 642.5L1526.4 645.6L1526.9 629.7L1527.4 632.9L1527.9 637.7L1528.4 626.3L1528.9 638.4L1529.4 628.0L1529.9 636.8L1530.4 631.8L1530.9 640.7L1531.4 626.2L1531.9 639.5L1532.4 631.7L1532.9 640.7L1533.4 640.5L1533.9 637.0L1534.4 650.2L1534.9 640.8L1535.4 648.9L1535.9 651.0L1536.4 641.3L1536.9 647.0L1537.4 642.1L1537.9 654.1L1538.4 646.9L1538.9 665.9L1539.4 664.2L1539.9 658.5L1540.4 648.4L1540.9 671.8L1541.4 644.9L1541.9 664.5L1542.4 672.4L1542.9 652.8L1543.4 641.1L1543.9 670.5L1544.4 638.3L1544.9 671.3L1545.4 648.3L1545.9 642.7L1546.4 670.9L1546.9 640.9L1547.4 683.6L1547.9 650.7L1548.4 657.4L1548.9 686.4L1549.4 679.7L1549.9 659.2L1550.4 652.5L1550.9 647.0L1551.4 685.2L1551.9 681.8L1552.4 647.7L1552.9 675.5L1553.4 651.4L1553.9 686.0L1554.4 663.4L1554.9 679.4L1555.4 666.0L1555.9 679.2L1556.4 679.4L1556.9 662.5L1557.4 667.8L1557.9 689.2L1558.4 677.4L1558.9 687.8L1559.4 679.4L1559.9 690.0L1560.4 681.0L1560.9 680.9L1561.4 675.0L1561.9 679.7L1562.4 688.7L1562.9 676.5L1563.4 688.3L1563.9 677.7L1564.4 681.6L1564.9 683.2L1565.4 674.9L1565.9 684.4L1566.4 672.6L1566.9 678.8L1567.4 669.4L1567.9 677.7L1568.4 667.8L1568.9 676.5L1569.4 668.3L1569.9 677.2L1570.4 679.7L1570.9 679.1L1571.4 671.5L1571.9 677.9L1572.4 675.2L1572.9 681.4L1573.4 679.4L1573.9 688.8L1574.4 680.6L1574.9 692.2L1575.4 680.3L1575.9 693.1L1576.4 696.1L1576.9 683.8L1577.4 696.3L1577.9 686.1L1578.4 698.5L1578.9 688.7L1579.4 695.6L1579.9 686.0L1580.4 680.3L1580.9 691.5L1581.4 681.3L1581.9 676.3L1582.4 687.6L1582.9 674.7L1583.4 672.0L1583.9 670.0L1584.4 668.5L1584.9 676.7L1585.4 674.2L1585.9 671.4L1586.4 675.9L1586.9 678.4L1587.4 670.9L1587.9 667.5L1588.4 677.9L1588.9 666.7L1589.4 668.1L1589.9 667.5L1590.4 680.9L1590.9 680.6L1591.4 667.2L1591.9 679.4L1592.4 667.2L1592.9 673.2L1593.4 664.6L1593.9 671.7L1594.4 666.6L1594.9 670.8L1595.4 665.0L1595.9 669.6L1596.4 663.3L1596.9 673.9L1597.4 674.8L1597.9 663.7L1598.4 676.6L1598.9 674.6L1599.4 670.3L1599.9 670.5L1600.4 686.7L1600.9 677.6L1601.4 672.8L1601.9 681.8L1602.4 671.3L1602.9 684.0L1603.4 690.9L1603.9 690.0L1604.4 677.9L1604.9 668.8L1605.4 685.6L1605.9 677.5L1606.4 689.1L1606.9 670.8L1607.4 679.3L1607.9 684.0L1608.4 671.8L1608.9 685.4L1609.4 685.4L1609.9 679.4L1610.4 688.3L1610.9 686.5L1611.4 691.0L1611.9 669.4L1612.4 673.4L1612.9 694.9L1613.4 672.2L1613.9 680.2L1614.4 673.0L1614.9 694.4L1615.4 660.5L1615.9 681.9L1616.4 659.9L1616.9 687.5L1617.4 689.3L1617.9 666.0L1618.4 673.4L1618.9 676.8L1619.4 663.8L1619.9 657.6L1620.4 683.7L1620.9 656.9L1621.4 656.9L1621.9 669.1L1622.4 676.2L1622.9 657.0L1623.4 675.3L1623.9 660.0L1624.4 678.3L1624.9 665.3L1625.4 677.0L1625.9 674.8L1626.4 680.9L1626.9 660.5L1627.4 660.8L1627.9 666.6L1628.4 669.4L1628.9 666.7L1629.4 679.9L1629.9 662.6L1630.4 680.9L1630.9 663.1L1631.4 684.7L1631.9 658.1L1632.4 673.1L1632.9 684.3L1633.4 683.7L1633.9 672.0L1634.4 655.4L1634.9 680.7L1635.4 652.9L1635.9 683.0L1636.4 682.7L1636.9 653.1L1637.4 681.7L1637.9 656.7L1638.4 661.2L1638.9 676.8L1639.4 661.1L1639.9 676.3L1640.4 655.1L1640.9 674.1L1641.4 651.0L1641.9 652.0L1642.4 652.6L1642.9 673.6L1643.4 655.4L1643.9 671.4L1644.4 656.0L1644.9 665.9L1645.4 653.1L1645.9 671.2L1646.4 658.1L1646.9 657.8L1647.4 672.0L1647.9 670.5L1648.4 660.8L1648.9 681.7L1649.4 675.4L1649.9 666.1L1650.4 680.7L1650.9 689.8L1651.4 674.2L1651.9 681.3L1652.4 694.6L1652.9 674.3L1653.4 678.1L1653.9 702.2L1654.4 677.3L1654.9 680.2L1655.4 698.0L1655.9 684.1L1656.4 688.8L1656.9 709.3L1657.4 683.3L1657.9 702.4L1658.4 692.5L1658.9 694.2L1659.4 688.6L1659.9 714.5L1660.4 688.5L1660.9 712.7L1661.4 713.9L1661.9 692.4L1662.4 706.7L1662.9 698.1L1663.4 708.3L1663.9 695.0L1664.4 698.9L1664.9 694.3L1665.4 701.9L1665.9 692.5L1666.4 701.7L1666.9 691.1L1667.4 706.1L1667.9 689.8L1668.4 698.5L1668.9 705.2L1669.4 697.6L1669.9 708.4L1670.4 691.2L1670.9 699.8L1671.4 710.6L1671.9 707.1L1672.4 696.4L1672.9 709.2L1673.4 698.5L1673.9 708.6L1674.4 706.8L1674.9 706.5L1675.4 697.8L1675.9 700.5L1676.4 704.7L1676.9 694.1L1677.4 707.1L1677.9 695.8L1678.4 694.3L1678.9 702.7L1679.4 700.5L1679.9 703.6L1680.4 692.8L1680.9 700.4L1681.4 690.5L1681.9 691.5L1682.4 694.1L1682.9 697.5L1683.4 686.8L1683.9 686.9L1684.4 697.7L1684.9 684.3L1685.4 698.7L1685.9 679.2L1686.4 679.5L1686.9 690.4L1687.4 676.1L1687.9 679.4L1688.4 690.3L1688.9 678.5L1689.4 683.7L1689.9 671.9L1690.4 689.9L1690.9 688.6L1691.4 688.9L1691.9 683.9L1692.4 678.4L1692.9 680.1L1693.4 678.5L1693.9 688.3L1694.4 672.0L1694.9 687.1L1695.4 687.6L1695.9 676.8L1696.4 682.6L1696.9 672.8L1697.4 670.9L1697.9 686.2L1698.4 670.5L1698.9 684.6L1699.4 687.2L1699.9 674.6L1700.4 685.5L1700.9 683.7L1701.4 675.9L1701.9 685.6L1702.4 674.6L1702.9 677.2L1703.4 679.9L1703.9 685.9L1704.4 676.9L1704.9 678.9L1705.4 696.7L1705.9 680.9L1706.4 680.6L1706.9 697.6L1707.4 680.9L1707.9 700.3L1708.4 686.1L1708.9 682.5L1709.4 699.1L1709.9 679.4L1710.4 709.2L1710.9 678.9L1711.4 703.6L1711.9 694.5L1712.4 706.1L1712.9 686.8L1713.4 711.2L1713.9 685.8L1714.4 697.7L1714.9 711.3L1715.4 687.5L1715.9 684.0L1716.4 703.2L1716.9 681.6L1717.4 696.5L1717.9 689.1L1718.4 692.2L1718.9 681.3L1719.4 694.2L1719.9 686.6L1720.4 688.8L1720.9 688.6L1721.4 677.4L1721.9 685.3L1722.4 674.2L1722.9 674.0L1723.4 684.0L1723.9 671.3L1724.4 680.0L1724.9 679.2L1725.4 668.8L1725.9 668.0L1726.4 678.3M1228.1 634.5L1229.4 693.2L1230.7 634.5M1232.7 628.3L1234.0 707.1L1235.3 628.3M1242.9 640.7L1244.2 722.5L1245.5 640.7M1249.7 646.8L1251.0 739.5L1252.3 646.8M1257.4 653.0L1258.7 745.7L1260.0 653.0M1281.5 659.2L1282.8 799.8L1284.1 659.2M1288.3 662.3L1289.6 753.4L1290.9 662.3M1292.9 662.3L1294.2 789.0L1295.5 662.3M1306.2 659.2L1307.5 690.1L1308.8 659.2M1314.6 656.1L1315.9 795.1L1317.2 656.1M1326.9 659.2L1328.2 696.3L1329.5 659.2M1334.6 656.1L1335.9 683.9L1337.2 656.1M1337.7 656.1L1339.0 758.1L1340.3 656.1M1339.9 653.0L1341.2 796.7L1342.5 653.0M1363.4 659.2L1364.7 731.8L1366.0 659.2M1372.3 656.1L1373.6 741.1L1374.9 656.1M1384.1 659.2L1385.4 717.9L1386.7 659.2M1457.3 643.7L1458.6 710.2L1459.9 643.7M1486.0 671.6L1487.3 691.6L1488.6 671.6M1497.8 662.3L1499.1 696.3L1500.4 662.3M1237.3 619.0L1238.6 575.8L1239.9 619.0M1209.5 609.8L1210.8 588.1L1212.1 609.8M1320.7 646.8L1322.0 622.1L1323.3 646.8M1450.5 640.7L1451.8 566.5L1453.1 640.7M1452.7 640.7L1454.0 591.2L1455.3 640.7M1473.1 646.8L1474.4 600.5L1475.7 646.8M1373.0 665.4L1374.3 703.3L1375.6 665.4M1307.7 665.4L1309.0 718.6L1310.3 665.4M1293.1 665.4L1294.4 707.9L1295.7 665.4M1344.8 665.4L1346.1 712.1L1347.4 665.4M1296.6 665.4L1297.9 712.7L1299.2 665.4M1338.1 665.4L1339.4 719.5L1340.7 665.4M1283.0 665.4L1284.3 722.8L1285.6 665.4M1299.8 665.4L1301.1 718.3L1302.4 665.4M1338.9 665.4L1340.2 719.0L1341.5 665.4M1301.0 665.4L1302.3 703.1L1303.6 665.4M1289.8 665.4L1291.1 717.2L1292.4 665.4M1342.0 665.4L1343.3 699.5L1344.6 665.4M1302.0 665.4L1303.3 695.7L1304.6 665.4M1303.0 665.4L1304.3 710.5L1305.6 665.4M1330.8 665.4L1332.1 714.9L1333.4 665.4M1288.6 665.4L1289.9 719.1L1291.2 665.4M1394.3 665.4L1395.6 716.0L1396.9 665.4M1366.4 665.4L1367.7 719.4L1369.0 665.4M1290.7 665.4L1292.0 707.4L1293.3 665.4M1288.9 665.4L1290.2 717.3L1291.5 665.4M1342.5 665.4L1343.8 696.5L1345.1 665.4M1331.6 665.4L1332.9 717.2L1334.2 665.4M1246.0 653.0L1247.3 680.7L1248.6 653.0M1258.4 653.0L1259.7 679.1L1261.0 653.0M1255.4 653.0L1256.7 701.8L1258.0 653.0M1252.4 653.0L1253.7 701.1L1255.0 653.0M1245.3 653.0L1246.6 683.2L1247.9 653.0M1243.4 653.0L1244.7 696.0L1246.0 653.0M1498.9 665.4L1500.2 696.3L1501.5 665.4M1515.2 646.8L1516.5 666.9L1517.8 646.8M1529.8 634.5L1531.1 622.1L1532.4 634.5M1547.4 665.4L1548.7 714.8L1550.0 665.4M1547.4 653.0L1548.7 628.3L1550.0 653.0M1603.0 674.6L1604.3 628.3L1605.6 674.6M1646.5 665.4L1648.4 582.0L1649.2 521.7L1649.5 521.7L1650.2 677.7" stroke="#f00" stroke-width="2.1"/>
<path d="M1201.5 510.9C1201.9 510.9 1204.9 510.6 1205.6 510.9C1206.2 511.2 1208.6 513.4 1209.3 514.0C1210.0 514.6 1213.1 517.7 1213.9 517.7C1214.7 517.7 1217.8 514.5 1218.5 514.0C1219.2 513.5 1221.7 511.7 1222.2 511.8C1222.8 512.0 1224.8 514.5 1225.3 515.5C1225.9 516.6 1228.0 523.9 1228.7 524.2C1229.5 524.4 1233.0 518.8 1234.0 518.6C1234.9 518.4 1239.1 521.6 1240.2 521.7C1241.2 521.8 1245.2 519.9 1246.3 519.5C1247.5 519.2 1252.9 517.2 1254.1 517.1C1255.2 516.9 1259.2 517.6 1260.2 518.0C1261.3 518.4 1265.3 521.1 1266.4 521.7C1267.5 522.3 1272.5 524.9 1273.5 524.8C1274.6 524.7 1277.8 520.8 1278.8 520.2C1279.7 519.6 1283.9 517.7 1285.0 517.7C1286.0 517.7 1290.0 519.7 1291.1 520.2C1292.3 520.6 1297.6 522.9 1298.9 523.3C1300.2 523.6 1305.4 524.5 1306.6 524.8C1307.7 525.1 1311.7 526.9 1312.8 527.0C1313.8 527.0 1317.8 525.2 1318.9 525.1C1320.1 525.0 1325.5 526.0 1326.7 525.4C1327.8 524.9 1331.8 519.8 1332.9 518.6C1333.9 517.5 1338.6 512.0 1339.6 511.5C1340.7 511.1 1344.2 513.0 1345.2 513.4C1346.2 513.8 1350.2 516.2 1351.4 516.5C1352.5 516.7 1358.0 516.2 1359.1 516.1C1360.3 516.1 1364.3 515.1 1365.3 515.5C1366.3 515.9 1370.6 520.6 1371.5 521.1C1372.4 521.6 1375.3 522.0 1376.1 521.7C1376.9 521.4 1379.8 517.6 1380.7 517.7C1381.6 517.8 1386.0 522.4 1386.9 522.6C1387.8 522.8 1390.7 520.2 1391.6 520.2C1392.4 520.1 1396.1 522.0 1397.1 521.7C1398.1 521.4 1402.8 517.5 1403.9 516.5C1405.0 515.4 1408.9 509.9 1410.1 509.4C1411.3 508.8 1416.7 508.9 1417.8 509.4C1419.0 509.8 1423.0 514.3 1424.0 514.9C1425.0 515.5 1429.0 516.2 1430.2 516.1C1431.3 516.1 1436.7 515.0 1437.9 514.6C1439.1 514.2 1443.2 512.0 1444.1 511.8C1445.0 511.7 1447.8 513.1 1448.7 513.1C1449.6 513.1 1453.9 511.2 1454.9 511.8C1455.9 512.4 1460.0 519.0 1461.1 520.2C1462.1 521.3 1466.3 525.1 1467.3 525.4C1468.2 525.8 1471.1 524.7 1471.9 524.2C1472.7 523.6 1475.6 519.3 1476.5 518.6C1477.4 517.9 1481.8 516.0 1482.7 515.5C1483.6 515.0 1486.4 512.5 1487.3 512.4C1488.2 512.4 1492.3 514.6 1493.5 514.9C1494.7 515.2 1500.3 515.8 1501.6 515.8C1502.9 515.9 1508.1 515.9 1509.4 515.5C1510.6 515.2 1515.9 511.4 1517.1 511.5C1518.2 511.6 1522.1 515.9 1523.3 517.1C1524.4 518.2 1529.9 524.7 1531.0 525.4C1532.0 526.1 1534.8 526.0 1535.6 525.7C1536.4 525.4 1539.5 522.3 1540.2 522.0C1541.0 521.8 1544.1 522.8 1544.9 522.6C1545.7 522.4 1548.6 520.0 1549.5 519.5C1550.4 519.1 1554.8 517.5 1555.7 517.1C1556.6 516.7 1559.6 514.7 1560.3 514.6C1561.1 514.6 1564.2 516.0 1565.0 516.5C1565.7 516.9 1568.7 519.2 1569.6 519.5C1570.5 519.9 1574.7 520.8 1575.8 520.8C1576.8 520.8 1580.9 519.9 1582.0 519.5C1583.0 519.2 1587.0 517.5 1588.1 517.1C1589.3 516.7 1594.7 515.0 1595.9 514.6C1597.0 514.2 1601.0 512.4 1602.0 512.4C1603.1 512.4 1607.2 514.1 1608.2 514.6C1609.2 515.1 1613.4 518.0 1614.4 518.6C1615.4 519.2 1618.7 521.7 1619.6 521.7C1620.6 521.7 1624.2 519.2 1625.2 518.6C1626.2 518.0 1630.3 515.2 1631.4 514.6C1632.5 514.0 1637.2 511.6 1638.2 511.5C1639.2 511.4 1642.8 513.0 1643.7 513.4C1644.7 513.8 1648.3 516.4 1649.3 516.5C1650.3 516.6 1655.0 514.6 1656.1 514.6C1657.2 514.7 1661.3 516.8 1662.3 517.1C1663.3 517.3 1667.4 517.7 1668.5 517.7C1669.5 517.6 1673.6 516.8 1674.6 516.5C1675.7 516.1 1679.7 513.7 1680.8 513.4C1682.0 513.1 1687.5 512.9 1688.5 512.7C1689.6 512.6 1692.4 511.9 1693.2 511.5C1694.0 511.2 1696.9 508.6 1697.8 508.4C1698.7 508.2 1703.1 509.4 1704.0 509.4C1704.9 509.4 1707.9 508.3 1708.6 508.4C1709.4 508.5 1712.5 509.8 1713.3 510.3C1714.0 510.7 1717.1 513.6 1717.9 514.0C1718.7 514.4 1722.1 514.8 1722.5 514.9" stroke="#000" stroke-width="2.1"/>
</g>
<line x1="1725.62" y1="478.00" x2="1725.62" y2="822.00" stroke="#1f77b4" stroke-width="2.1" stroke-dasharray="2.1 3.4"/>
<path d="M1205.00 787.60L1210.40 787.60M1205.00 718.80L1210.40 718.80M1205.00 650.00L1210.40 650.00M1205.00 581.20L1210.40 581.20M1205.00 512.40L1210.40 512.40" stroke="#000" stroke-width="1.1" fill="none"/>
<path d="M1800.00 822.00L1794.60 822.00M1800.00 796.11L1796.50 796.11M1800.00 780.97L1796.50 780.97M1800.00 770.22L1796.50 770.22M1800.00 761.89L1796.50 761.89M1800.00 755.08L1796.50 755.08M1800.00 749.32L1796.50 749.32M1800.00 744.33L1796.50 744.33M1800.00 739.94L1796.50 739.94M1800.00 736.00L1794.60 736.00M1800.00 710.11L1796.50 710.11M1800.00 694.97L1796.50 694.97M1800.00 684.22L1796.50 684.22M1800.00 675.89L1796.50 675.89M1800.00 669.08L1796.50 669.08M1800.00 663.32L1796.50 663.32M1800.00 658.33L1796.50 658.33M1800.00 653.94L1796.50 653.94M1800.00 650.00L1794.60 650.00M1800.00 624.11L1796.50 624.11M1800.00 608.97L1796.50 608.97M1800.00 598.22L1796.50 598.22M1800.00 589.89L1796.50 589.89M1800.00 583.08L1796.50 583.08M1800.00 577.32L1796.50 577.32M1800.00 572.33L1796.50 572.33M1800.00 567.94L1796.50 567.94M1800.00 564.00L1794.60 564.00M1800.00 538.11L1796.50 538.11M1800.00 522.97L1796.50 522.97M1800.00 512.22L1796.50 512.22M1800.00 503.89L1796.50 503.89M1800.00 497.08L1796.50 497.08M1800.00 491.32L1796.50 491.32M1800.00 486.33L1796.50 486.33M1800.00 481.94L1796.50 481.94M1800.00 478.00L1794.60 478.00" stroke="#f00" stroke-width="1.1" fill="none"/>
<path d="M1245.29 822.00L1245.29 817.10M1319.66 822.00L1319.66 817.10M1394.04 822.00L1394.04 817.10M1468.41 822.00L1468.41 817.10M1542.79 822.00L1542.79 817.10M1617.16 822.00L1617.16 817.10M1691.54 822.00L1691.54 817.10M1765.91 822.00L1765.91 817.10" stroke="#000" stroke-width="1.1" fill="none"/>
<path d="M1205.0 822.0L1205.0 478.0L1800.0 478.0" stroke="#000" stroke-width="2.1" fill="none" stroke-linecap="square"/>
<path d="M1205.0 822.0L1800.0 822.0" stroke="#000" stroke-width="2.1" fill="none" stroke-linecap="square"/>
<path d="M1800.0 478.0L1800.0 822.0" stroke="#f00" stroke-width="2.1" fill="none" stroke-linecap="square"/>
<g font-size="20.56" lengthAdjust="spacingAndGlyphs"><text x="1147.12" y="795.40" textLength="16.25" lengthAdjust="spacingAndGlyphs">−</text><text x="1163.37" y="795.40" textLength="12.34" lengthAdjust="spacingAndGlyphs">4</text><text x="1175.71" y="795.40" textLength="12.34" lengthAdjust="spacingAndGlyphs">0</text><text x="1188.06" y="795.40" textLength="12.34" lengthAdjust="spacingAndGlyphs">0</text></g>
<g font-size="20.56" lengthAdjust="spacingAndGlyphs"><text x="1147.12" y="726.60" textLength="16.25" lengthAdjust="spacingAndGlyphs">−</text><text x="1163.37" y="726.60" textLength="12.34" lengthAdjust="spacingAndGlyphs">3</text><text x="1175.71" y="726.60" textLength="12.34" lengthAdjust="spacingAndGlyphs">0</text><text x="1188.06" y="726.60" textLength="12.34" lengthAdjust="spacingAndGlyphs">0</text></g>
<g font-size="20.56" lengthAdjust="spacingAndGlyphs"><text x="1147.12" y="657.80" textLength="16.25" lengthAdjust="spacingAndGlyphs">−</text><text x="1163.37" y="657.80" textLength="12.34" lengthAdjust="spacingAndGlyphs">2</text><text x="1175.71" y="657.80" textLength="12.34" lengthAdjust="spacingAndGlyphs">0</text><text x="1188.06" y="657.80" textLength="12.34" lengthAdjust="spacingAndGlyphs">0</text></g>
<g font-size="20.56" lengthAdjust="spacingAndGlyphs"><text x="1147.12" y="589.00" textLength="16.25" lengthAdjust="spacingAndGlyphs">−</text><text x="1163.37" y="589.00" textLength="12.34" lengthAdjust="spacingAndGlyphs">1</text><text x="1175.71" y="589.00" textLength="12.34" lengthAdjust="spacingAndGlyphs">0</text><text x="1188.06" y="589.00" textLength="12.34" lengthAdjust="spacingAndGlyphs">0</text></g>
<g font-size="20.56" lengthAdjust="spacingAndGlyphs"><text x="1188.06" y="520.20" textLength="12.34" lengthAdjust="spacingAndGlyphs">0</text></g>
<g lengthAdjust="spacingAndGlyphs" fill="#f00">
<g font-size="20.56"><text x="1805.20" y="829.80" textLength="12.34" lengthAdjust="spacingAndGlyphs">1</text><text x="1817.54" y="829.80" textLength="12.34" lengthAdjust="spacingAndGlyphs">0</text></g>
<g font-size="14.39"><text x="1830.39" y="822.82" textLength="11.38" lengthAdjust="spacingAndGlyphs">−</text><text x="1841.76" y="822.82" textLength="8.64" lengthAdjust="spacingAndGlyphs">2</text></g>
</g>
<g lengthAdjust="spacingAndGlyphs" fill="#f00">
<g font-size="20.56"><text x="1805.20" y="743.80" textLength="12.34" lengthAdjust="spacingAndGlyphs">1</text><text x="1817.54" y="743.80" textLength="12.34" lengthAdjust="spacingAndGlyphs">0</text></g>
<g font-size="14.39"><text x="1830.39" y="736.82" textLength="11.38" lengthAdjust="spacingAndGlyphs">−</text><text x="1841.76" y="736.82" textLength="8.64" lengthAdjust="spacingAndGlyphs">1</text></g>
</g>
<g lengthAdjust="spacingAndGlyphs" fill="#f00">
<g font-size="20.56"><text x="1805.20" y="657.80" textLength="12.34" lengthAdjust="spacingAndGlyphs">1</text><text x="1817.54" y="657.80" textLength="12.34" lengthAdjust="spacingAndGlyphs">0</text></g>
<g font-size="14.39"><text x="1830.39" y="650.82" textLength="8.64" lengthAdjust="spacingAndGlyphs">0</text></g>
</g>
<g lengthAdjust="spacingAndGlyphs" fill="#f00">
<g font-size="20.56"><text x="1805.20" y="571.80" textLength="12.34" lengthAdjust="spacingAndGlyphs">1</text><text x="1817.54" y="571.80" textLength="12.34" lengthAdjust="spacingAndGlyphs">0</text></g>
<g font-size="14.39"><text x="1830.39" y="564.82" textLength="8.64" lengthAdjust="spacingAndGlyphs">1</text></g>
</g>
<g lengthAdjust="spacingAndGlyphs" fill="#f00">
<g font-size="20.56"><text x="1805.20" y="485.80" textLength="12.34" lengthAdjust="spacingAndGlyphs">1</text><text x="1817.54" y="485.80" textLength="12.34" lengthAdjust="spacingAndGlyphs">0</text></g>
<g font-size="14.39"><text x="1830.39" y="478.82" textLength="8.64" lengthAdjust="spacingAndGlyphs">2</text></g>
</g>
<g font-size="25.55" lengthAdjust="spacingAndGlyphs" transform="rotate(-90 1104.90 652.00)"><text x="1084.63" y="652.00" textLength="18.55" lengthAdjust="spacingAndGlyphs">D</text><text x="1103.17" y="652.00" textLength="12.55" lengthAdjust="spacingAndGlyphs">s</text><text x="1115.72" y="652.00" textLength="9.45" lengthAdjust="spacingAndGlyphs">t</text></g>
<g font-size="25.55" lengthAdjust="spacingAndGlyphs" transform="rotate(-90 1133.30 650.40)"><text x="1101.25" y="650.40" textLength="9.41" lengthAdjust="spacingAndGlyphs">(</text><text x="1118.31" y="650.40" textLength="15.27" lengthAdjust="spacingAndGlyphs">n</text><text x="1133.57" y="650.40" textLength="14.72" lengthAdjust="spacingAndGlyphs">T</text><text x="1155.95" y="650.40" textLength="9.41" lengthAdjust="spacingAndGlyphs">)</text></g>
<g font-size="25.55" lengthAdjust="spacingAndGlyphs" fill="#f00" transform="rotate(-90 1875.30 650.50)"><text x="1800.47" y="650.50" textLength="15.30" lengthAdjust="spacingAndGlyphs">S</text><text x="1815.77" y="650.50" textLength="23.83" lengthAdjust="spacingAndGlyphs">W</text><text x="1847.25" y="650.50" textLength="14.53" lengthAdjust="spacingAndGlyphs">P</text><text x="1861.78" y="650.50" textLength="9.48" lengthAdjust="spacingAndGlyphs">r</text><text x="1871.27" y="650.50" textLength="14.30" lengthAdjust="spacingAndGlyphs">e</text><text x="1885.57" y="650.50" textLength="12.55" lengthAdjust="spacingAndGlyphs">s</text><text x="1898.11" y="650.50" textLength="12.55" lengthAdjust="spacingAndGlyphs">s</text><text x="1910.66" y="650.50" textLength="15.27" lengthAdjust="spacingAndGlyphs">u</text><text x="1925.92" y="650.50" textLength="9.91" lengthAdjust="spacingAndGlyphs">r</text><text x="1935.83" y="650.50" textLength="14.30" lengthAdjust="spacingAndGlyphs">e</text></g>
<g font-size="25.55" lengthAdjust="spacingAndGlyphs" fill="#f00" transform="rotate(-90 1904.70 649.00)"><text x="1865.90" y="649.00" textLength="9.41" lengthAdjust="spacingAndGlyphs">(</text><text x="1882.96" y="649.00" textLength="15.27" lengthAdjust="spacingAndGlyphs">n</text><text x="1898.22" y="649.00" textLength="14.53" lengthAdjust="spacingAndGlyphs">P</text><text x="1912.75" y="649.00" textLength="13.69" lengthAdjust="spacingAndGlyphs">a</text><text x="1934.10" y="649.00" textLength="9.41" lengthAdjust="spacingAndGlyphs">)</text></g>
<line x1="1205.00" y1="931.00" x2="1800.00" y2="931.00" stroke="#000" stroke-width="2.1" stroke-dasharray="2.1 3.4"/>
<path d="M1205.5 995.4L1205.8 1005.3L1206.2 997.9L1206.5 994.3L1206.8 1000.2L1207.1 1003.5L1207.5 1003.6L1207.8 999.1L1208.1 1009.0L1208.5 1007.2L1208.8 997.9L1209.1 1005.2L1209.5 997.4L1209.8 1003.5L1210.1 1009.1L1210.4 1009.7L1210.8 1008.1L1211.1 1009.9L1211.4 998.3L1211.8 992.7L1212.1 1003.0L1212.4 1001.2L1212.8 1002.3L1213.1 1005.1L1213.4 1009.5L1213.7 1009.8L1214.1 1010.7L1214.4 999.3L1214.7 1010.3L1215.1 1004.9L1215.4 999.9L1215.7 1004.9L1216.1 997.9L1216.4 1010.7L1216.7 997.4L1217.0 999.1L1217.4 1007.6L1217.7 997.6L1218.0 997.6L1218.4 1001.6L1218.7 1010.5L1219.0 1010.8L1219.4 998.1L1219.7 997.4L1220.0 994.3L1220.3 999.2L1220.7 994.6L1221.0 1010.2L1221.3 1002.2L1221.7 1004.2L1222.0 1005.2L1222.3 1005.6L1222.7 1004.0L1223.0 1006.9L1223.3 993.4L1223.6 1004.2L1224.0 997.2L1224.3 1005.0L1224.6 992.0L1225.0 997.8L1225.3 1003.4L1225.6 1001.9L1226.0 1007.2L1226.3 986.1L1226.6 1010.3L1226.9 1003.3L1227.3 1001.4L1227.6 1001.3L1227.9 1005.2L1228.3 1002.2L1228.6 997.4L1228.9 1007.1L1229.3 1000.1L1229.6 1000.3L1229.9 994.5L1230.2 998.4L1230.6 1001.6L1230.9 1003.1L1231.2 999.3L1231.6 1006.0L1231.9 1003.2L1232.2 992.0L1232.6 999.6L1232.9 1008.6L1233.2 993.2L1233.5 1005.9L1233.9 1001.8L1234.2 993.3L1234.5 1000.7L1234.9 1002.8L1235.2 1002.7L1235.5 999.2L1235.9 995.4L1236.2 1010.6L1236.5 1010.1L1236.8 1000.1L1237.2 1008.5L1237.5 1004.2L1237.8 1001.7L1238.2 991.5L1238.5 1001.0L1238.8 997.6L1239.2 1006.6L1239.5 1009.4L1239.8 1005.0L1240.1 993.3L1240.5 993.4L1240.8 1004.2L1241.1 1010.0L1241.5 1001.7L1241.8 1008.9L1242.1 1007.8L1242.5 999.7L1242.8 1008.3L1243.1 997.3L1243.4 1008.1L1243.8 997.1L1244.1 1008.9L1244.4 988.3L1244.8 1004.3L1245.1 1003.5L1245.4 997.0L1245.8 986.8L1246.1 991.5L1246.4 1008.8L1246.7 995.0L1247.1 1001.3L1247.4 1005.9L1247.7 1002.0L1248.1 993.6L1248.4 995.4L1248.7 1002.2L1249.1 992.4L1249.4 1005.3L1249.7 1002.2L1250.0 1005.6L1250.4 1002.1L1250.7 1006.7L1251.0 1006.6L1251.4 1000.4L1251.7 1006.6L1252.0 994.4L1252.4 1009.1L1252.7 1002.2L1253.0 1007.9L1253.3 1003.4L1253.7 997.5L1254.0 1009.2L1254.3 1006.2L1254.7 1004.8L1255.0 995.7L1255.3 987.0L1255.7 997.6L1256.0 991.8L1256.3 999.5L1256.6 994.3L1257.0 997.8L1257.3 1008.5L1257.6 1005.0L1258.0 997.5L1258.3 1004.1L1258.6 998.5L1259.0 1009.9L1259.3 988.9L1259.6 1008.4L1259.9 992.4L1260.3 995.9L1260.6 1002.4L1260.9 1002.5L1261.3 1002.8L1261.6 995.0L1261.9 1002.7L1262.3 999.2L1262.6 1007.4L1262.9 1004.1L1263.2 1005.9L1263.6 999.1L1263.9 997.0L1264.2 1004.1L1264.6 1006.9L1264.9 993.1L1265.2 995.7L1265.6 1000.2L1265.9 1010.2L1266.2 1006.7L1266.5 1008.8L1266.9 1000.7L1267.2 991.2L1267.5 1002.3L1267.9 993.9L1268.2 1007.7L1268.5 998.9L1268.9 1005.3L1269.2 1008.5L1269.5 1004.7L1269.8 1006.9L1270.2 1002.5L1270.5 1010.3L1270.8 1000.2L1271.2 996.7L1271.5 1010.2L1271.8 1000.3L1272.2 993.1L1272.5 996.6L1272.8 1009.4L1273.1 1008.9L1273.5 1002.8L1273.8 998.2L1274.1 997.7L1274.5 1001.9L1274.8 1006.3L1275.1 989.0L1275.5 1003.7L1275.8 995.7L1276.1 1002.4L1276.4 998.6L1276.8 1006.2L1277.1 998.1L1277.4 998.3L1277.8 1002.2L1278.1 1007.5L1278.4 1006.3L1278.8 1008.1L1279.1 1007.4L1279.4 1006.3L1279.7 998.6L1280.1 1001.9L1280.4 1006.4L1280.7 999.5L1281.1 1005.7L1281.4 998.1L1281.7 998.7L1282.1 999.0L1282.4 1006.9L1282.7 1004.7L1283.0 1003.3L1283.4 999.4L1283.7 993.0L1284.0 1004.5L1284.4 1002.0L1284.7 1002.3L1285.0 997.6L1285.4 1000.4L1285.7 1001.9L1286.0 1002.6L1286.3 1007.6L1286.7 1008.7L1287.0 993.2L1287.3 991.9L1287.7 1007.0L1288.0 992.5L1288.3 1007.3L1288.7 1007.3L1289.0 999.0L1289.3 999.7L1289.6 1004.8L1290.0 993.0L1290.3 997.4L1290.6 1009.3L1291.0 1002.3L1291.3 1005.0L1291.6 1010.5L1292.0 1001.1L1292.3 1003.7L1292.6 1007.0L1292.9 993.6L1293.3 1003.8L1293.6 1003.4L1293.9 995.2L1294.3 990.8L1294.6 1003.1L1294.9 1010.2L1295.3 998.9L1295.6 1005.6L1295.9 989.3L1296.2 991.6L1296.6 1009.8L1296.9 1009.0L1297.2 998.9L1297.6 1005.3L1297.9 1006.9L1298.2 1001.7L1298.6 1009.9L1298.9 1003.0L1299.2 1003.7L1299.5 991.3L1299.9 992.6L1300.2 995.0L1300.5 1004.4L1300.9 1006.0L1301.2 1003.4L1301.5 1002.5L1301.9 998.2L1302.2 1002.1L1302.5 1004.3L1302.8 1000.1L1303.2 987.7L1303.5 999.0L1303.8 999.7L1304.2 992.4L1304.5 999.3L1304.8 986.7L1305.2 994.9L1305.5 985.7L1305.8 1002.6L1306.1 997.7L1306.5 1002.5L1306.8 995.6L1307.1 991.8L1307.5 999.3L1307.8 1001.8L1308.1 991.4L1308.5 1000.8L1308.8 1003.4L1309.1 1001.1L1309.4 993.1L1309.8 1005.7L1310.1 998.3L1310.4 1010.4L1310.8 997.1L1311.1 986.5L1311.4 991.3L1311.8 992.4L1312.1 999.8L1312.4 1003.6L1312.7 1009.7L1313.1 997.5L1313.4 1005.4L1313.7 998.2L1314.1 1008.7L1314.4 994.1L1314.7 1006.4L1315.1 999.4L1315.4 1007.1L1315.7 1004.6L1316.0 1002.0L1316.4 1000.2L1316.7 1003.6L1317.0 999.3L1317.4 1005.4L1317.7 1002.3L1318.0 999.1L1318.4 997.3L1318.7 1007.5L1319.0 998.3L1319.3 997.7L1319.7 1009.1L1320.0 1003.2L1320.3 1007.1L1320.7 1002.1L1321.0 994.2L1321.3 998.4L1321.7 998.5L1322.0 996.2L1322.3 991.4L1322.6 996.2L1323.0 997.2L1323.3 998.7L1323.6 995.5L1324.0 1007.8L1324.3 1007.9L1324.6 999.6L1325.0 991.6L1325.3 998.6L1325.6 995.6L1325.9 998.1L1326.3 994.7L1326.6 997.6L1326.9 1005.9L1327.3 1009.0L1327.6 1005.3L1327.9 998.5L1328.3 1005.2L1328.6 999.8L1328.9 1003.4L1329.2 998.1L1329.6 1003.7L1329.9 995.4L1330.2 1002.8L1330.6 1005.4L1330.9 993.8L1331.2 1001.6L1331.6 998.2L1331.9 992.3L1332.2 1007.0L1332.5 1010.6L1332.9 1009.9L1333.2 1002.8L1333.5 1009.5L1333.9 1003.7L1334.2 1002.6L1334.5 1009.7L1334.9 1009.9L1335.2 991.8L1335.5 1001.1L1335.8 1005.8L1336.2 993.3L1336.5 1003.0L1336.8 1007.2L1337.2 1001.0L1337.5 993.4L1337.8 998.1L1338.2 997.1L1338.5 1010.5L1338.8 1009.1L1339.1 999.2L1339.5 1003.4L1339.8 1004.5L1340.1 1008.8L1340.5 1003.4L1340.8 1008.1L1341.1 1000.3L1341.5 997.1L1341.8 995.2L1342.1 999.3L1342.4 987.6L1342.8 1003.4L1343.1 1007.8L1343.4 997.5L1343.8 991.1L1344.1 1001.7L1344.4 991.2L1344.8 993.5L1345.1 997.4L1345.4 1000.6L1345.7 990.0L1346.1 1006.3L1346.4 1008.2L1346.7 992.1L1347.1 1007.9L1347.4 1008.5L1347.7 1000.9L1348.1 991.1L1348.4 1009.4L1348.7 1003.5L1349.0 1009.8L1349.4 1005.3L1349.7 1004.2L1350.0 992.5L1350.4 1010.7L1350.7 1002.6L1351.0 1003.3L1351.4 1003.2L1351.7 999.1L1352.0 1004.2L1352.3 1008.7L1352.7 1009.9L1353.0 997.4L1353.3 1004.6L1353.7 1000.9L1354.0 1009.6L1354.3 996.3L1354.7 1004.1L1355.0 1010.3L1355.3 999.7L1355.6 999.5L1356.0 1008.4L1356.3 1000.7L1356.6 1010.0L1357.0 1002.4L1357.3 998.8L1357.6 1010.5L1358.0 992.8L1358.3 991.6L1358.6 1007.3L1358.9 1005.7L1359.3 997.1L1359.6 1010.3L1359.9 988.3L1360.3 1000.7L1360.6 997.7L1360.9 998.7L1361.3 998.2L1361.6 998.9L1361.9 1005.9L1362.2 991.4L1362.6 999.4L1362.9 997.6L1363.2 997.7L1363.6 1004.4L1363.9 998.5L1364.2 1010.6L1364.6 998.8L1364.9 992.0L1365.2 1009.6L1365.5 992.5L1365.9 1010.8L1366.2 1000.4L1366.5 1010.1L1366.9 1006.7L1367.2 997.3L1367.5 1007.3L1367.9 1004.9L1368.2 1004.4L1368.5 1004.4L1368.8 999.8L1369.2 1009.9L1369.5 999.5L1369.8 1008.6L1370.2 993.1L1370.5 991.4L1370.8 1002.6L1371.2 998.6L1371.5 994.6L1371.8 1010.7L1372.1 1004.2L1372.5 998.3L1372.8 1003.1L1373.1 995.8L1373.5 1004.0L1373.8 1001.4L1374.1 1005.3L1374.5 1009.9L1374.8 1008.5L1375.1 1010.5L1375.4 998.7L1375.8 1007.1L1376.1 1005.9L1376.4 1010.3L1376.8 1003.6L1377.1 1009.1L1377.4 1004.3L1377.8 1005.5L1378.1 990.0L1378.4 1007.7L1378.7 994.5L1379.1 1010.5L1379.4 1000.0L1379.7 1009.2L1380.1 1009.0L1380.4 1002.0L1380.7 1004.0L1381.1 1002.1L1381.4 1009.1L1381.7 999.0L1382.0 994.0L1382.4 998.9L1382.7 993.6L1383.0 997.4L1383.4 1009.7L1383.7 1007.2L1384.0 1008.6L1384.4 1003.1L1384.7 998.7L1385.0 1002.2L1385.3 1009.3L1385.7 999.6L1386.0 1005.3L1386.3 991.2L1386.7 997.1L1387.0 999.5L1387.3 1002.4L1387.7 1003.0L1388.0 1006.1L1388.3 998.3L1388.6 1006.5L1389.0 994.5L1389.3 1010.7L1389.6 985.6L1390.0 1002.8L1390.3 1008.4L1390.6 1002.8L1391.0 1009.2L1391.3 994.1L1391.6 996.1L1391.9 995.3L1392.3 1004.9L1392.6 992.9L1392.9 1008.8L1393.3 1000.9L1393.6 1006.1L1393.9 999.8L1394.3 1009.4L1394.6 995.3L1394.9 1001.9L1395.2 1009.6L1395.6 1007.2L1395.9 991.5L1396.2 1001.3L1396.6 998.0L1396.9 997.6L1397.2 998.7L1397.6 1002.5L1397.9 992.5L1398.2 990.7L1398.5 1008.7L1398.9 997.8L1399.2 1002.4L1399.5 993.0L1399.9 1006.6L1400.2 998.5L1400.5 994.5L1400.9 1000.4L1401.2 1000.0L1401.5 1005.4L1401.8 997.0L1402.2 1004.4L1402.5 1005.7L1402.8 997.8L1403.2 1008.9L1403.5 1005.0L1403.8 1009.4L1404.2 1000.1L1404.5 1010.6L1404.8 1010.7L1405.1 999.5L1405.5 1001.7L1405.8 1005.1L1406.1 995.2L1406.5 1003.6L1406.8 1008.9L1407.1 1003.8L1407.5 1008.4L1407.8 991.7L1408.1 1004.6L1408.4 1009.3L1408.8 1004.5L1409.1 1008.5L1409.4 1001.0L1409.8 992.6L1410.1 1001.8L1410.4 1004.8L1410.8 996.6L1411.1 1002.3L1411.4 995.4L1411.7 1007.0L1412.1 994.2L1412.4 994.3L1412.7 998.5L1413.1 990.6L1413.4 995.0L1413.7 991.8L1414.1 1009.7L1414.4 1004.1L1414.7 997.9L1415.0 1001.3L1415.4 998.6L1415.7 1003.6L1416.0 1000.6L1416.4 999.6L1416.7 1004.0L1417.0 992.8L1417.4 1007.9L1417.7 1009.5L1418.0 996.6L1418.3 1000.1L1418.7 1010.4L1419.0 1007.5L1419.3 996.3L1419.7 1004.0L1420.0 1009.0L1420.3 1004.0L1420.7 1002.9L1421.0 1000.6L1421.3 1005.1L1421.6 997.6L1422.0 996.1L1422.3 997.1L1422.6 1010.2L1423.0 1007.0L1423.3 997.6L1423.6 1007.3L1424.0 999.8L1424.3 998.8L1424.6 1003.7L1424.9 999.1L1425.3 1006.2L1425.6 999.2L1425.9 996.0L1426.3 998.9L1426.6 986.4L1426.9 1002.4L1427.3 1010.7L1427.6 1000.6L1427.9 997.0L1428.2 1006.6L1428.6 991.3L1428.9 1001.5L1429.2 998.4L1429.6 1002.4L1429.9 1003.1L1430.2 1001.5L1430.6 994.6L1430.9 1001.8L1431.2 994.3L1431.5 993.5L1431.9 1004.5L1432.2 1001.0L1432.5 985.8L1432.9 999.7L1433.2 1000.7L1433.5 1005.3L1433.9 1007.2L1434.2 1002.9L1434.5 997.9L1434.8 1003.9L1435.2 998.4L1435.5 1005.6L1435.8 998.7L1436.2 999.3L1436.5 1010.8L1436.8 995.0L1437.2 1000.4L1437.5 1002.7L1437.8 990.5L1438.1 992.9L1438.5 1009.5L1438.8 992.6L1439.1 1003.5L1439.5 1001.2L1439.8 996.0L1440.1 998.7L1440.5 995.6L1440.8 991.7L1441.1 1004.3L1441.4 1004.0L1441.8 998.1L1442.1 1004.1L1442.4 997.1L1442.8 992.6L1443.1 1002.8L1443.4 1004.7L1443.8 1003.4L1444.1 997.4L1444.4 1007.2L1444.7 1003.5L1445.1 1001.9L1445.4 1007.3L1445.7 1003.6L1446.1 993.7L1446.4 988.0L1446.7 1005.4L1447.1 992.5L1447.4 992.4L1447.7 1000.5L1448.0 1004.8L1448.4 1002.9L1448.7 993.2L1449.0 1002.0L1449.4 1000.8L1449.7 992.8L1450.0 995.8L1450.4 1007.0L1450.7 997.1L1451.0 1002.2L1451.3 1003.0L1451.7 994.2L1452.0 1006.9L1452.3 999.7L1452.7 1008.0L1453.0 1010.5L1453.3 997.2L1453.7 998.7L1454.0 1010.1L1454.3 1008.8L1454.6 1003.0L1455.0 992.7L1455.3 1002.8L1455.6 1003.1L1456.0 1000.5L1456.3 995.5L1456.6 1002.3L1457.0 1000.9L1457.3 998.1L1457.6 992.8L1457.9 1000.2L1458.3 1001.6L1458.6 1000.0L1458.9 1004.7L1459.3 1004.0L1459.6 1008.6L1459.9 1007.4L1460.3 998.0L1460.6 999.8L1460.9 998.7L1461.2 1009.6L1461.6 998.6L1461.9 997.8L1462.2 1000.7L1462.6 1010.1L1462.9 998.4L1463.2 1006.2L1463.6 998.2L1463.9 1001.8L1464.2 1005.2L1464.5 998.7L1464.9 997.3L1465.2 1001.7L1465.5 993.6L1465.9 993.5L1466.2 1002.6L1466.5 1001.0L1466.9 1007.7L1467.2 1007.6L1467.5 998.7L1467.8 997.8L1468.2 1002.3L1468.5 1008.7L1468.8 1002.0L1469.2 997.1L1469.5 1003.6L1469.8 1003.2L1470.2 1006.9L1470.5 998.9L1470.8 997.9L1471.1 997.4L1471.5 998.1L1471.8 1008.6L1472.1 1009.1L1472.5 997.7L1472.8 998.5L1473.1 1003.2L1473.5 1008.0L1473.8 1006.3L1474.1 1004.6L1474.4 998.1L1474.8 991.7L1475.1 1000.9L1475.4 997.4L1475.8 996.7L1476.1 990.9L1476.4 1000.0L1476.8 1007.3L1477.1 1007.6L1477.4 997.2L1477.7 995.3L1478.1 1000.0L1478.4 998.8L1478.7 1003.1L1479.1 1006.2L1479.4 996.8L1479.7 1008.9L1480.1 1000.2L1480.4 998.2L1480.7 1002.4L1481.0 1006.6L1481.4 1001.6L1481.7 1007.7L1482.0 998.0L1482.4 1007.1L1482.7 1002.6L1483.0 1002.9L1483.4 991.8L1483.7 1005.3L1484.0 1010.1L1484.3 1003.3L1484.7 1005.3L1485.0 1003.8L1485.3 1003.8L1485.7 999.6L1486.0 1001.1L1486.3 998.0L1486.7 1003.1L1487.0 999.8L1487.3 998.8L1487.6 1005.0L1488.0 987.4L1488.3 998.7L1488.6 1004.8L1489.0 1006.1L1489.3 1006.3L1489.6 990.1L1490.0 997.6L1490.3 1001.4L1490.6 1005.6L1490.9 1003.9L1491.3 1004.2L1491.6 997.9L1491.9 1002.0L1492.3 1001.8L1492.6 985.9L1492.9 991.8L1493.3 1005.0L1493.6 996.7L1493.9 997.9L1494.2 1000.2L1494.6 999.0L1494.9 1000.4L1495.2 1008.3L1495.6 999.1L1495.9 1006.7L1496.2 995.2L1496.6 1009.9L1496.9 1005.5L1497.2 1000.7L1497.5 998.7L1497.9 997.4L1498.2 997.0L1498.5 1009.1L1498.9 1006.5L1499.2 997.6L1499.5 1002.1L1499.9 1006.3L1500.2 1007.2L1500.5 1006.6L1500.8 1004.0L1501.2 1008.2L1501.5 1001.9L1501.8 1000.2L1502.2 997.0L1502.5 1003.7L1502.8 995.6L1503.2 1010.3L1503.5 1005.1L1503.8 1009.2L1504.1 997.6L1504.5 1010.7L1504.8 1002.4L1505.1 996.2L1505.5 997.1L1505.8 1008.4L1506.1 1001.2L1506.5 1006.1L1506.8 1004.7L1507.1 1005.9L1507.4 1000.9L1507.8 1009.2L1508.1 1000.8L1508.4 996.8L1508.8 1006.0L1509.1 996.8L1509.4 1002.2L1509.8 1003.2L1510.1 1007.4L1510.4 998.5L1510.7 1010.0L1511.1 1005.0L1511.4 997.4L1511.7 1005.6L1512.1 1001.3L1512.4 998.7L1512.7 1000.6L1513.1 1008.1L1513.4 1007.4L1513.7 1004.2L1514.0 997.9L1514.4 1007.5L1514.7 997.6L1515.0 991.4L1515.4 997.8L1515.7 1009.2L1516.0 1001.3L1516.4 1001.9L1516.7 1002.5L1517.0 998.8L1517.3 993.0L1517.7 998.6L1518.0 1008.9L1518.3 1001.8L1518.7 1008.4L1519.0 1005.7L1519.3 1002.6M1521.6 1010.4L1522.0 987.6L1522.3 997.3L1522.6 992.4L1523.0 999.3L1523.3 1003.3L1523.6 1008.3L1523.9 997.3L1524.3 1000.1L1524.6 992.9L1524.9 1001.2L1525.3 999.7L1525.6 998.2L1525.9 1009.2L1526.3 999.1L1526.6 996.2L1526.9 1009.2L1527.2 994.6L1527.6 1008.3L1527.9 998.0L1528.2 996.0L1528.6 986.7L1528.9 1009.1L1529.2 1008.6L1529.6 1009.1L1529.9 1004.7L1530.2 997.3L1530.5 993.0L1530.9 998.7L1531.2 1005.0L1531.5 1009.3L1531.9 998.1L1532.2 1000.7L1532.5 997.4L1532.9 1008.0L1533.2 1005.3L1533.5 992.9L1533.8 1007.3L1534.2 998.4L1534.5 995.7L1534.8 997.6L1535.2 1010.2L1535.5 1006.6L1535.8 1008.5L1536.2 998.1L1536.5 997.9L1536.8 1001.4L1537.1 988.2L1537.5 988.5L1537.8 1010.6L1538.1 1008.8L1538.5 1006.9L1538.8 1000.5L1539.1 995.4L1539.5 996.9L1539.8 1005.0L1540.1 1005.7L1540.4 993.1L1540.8 999.9L1541.1 1010.3L1541.4 1010.3L1541.8 1010.0L1542.1 1007.4L1542.4 999.7L1542.8 1005.0L1543.1 1006.1L1543.4 1008.0L1543.7 999.0L1544.1 1005.7L1544.4 997.0L1544.7 998.8L1545.1 1006.7L1545.4 1002.5L1545.7 1004.8L1546.1 1004.4L1546.4 1001.2L1546.7 1005.3L1547.0 1009.1L1547.4 998.7L1547.7 1000.6L1548.0 998.3L1548.4 997.7L1548.7 1009.0L1549.0 991.9L1549.4 1003.8L1549.7 1001.1L1550.0 1005.1L1550.3 1007.9L1550.7 995.7L1551.0 991.3L1551.3 1004.2L1551.7 1002.2L1552.0 1007.8L1552.3 991.0L1552.7 1002.7L1553.0 992.4L1553.3 999.4L1553.6 1006.3L1554.0 1006.0L1554.3 1007.9L1554.6 1005.6L1555.0 1005.8L1555.3 1005.1L1555.6 1007.4L1556.0 996.7L1556.3 997.5L1556.6 1010.6L1556.9 997.5L1557.3 998.0L1557.6 997.1L1557.9 1001.2L1558.3 1009.4L1558.6 994.2L1558.9 997.1L1559.3 991.6L1559.6 997.9L1559.9 993.6L1560.2 1004.6L1560.6 1010.1L1560.9 1003.6L1561.2 1000.4L1561.6 997.7L1561.9 1009.3L1562.2 1002.1L1562.6 998.4L1562.9 1003.1L1563.2 999.4L1563.5 998.0L1563.9 995.4L1564.2 1004.2L1564.5 1002.5L1564.9 997.6L1565.2 1004.8L1565.5 1009.6L1565.9 992.4L1566.2 1008.5L1566.5 998.5L1566.8 999.2L1567.2 1010.6L1567.5 1007.4L1567.8 997.8L1568.2 997.1L1568.5 1009.8L1568.8 990.3L1569.2 1001.6L1569.5 1007.7L1569.8 1010.8L1570.1 1008.8L1570.5 999.7L1570.8 1005.0L1571.1 1004.8L1571.5 999.7L1571.8 1002.1L1572.1 998.8L1572.5 1006.3L1572.8 999.1L1573.1 1008.5L1573.4 1009.6L1573.8 1009.4L1574.1 994.5L1574.4 992.2L1574.8 1002.0L1575.1 1000.0L1575.4 1001.4L1575.8 998.1L1576.1 1008.8L1576.4 1000.5L1576.7 998.5L1577.1 991.1L1577.4 1008.9L1577.7 1000.9L1578.1 998.1L1578.4 992.5L1578.7 995.2L1579.1 995.8L1579.4 1003.3L1579.7 1005.6L1580.0 997.8L1580.4 994.0L1580.7 1000.8L1581.0 1000.5L1581.4 1001.9L1581.7 991.6L1582.0 992.7L1582.4 1002.7L1582.7 1010.2L1583.0 1007.6L1583.3 993.6L1583.7 1000.6L1584.0 999.9L1584.3 997.0L1584.7 1003.1L1585.0 1005.5L1585.3 997.3L1585.7 1003.4L1586.0 1010.2L1586.3 1001.8L1586.6 990.1L1587.0 1002.2L1587.3 995.6L1587.6 1007.5L1588.0 1001.0L1588.3 1003.2L1588.6 993.2L1589.0 990.0L1589.3 1010.0L1589.6 999.1L1589.9 992.6L1590.3 1005.8L1590.6 990.6L1590.9 1006.1L1591.3 1002.5L1591.6 1000.8L1591.9 1005.8L1592.3 990.9L1592.6 999.5L1592.9 997.6L1593.2 999.7L1593.6 1004.2L1593.9 1001.8L1594.2 1000.0L1594.6 1005.3L1594.9 995.7L1595.2 1010.5L1595.6 998.8L1595.9 1001.8L1596.2 998.0L1596.5 1007.9L1596.9 1010.5L1597.2 1006.3L1597.5 1008.9L1597.9 1001.2L1598.2 995.4L1598.5 1001.9L1598.9 1008.7L1599.2 1004.4L1599.5 999.7L1599.8 998.8L1600.2 1005.6L1600.5 999.6L1600.8 1003.4L1601.2 998.4L1601.5 1002.9L1601.8 1007.2L1602.2 1003.1L1602.5 1003.4L1602.8 988.2L1603.1 998.7L1603.5 997.8L1603.8 1004.3L1604.1 1006.9L1604.5 1007.6L1604.8 994.4L1605.1 1005.6L1605.5 1007.3L1605.8 1005.3L1606.1 1008.5L1606.4 999.8L1606.8 1010.0L1607.1 992.5L1607.4 1010.3L1607.8 997.2L1608.1 1000.6L1608.4 1001.1L1608.8 1004.0L1609.1 998.7L1609.4 1006.7L1609.7 997.6L1610.1 993.1L1610.4 1007.3L1610.7 1007.3L1611.1 994.1L1611.4 1008.8L1611.7 1008.3L1612.1 1007.5L1612.4 1002.9L1612.7 988.8L1613.0 988.4L1613.4 1000.8L1613.7 991.8L1614.0 1004.1L1614.4 1010.0L1614.7 993.0L1615.0 998.4L1615.4 1006.1L1615.7 997.0L1616.0 1001.6L1616.3 1002.6L1616.7 1001.2L1617.0 1000.4L1617.3 1003.3L1617.7 993.8L1618.0 1002.1L1618.3 1008.6L1618.7 1008.1L1619.0 1009.0L1619.3 1004.3L1619.6 986.4L1620.0 1009.0L1620.3 1004.0L1620.6 998.6L1621.0 1010.8L1621.3 995.9L1621.6 1006.0L1622.0 1000.3L1622.3 1009.8L1622.6 1002.5L1622.9 1008.2L1623.3 1007.4L1623.6 999.8L1623.9 993.1L1624.3 997.6L1624.6 988.8L1624.9 996.9L1625.3 995.7L1625.6 1001.8L1625.9 1003.0L1626.2 1006.2L1626.6 999.6L1626.9 1007.4L1627.2 1003.8L1627.6 1001.1L1627.9 995.4L1628.2 998.4L1628.6 1002.2L1628.9 1007.6L1629.2 999.9L1629.5 1010.5L1629.9 1005.1L1630.2 1007.8L1630.5 1008.5L1630.9 1008.4L1631.2 1004.9L1631.5 987.5L1631.9 1002.9L1632.2 1005.9L1632.5 999.1L1632.8 1006.8L1633.2 1009.4L1633.5 1003.9L1633.8 998.2L1634.2 992.5L1634.5 1001.5L1634.8 1008.4L1635.2 997.6L1635.5 1008.0L1635.8 1008.9L1636.1 1005.5L1636.5 1004.5L1636.8 993.3L1637.1 1001.6L1637.5 1009.0L1637.8 1007.9L1638.1 1004.0L1638.5 992.6L1638.8 995.3L1639.1 998.0L1639.4 998.4L1639.8 997.4L1640.1 999.0L1640.4 1002.0L1640.8 1003.1L1641.1 1008.6L1641.4 1004.1L1641.8 1010.7L1642.1 997.7L1642.4 1010.1L1642.7 1002.1L1643.1 993.2L1643.4 999.5L1643.7 1000.7L1644.1 1006.6L1644.4 995.1L1644.7 1000.7L1645.1 1005.7L1645.4 1000.9L1645.7 995.1L1646.0 1003.7L1646.4 999.8L1646.7 1003.5L1647.0 994.6L1647.4 1002.2L1647.7 1010.6L1648.0 1000.0L1648.4 1010.1L1648.7 991.7L1649.0 995.6L1649.3 1003.0L1649.7 998.1L1650.0 1006.5L1650.3 1004.8L1650.7 999.5L1651.0 999.1L1651.3 997.7L1651.7 994.9L1652.0 1008.2L1652.3 1003.2L1652.6 1007.9L1653.0 1004.1L1653.3 1008.6L1653.6 997.0L1654.0 1009.2L1654.3 996.0L1654.6 993.2L1655.0 998.4L1655.3 1005.1L1655.6 1007.4L1655.9 1000.9L1656.3 1007.4L1656.6 1005.2L1656.9 1007.2L1657.3 1000.7L1657.6 1006.8L1657.9 1009.4L1658.3 1004.6L1658.6 1005.3L1658.9 996.3L1659.2 995.3L1659.6 1006.6L1659.9 1010.6L1660.2 998.3L1660.6 1004.0L1660.9 994.5L1661.2 993.2L1661.6 1000.2L1661.9 1001.0L1662.2 1002.0L1662.5 1009.9L1662.9 1002.2L1663.2 1007.1L1663.5 1002.5L1663.9 997.1L1664.2 1001.8L1664.5 997.9L1664.9 1009.4L1665.2 998.6L1665.5 1007.8L1665.8 995.9L1666.2 992.7L1666.5 988.5L1666.8 1005.1L1667.2 1010.4L1667.5 997.8L1667.8 1006.0L1668.2 999.4L1668.5 1002.1L1668.8 1006.3L1669.1 1000.6L1669.5 995.0L1669.8 1006.2L1670.1 1009.4L1670.5 1003.1L1670.8 1006.2L1671.1 999.3L1671.5 1006.9L1671.8 1001.2L1672.1 998.0L1672.4 1003.2L1672.8 1008.9L1673.1 995.6L1673.4 998.7L1673.8 1000.1L1674.1 999.0L1674.4 1007.4L1674.8 1008.1L1675.1 1007.7L1675.4 1001.5L1675.7 1006.7L1676.1 1004.7L1676.4 1008.0L1676.7 1002.8L1677.1 1003.4L1677.4 998.5L1677.7 991.3L1678.1 1008.7L1678.4 1005.8L1678.7 1008.3L1679.0 1000.1L1679.4 1000.2L1679.7 998.1L1680.0 1007.0L1680.4 999.1L1680.7 999.7L1681.0 1005.5L1681.4 1004.3L1681.7 1000.6L1682.0 995.5L1682.3 991.6L1682.7 1004.4L1683.0 1009.7L1683.3 1000.6L1683.7 1006.1L1684.0 1000.1L1684.3 995.1L1684.7 993.9L1685.0 999.1L1685.3 1005.2L1685.6 994.4L1686.0 1003.3L1686.3 1000.2L1686.6 1006.2L1687.0 997.2L1687.3 997.0L1687.6 999.4L1688.0 993.4L1688.3 993.3L1688.6 998.9L1688.9 1010.1L1689.3 1010.2L1689.6 996.3L1689.9 998.5L1690.3 1007.0L1690.6 998.8L1690.9 997.5L1691.3 1003.0L1691.6 985.8L1691.9 1006.6L1692.2 1006.4L1692.6 997.1L1692.9 1010.5L1693.2 1009.2L1693.6 1005.4L1693.9 997.3L1694.2 1002.6L1694.6 987.4L1694.9 1009.7L1695.2 1008.9L1695.5 993.0L1695.9 993.3L1696.2 1002.1L1696.5 1006.4L1696.9 1009.1L1697.2 1008.5L1697.5 1002.4L1697.9 1010.6L1698.2 1004.8L1698.5 998.0L1698.8 1005.4L1699.2 999.3L1699.5 1006.8L1699.8 1000.7L1700.2 1003.8L1700.5 986.2L1700.8 1006.8L1701.2 997.2L1701.5 992.6L1701.8 1000.1L1702.1 1001.0L1702.5 991.2L1702.8 1004.1L1703.1 1006.2L1703.5 997.7L1703.8 1000.4L1704.1 992.4L1704.5 1006.0L1704.8 1000.5L1705.1 991.7L1705.4 998.7L1705.8 997.0L1706.1 998.9L1706.4 1006.9L1706.8 1001.4L1707.1 1003.1L1707.4 1010.6L1707.8 999.4L1708.1 992.7L1708.4 998.1L1708.7 1003.6L1709.1 1003.9L1709.4 1007.0L1709.7 1009.0L1710.1 1009.0L1710.4 999.4L1710.7 1008.6L1711.1 1004.9L1711.4 997.6L1711.7 1002.0L1712.0 998.2L1712.4 990.0L1712.7 998.6L1713.0 1007.6L1713.4 1009.7L1713.7 998.0L1714.0 1003.2L1714.4 993.7L1714.7 1007.8L1715.0 1000.7L1715.3 1003.2L1715.7 991.1L1716.0 1000.1L1716.3 1007.9L1716.7 1002.7L1717.0 993.5L1717.3 998.4L1717.7 1009.5L1718.0 1004.5L1718.3 1004.2L1718.6 999.2L1719.0 994.9L1719.3 999.5L1719.6 999.7L1720.0 1002.2L1720.3 1004.4L1720.6 995.6L1721.0 997.6L1721.3 988.3L1721.6 1010.5L1721.9 1008.9L1722.3 1000.8L1722.6 1008.7L1722.9 1004.0L1723.3 999.0L1723.6 1004.2L1723.9 1006.6L1724.3 1003.5L1724.6 998.4L1724.9 1010.2L1725.2 1002.7L1725.6 1003.3" stroke="#000" stroke-width="2.1" fill="none" stroke-linejoin="round" clip-path="url(#cpC)"/>
<line x1="1725.62" y1="845.00" x2="1725.62" y2="1017.00" stroke="#1f77b4" stroke-width="2.1" stroke-dasharray="2.1 3.4"/>
<path d="M1205.00 1017.00L1210.40 1017.00M1205.00 1004.06L1208.50 1004.06M1205.00 996.48L1208.50 996.48M1205.00 991.11L1208.50 991.11M1205.00 986.94L1208.50 986.94M1205.00 983.54L1208.50 983.54M1205.00 980.66L1208.50 980.66M1205.00 978.17L1208.50 978.17M1205.00 975.97L1208.50 975.97M1205.00 974.00L1210.40 974.00M1205.00 961.06L1208.50 961.06M1205.00 953.48L1208.50 953.48M1205.00 948.11L1208.50 948.11M1205.00 943.94L1208.50 943.94M1205.00 940.54L1208.50 940.54M1205.00 937.66L1208.50 937.66M1205.00 935.17L1208.50 935.17M1205.00 932.97L1208.50 932.97M1205.00 931.00L1210.40 931.00M1205.00 918.06L1208.50 918.06M1205.00 910.48L1208.50 910.48M1205.00 905.11L1208.50 905.11M1205.00 900.94L1208.50 900.94M1205.00 897.54L1208.50 897.54M1205.00 894.66L1208.50 894.66M1205.00 892.17L1208.50 892.17M1205.00 889.97L1208.50 889.97M1205.00 888.00L1210.40 888.00M1205.00 875.06L1208.50 875.06M1205.00 867.48L1208.50 867.48M1205.00 862.11L1208.50 862.11M1205.00 857.94L1208.50 857.94M1205.00 854.54L1208.50 854.54M1205.00 851.66L1208.50 851.66M1205.00 849.17L1208.50 849.17M1205.00 846.97L1208.50 846.97M1205.00 845.00L1210.40 845.00" stroke="#000" stroke-width="1.1" fill="none"/>
<path d="M1800.00 1017.00L1794.60 1017.00M1800.00 1004.06L1796.50 1004.06M1800.00 996.48L1796.50 996.48M1800.00 991.11L1796.50 991.11M1800.00 986.94L1796.50 986.94M1800.00 983.54L1796.50 983.54M1800.00 980.66L1796.50 980.66M1800.00 978.17L1796.50 978.17M1800.00 975.97L1796.50 975.97M1800.00 974.00L1794.60 974.00M1800.00 961.06L1796.50 961.06M1800.00 953.48L1796.50 953.48M1800.00 948.11L1796.50 948.11M1800.00 943.94L1796.50 943.94M1800.00 940.54L1796.50 940.54M1800.00 937.66L1796.50 937.66M1800.00 935.17L1796.50 935.17M1800.00 932.97L1796.50 932.97M1800.00 931.00L1794.60 931.00M1800.00 918.06L1796.50 918.06M1800.00 910.48L1796.50 910.48M1800.00 905.11L1796.50 905.11M1800.00 900.94L1796.50 900.94M1800.00 897.54L1796.50 897.54M1800.00 894.66L1796.50 894.66M1800.00 892.17L1796.50 892.17M1800.00 889.97L1796.50 889.97M1800.00 888.00L1794.60 888.00M1800.00 875.06L1796.50 875.06M1800.00 867.48L1796.50 867.48M1800.00 862.11L1796.50 862.11M1800.00 857.94L1796.50 857.94M1800.00 854.54L1796.50 854.54M1800.00 851.66L1796.50 851.66M1800.00 849.17L1796.50 849.17M1800.00 846.97L1796.50 846.97M1800.00 845.00L1794.60 845.00" stroke="#000" stroke-width="1.1" fill="none"/>
<path d="M1245.29 1017.00L1245.29 1012.10M1319.66 1017.00L1319.66 1012.10M1394.04 1017.00L1394.04 1012.10M1468.41 1017.00L1468.41 1012.10M1542.79 1017.00L1542.79 1012.10M1617.16 1017.00L1617.16 1012.10M1691.54 1017.00L1691.54 1012.10M1765.91 1017.00L1765.91 1012.10" stroke="#000" stroke-width="1.1" fill="none"/>
<path d="M1205.0 1017.0L1205.0 845.0L1800.0 845.0" stroke="#000" stroke-width="2.1" fill="none" stroke-linecap="square"/>
<path d="M1205.0 1017.0L1800.0 1017.0" stroke="#000" stroke-width="2.1" fill="none" stroke-linecap="square"/>
<path d="M1800.0 845.0L1800.0 1017.0" stroke="#000" stroke-width="2.1" fill="none" stroke-linecap="square"/>
<g lengthAdjust="spacingAndGlyphs">
<g font-size="20.56"><text x="1154.80" y="1024.80" textLength="12.34" lengthAdjust="spacingAndGlyphs">1</text><text x="1167.14" y="1024.80" textLength="12.34" lengthAdjust="spacingAndGlyphs">0</text></g>
<g font-size="14.39"><text x="1179.98" y="1017.82" textLength="11.38" lengthAdjust="spacingAndGlyphs">−</text><text x="1191.36" y="1017.82" textLength="8.64" lengthAdjust="spacingAndGlyphs">1</text></g>
</g>
<g lengthAdjust="spacingAndGlyphs">
<g font-size="20.56"><text x="1166.17" y="981.80" textLength="12.34" lengthAdjust="spacingAndGlyphs">1</text><text x="1178.52" y="981.80" textLength="12.34" lengthAdjust="spacingAndGlyphs">0</text></g>
<g font-size="14.39"><text x="1191.36" y="974.82" textLength="8.64" lengthAdjust="spacingAndGlyphs">0</text></g>
</g>
<g lengthAdjust="spacingAndGlyphs">
<g font-size="20.56"><text x="1166.17" y="938.80" textLength="12.34" lengthAdjust="spacingAndGlyphs">1</text><text x="1178.52" y="938.80" textLength="12.34" lengthAdjust="spacingAndGlyphs">0</text></g>
<g font-size="14.39"><text x="1191.36" y="931.82" textLength="8.64" lengthAdjust="spacingAndGlyphs">1</text></g>
</g>
<g lengthAdjust="spacingAndGlyphs">
<g font-size="20.56"><text x="1166.17" y="895.80" textLength="12.34" lengthAdjust="spacingAndGlyphs">1</text><text x="1178.52" y="895.80" textLength="12.34" lengthAdjust="spacingAndGlyphs">0</text></g>
<g font-size="14.39"><text x="1191.36" y="888.82" textLength="8.64" lengthAdjust="spacingAndGlyphs">2</text></g>
</g>
<g lengthAdjust="spacingAndGlyphs">
<g font-size="20.56"><text x="1166.17" y="852.80" textLength="12.34" lengthAdjust="spacingAndGlyphs">1</text><text x="1178.52" y="852.80" textLength="12.34" lengthAdjust="spacingAndGlyphs">0</text></g>
<g font-size="14.39"><text x="1191.36" y="845.82" textLength="8.64" lengthAdjust="spacingAndGlyphs">3</text></g>
</g>
<g font-size="20.56" lengthAdjust="spacingAndGlyphs"><text x="1232.94" y="1037.00" textLength="12.34" lengthAdjust="spacingAndGlyphs">2</text><text x="1245.29" y="1037.00" textLength="12.34" lengthAdjust="spacingAndGlyphs">8</text></g>
<g font-size="20.56" lengthAdjust="spacingAndGlyphs"><text x="1307.32" y="1037.00" textLength="12.34" lengthAdjust="spacingAndGlyphs">2</text><text x="1319.66" y="1037.00" textLength="12.34" lengthAdjust="spacingAndGlyphs">9</text></g>
<g font-size="20.56" lengthAdjust="spacingAndGlyphs"><text x="1381.69" y="1037.00" textLength="12.34" lengthAdjust="spacingAndGlyphs">3</text><text x="1394.04" y="1037.00" textLength="12.34" lengthAdjust="spacingAndGlyphs">0</text></g>
<g font-size="20.56" lengthAdjust="spacingAndGlyphs"><text x="1456.07" y="1037.00" textLength="12.34" lengthAdjust="spacingAndGlyphs">3</text><text x="1468.41" y="1037.00" textLength="12.34" lengthAdjust="spacingAndGlyphs">1</text></g>
<g font-size="20.56" lengthAdjust="spacingAndGlyphs"><text x="1530.44" y="1037.00" textLength="12.34" lengthAdjust="spacingAndGlyphs">0</text><text x="1542.79" y="1037.00" textLength="12.34" lengthAdjust="spacingAndGlyphs">1</text></g>
<g font-size="20.56" lengthAdjust="spacingAndGlyphs"><text x="1604.82" y="1037.00" textLength="12.34" lengthAdjust="spacingAndGlyphs">0</text><text x="1617.16" y="1037.00" textLength="12.34" lengthAdjust="spacingAndGlyphs">2</text></g>
<g font-size="20.56" lengthAdjust="spacingAndGlyphs"><text x="1679.19" y="1037.00" textLength="12.34" lengthAdjust="spacingAndGlyphs">0</text><text x="1691.54" y="1037.00" textLength="12.34" lengthAdjust="spacingAndGlyphs">3</text></g>
<g font-size="20.56" lengthAdjust="spacingAndGlyphs"><text x="1753.57" y="1037.00" textLength="12.34" lengthAdjust="spacingAndGlyphs">0</text><text x="1765.91" y="1037.00" textLength="12.34" lengthAdjust="spacingAndGlyphs">4</text></g>
<g font-size="25.55" lengthAdjust="spacingAndGlyphs"><text x="1284.25" y="1066.00" textLength="18.55" lengthAdjust="spacingAndGlyphs">D</text><text x="1302.80" y="1066.00" textLength="14.83" lengthAdjust="spacingAndGlyphs">e</text><text x="1317.62" y="1066.00" textLength="13.25" lengthAdjust="spacingAndGlyphs">c</text><text x="1330.88" y="1066.00" textLength="14.83" lengthAdjust="spacingAndGlyphs">e</text><text x="1345.70" y="1066.00" textLength="23.47" lengthAdjust="spacingAndGlyphs">m</text><text x="1369.17" y="1066.00" textLength="15.30" lengthAdjust="spacingAndGlyphs">b</text><text x="1384.47" y="1066.00" textLength="14.83" lengthAdjust="spacingAndGlyphs">e</text><text x="1399.30" y="1066.00" textLength="9.91" lengthAdjust="spacingAndGlyphs">r</text><text x="1416.86" y="1066.00" textLength="15.33" lengthAdjust="spacingAndGlyphs">2</text><text x="1432.19" y="1066.00" textLength="15.33" lengthAdjust="spacingAndGlyphs">0</text><text x="1447.52" y="1066.00" textLength="15.33" lengthAdjust="spacingAndGlyphs">1</text><text x="1462.84" y="1066.00" textLength="15.33" lengthAdjust="spacingAndGlyphs">8</text><text x="1485.83" y="1066.00" textLength="8.12" lengthAdjust="spacingAndGlyphs">/</text><text x="1499.92" y="1066.00" textLength="8.68" lengthAdjust="spacingAndGlyphs">J</text><text x="1508.72" y="1066.00" textLength="14.77" lengthAdjust="spacingAndGlyphs">a</text><text x="1523.48" y="1066.00" textLength="15.27" lengthAdjust="spacingAndGlyphs">n</text><text x="1538.75" y="1066.00" textLength="15.27" lengthAdjust="spacingAndGlyphs">u</text><text x="1554.02" y="1066.00" textLength="14.77" lengthAdjust="spacingAndGlyphs">a</text><text x="1568.78" y="1066.00" textLength="9.91" lengthAdjust="spacingAndGlyphs">r</text><text x="1578.69" y="1066.00" textLength="14.27" lengthAdjust="spacingAndGlyphs">y</text><text x="1600.61" y="1066.00" textLength="15.33" lengthAdjust="spacingAndGlyphs">2</text><text x="1615.94" y="1066.00" textLength="15.33" lengthAdjust="spacingAndGlyphs">0</text><text x="1631.27" y="1066.00" textLength="15.33" lengthAdjust="spacingAndGlyphs">1</text><text x="1646.59" y="1066.00" textLength="15.33" lengthAdjust="spacingAndGlyphs">9</text><text x="1669.58" y="1066.00" textLength="9.41" lengthAdjust="spacingAndGlyphs">(</text><text x="1678.98" y="1066.00" textLength="17.64" lengthAdjust="spacingAndGlyphs">U</text><text x="1696.62" y="1066.00" textLength="14.72" lengthAdjust="spacingAndGlyphs">T</text><text x="1711.34" y="1066.00" textLength="9.41" lengthAdjust="spacingAndGlyphs">)</text></g>
<g font-size="25.55" lengthAdjust="spacingAndGlyphs" transform="rotate(-90 1106.00 931.50)"><text x="979.17" y="931.50" textLength="20.19" lengthAdjust="spacingAndGlyphs">&gt;</text><text x="999.36" y="931.50" textLength="15.33" lengthAdjust="spacingAndGlyphs">1</text><text x="1014.69" y="931.50" textLength="15.33" lengthAdjust="spacingAndGlyphs">0</text><text x="1037.67" y="931.50" textLength="20.78" lengthAdjust="spacingAndGlyphs">M</text><text x="1058.45" y="931.50" textLength="14.83" lengthAdjust="spacingAndGlyphs">e</text><text x="1073.28" y="931.50" textLength="16.48" lengthAdjust="spacingAndGlyphs">V</text><text x="1097.42" y="931.50" textLength="14.53" lengthAdjust="spacingAndGlyphs">P</text><text x="1111.95" y="931.50" textLength="9.48" lengthAdjust="spacingAndGlyphs">r</text><text x="1121.44" y="931.50" textLength="14.20" lengthAdjust="spacingAndGlyphs">o</text><text x="1135.64" y="931.50" textLength="9.45" lengthAdjust="spacingAndGlyphs">t</text><text x="1145.09" y="931.50" textLength="14.73" lengthAdjust="spacingAndGlyphs">o</text><text x="1159.83" y="931.50" textLength="15.27" lengthAdjust="spacingAndGlyphs">n</text><text x="1182.75" y="931.50" textLength="13.86" lengthAdjust="spacingAndGlyphs">F</text><text x="1196.61" y="931.50" textLength="6.69" lengthAdjust="spacingAndGlyphs">l</text><text x="1203.30" y="931.50" textLength="15.27" lengthAdjust="spacingAndGlyphs">u</text><text x="1218.56" y="931.50" textLength="14.27" lengthAdjust="spacingAndGlyphs">x</text></g>
<g lengthAdjust="spacingAndGlyphs" transform="rotate(-90 1139.00 931.50)">
<g font-size="25.55"><text x="1049.45" y="931.50" textLength="9.41" lengthAdjust="spacingAndGlyphs">(</text><text x="1066.52" y="931.50" textLength="13.25" lengthAdjust="spacingAndGlyphs">c</text><text x="1079.77" y="931.50" textLength="23.47" lengthAdjust="spacingAndGlyphs">m</text></g>
<g font-size="17.88"><text x="1103.73" y="922.82" textLength="10.72" lengthAdjust="spacingAndGlyphs">2</text></g>
<g font-size="25.55"><text x="1119.45" y="931.50" textLength="12.55" lengthAdjust="spacingAndGlyphs">s</text></g>
<g font-size="17.88"><text x="1132.50" y="922.82" textLength="14.12" lengthAdjust="spacingAndGlyphs">−</text><text x="1146.62" y="922.82" textLength="10.72" lengthAdjust="spacingAndGlyphs">1</text></g>
<g font-size="25.55"><text x="1162.34" y="931.50" textLength="12.55" lengthAdjust="spacingAndGlyphs">s</text><text x="1174.89" y="931.50" textLength="9.91" lengthAdjust="spacingAndGlyphs">r</text></g>
<g font-size="17.88"><text x="1185.30" y="922.82" textLength="14.12" lengthAdjust="spacingAndGlyphs">−</text><text x="1199.42" y="922.82" textLength="10.72" lengthAdjust="spacingAndGlyphs">1</text></g>
<g font-size="25.55"><text x="1219.14" y="931.50" textLength="9.41" lengthAdjust="spacingAndGlyphs">)</text></g>
</g>
</g>
</svg>
</body></html>
